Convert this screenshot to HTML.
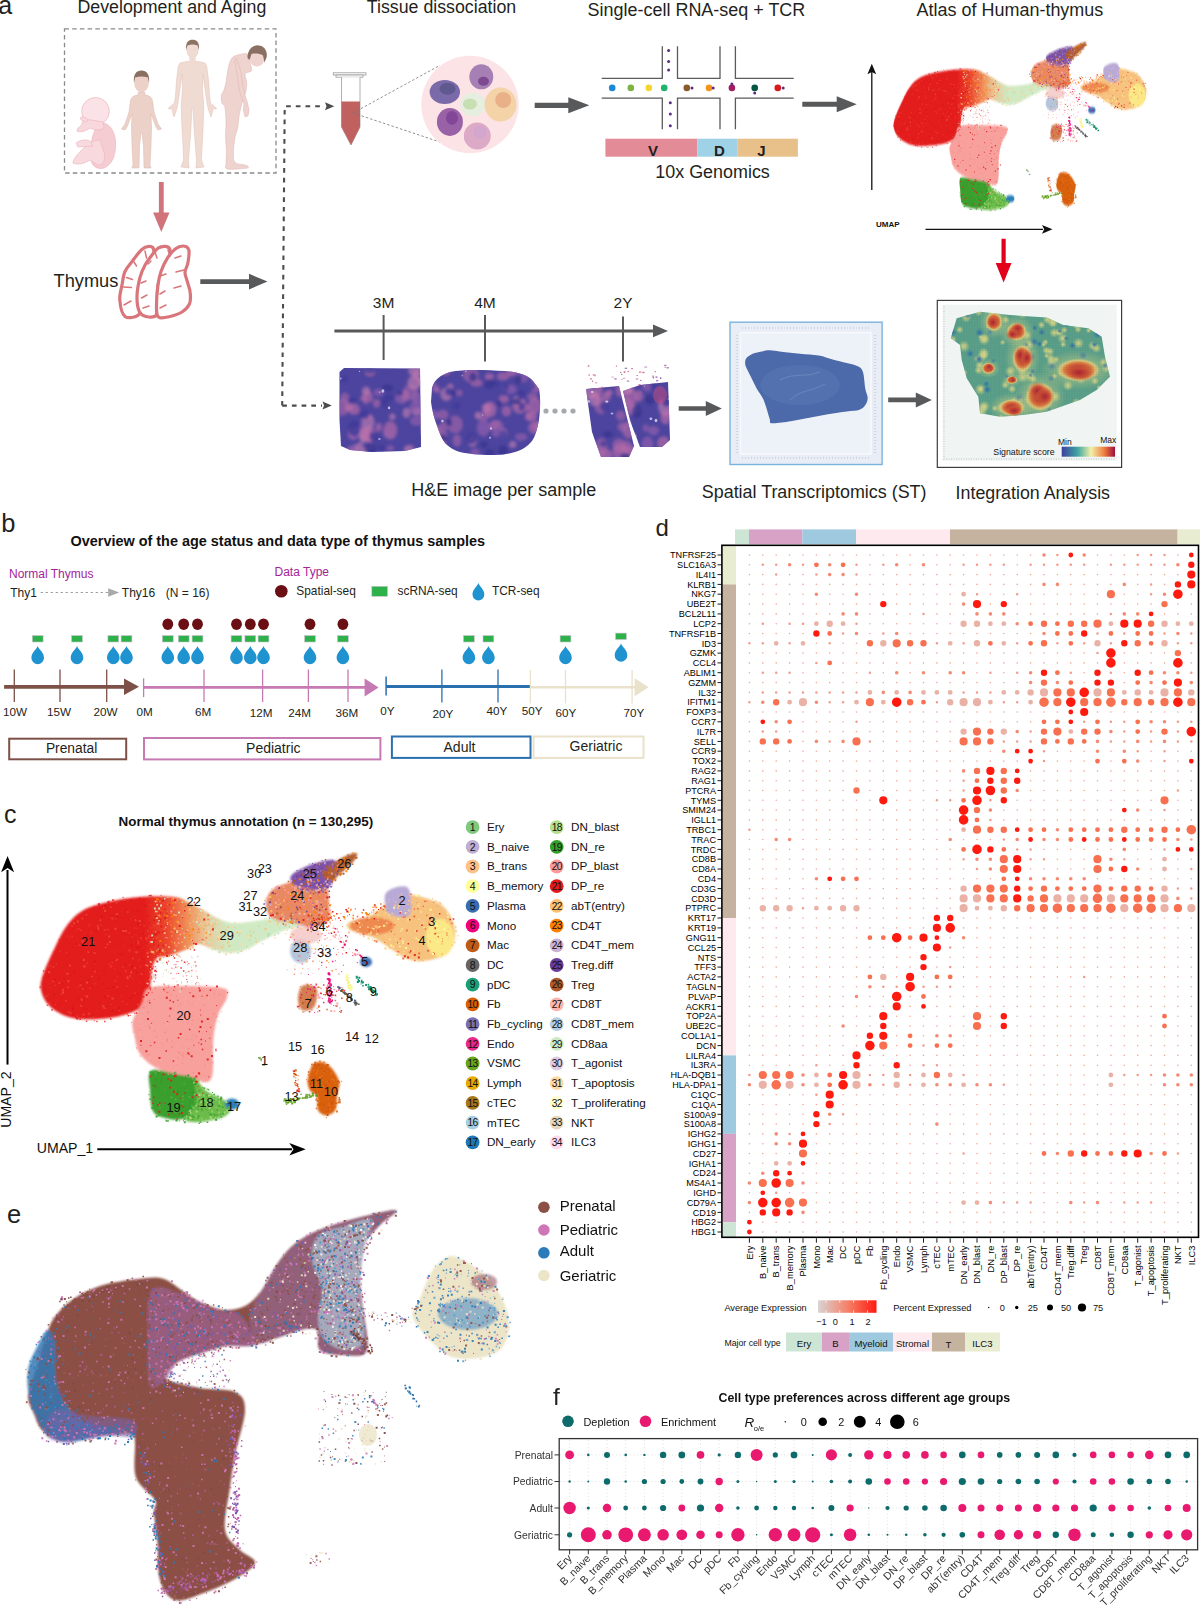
<!DOCTYPE html><html><head><meta charset="utf-8"><title>Thymus figure</title><style>html,body{margin:0;padding:0;background:#fff;overflow:hidden;}svg{display:block;font-family:"Liberation Sans", sans-serif;}</style></head><body>
<svg width="1200" height="1623" viewBox="0 0 1200 1623">
<rect width="1200" height="1623" fill="#fff"/>
<text x="-1.8" y="13.8" font-size="25" text-anchor="start" fill="#231f20" >a</text>
<text x="77.5" y="13.0" font-size="17.5" fill="#231f20" textLength="188.8" lengthAdjust="spacingAndGlyphs" >Development and Aging</text>
<text x="366.8" y="12.8" font-size="17.5" fill="#231f20" textLength="149.4" lengthAdjust="spacingAndGlyphs" >Tissue dissociation</text>
<text x="587.6" y="16.0" font-size="17.5" fill="#231f20" textLength="217.7" lengthAdjust="spacingAndGlyphs" >Single-cell RNA-seq + TCR</text>
<text x="916.6" y="16.3" font-size="17.5" fill="#231f20" textLength="186.7" lengthAdjust="spacingAndGlyphs" >Atlas of Human-thymus</text>
<rect x="64.5" y="28.8" width="211.5" height="144.2" fill="none" stroke="#8a8a8a" stroke-width="1.3" stroke-dasharray="4.5,3.2"/>
<g stroke="#ecb7bf" stroke-width="0.7">
<path d="M99,123 C108,121 115,130 115.5,142 C116,154 113,164 104,168 C97,170 92,166 91,160 C89,150 92,132 99,123 Z" fill="#f5ccd2"/>
<path d="M100,140 C92,140 85,146 80,152 C76,156 73,160 73,163 C77,165 84,164 90,160 L98,165 C103,166 106,160 104,152 Z" fill="#f8dade"/>
<path d="M76,143 C80,140 86,139 90,141 L93,146 C88,146 83,147 78,147 Z" fill="#f8dade"/>
<circle cx="95.5" cy="111.3" r="13.8" fill="#fae2e6"/>
<path d="M84,119 C82,123 81,127 78,128 L77,131 C80,133 86,131 90,128 C94,130 100,131 104,128 L103,122 Z" fill="#f8d8dd"/>
<path d="M80,118 C82,116 86,117 88,120 L86,122 C84,121 81,121 80,118 Z" fill="#f8dade"/>
</g>
<path d="M138.5,92 L144.5,92 L145,95 C149,95.5 152,97 152.5,101 L154,112 L158,124 L161.5,129 L158,130 L156,127 L151,114 L151.5,128 L151,146 L150,165 L151,168 L144,168 L143.5,146 L142,133 L141,133 L139.5,146 L139,168 L132,168 L133,165 L132,146 L131.5,128 L132,114 L127,127 L125,130 L121.5,129 L125,124 L129,112 L130.5,101 C131,97 134,95.5 138,95 Z" fill="#ecd1c9" stroke="#dbb6ab" stroke-width="0.5"/>
<ellipse cx="141.5" cy="83" rx="7.3" ry="9.2" fill="#ecd1c9"/>
<path d="M134,83 C133,74 136.5,70.5 141.5,70.5 C146.5,70.5 150,74 149,83 L147.8,77.5 C144,76 139,76 135.2,77.5 Z" fill="#8a6e60"/>
<path d="M186.5,61.5 L180,63 L178.3,66 L176.5,80 L175.5,95 L174.5,103 L171,106 L168.2,108.5 L170,109 L172,108.5 L172.5,112 L174,117 L175.5,113 L177,108 L178.5,100 L180.5,85 L182,74 L182.5,90 L181.5,101 L181.3,108 L181.8,125 L183,145 L183.6,160 L181,167 L189,168 L188.5,160 L190.5,135 L192,108 L193,108 L194.5,135 L196.5,160 L196,168 L204,167 L201.4,160 L202.2,145 L203.2,125 L203.7,108 L203.5,101 L202.5,90 L203,74 L204.5,85 L206.5,100 L208,108 L209.5,113 L211,117 L212.5,112 L213,108.5 L215,109 L216.7,108.5 L214,106 L210.5,103 L209.5,95 L208.5,80 L206.7,66 L205,63 L198.5,61.5 Z" fill="#f0dbd2" stroke="#e0bfb4" stroke-width="0.5" stroke-linejoin="round"/>
<rect x="189.3" y="56" width="6.4" height="7" fill="#f0dbd2"/>
<ellipse cx="192.5" cy="49.5" rx="6.2" ry="9" fill="#f0dbd2"/>
<path d="M186.2,50 C185.3,42 188.5,39.7 192.5,39.7 C196.8,39.7 199.8,42 198.8,50 L197.6,45.5 C194,44.2 191,44.2 187.4,45.5 Z" fill="#8d7262"/>
<path d="M247.0,53.8 C245.7,53.2 242.8,53.8 240.5,54.3 C238.2,54.8 234.9,55.5 233.0,57.0 C231.1,58.5 230.2,61.1 229.3,63.6 C228.4,66.1 228.1,68.9 227.5,72.0 C226.9,75.1 226.6,79.2 226.0,82.3 C225.4,85.4 224.5,88.5 223.7,90.7 C222.9,92.9 221.7,93.3 221.4,95.3 C221.1,97.3 221.4,100.9 221.9,102.8 C222.4,104.7 224.1,104.6 224.7,106.5 C225.3,108.4 225.4,111.2 225.6,114.0 C225.8,116.8 226.0,119.4 226.0,123.3 C226.0,127.2 225.5,132.6 225.6,137.3 C225.7,142.0 226.4,146.9 226.5,151.3 C226.6,155.7 225.8,160.6 226.0,163.5 C226.2,166.4 224.0,168.2 227.5,169.0 C231.0,169.8 243.9,168.7 247.0,168.1 C250.1,167.5 248.0,166.2 246.0,165.3 C244.0,164.4 237.1,164.8 235.0,162.5 C232.9,160.2 233.5,155.5 233.5,151.3 C233.5,147.1 234.3,141.2 235.0,137.3 C235.7,133.4 237.1,131.1 237.7,128.0 C238.3,124.9 238.1,122.6 238.7,118.7 C239.3,114.8 240.3,109.4 241.5,104.7 C242.7,100.0 245.2,94.4 246.0,90.7 C246.8,87.0 246.7,85.1 246.6,82.3 C246.5,79.5 244.4,75.8 245.2,73.9 C246.0,72.0 250.4,72.4 251.3,71.0 C252.2,69.6 251.3,67.7 250.8,65.5 C250.3,63.3 249.1,60.0 248.5,58.0 C247.9,56.0 248.3,54.4 247.0,53.8 Z" fill="#eed3cf" stroke="#dcb5ae" stroke-width="0.5"/>
<path d="M234.5,60 C237,72 238,82 239.5,90 C241,97 243,101 244,104 L243.3,110 L245,116.8 L248,116 L249,110 L247.5,103 C245,96 243,88 242,80 C241,72 239,64 236,58 Z" fill="#eed3cf" stroke="#dcb5ae" stroke-width="0.5"/>
<ellipse cx="257" cy="58" rx="7.8" ry="8.4" fill="#eed3cf"/>
<path d="M247.5,58 C247.5,49 253,45 258.5,45.4 C264,45.8 267.5,50 266.7,57 L264.5,62.5 L263,55.5 C260,53.5 255,53 251.5,54 L249.5,60 Z" fill="#8a6f62"/>
<path d="M158.9,182 L158.9,212.5 L153.10000000000002,212.5 L161.3,232 L169.5,212.5 L163.70000000000002,212.5 L163.70000000000002,182 Z" fill="#d0737a"/>
<g fill="#fff" stroke="#d9767b" stroke-width="3.2" stroke-linejoin="round">
<path d="M125.0,316.5 C121.9,314.0 120.2,305.2 119.8,300.0 C119.2,294.8 121.1,289.8 122.0,285.0 C122.9,280.2 123.2,275.5 125.0,271.5 C126.8,267.5 129.8,264.6 132.5,261.0 C135.2,257.4 138.8,252.2 141.5,249.8 C144.2,247.3 147.0,246.5 149.0,246.4 C151.0,246.3 152.9,246.9 153.5,249.0 C154.1,251.1 154.1,255.6 152.8,258.8 C151.4,261.9 147.1,264.9 145.2,267.8 C143.4,270.6 142.4,272.5 141.5,276.0 C140.6,279.5 140.4,284.1 140.0,288.8 C139.6,293.4 139.5,299.4 139.2,303.8 C139.0,308.1 140.9,312.9 138.5,315.0 C136.1,317.1 128.1,319.0 125.0,316.5 Z"/>
<path d="M165.5,246.4 C167.5,246.7 169.5,247.1 170.0,249.8 C170.5,252.4 169.8,258.9 168.5,262.5 C167.2,266.1 164.2,267.8 162.5,271.5 C160.8,275.2 158.9,280.2 158.0,285.0 C157.1,289.8 157.5,295.0 157.2,300.0 C157.0,305.0 158.4,312.2 156.5,315.0 C154.6,317.8 148.9,317.1 146.0,316.5 C143.1,315.9 140.8,314.6 139.2,311.2 C137.8,307.9 136.9,301.9 137.0,296.2 C137.1,290.6 138.6,282.8 140.0,277.5 C141.4,272.2 143.2,268.5 145.2,264.8 C147.2,261.0 149.9,257.8 152.0,255.0 C154.1,252.2 155.8,249.7 158.0,248.2 C160.2,246.8 163.5,246.2 165.5,246.4 Z"/>
<path d="M183.5,246.0 C185.8,246.1 188.0,247.0 188.8,249.8 C189.5,252.5 188.6,258.8 188.0,262.5 C187.4,266.2 185.1,269.1 185.0,272.2 C184.9,275.4 186.4,277.9 187.2,281.2 C188.1,284.6 189.9,288.8 190.2,292.5 C190.6,296.2 190.9,300.5 189.5,303.8 C188.1,307.0 185.2,309.9 182.0,312.0 C178.8,314.1 173.9,315.6 170.0,316.5 C166.1,317.4 161.0,318.8 158.8,317.2 C156.5,315.8 156.6,312.9 156.5,307.5 C156.4,302.1 157.2,291.0 158.0,285.0 C158.8,279.0 159.5,275.9 161.0,271.5 C162.5,267.1 164.6,262.5 167.0,258.8 C169.4,255.0 172.5,251.1 175.2,249.0 C178.0,246.9 181.2,245.9 183.5,246.0 Z"/>
</g>
<path d="M126.5,277.5L132.5,279.5M123.5,287L131.5,287.5M124,305L131,301M134,262L136.5,266M145,251L146.5,258M141,283L146,281M141.5,298L147,295M143,308L149,306M148,264L151,261M155,252L157,258M160,276L166,274M160,294L165,291M160,308L166,305M168,250L170,256M175,258L181,256M176,272L184,270M174,288L181,286" stroke="#d9767b" stroke-width="1.5" stroke-linecap="round" fill="none"/>
<text x="53.5" y="287.3" font-size="17.5" fill="#231f20" textLength="64.8" lengthAdjust="spacingAndGlyphs" >Thymus</text>
<path d="M200.3,279.3 L249.0,279.3 L249.0,273.8 L267.5,281.6 L249.0,289.40000000000003 L249.0,283.90000000000003 L200.3,283.90000000000003 Z" fill="#58595b"/>
<path d="M282.2,405.6 L284.7,106.3 L324,106.3" fill="none" stroke="#4d4d4f" stroke-width="2.1" stroke-dasharray="4.7,5"/>
<path d="M282.2,405.6 L322,405.6" fill="none" stroke="#4d4d4f" stroke-width="2.1" stroke-dasharray="4.7,5"/>
<path d="M325,102.3 L334.3,106.3 L325,110.3 L326.5,106.3 Z" fill="#4d4d4f"/>
<path d="M322.5,401.6 L331.8,405.6 L322.5,409.6 L324,405.6 Z" fill="#4d4d4f"/>
<rect x="333.3" y="72.8" width="32.7" height="2.2" fill="#fff" stroke="#9a9a9a" stroke-width="0.8"/>
<rect x="336" y="75" width="27" height="2.2" fill="#fff" stroke="#9a9a9a" stroke-width="0.8"/>
<path d="M341.5,77.2 L341.5,127 L351,145 L360,127 L360,77.2" fill="#fff" stroke="#a8a8a8" stroke-width="0.9"/>
<path d="M341.5,101.5 L360,101.5 L360,127 L351,145 L341.5,127 Z" fill="#c0605f"/>
<path d="M353,113 L440,65.3 M353,113 L449,145" stroke="#777" stroke-width="0.8" stroke-dasharray="2.5,2"/>
<circle cx="470" cy="104.5" r="48.7" fill="#fce4e6"/>
<ellipse cx="444.8" cy="92" rx="15.2" ry="12" fill="#7b6aa9"/>
<ellipse cx="447.5" cy="88.8" rx="8" ry="6" fill="#5e5a8f"/>
<ellipse cx="481.3" cy="76.8" rx="12" ry="12.5" fill="#a680b5"/>
<ellipse cx="483.5" cy="81.3" rx="5.5" ry="4.5" fill="#7d4a92"/>
<ellipse cx="472.8" cy="104.5" rx="12.5" ry="12" fill="#e6efdf"/>
<ellipse cx="469.9" cy="104" rx="7" ry="5.5" fill="#c8deb3"/>
<ellipse cx="500.5" cy="104.5" rx="16" ry="17" fill="#f3d3a7"/>
<ellipse cx="503.2" cy="100" rx="8" ry="8" fill="#eab087"/>
<ellipse cx="449.9" cy="121.9" rx="13" ry="14" fill="#9a62a6"/>
<ellipse cx="452" cy="117.9" rx="6" ry="7" fill="#83479a"/>
<ellipse cx="477.3" cy="136" rx="13.5" ry="13.5" fill="#dcaac6"/>
<ellipse cx="480" cy="132" rx="6.5" ry="6.5" fill="#d3a6cf"/>
<path d="M534.7,102.7 L568.3,102.7 L568.3,97.3 L589.3,105.3 L568.3,113.3 L568.3,107.89999999999999 L534.7,107.89999999999999 Z" fill="#58595b"/>
<g fill="none" stroke="#5b5b5d" stroke-width="1.3">
<path d="M601.7,78.3 L662.3,78.3 L662.3,46.3"/>
<path d="M677.5,46.3 L677.5,78.3 L720,78.3 L720,46.3"/>
<path d="M735.4,46.3 L735.4,78.3 L793.7,78.3"/>
<path d="M601.7,98.1 L662.3,98.1 L662.3,129.2"/>
<path d="M677.5,129.2 L677.5,98.1 L720,98.1 L720,129.2"/>
<path d="M735.4,129.2 L735.4,98.1 L793.7,98.1"/>
</g>
<circle cx="612.2" cy="87.9" r="3.3" fill="#1a8ad4"/>
<circle cx="630.8" cy="87.9" r="3.3" fill="#7cb342"/>
<circle cx="648.8" cy="87.9" r="3.3" fill="#f7d531"/>
<circle cx="664.2" cy="87.9" r="3.3" fill="#1db36b"/>
<circle cx="686.8" cy="87.9" r="3.3" fill="#8b5a2b"/>
<circle cx="709" cy="87.9" r="3.3" fill="#f7941d"/>
<circle cx="731.9" cy="87.9" r="3.3" fill="#9e1f63"/>
<circle cx="754.7" cy="87.9" r="3.3" fill="#00563f"/>
<circle cx="777.8" cy="87.9" r="3.3" fill="#d7191c"/>
<circle cx="692" cy="87.9" r="1.5" fill="#5b2c83"/>
<circle cx="713.2" cy="87.9" r="1.5" fill="#5b2c83"/>
<circle cx="731.9" cy="84.1" r="1.5" fill="#5b2c83"/>
<circle cx="754.7" cy="93" r="1.5" fill="#5b2c83"/>
<circle cx="783.2" cy="87.9" r="1.5" fill="#5b2c83"/>
<circle cx="668.6" cy="50.5" r="1.5" fill="#5b2c83"/>
<circle cx="668.6" cy="61.5" r="1.5" fill="#5b2c83"/>
<circle cx="668.6" cy="70.1" r="1.5" fill="#5b2c83"/>
<circle cx="670.3" cy="102.8" r="1.5" fill="#5b2c83"/>
<circle cx="670.3" cy="114" r="1.5" fill="#5b2c83"/>
<circle cx="670.3" cy="125.7" r="1.5" fill="#5b2c83"/>
<rect x="605.4" y="138.7" width="91.9" height="18" fill="#e38b96"/>
<rect x="697.3" y="138.7" width="40.4" height="18" fill="#9fd2e6"/>
<rect x="737.7" y="138.7" width="60.2" height="18" fill="#e8c08a"/>
<text x="653.0" y="155.5" font-size="15" text-anchor="middle" font-weight="bold" fill="#231f20" >V</text>
<text x="719.5" y="155.5" font-size="15" text-anchor="middle" font-weight="bold" fill="#231f20" >D</text>
<text x="761.5" y="155.5" font-size="15" text-anchor="middle" font-weight="bold" fill="#231f20" >J</text>
<text x="655.3" y="177.5" font-size="17.5" fill="#231f20" textLength="114.5" lengthAdjust="spacingAndGlyphs" >10x Genomics</text>
<path d="M802.3,101.7 L836.7,101.7 L836.7,96.2 L856.7,104.2 L836.7,112.2 L836.7,106.7 L802.3,106.7 Z" fill="#58595b"/>
<path d="M871.8,190 L871.8,72" stroke="#111" stroke-width="1.3"/>
<path d="M867.4,74.3 L871.8,63.8 L876.2,74.3 L871.8,72 Z" fill="#111"/>
<path d="M925.5,229.3 L1043,229.3" stroke="#111" stroke-width="1.3"/>
<path d="M1042,224.9 L1052.5,229.3 L1042,233.7 L1044.2,229.3 Z" fill="#111"/>
<text x="876.0" y="227.0" font-size="8" text-anchor="start" font-weight="bold" fill="#111" >UMAP</text>
<path d="M1001.5,238.75 L1001.5,262.9 L995.7,262.9 L1003.6,282.5 L1011.5,262.9 L1005.7,262.9 L1005.7,238.75 Z" fill="#e2001a"/>
<path d="M334.4,329.4 L653,329.4 L653,324.59999999999997 L668,330.9 L653,337.2 L653,332.4 L334.4,332.4 Z" fill="#58595b"/>
<path d="M383.6,315 L383.6,360" stroke="#58595b" stroke-width="2"/>
<text x="383.6" y="307.5" font-size="15.5" text-anchor="middle" fill="#231f20" >3M</text>
<path d="M485,315 L485,361.5" stroke="#58595b" stroke-width="2"/>
<text x="485.0" y="307.5" font-size="15.5" text-anchor="middle" fill="#231f20" >4M</text>
<path d="M623,316.5 L623,361.5" stroke="#58595b" stroke-width="2"/>
<text x="623.0" y="307.5" font-size="15.5" text-anchor="middle" fill="#231f20" >2Y</text>
<defs>
<clipPath id="che1"><path d="M339.5,372 L344,368 L420,368.5 L421,447 L405,451 L372,452 L350,450 L341,446 L339.5,420 Z"/></clipPath>
<clipPath id="che2"><path d="M432,388 C434,380 440,375 450,372 C465,369 485,370 505,371 C518,372 528,375 533,381 L539,389 C541,400 540,410 539,420 C537,430 535,437 532,441 C527,447 522,450 515,452 C505,455 497,455 490,455 C480,455 468,454 460,452 C453,450 449,447 445,443 C441,437 439,432 437,426 C434,418 432,410 431,402 Z"/></clipPath>
<clipPath id="che3a"><path d="M586,389 L619,386 L634,446 L629,457 L601,457 L592,432 Z"/></clipPath>
<clipPath id="che3b"><path d="M623,391 L640,385 L668,382 L670,440 L662,447 L640,447 L630,420 Z"/></clipPath>
<filter id="blr1"><feGaussianBlur stdDeviation="1.6"/></filter>
</defs>
<path d="M339.5,372 L344,368 L420,368.5 L421,447 L405,451 L372,452 L350,450 L341,446 L339.5,420 Z" fill="#4c449e"/>
<g clip-path="url(#che1)"><g filter="url(#blr1)">
<ellipse cx="390.3" cy="430.3" rx="7.0" ry="9.4" fill="#c070a8" opacity="0.62"/><ellipse cx="341.9" cy="407.1" rx="7.7" ry="8.6" fill="#a865a8" opacity="0.62"/><ellipse cx="348.7" cy="407.4" rx="4.2" ry="4.4" fill="#c070a8" opacity="0.62"/><ellipse cx="359.8" cy="429.4" rx="5.0" ry="3.8" fill="#9a62ae" opacity="0.62"/><ellipse cx="352.5" cy="435.0" rx="3.7" ry="4.0" fill="#a865a8" opacity="0.62"/><ellipse cx="350.3" cy="449.7" rx="3.0" ry="3.7" fill="#a865a8" opacity="0.62"/><ellipse cx="410.6" cy="392.3" rx="7.8" ry="8.1" fill="#a865a8" opacity="0.62"/><ellipse cx="354.3" cy="449.4" rx="4.0" ry="5.5" fill="#9a62ae" opacity="0.62"/><ellipse cx="363.9" cy="398.3" rx="3.8" ry="2.7" fill="#b86aa8" opacity="0.62"/><ellipse cx="366.5" cy="436.7" rx="5.9" ry="6.4" fill="#c77fb2" opacity="0.62"/><ellipse cx="344.9" cy="397.8" rx="4.5" ry="5.2" fill="#a865a8" opacity="0.62"/><ellipse cx="378.7" cy="427.2" rx="3.3" ry="4.5" fill="#b86aa8" opacity="0.62"/><ellipse cx="416.9" cy="398.0" rx="5.0" ry="5.2" fill="#9a62ae" opacity="0.62"/><ellipse cx="369.3" cy="416.6" rx="3.0" ry="1.9" fill="#a865a8" opacity="0.62"/><ellipse cx="390.3" cy="448.2" rx="3.6" ry="2.9" fill="#9a62ae" opacity="0.62"/><ellipse cx="367.6" cy="397.8" rx="5.6" ry="6.9" fill="#b86aa8" opacity="0.62"/><ellipse cx="387.6" cy="433.6" rx="4.8" ry="4.0" fill="#9a62ae" opacity="0.62"/><ellipse cx="416.6" cy="375.7" rx="4.7" ry="5.1" fill="#a865a8" opacity="0.62"/><ellipse cx="367.2" cy="445.6" rx="5.7" ry="4.9" fill="#c77fb2" opacity="0.62"/><ellipse cx="364.5" cy="435.1" rx="6.1" ry="7.2" fill="#c77fb2" opacity="0.62"/><ellipse cx="420.7" cy="381.6" rx="3.2" ry="4.5" fill="#c070a8" opacity="0.62"/><ellipse cx="414.8" cy="370.7" rx="6.7" ry="5.9" fill="#c77fb2" opacity="0.62"/><ellipse cx="376.6" cy="403.4" rx="3.3" ry="4.4" fill="#b86aa8" opacity="0.62"/><ellipse cx="404.8" cy="396.1" rx="4.0" ry="5.6" fill="#c070a8" opacity="0.62"/><ellipse cx="416.9" cy="421.0" rx="6.9" ry="4.8" fill="#9a62ae" opacity="0.62"/><ellipse cx="369.9" cy="372.9" rx="5.1" ry="3.6" fill="#c070a8" opacity="0.62"/><ellipse cx="409.0" cy="450.0" rx="5.3" ry="5.2" fill="#c77fb2" opacity="0.62"/><ellipse cx="378.5" cy="392.4" rx="5.0" ry="3.6" fill="#9a62ae" opacity="0.62"/><ellipse cx="406.5" cy="412.7" rx="3.9" ry="5.3" fill="#c77fb2" opacity="0.62"/><ellipse cx="354.2" cy="409.3" rx="5.6" ry="5.8" fill="#c070a8" opacity="0.62"/><ellipse cx="368.9" cy="434.0" rx="6.9" ry="7.9" fill="#b86aa8" opacity="0.62"/><ellipse cx="401.4" cy="398.5" rx="6.5" ry="5.4" fill="#9a62ae" opacity="0.62"/><ellipse cx="361.1" cy="450.4" rx="6.6" ry="9.0" fill="#c77fb2" opacity="0.62"/><ellipse cx="392.4" cy="416.8" rx="3.1" ry="3.2" fill="#c77fb2" opacity="0.62"/><ellipse cx="366.1" cy="391.0" rx="4.4" ry="4.4" fill="#c77fb2" opacity="0.62"/><ellipse cx="367.9" cy="422.1" rx="6.7" ry="8.4" fill="#c77fb2" opacity="0.62"/><ellipse cx="414.7" cy="382.5" rx="7.3" ry="7.0" fill="#c77fb2" opacity="0.62"/><ellipse cx="417.5" cy="411.5" rx="5.6" ry="4.1" fill="#c77fb2" opacity="0.62"/><ellipse cx="415.9" cy="408.1" rx="6.5" ry="7.6" fill="#9a62ae" opacity="0.62"/><ellipse cx="353.5" cy="433.6" rx="5.9" ry="6.7" fill="#9a62ae" opacity="0.62"/>
<ellipse cx="364.2" cy="414.5" rx="5.5" ry="4.5" fill="#3e3a98" opacity="0.8"/><ellipse cx="355.4" cy="417.3" rx="4.7" ry="3.5" fill="#4a44a0" opacity="0.8"/><ellipse cx="354.2" cy="428.4" rx="6.0" ry="8.2" fill="#3e3a98" opacity="0.8"/><ellipse cx="343.9" cy="379.2" rx="3.6" ry="2.7" fill="#3e3a98" opacity="0.8"/><ellipse cx="384.2" cy="402.9" rx="3.7" ry="4.2" fill="#3e3a98" opacity="0.8"/><ellipse cx="387.6" cy="388.0" rx="5.7" ry="3.4" fill="#37348f" opacity="0.8"/><ellipse cx="417.1" cy="439.9" rx="5.5" ry="6.4" fill="#4a44a0" opacity="0.8"/><ellipse cx="370.0" cy="371.0" rx="4.6" ry="3.1" fill="#4a44a0" opacity="0.8"/><ellipse cx="381.3" cy="447.9" rx="3.5" ry="3.1" fill="#3e3a98" opacity="0.8"/><ellipse cx="373.7" cy="436.3" rx="4.7" ry="4.3" fill="#3e3a98" opacity="0.8"/><ellipse cx="352.3" cy="400.2" rx="4.2" ry="3.2" fill="#3e3a98" opacity="0.8"/><ellipse cx="389.1" cy="397.5" rx="5.6" ry="3.4" fill="#3e3a98" opacity="0.8"/><ellipse cx="366.1" cy="445.0" rx="4.4" ry="3.8" fill="#4a44a0" opacity="0.8"/><ellipse cx="370.1" cy="404.3" rx="3.3" ry="2.7" fill="#4a44a0" opacity="0.8"/><ellipse cx="370.5" cy="448.7" rx="5.7" ry="6.1" fill="#37348f" opacity="0.8"/><ellipse cx="399.9" cy="393.3" rx="3.4" ry="2.1" fill="#37348f" opacity="0.8"/>
</g>
<ellipse cx="379.6" cy="392.1" rx="1.0" ry="0.7" fill="#c9c4ea" opacity="0.8"/><ellipse cx="359.5" cy="371.4" rx="0.7" ry="0.7" fill="#c9c4ea" opacity="0.8"/><ellipse cx="382.9" cy="391.0" rx="1.4" ry="1.8" fill="#dfe0f5" opacity="0.8"/><ellipse cx="379.4" cy="438.9" rx="1.2" ry="1.0" fill="#c9c4ea" opacity="0.8"/><ellipse cx="389.1" cy="407.9" rx="1.2" ry="1.3" fill="#dfe0f5" opacity="0.8"/><ellipse cx="340.8" cy="378.6" rx="0.9" ry="1.0" fill="#c9c4ea" opacity="0.8"/>
</g>
<path d="M432,388 C434,380 440,375 450,372 C465,369 485,370 505,371 C518,372 528,375 533,381 L539,389 C541,400 540,410 539,420 C537,430 535,437 532,441 C527,447 522,450 515,452 C505,455 497,455 490,455 C480,455 468,454 460,452 C453,450 449,447 445,443 C441,437 439,432 437,426 C434,418 432,410 431,402 Z" fill="#4c449e"/>
<g clip-path="url(#che2)"><g filter="url(#blr1)">
<ellipse cx="511.4" cy="371.3" rx="4.7" ry="5.4" fill="#c070a8" opacity="0.62"/><ellipse cx="445.6" cy="369.2" rx="5.8" ry="6.6" fill="#b86aa8" opacity="0.62"/><ellipse cx="528.7" cy="415.9" rx="3.1" ry="3.8" fill="#9a62ae" opacity="0.62"/><ellipse cx="496.4" cy="428.3" rx="7.8" ry="8.7" fill="#9a62ae" opacity="0.62"/><ellipse cx="483.3" cy="427.7" rx="6.6" ry="8.7" fill="#9a62ae" opacity="0.62"/><ellipse cx="522.3" cy="374.7" rx="7.2" ry="8.3" fill="#9a62ae" opacity="0.62"/><ellipse cx="495.0" cy="424.8" rx="5.4" ry="4.6" fill="#a865a8" opacity="0.62"/><ellipse cx="483.6" cy="416.2" rx="5.5" ry="4.7" fill="#a865a8" opacity="0.62"/><ellipse cx="477.8" cy="415.6" rx="3.2" ry="3.8" fill="#c77fb2" opacity="0.62"/><ellipse cx="521.2" cy="437.1" rx="6.3" ry="3.9" fill="#9a62ae" opacity="0.62"/><ellipse cx="538.7" cy="454.9" rx="6.5" ry="4.2" fill="#b86aa8" opacity="0.62"/><ellipse cx="455.1" cy="424.5" rx="7.8" ry="9.1" fill="#a865a8" opacity="0.62"/><ellipse cx="540.3" cy="429.7" rx="5.2" ry="3.9" fill="#a865a8" opacity="0.62"/><ellipse cx="476.5" cy="382.9" rx="6.1" ry="3.9" fill="#b86aa8" opacity="0.62"/><ellipse cx="503.6" cy="433.1" rx="4.4" ry="4.6" fill="#b86aa8" opacity="0.62"/><ellipse cx="512.7" cy="444.5" rx="3.7" ry="3.5" fill="#c77fb2" opacity="0.62"/><ellipse cx="506.4" cy="411.1" rx="4.8" ry="5.4" fill="#b86aa8" opacity="0.62"/><ellipse cx="446.2" cy="394.3" rx="5.8" ry="6.7" fill="#c77fb2" opacity="0.62"/><ellipse cx="531.1" cy="416.7" rx="6.1" ry="4.9" fill="#c070a8" opacity="0.62"/><ellipse cx="456.9" cy="440.6" rx="4.4" ry="6.1" fill="#a865a8" opacity="0.62"/><ellipse cx="526.0" cy="408.0" rx="4.9" ry="3.5" fill="#b86aa8" opacity="0.62"/><ellipse cx="503.1" cy="376.3" rx="6.3" ry="4.3" fill="#b86aa8" opacity="0.62"/><ellipse cx="486.7" cy="408.0" rx="4.9" ry="4.8" fill="#c77fb2" opacity="0.62"/><ellipse cx="442.8" cy="414.6" rx="5.7" ry="5.2" fill="#a865a8" opacity="0.62"/><ellipse cx="534.9" cy="405.9" rx="7.0" ry="8.4" fill="#b86aa8" opacity="0.62"/><ellipse cx="538.0" cy="426.2" rx="7.1" ry="5.1" fill="#c070a8" opacity="0.62"/><ellipse cx="472.3" cy="440.9" rx="4.4" ry="6.0" fill="#c77fb2" opacity="0.62"/><ellipse cx="518.6" cy="401.5" rx="6.6" ry="5.9" fill="#c77fb2" opacity="0.62"/><ellipse cx="519.5" cy="406.3" rx="7.3" ry="7.4" fill="#c070a8" opacity="0.62"/><ellipse cx="540.2" cy="387.5" rx="3.9" ry="2.5" fill="#b86aa8" opacity="0.62"/><ellipse cx="434.6" cy="386.4" rx="3.2" ry="4.2" fill="#9a62ae" opacity="0.62"/><ellipse cx="503.7" cy="399.0" rx="5.1" ry="4.3" fill="#c070a8" opacity="0.62"/><ellipse cx="532.4" cy="396.8" rx="5.3" ry="4.0" fill="#a865a8" opacity="0.62"/><ellipse cx="438.8" cy="443.7" rx="7.3" ry="7.2" fill="#c070a8" opacity="0.62"/><ellipse cx="458.9" cy="392.9" rx="3.8" ry="3.2" fill="#a865a8" opacity="0.62"/><ellipse cx="434.6" cy="446.1" rx="4.7" ry="5.7" fill="#c77fb2" opacity="0.62"/><ellipse cx="534.2" cy="428.1" rx="6.4" ry="6.2" fill="#a865a8" opacity="0.62"/><ellipse cx="444.0" cy="426.5" rx="4.5" ry="5.1" fill="#a865a8" opacity="0.62"/><ellipse cx="434.7" cy="430.5" rx="5.9" ry="6.6" fill="#c070a8" opacity="0.62"/><ellipse cx="475.1" cy="452.7" rx="4.8" ry="4.1" fill="#9a62ae" opacity="0.62"/><ellipse cx="470.8" cy="374.8" rx="8.0" ry="7.8" fill="#a865a8" opacity="0.62"/><ellipse cx="450.3" cy="387.0" rx="3.2" ry="3.5" fill="#c77fb2" opacity="0.62"/><ellipse cx="431.7" cy="374.2" rx="6.9" ry="6.4" fill="#b86aa8" opacity="0.62"/><ellipse cx="434.7" cy="440.9" rx="7.2" ry="7.6" fill="#b86aa8" opacity="0.62"/><ellipse cx="509.8" cy="389.4" rx="7.0" ry="4.7" fill="#9a62ae" opacity="0.62"/><ellipse cx="436.9" cy="389.9" rx="3.3" ry="3.0" fill="#b86aa8" opacity="0.62"/><ellipse cx="436.3" cy="440.7" rx="5.2" ry="5.8" fill="#b86aa8" opacity="0.62"/><ellipse cx="535.5" cy="385.7" rx="6.5" ry="7.2" fill="#a865a8" opacity="0.62"/><ellipse cx="489.4" cy="376.3" rx="4.6" ry="3.1" fill="#c070a8" opacity="0.62"/><ellipse cx="539.4" cy="382.9" rx="3.4" ry="4.0" fill="#c070a8" opacity="0.62"/><ellipse cx="432.9" cy="415.4" rx="5.4" ry="5.7" fill="#9a62ae" opacity="0.62"/><ellipse cx="488.5" cy="380.4" rx="3.1" ry="3.7" fill="#9a62ae" opacity="0.62"/><ellipse cx="529.1" cy="455.0" rx="5.8" ry="4.1" fill="#9a62ae" opacity="0.62"/><ellipse cx="440.6" cy="435.4" rx="7.1" ry="6.0" fill="#a865a8" opacity="0.62"/><ellipse cx="490.0" cy="409.6" rx="6.5" ry="8.0" fill="#c070a8" opacity="0.62"/>
<ellipse cx="504.3" cy="392.7" rx="4.2" ry="3.4" fill="#4a44a0" opacity="0.8"/><ellipse cx="453.0" cy="393.6" rx="3.8" ry="2.6" fill="#37348f" opacity="0.8"/><ellipse cx="515.6" cy="401.7" rx="5.2" ry="3.1" fill="#37348f" opacity="0.8"/><ellipse cx="503.0" cy="434.3" rx="4.5" ry="4.3" fill="#4a44a0" opacity="0.8"/><ellipse cx="503.1" cy="451.1" rx="5.0" ry="5.9" fill="#37348f" opacity="0.8"/><ellipse cx="442.7" cy="438.3" rx="4.5" ry="3.8" fill="#37348f" opacity="0.8"/><ellipse cx="449.6" cy="391.6" rx="4.9" ry="4.0" fill="#3e3a98" opacity="0.8"/><ellipse cx="490.7" cy="432.6" rx="2.6" ry="1.8" fill="#3e3a98" opacity="0.8"/><ellipse cx="521.9" cy="406.5" rx="3.4" ry="4.6" fill="#3e3a98" opacity="0.8"/><ellipse cx="456.4" cy="405.9" rx="3.8" ry="3.3" fill="#3e3a98" opacity="0.8"/><ellipse cx="449.0" cy="422.3" rx="3.1" ry="4.3" fill="#37348f" opacity="0.8"/><ellipse cx="489.3" cy="383.7" rx="5.0" ry="4.8" fill="#37348f" opacity="0.8"/><ellipse cx="518.4" cy="379.2" rx="3.6" ry="4.8" fill="#37348f" opacity="0.8"/><ellipse cx="496.6" cy="383.8" rx="2.7" ry="3.0" fill="#3e3a98" opacity="0.8"/><ellipse cx="489.6" cy="452.4" rx="4.6" ry="3.1" fill="#37348f" opacity="0.8"/><ellipse cx="506.4" cy="386.8" rx="2.5" ry="3.3" fill="#3e3a98" opacity="0.8"/><ellipse cx="484.0" cy="444.8" rx="3.9" ry="3.0" fill="#37348f" opacity="0.8"/><ellipse cx="521.4" cy="395.1" rx="4.3" ry="5.2" fill="#3e3a98" opacity="0.8"/><ellipse cx="471.3" cy="438.6" rx="5.3" ry="6.0" fill="#3e3a98" opacity="0.8"/><ellipse cx="499.0" cy="403.5" rx="3.0" ry="3.8" fill="#37348f" opacity="0.8"/><ellipse cx="473.0" cy="377.1" rx="3.9" ry="4.7" fill="#37348f" opacity="0.8"/><ellipse cx="530.0" cy="386.1" rx="5.3" ry="4.5" fill="#4a44a0" opacity="0.8"/>
</g>
<ellipse cx="482.7" cy="414.9" rx="0.7" ry="0.5" fill="#dfe0f5" opacity="0.8"/><ellipse cx="442.4" cy="421.1" rx="1.2" ry="1.4" fill="#dfe0f5" opacity="0.8"/><ellipse cx="465.9" cy="371.3" rx="0.9" ry="0.8" fill="#c9c4ea" opacity="0.8"/><ellipse cx="491.0" cy="428.4" rx="1.0" ry="1.2" fill="#dfe0f5" opacity="0.8"/><ellipse cx="490.0" cy="437.7" rx="0.9" ry="1.0" fill="#dfe0f5" opacity="0.8"/><ellipse cx="462.3" cy="375.7" rx="0.7" ry="0.6" fill="#c9c4ea" opacity="0.8"/>
</g>
<path d="M586,389 L619,386 L634,446 L629,457 L601,457 L592,432 Z" fill="#4c449e"/>
<g clip-path="url(#che3a)"><g filter="url(#blr1)">
<ellipse cx="600.7" cy="452.0" rx="4.4" ry="5.1" fill="#b86aa8" opacity="0.62"/><ellipse cx="587.8" cy="392.3" rx="7.8" ry="6.6" fill="#c77fb2" opacity="0.62"/><ellipse cx="619.0" cy="445.5" rx="6.7" ry="7.3" fill="#a865a8" opacity="0.62"/><ellipse cx="609.2" cy="392.5" rx="3.6" ry="3.1" fill="#c070a8" opacity="0.62"/><ellipse cx="606.3" cy="454.8" rx="6.4" ry="5.7" fill="#c070a8" opacity="0.62"/><ellipse cx="629.2" cy="450.6" rx="6.1" ry="5.5" fill="#b86aa8" opacity="0.62"/><ellipse cx="626.5" cy="449.1" rx="6.4" ry="8.9" fill="#a865a8" opacity="0.62"/><ellipse cx="628.6" cy="401.1" rx="4.5" ry="3.7" fill="#c070a8" opacity="0.62"/><ellipse cx="589.7" cy="453.5" rx="3.4" ry="3.1" fill="#a865a8" opacity="0.62"/><ellipse cx="596.8" cy="390.5" rx="5.8" ry="7.4" fill="#c070a8" opacity="0.62"/><ellipse cx="620.9" cy="415.6" rx="5.1" ry="5.2" fill="#a865a8" opacity="0.62"/><ellipse cx="600.5" cy="405.9" rx="6.0" ry="8.3" fill="#a865a8" opacity="0.62"/><ellipse cx="606.2" cy="396.6" rx="4.5" ry="4.7" fill="#c070a8" opacity="0.62"/><ellipse cx="594.8" cy="399.5" rx="6.0" ry="6.7" fill="#c77fb2" opacity="0.62"/><ellipse cx="621.0" cy="390.4" rx="5.4" ry="6.9" fill="#b86aa8" opacity="0.62"/><ellipse cx="601.3" cy="446.4" rx="6.2" ry="8.4" fill="#a865a8" opacity="0.62"/><ellipse cx="628.9" cy="429.7" rx="7.0" ry="8.9" fill="#b86aa8" opacity="0.62"/><ellipse cx="595.3" cy="397.1" rx="3.5" ry="2.5" fill="#c070a8" opacity="0.62"/><ellipse cx="622.5" cy="426.8" rx="5.2" ry="4.5" fill="#a865a8" opacity="0.62"/><ellipse cx="620.2" cy="451.6" rx="7.8" ry="8.6" fill="#b86aa8" opacity="0.62"/>
<ellipse cx="603.5" cy="443.8" rx="3.2" ry="2.7" fill="#3e3a98" opacity="0.8"/><ellipse cx="608.0" cy="434.3" rx="5.1" ry="3.4" fill="#37348f" opacity="0.8"/><ellipse cx="631.2" cy="419.1" rx="2.5" ry="3.5" fill="#37348f" opacity="0.8"/><ellipse cx="592.4" cy="386.2" rx="3.8" ry="3.4" fill="#4a44a0" opacity="0.8"/><ellipse cx="589.5" cy="439.9" rx="5.0" ry="4.2" fill="#3e3a98" opacity="0.8"/><ellipse cx="624.9" cy="456.9" rx="5.1" ry="3.9" fill="#37348f" opacity="0.8"/><ellipse cx="604.3" cy="406.6" rx="4.2" ry="4.9" fill="#3e3a98" opacity="0.8"/><ellipse cx="613.6" cy="407.0" rx="3.7" ry="4.7" fill="#4a44a0" opacity="0.8"/>
</g>
<ellipse cx="606.8" cy="401.6" rx="1.5" ry="1.2" fill="#dfe0f5" opacity="0.8"/><ellipse cx="593.0" cy="454.7" rx="1.1" ry="1.0" fill="#dfe0f5" opacity="0.8"/><ellipse cx="612.0" cy="413.4" rx="1.4" ry="1.0" fill="#c9c4ea" opacity="0.8"/><ellipse cx="592.2" cy="391.9" rx="1.3" ry="1.0" fill="#dfe0f5" opacity="0.8"/><ellipse cx="587.0" cy="425.9" rx="1.5" ry="1.9" fill="#dfe0f5" opacity="0.8"/><ellipse cx="588.6" cy="401.5" rx="1.5" ry="1.4" fill="#c9c4ea" opacity="0.8"/>
</g>
<path d="M623,391 L640,385 L668,382 L670,440 L662,447 L640,447 L630,420 Z" fill="#4c449e"/>
<g clip-path="url(#che3b)"><g filter="url(#blr1)">
<ellipse cx="647.4" cy="444.1" rx="6.0" ry="7.6" fill="#9a62ae" opacity="0.62"/><ellipse cx="646.9" cy="385.4" rx="5.0" ry="6.1" fill="#9a62ae" opacity="0.62"/><ellipse cx="663.4" cy="443.1" rx="6.3" ry="6.9" fill="#c070a8" opacity="0.62"/><ellipse cx="624.7" cy="383.5" rx="6.8" ry="6.4" fill="#9a62ae" opacity="0.62"/><ellipse cx="666.0" cy="406.6" rx="8.0" ry="9.6" fill="#c77fb2" opacity="0.62"/><ellipse cx="630.0" cy="432.8" rx="5.1" ry="7.0" fill="#c77fb2" opacity="0.62"/><ellipse cx="633.2" cy="409.4" rx="4.4" ry="4.2" fill="#c77fb2" opacity="0.62"/><ellipse cx="623.1" cy="423.2" rx="6.8" ry="8.3" fill="#b86aa8" opacity="0.62"/><ellipse cx="626.5" cy="406.8" rx="7.5" ry="9.8" fill="#a865a8" opacity="0.62"/><ellipse cx="653.5" cy="430.6" rx="5.5" ry="4.7" fill="#9a62ae" opacity="0.62"/><ellipse cx="629.4" cy="397.4" rx="7.6" ry="10.3" fill="#b86aa8" opacity="0.62"/><ellipse cx="623.7" cy="434.8" rx="3.4" ry="2.4" fill="#c77fb2" opacity="0.62"/><ellipse cx="638.7" cy="395.9" rx="4.5" ry="5.9" fill="#c070a8" opacity="0.62"/><ellipse cx="627.2" cy="389.2" rx="6.2" ry="5.6" fill="#c77fb2" opacity="0.62"/><ellipse cx="665.6" cy="417.6" rx="5.2" ry="6.8" fill="#c070a8" opacity="0.62"/><ellipse cx="629.6" cy="383.1" rx="3.1" ry="2.8" fill="#a865a8" opacity="0.62"/><ellipse cx="645.6" cy="427.9" rx="3.0" ry="3.7" fill="#9a62ae" opacity="0.62"/>
<ellipse cx="633.9" cy="428.6" rx="3.3" ry="2.8" fill="#4a44a0" opacity="0.8"/><ellipse cx="634.2" cy="427.0" rx="5.6" ry="6.8" fill="#4a44a0" opacity="0.8"/><ellipse cx="637.0" cy="411.3" rx="4.8" ry="6.4" fill="#37348f" opacity="0.8"/><ellipse cx="649.7" cy="399.9" rx="4.5" ry="4.9" fill="#37348f" opacity="0.8"/><ellipse cx="669.4" cy="401.6" rx="3.1" ry="4.1" fill="#3e3a98" opacity="0.8"/><ellipse cx="653.3" cy="385.6" rx="3.2" ry="3.6" fill="#3e3a98" opacity="0.8"/><ellipse cx="666.5" cy="401.4" rx="4.4" ry="5.6" fill="#3e3a98" opacity="0.8"/>
</g>
<ellipse cx="644.4" cy="386.1" rx="0.6" ry="0.6" fill="#c9c4ea" opacity="0.8"/><ellipse cx="625.0" cy="430.2" rx="0.7" ry="0.9" fill="#c9c4ea" opacity="0.8"/><ellipse cx="668.5" cy="399.1" rx="0.8" ry="1.0" fill="#dfe0f5" opacity="0.8"/><ellipse cx="635.3" cy="435.9" rx="1.2" ry="1.1" fill="#dfe0f5" opacity="0.8"/><ellipse cx="656.0" cy="420.5" rx="1.4" ry="1.8" fill="#dfe0f5" opacity="0.8"/><ellipse cx="650.9" cy="418.8" rx="1.4" ry="1.2" fill="#dfe0f5" opacity="0.8"/>
</g>
<rect x="587.8" y="365.0" width="1.6" height="1.8" fill="#d0608a" opacity="0.7"/>
<rect x="590.2" y="378.1" width="1.5" height="1.4" fill="#b0306a" opacity="0.7"/>
<rect x="622.9" y="377.8" width="2.4" height="0.9" fill="#d0608a" opacity="0.7"/>
<rect x="592.2" y="380.4" width="0.9" height="1.7" fill="#b0306a" opacity="0.7"/>
<rect x="611.6" y="376.6" width="2.0" height="0.9" fill="#d0608a" opacity="0.7"/>
<rect x="639.1" y="384.2" width="1.5" height="1.2" fill="#b0306a" opacity="0.7"/>
<rect x="623.7" y="371.2" width="1.7" height="1.9" fill="#c04a7a" opacity="0.7"/>
<rect x="624.7" y="367.7" width="2.4" height="1.2" fill="#6a3c9a" opacity="0.7"/>
<rect x="636.5" y="375.0" width="1.4" height="0.9" fill="#6a3c9a" opacity="0.7"/>
<rect x="621.4" y="378.9" width="1.1" height="1.0" fill="#8a4aa0" opacity="0.7"/>
<rect x="626.8" y="380.5" width="2.4" height="1.2" fill="#8a4aa0" opacity="0.7"/>
<rect x="588.4" y="374.4" width="1.6" height="1.4" fill="#d0608a" opacity="0.7"/>
<rect x="659.9" y="377.3" width="1.5" height="1.7" fill="#6a3c9a" opacity="0.7"/>
<rect x="654.7" y="371.0" width="1.1" height="1.3" fill="#b0306a" opacity="0.7"/>
<rect x="655.5" y="376.4" width="1.9" height="1.6" fill="#8a4aa0" opacity="0.7"/>
<rect x="664.5" y="366.8" width="1.4" height="0.9" fill="#b0306a" opacity="0.7"/>
<rect x="638.2" y="384.3" width="1.1" height="1.7" fill="#d0608a" opacity="0.7"/>
<rect x="631.0" y="368.1" width="2.0" height="1.1" fill="#c04a7a" opacity="0.7"/>
<rect x="620.1" y="371.9" width="1.3" height="1.2" fill="#b0306a" opacity="0.7"/>
<rect x="614.3" y="388.0" width="0.9" height="1.2" fill="#8a4aa0" opacity="0.7"/>
<rect x="601.6" y="386.6" width="1.5" height="1.4" fill="#d0608a" opacity="0.7"/>
<rect x="592.8" y="374.1" width="1.7" height="1.6" fill="#d0608a" opacity="0.7"/>
<rect x="642.2" y="371.8" width="2.4" height="1.4" fill="#c04a7a" opacity="0.7"/>
<rect x="595.3" y="382.4" width="1.8" height="0.9" fill="#b0306a" opacity="0.7"/>
<rect x="640.0" y="379.9" width="1.5" height="1.1" fill="#8a4aa0" opacity="0.7"/>
<rect x="631.6" y="387.4" width="0.9" height="1.9" fill="#8a4aa0" opacity="0.7"/>
<rect x="666.5" y="367.2" width="2.4" height="1.2" fill="#6a3c9a" opacity="0.7"/>
<rect x="652.7" y="376.7" width="1.3" height="1.8" fill="#6a3c9a" opacity="0.7"/>
<rect x="638.9" y="371.4" width="2.4" height="1.5" fill="#d0608a" opacity="0.7"/>
<rect x="627.5" y="370.8" width="1.6" height="1.3" fill="#c04a7a" opacity="0.7"/>
<rect x="644.5" y="366.4" width="1.1" height="1.6" fill="#d0608a" opacity="0.7"/>
<rect x="646.1" y="366.5" width="1.0" height="1.0" fill="#6a3c9a" opacity="0.7"/>
<rect x="594.3" y="374.7" width="1.6" height="1.6" fill="#d0608a" opacity="0.7"/>
<rect x="652.0" y="375.6" width="1.8" height="1.1" fill="#c04a7a" opacity="0.7"/>
<rect x="615.9" y="365.3" width="1.0" height="1.7" fill="#d0608a" opacity="0.7"/>
<rect x="614.3" y="378.2" width="2.3" height="1.4" fill="#8a4aa0" opacity="0.7"/>
<rect x="635.9" y="378.5" width="2.3" height="1.0" fill="#b0306a" opacity="0.7"/>
<rect x="621.0" y="374.0" width="1.3" height="1.0" fill="#6a3c9a" opacity="0.7"/>
<rect x="664.1" y="364.8" width="2.4" height="1.2" fill="#8a4aa0" opacity="0.7"/>
<rect x="656.1" y="379.9" width="2.2" height="1.5" fill="#8a4aa0" opacity="0.7"/>
<ellipse cx="660" cy="395" rx="7" ry="9" fill="#c04a80" opacity="0.55"/>
<circle cx="546" cy="411" r="2.6" fill="#a7a9ac"/>
<circle cx="555" cy="411" r="2.6" fill="#a7a9ac"/>
<circle cx="564" cy="411" r="2.6" fill="#a7a9ac"/>
<circle cx="573" cy="411" r="2.6" fill="#a7a9ac"/>
<path d="M678.7,406.2 L705.8,406.2 L705.8,401.0 L721.8,408.5 L705.8,416.0 L705.8,410.8 L678.7,410.8 Z" fill="#58595b"/>
<rect x="730" y="322.2" width="152.1" height="142.3" fill="#e9eef6" stroke="#7ab2de" stroke-width="1.4"/>
<rect x="740.5" y="332.7" width="130.5" height="121.3" fill="#edf1f8" stroke="#f8f9fc" stroke-width="1.5"/>
<path d="M737,335 L737,454 M875,335 L875,454 M742,458 L871,458 M742,328 L871,328" stroke="#cfd6e3" stroke-width="2.2" stroke-dasharray="1,2"/>
<path d="M746.3,358.3 C747.5,356.6 749.9,355.2 752.2,354.1 C754.5,353.0 757.4,352.5 760.3,351.8 C763.2,351.1 766.2,350.2 769.7,350.2 C773.2,350.2 776.2,351.2 781.3,351.8 C786.3,352.4 793.8,353.1 800.0,353.7 C806.2,354.3 813.2,354.5 818.7,355.5 C824.2,356.5 828.0,358.2 832.7,359.5 C837.4,360.8 842.4,361.8 846.7,363.0 C851.0,364.2 855.6,364.9 858.3,366.5 C861.0,368.1 861.8,368.6 863.0,372.3 C864.2,376.0 864.5,384.4 865.3,388.7 C866.1,393.0 867.7,395.3 867.7,398.0 C867.7,400.7 866.7,403.1 865.3,405.0 C863.9,406.9 862.6,408.6 859.5,409.7 C856.4,410.8 852.0,410.7 846.7,411.5 C841.5,412.3 834.2,413.2 828.0,414.3 C821.8,415.4 815.5,416.6 809.3,417.8 C803.1,419.0 796.9,420.4 790.7,421.3 C784.5,422.2 775.5,423.6 772.0,423.2 C768.5,422.8 770.7,421.6 769.7,419.0 C768.7,416.4 767.4,410.8 766.2,407.3 C765.0,403.8 764.3,401.1 762.7,398.0 C761.1,394.9 758.4,391.4 756.8,388.7 C755.2,386.0 754.5,384.0 753.3,381.7 C752.1,379.4 750.8,376.6 749.8,374.7 C748.8,372.8 748.3,371.8 747.5,370.0 C746.7,368.2 745.4,366.1 745.2,364.2 C745.0,362.2 745.1,360.0 746.3,358.3 Z" fill="#4c6aa9"/>
<ellipse cx="800" cy="385" rx="40" ry="20" fill="#5a78b4" opacity="0.5"/>
<path d="M780,380 C795,372 805,378 820,372 M790,400 C800,390 810,392 825,384" stroke="#6f8cc0" stroke-width="0.8" fill="none"/>
<path d="M888.2,397.59999999999997 L915.8,397.59999999999997 L915.8,392.4 L931.8,399.9 L915.8,407.4 L915.8,402.2 L888.2,402.2 Z" fill="#58595b"/>
<rect x="937.3" y="300.4" width="184.3" height="167" fill="#fff" stroke="#3d3d3d" stroke-width="1.2"/>
<rect x="942.5" y="304.7" width="174.2" height="156.1" fill="#f0f5f4"/>
<path d="M944,306 L944,459 L1115,459" stroke="#d5dcdc" stroke-width="2" stroke-dasharray="1,1.5" fill="none"/>
<defs><clipPath id="cint"><path d="M951.7,335 L956.7,318.3 L980,311.7 L1010,315 L1046.7,317.5 L1063.3,325 L1088.3,328.3 L1101.7,336.7 L1105,356.7 L1110,376.7 L1096.7,390 L1080,400 L1046.7,411.7 L1023.3,415 L1000,416.7 L980,413.3 L978.3,396.7 L966.7,378.3 L961.7,360 L960,345 L950.8,338.3 Z"/></clipPath>
<radialGradient id="hot"><stop offset="0" stop-color="#b81e32"/><stop offset="0.35" stop-color="#d8442e"/><stop offset="0.62" stop-color="#ec7a3c"/><stop offset="0.82" stop-color="#efd27c"/><stop offset="1" stop-color="#e8e28a" stop-opacity="0"/></radialGradient>
<radialGradient id="hot2"><stop offset="0" stop-color="#b81e32"/><stop offset="0.5" stop-color="#d8442e" stop-opacity="0.8"/><stop offset="1" stop-color="#ec7a3c" stop-opacity="0"/></radialGradient>
<pattern id="hexdots" width="2.7" height="2.4" patternUnits="userSpaceOnUse"><circle cx="1.35" cy="1.2" r="1.05" fill="none" stroke="#2a4a4a" stroke-width="0.35" stroke-opacity="0.45"/></pattern>
<radialGradient id="cold"><stop offset="0" stop-color="#2f6fae"/><stop offset="1" stop-color="#3f86b0" stop-opacity="0"/></radialGradient>
<radialGradient id="yel"><stop offset="0" stop-color="#e8e48a"/><stop offset="1" stop-color="#e8e48a" stop-opacity="0"/></radialGradient>
<linearGradient id="sig" x1="0" x2="1"><stop offset="0" stop-color="#3b3f9e"/><stop offset="0.3" stop-color="#3fa6a2"/><stop offset="0.55" stop-color="#f2f0a8"/><stop offset="0.8" stop-color="#ee7d3e"/><stop offset="1" stop-color="#9b0f3c"/></linearGradient>
</defs>
<path d="M951.7,335 L956.7,318.3 L980,311.7 L1010,315 L1046.7,317.5 L1063.3,325 L1088.3,328.3 L1101.7,336.7 L1105,356.7 L1110,376.7 L1096.7,390 L1080,400 L1046.7,411.7 L1023.3,415 L1000,416.7 L980,413.3 L978.3,396.7 L966.7,378.3 L961.7,360 L960,345 L950.8,338.3 Z" fill="#5ea990"/>
<g clip-path="url(#cint)">
<circle cx="1022.4" cy="370.3" r="5.7" fill="url(#yel)"/>
<circle cx="1024.5" cy="364.8" r="4.6" fill="url(#yel)"/>
<circle cx="979.5" cy="365.3" r="4.7" fill="url(#yel)"/>
<circle cx="1076.9" cy="321.0" r="3.6" fill="url(#yel)"/>
<circle cx="964.5" cy="396.8" r="4.9" fill="url(#yel)"/>
<circle cx="956.7" cy="415.1" r="5.9" fill="url(#yel)"/>
<circle cx="1054.6" cy="376.2" r="3.1" fill="url(#yel)"/>
<circle cx="952.4" cy="367.0" r="2.7" fill="url(#yel)"/>
<circle cx="980.4" cy="336.6" r="2.6" fill="url(#yel)"/>
<circle cx="1024.2" cy="357.7" r="5.4" fill="url(#yel)"/>
<circle cx="1033.1" cy="378.9" r="4.2" fill="url(#yel)"/>
<circle cx="1056.0" cy="359.5" r="3.5" fill="url(#yel)"/>
<circle cx="1109.6" cy="416.5" r="5.4" fill="url(#yel)"/>
<circle cx="1063.2" cy="344.4" r="3.3" fill="url(#yel)"/>
<circle cx="996.2" cy="318.4" r="5.2" fill="url(#yel)"/>
<circle cx="1014.1" cy="400.7" r="3.9" fill="url(#yel)"/>
<circle cx="1103.3" cy="400.8" r="2.5" fill="url(#yel)"/>
<circle cx="983.6" cy="407.5" r="4.1" fill="url(#yel)"/>
<circle cx="1106.9" cy="353.1" r="2.8" fill="url(#yel)"/>
<circle cx="1050.7" cy="393.5" r="3.4" fill="url(#yel)"/>
<circle cx="963.9" cy="346.3" r="5.9" fill="url(#yel)"/>
<circle cx="1071.3" cy="323.5" r="3.4" fill="url(#yel)"/>
<circle cx="966.2" cy="317.3" r="5.3" fill="url(#yel)"/>
<circle cx="978.4" cy="370.3" r="4.1" fill="url(#yel)"/>
<circle cx="980.5" cy="388.6" r="3.0" fill="url(#yel)"/>
<circle cx="1053.0" cy="323.3" r="4.0" fill="url(#yel)"/>
<circle cx="984.1" cy="339.6" r="5.9" fill="url(#yel)"/>
<circle cx="1078.5" cy="343.2" r="5.6" fill="url(#yel)"/>
<circle cx="983.7" cy="352.8" r="5.5" fill="url(#yel)"/>
<circle cx="1052.7" cy="321.6" r="6.0" fill="url(#yel)"/>
<circle cx="984.1" cy="338.4" r="5.2" fill="url(#yel)"/>
<circle cx="1002.6" cy="342.4" r="2.8" fill="url(#yel)"/>
<circle cx="964.4" cy="372.8" r="3.4" fill="url(#yel)"/>
<circle cx="1046.2" cy="350.4" r="4.1" fill="url(#yel)"/>
<circle cx="1103.5" cy="362.3" r="4.5" fill="url(#yel)"/>
<circle cx="1088.6" cy="330.4" r="3.0" fill="url(#yel)"/>
<circle cx="1095.3" cy="397.7" r="3.4" fill="url(#yel)"/>
<circle cx="980.4" cy="389.4" r="5.8" fill="url(#yel)"/>
<circle cx="981.5" cy="411.7" r="5.6" fill="url(#yel)"/>
<circle cx="1046.6" cy="355.7" r="2.9" fill="url(#yel)"/>
<circle cx="956.2" cy="413.0" r="3.3" fill="url(#yel)"/>
<circle cx="1062.7" cy="338.2" r="5.4" fill="url(#yel)"/>
<circle cx="1045.4" cy="342.1" r="3.1" fill="url(#yel)"/>
<circle cx="1065.3" cy="318.3" r="3.3" fill="url(#yel)"/>
<circle cx="1039.5" cy="401.4" r="4.7" fill="url(#yel)"/>
<circle cx="994.8" cy="408.2" r="3.2" fill="url(#yel)"/>
<circle cx="952.7" cy="339.5" r="4.1" fill="url(#yel)"/>
<circle cx="959.7" cy="329.7" r="3.8" fill="url(#yel)"/>
<circle cx="1041.5" cy="324.9" r="3.8" fill="url(#yel)"/>
<circle cx="1092.6" cy="414.9" r="4.8" fill="url(#yel)"/>
<circle cx="1060.6" cy="373.0" r="3.0" fill="url(#yel)"/>
<circle cx="955.6" cy="312.9" r="5.7" fill="url(#yel)"/>
<circle cx="1062.2" cy="413.1" r="2.6" fill="url(#yel)"/>
<circle cx="1051.8" cy="362.1" r="5.1" fill="url(#yel)"/>
<circle cx="1001.0" cy="416.9" r="2.8" fill="url(#yel)"/>
<circle cx="1037.4" cy="389.1" r="5.7" fill="url(#yel)"/>
<circle cx="1067.9" cy="385.6" r="5.3" fill="url(#yel)"/>
<circle cx="1096.4" cy="348.3" r="4.9" fill="url(#yel)"/>
<circle cx="1094.1" cy="403.3" r="4.0" fill="url(#yel)"/>
<circle cx="1076.5" cy="402.5" r="4.5" fill="url(#yel)"/>
<circle cx="1050.0" cy="351.5" r="4.5" fill="url(#yel)"/>
<circle cx="1047.4" cy="319.5" r="4.7" fill="url(#yel)"/>
<circle cx="1108.9" cy="404.3" r="5.0" fill="url(#yel)"/>
<circle cx="1012.1" cy="388.9" r="4.5" fill="url(#yel)"/>
<circle cx="1020.5" cy="399.9" r="2.8" fill="url(#yel)"/>
<circle cx="1070.0" cy="314.2" r="4.6" fill="url(#yel)"/>
<circle cx="1027.0" cy="335.4" r="4.9" fill="url(#yel)"/>
<circle cx="1029.6" cy="376.1" r="5.7" fill="url(#yel)"/>
<circle cx="990.9" cy="312.2" r="3.6" fill="url(#yel)"/>
<circle cx="1058.5" cy="332.5" r="3.1" fill="url(#yel)"/>
<circle cx="1094.9" cy="381.0" r="4.0" fill="url(#yel)"/>
<circle cx="1092.7" cy="345.7" r="4.8" fill="url(#yel)"/>
<circle cx="981.8" cy="356.7" r="5.3" fill="url(#yel)"/>
<circle cx="1096.3" cy="404.3" r="3.8" fill="url(#yel)"/>
<circle cx="1043.3" cy="344.5" r="3.0" fill="url(#yel)"/>
<circle cx="1029.4" cy="399.7" r="5.5" fill="url(#yel)"/>
<circle cx="1063.8" cy="411.7" r="3.5" fill="url(#yel)"/>
<circle cx="977.1" cy="358.8" r="3.5" fill="url(#yel)"/>
<circle cx="984.3" cy="354.9" r="4.7" fill="url(#yel)"/>
<circle cx="1029.0" cy="344.4" r="5.4" fill="url(#yel)"/>
<circle cx="1107.1" cy="359.0" r="2.8" fill="url(#yel)"/>
<circle cx="955.0" cy="403.5" r="2.6" fill="url(#yel)"/>
<circle cx="1063.4" cy="371.5" r="3.6" fill="url(#yel)"/>
<circle cx="1076.6" cy="313.0" r="3.0" fill="url(#yel)"/>
<circle cx="1022.8" cy="313.6" r="5.4" fill="url(#yel)"/>
<circle cx="988.0" cy="325.9" r="2.7" fill="url(#yel)"/>
<circle cx="1050.7" cy="358.3" r="4.7" fill="url(#yel)"/>
<circle cx="1054.8" cy="396.6" r="5.9" fill="url(#yel)"/>
<circle cx="1059.5" cy="332.1" r="4.2" fill="url(#yel)"/>
<circle cx="978.6" cy="312.1" r="4.2" fill="url(#yel)"/>
<circle cx="1064.3" cy="330.0" r="3.5" fill="url(#yel)"/>
<circle cx="1005.3" cy="384.9" r="4.3" fill="url(#yel)"/>
<circle cx="1048.3" cy="391.2" r="3.9" fill="url(#yel)"/>
<circle cx="1076.7" cy="407.1" r="2.8" fill="url(#yel)"/>
<circle cx="1099.2" cy="387.6" r="3.0" fill="url(#yel)"/>
<circle cx="1022.6" cy="377.3" r="5.7" fill="url(#yel)"/>
<circle cx="1010.3" cy="371.3" r="5.6" fill="url(#yel)"/>
<circle cx="1077.5" cy="411.1" r="4.1" fill="url(#yel)"/>
<circle cx="1054.2" cy="332.7" r="5.0" fill="url(#yel)"/>
<circle cx="1080.9" cy="379.0" r="5.0" fill="url(#yel)"/>
<circle cx="984.1" cy="406.4" r="5.9" fill="url(#yel)"/>
<circle cx="1106.4" cy="367.9" r="5.3" fill="url(#yel)"/>
<circle cx="1001.3" cy="407.5" r="5.5" fill="url(#yel)"/>
<circle cx="1005.8" cy="319.8" r="4.0" fill="url(#yel)"/>
<circle cx="1038.0" cy="392.4" r="4.2" fill="url(#yel)"/>
<circle cx="954.5" cy="396.8" r="2.7" fill="url(#yel)"/>
<circle cx="1078.0" cy="329.3" r="3.7" fill="url(#yel)"/>
<circle cx="1076.1" cy="325.9" r="3.0" fill="url(#yel)"/>
<circle cx="1032.6" cy="387.7" r="5.4" fill="url(#yel)"/>
<circle cx="1060.3" cy="411.2" r="4.2" fill="url(#yel)"/>
<circle cx="1101.9" cy="320.1" r="3.1" fill="url(#cold)"/>
<circle cx="1034.3" cy="341.8" r="4.3" fill="url(#cold)"/>
<circle cx="1052.2" cy="366.4" r="4.6" fill="url(#cold)"/>
<circle cx="1039.6" cy="344.0" r="3.5" fill="url(#cold)"/>
<circle cx="1085.2" cy="406.5" r="3.0" fill="url(#cold)"/>
<circle cx="1086.1" cy="413.7" r="3.8" fill="url(#cold)"/>
<circle cx="1041.7" cy="332.3" r="3.8" fill="url(#cold)"/>
<circle cx="1030.5" cy="375.2" r="2.6" fill="url(#cold)"/>
<circle cx="1105.1" cy="365.7" r="3.5" fill="url(#cold)"/>
<circle cx="1078.2" cy="370.7" r="3.7" fill="url(#cold)"/>
<circle cx="1060.6" cy="318.0" r="3.8" fill="url(#cold)"/>
<circle cx="1016.2" cy="412.4" r="4.8" fill="url(#cold)"/>
<circle cx="993.1" cy="361.2" r="2.8" fill="url(#cold)"/>
<circle cx="1019.4" cy="397.5" r="4.8" fill="url(#cold)"/>
<circle cx="1026.2" cy="344.6" r="3.0" fill="url(#cold)"/>
<circle cx="1048.9" cy="409.1" r="2.8" fill="url(#cold)"/>
<circle cx="1074.7" cy="313.4" r="3.0" fill="url(#cold)"/>
<circle cx="986.4" cy="383.8" r="3.3" fill="url(#cold)"/>
<circle cx="1006.9" cy="376.7" r="2.8" fill="url(#cold)"/>
<circle cx="1066.9" cy="324.0" r="3.8" fill="url(#cold)"/>
<circle cx="990.1" cy="332.0" r="3.8" fill="url(#cold)"/>
<circle cx="1019.9" cy="350.8" r="3.5" fill="url(#cold)"/>
<circle cx="1034.7" cy="327.9" r="3.0" fill="url(#cold)"/>
<circle cx="1051.0" cy="378.7" r="3.8" fill="url(#cold)"/>
<circle cx="1086.2" cy="375.8" r="4.6" fill="url(#cold)"/>
<circle cx="987.2" cy="389.5" r="4.5" fill="url(#cold)"/>
<circle cx="1094.4" cy="344.5" r="3.3" fill="url(#cold)"/>
<circle cx="1097.6" cy="334.1" r="5.0" fill="url(#cold)"/>
<circle cx="1092.0" cy="325.2" r="3.1" fill="url(#cold)"/>
<circle cx="1066.3" cy="338.5" r="2.7" fill="url(#cold)"/>
<circle cx="1083.1" cy="355.7" r="4.5" fill="url(#cold)"/>
<circle cx="970.2" cy="353.7" r="4.2" fill="url(#cold)"/>
<circle cx="952.8" cy="332.3" r="4.2" fill="url(#cold)"/>
<circle cx="1095.8" cy="413.6" r="2.8" fill="url(#cold)"/>
<circle cx="1030.9" cy="391.4" r="3.8" fill="url(#cold)"/>
<circle cx="1059.7" cy="331.0" r="2.7" fill="url(#cold)"/>
<circle cx="967.0" cy="315.0" r="3.9" fill="url(#cold)"/>
<circle cx="1032.4" cy="371.3" r="2.9" fill="url(#cold)"/>
<circle cx="979.5" cy="332.6" r="4.6" fill="url(#cold)"/>
<circle cx="1108.4" cy="409.3" r="2.7" fill="url(#cold)"/>
<circle cx="959.9" cy="411.9" r="3.7" fill="url(#cold)"/>
<circle cx="1072.4" cy="345.6" r="3.7" fill="url(#cold)"/>
<circle cx="1032.4" cy="356.6" r="4.0" fill="url(#cold)"/>
<circle cx="952.1" cy="385.3" r="4.6" fill="url(#cold)"/>
<circle cx="979.0" cy="359.1" r="4.3" fill="url(#cold)"/>
<ellipse cx="994" cy="321.7" rx="15.0" ry="17.0" fill="url(#yel)" opacity="0.8"/>
<ellipse cx="1016.7" cy="331.7" rx="18.0" ry="16.0" fill="url(#yel)" opacity="0.8"/>
<ellipse cx="1022.5" cy="358.3" rx="18.0" ry="24.0" fill="url(#yel)" opacity="0.8"/>
<ellipse cx="988.3" cy="368.3" rx="12.0" ry="10.0" fill="url(#yel)" opacity="0.8"/>
<ellipse cx="1078.3" cy="370" rx="38.0" ry="20.0" fill="url(#yel)" opacity="0.8"/>
<ellipse cx="1011.7" cy="380" rx="10.0" ry="7.0" fill="url(#yel)" opacity="0.8"/>
<ellipse cx="1040" cy="396.7" rx="26.0" ry="25.0" fill="url(#yel)" opacity="0.8"/>
<ellipse cx="1011.7" cy="407.5" rx="23.0" ry="15.0" fill="url(#yel)" opacity="0.8"/>
<ellipse cx="994" cy="321.7" rx="8.6" ry="9.8" fill="url(#hot)"/>
<ellipse cx="992.0" cy="322.1" rx="5.6" ry="6.4" fill="url(#hot2)"/>
<ellipse cx="993.0" cy="322.6" rx="5.6" ry="6.4" fill="url(#hot2)"/>
<ellipse cx="1016.7" cy="331.7" rx="10.3" ry="9.2" fill="url(#hot)"/>
<ellipse cx="1017.8" cy="328.2" rx="6.8" ry="6.0" fill="url(#hot2)"/>
<ellipse cx="1012.3" cy="334.4" rx="6.8" ry="6.0" fill="url(#hot2)"/>
<ellipse cx="1022.5" cy="358.3" rx="10.3" ry="13.8" fill="url(#hot)"/>
<ellipse cx="1020.3" cy="355.1" rx="6.8" ry="9.0" fill="url(#hot2)"/>
<ellipse cx="1027.0" cy="357.9" rx="6.8" ry="9.0" fill="url(#hot2)"/>
<ellipse cx="988.3" cy="368.3" rx="6.9" ry="5.8" fill="url(#hot)"/>
<ellipse cx="990.3" cy="368.2" rx="4.5" ry="3.8" fill="url(#hot2)"/>
<ellipse cx="989.1" cy="366.6" rx="4.5" ry="3.8" fill="url(#hot2)"/>
<ellipse cx="1078.3" cy="370" rx="21.8" ry="11.5" fill="url(#hot)"/>
<ellipse cx="1080.9" cy="373.7" rx="14.2" ry="7.5" fill="url(#hot2)"/>
<ellipse cx="1078.7" cy="372.4" rx="14.2" ry="7.5" fill="url(#hot2)"/>
<ellipse cx="1011.7" cy="380" rx="5.8" ry="4.0" fill="url(#hot)"/>
<ellipse cx="1012.6" cy="378.5" rx="3.8" ry="2.6" fill="url(#hot2)"/>
<ellipse cx="1013.0" cy="380.3" rx="3.8" ry="2.6" fill="url(#hot2)"/>
<ellipse cx="1040" cy="396.7" rx="14.9" ry="14.4" fill="url(#hot)"/>
<ellipse cx="1037.4" cy="390.8" rx="9.8" ry="9.4" fill="url(#hot2)"/>
<ellipse cx="1044.8" cy="396.4" rx="9.8" ry="9.4" fill="url(#hot2)"/>
<ellipse cx="1011.7" cy="407.5" rx="13.2" ry="8.6" fill="url(#hot)"/>
<ellipse cx="1014.2" cy="410.3" rx="8.6" ry="5.6" fill="url(#hot2)"/>
<ellipse cx="1014.2" cy="410.7" rx="8.6" ry="5.6" fill="url(#hot2)"/>
<path d="M951.7,335 L956.7,318.3 L980,311.7 L1010,315 L1046.7,317.5 L1063.3,325 L1088.3,328.3 L1101.7,336.7 L1105,356.7 L1110,376.7 L1096.7,390 L1080,400 L1046.7,411.7 L1023.3,415 L1000,416.7 L980,413.3 L978.3,396.7 L966.7,378.3 L961.7,360 L960,345 L950.8,338.3 Z" fill="url(#hexdots)"/>
</g>
<rect x="1061.7" y="446.7" width="53.3" height="10" fill="url(#sig)"/>
<text x="1064.8" y="445.0" font-size="8.5" text-anchor="middle" fill="#111" >Min</text>
<text x="1108.3" y="443.3" font-size="8.5" text-anchor="middle" fill="#111" >Max</text>
<text x="993.3" y="455.0" font-size="8.75" text-anchor="start" fill="#111" >Signature score</text>
<text x="411.3" y="496.0" font-size="17.5" fill="#231f20" textLength="184.9" lengthAdjust="spacingAndGlyphs" >H&amp;E image per sample</text>
<text x="701.8" y="498.0" font-size="17.5" fill="#231f20" textLength="224.7" lengthAdjust="spacingAndGlyphs" >Spatial Transcriptomics (ST)</text>
<text x="955.6" y="498.5" font-size="17.5" fill="#231f20" textLength="154.4" lengthAdjust="spacingAndGlyphs" >Integration Analysis</text>
<text x="1.2" y="532.0" font-size="25.5" text-anchor="start" fill="#231f20" >b</text>
<text x="70.5" y="545.8" font-size="14.35" font-weight="bold" fill="#111" textLength="414.5" lengthAdjust="spacingAndGlyphs" >Overview of the age status and data type of thymus samples</text>
<text x="9.0" y="578.0" font-size="12" text-anchor="start" fill="#a3239b" >Normal Thymus</text>
<text x="10.2" y="596.6" font-size="12" text-anchor="start" fill="#231f20" >Thy1</text>
<path d="M40.7,592.5 L108,592.5" stroke="#9a9a9a" stroke-width="1" stroke-dasharray="2.2,2.8"/>
<path d="M108.2,588.3 L119.2,592.5 L108.2,596.7 Z" fill="#a7a9ac"/>
<text x="121.8" y="596.6" font-size="12" text-anchor="start" fill="#231f20" >Thy16</text>
<text x="165.8" y="596.6" font-size="12" text-anchor="start" fill="#231f20" >(N = 16)</text>
<text x="274.5" y="576.3" font-size="12" text-anchor="start" fill="#a3239b" >Data Type</text>
<circle cx="281.3" cy="591.3" r="6.3" fill="#6a0f14"/>
<text x="296.3" y="595.0" font-size="11.9" text-anchor="start" fill="#231f20" >Spatial-seq</text>
<rect x="371.8" y="586.3" width="15.7" height="10" fill="#2db24a" stroke="#c9c0cf" stroke-width="0.6"/>
<text x="397.5" y="595.0" font-size="11.9" text-anchor="start" fill="#231f20" >scRNA-seq</text>
<path d="M478.4,583 C479.9,587 484.29999999999995,589.2900000000001 484.29999999999995,594.6 A5.9,5.9 0 0 1 472.5,594.6 C472.5,589.2900000000001 476.9,587 478.4,583 Z" fill="#1f93d0"/>
<text x="492.0" y="595.0" font-size="11.9" text-anchor="start" fill="#231f20" >TCR-seq</text>
<rect x="32.300000000000004" y="635.6" width="10.8" height="6.4" fill="#2db24a" stroke="#cbbfd3" stroke-width="0.6"/>
<path d="M37.7,646 C39.2,650 44.0,652.2300000000001 44.0,657.9000000000001 A6.3,6.3 0 0 1 31.400000000000002,657.9000000000001 C31.400000000000002,652.2300000000001 36.2,650 37.7,646 Z" fill="#1f93d0"/>
<rect x="71.6" y="635.6" width="10.8" height="6.4" fill="#2db24a" stroke="#cbbfd3" stroke-width="0.6"/>
<path d="M77,646 C78.5,650 83.3,652.2300000000001 83.3,657.9000000000001 A6.3,6.3 0 0 1 70.7,657.9000000000001 C70.7,652.2300000000001 75.5,650 77,646 Z" fill="#1f93d0"/>
<rect x="107.89999999999999" y="635.6" width="10.8" height="6.4" fill="#2db24a" stroke="#cbbfd3" stroke-width="0.6"/>
<path d="M113.3,646 C114.8,650 119.6,652.2300000000001 119.6,657.9000000000001 A6.3,6.3 0 0 1 107.0,657.9000000000001 C107.0,652.2300000000001 111.8,650 113.3,646 Z" fill="#1f93d0"/>
<rect x="121.1" y="635.6" width="10.8" height="6.4" fill="#2db24a" stroke="#cbbfd3" stroke-width="0.6"/>
<path d="M126.5,646 C128.0,650 132.8,652.2300000000001 132.8,657.9000000000001 A6.3,6.3 0 0 1 120.2,657.9000000000001 C120.2,652.2300000000001 125.0,650 126.5,646 Z" fill="#1f93d0"/>
<ellipse cx="167.8" cy="624.2" rx="5.4" ry="5.8" fill="#6a0f14"/>
<rect x="162.4" y="635.6" width="10.8" height="6.4" fill="#2db24a" stroke="#cbbfd3" stroke-width="0.6"/>
<path d="M167.8,646 C169.3,650 174.10000000000002,652.2300000000001 174.10000000000002,657.9000000000001 A6.3,6.3 0 0 1 161.5,657.9000000000001 C161.5,652.2300000000001 166.3,650 167.8,646 Z" fill="#1f93d0"/>
<ellipse cx="183.7" cy="624.2" rx="5.4" ry="5.8" fill="#6a0f14"/>
<rect x="178.29999999999998" y="635.6" width="10.8" height="6.4" fill="#2db24a" stroke="#cbbfd3" stroke-width="0.6"/>
<path d="M183.7,646 C185.2,650 190.0,652.2300000000001 190.0,657.9000000000001 A6.3,6.3 0 0 1 177.39999999999998,657.9000000000001 C177.39999999999998,652.2300000000001 182.2,650 183.7,646 Z" fill="#1f93d0"/>
<ellipse cx="197.5" cy="624.2" rx="5.4" ry="5.8" fill="#6a0f14"/>
<rect x="192.1" y="635.6" width="10.8" height="6.4" fill="#2db24a" stroke="#cbbfd3" stroke-width="0.6"/>
<path d="M197.5,646 C199.0,650 203.8,652.2300000000001 203.8,657.9000000000001 A6.3,6.3 0 0 1 191.2,657.9000000000001 C191.2,652.2300000000001 196.0,650 197.5,646 Z" fill="#1f93d0"/>
<ellipse cx="236.5" cy="624.2" rx="5.4" ry="5.8" fill="#6a0f14"/>
<rect x="231.1" y="635.6" width="10.8" height="6.4" fill="#2db24a" stroke="#cbbfd3" stroke-width="0.6"/>
<path d="M236.5,646 C238.0,650 242.8,652.2300000000001 242.8,657.9000000000001 A6.3,6.3 0 0 1 230.2,657.9000000000001 C230.2,652.2300000000001 235.0,650 236.5,646 Z" fill="#1f93d0"/>
<ellipse cx="250.3" cy="624.2" rx="5.4" ry="5.8" fill="#6a0f14"/>
<rect x="244.9" y="635.6" width="10.8" height="6.4" fill="#2db24a" stroke="#cbbfd3" stroke-width="0.6"/>
<path d="M250.3,646 C251.8,650 256.6,652.2300000000001 256.6,657.9000000000001 A6.3,6.3 0 0 1 244.0,657.9000000000001 C244.0,652.2300000000001 248.8,650 250.3,646 Z" fill="#1f93d0"/>
<ellipse cx="263.5" cy="624.2" rx="5.4" ry="5.8" fill="#6a0f14"/>
<rect x="258.1" y="635.6" width="10.8" height="6.4" fill="#2db24a" stroke="#cbbfd3" stroke-width="0.6"/>
<path d="M263.5,646 C265.0,650 269.8,652.2300000000001 269.8,657.9000000000001 A6.3,6.3 0 0 1 257.2,657.9000000000001 C257.2,652.2300000000001 262.0,650 263.5,646 Z" fill="#1f93d0"/>
<ellipse cx="310" cy="624.2" rx="5.4" ry="5.8" fill="#6a0f14"/>
<rect x="304.6" y="635.6" width="10.8" height="6.4" fill="#2db24a" stroke="#cbbfd3" stroke-width="0.6"/>
<path d="M310,646 C311.5,650 316.3,652.2300000000001 316.3,657.9000000000001 A6.3,6.3 0 0 1 303.7,657.9000000000001 C303.7,652.2300000000001 308.5,650 310,646 Z" fill="#1f93d0"/>
<ellipse cx="342.9" cy="624.2" rx="5.4" ry="5.8" fill="#6a0f14"/>
<rect x="337.5" y="635.6" width="10.8" height="6.4" fill="#2db24a" stroke="#cbbfd3" stroke-width="0.6"/>
<path d="M342.9,646 C344.4,650 349.2,652.2300000000001 349.2,657.9000000000001 A6.3,6.3 0 0 1 336.59999999999997,657.9000000000001 C336.59999999999997,652.2300000000001 341.4,650 342.9,646 Z" fill="#1f93d0"/>
<rect x="463.5" y="635.6" width="10.8" height="6.4" fill="#2db24a" stroke="#cbbfd3" stroke-width="0.6"/>
<path d="M468.9,646 C470.4,650 475.2,652.2300000000001 475.2,657.9000000000001 A6.3,6.3 0 0 1 462.59999999999997,657.9000000000001 C462.59999999999997,652.2300000000001 467.4,650 468.9,646 Z" fill="#1f93d0"/>
<rect x="483.0" y="635.6" width="10.8" height="6.4" fill="#2db24a" stroke="#cbbfd3" stroke-width="0.6"/>
<path d="M488.4,646 C489.9,650 494.7,652.2300000000001 494.7,657.9000000000001 A6.3,6.3 0 0 1 482.09999999999997,657.9000000000001 C482.09999999999997,652.2300000000001 486.9,650 488.4,646 Z" fill="#1f93d0"/>
<rect x="560.1" y="635.6" width="10.8" height="6.4" fill="#2db24a" stroke="#cbbfd3" stroke-width="0.6"/>
<path d="M565.5,646 C567.0,650 571.8,652.2300000000001 571.8,657.9000000000001 A6.3,6.3 0 0 1 559.2,657.9000000000001 C559.2,652.2300000000001 564.0,650 565.5,646 Z" fill="#1f93d0"/>
<rect x="615.6" y="633.1" width="10.8" height="6.4" fill="#2db24a" stroke="#cbbfd3" stroke-width="0.6"/>
<path d="M621,643.5 C622.5,647.5 627.3,649.7300000000001 627.3,655.4000000000001 A6.3,6.3 0 0 1 614.7,655.4000000000001 C614.7,649.7300000000001 619.5,647.5 621,643.5 Z" fill="#1f93d0"/>
<path d="M4.1,684.9 L124,684.9 L124,678.5 L139,686.8 L124,695.0999999999999 L124,688.6999999999999 L4.1,688.6999999999999 Z" fill="#7d5148"/>
<path d="M14.3,669.5 L14.3,702" stroke="#7d5148" stroke-width="1.3"/>
<path d="M60,669.5 L60,702" stroke="#7d5148" stroke-width="1.3"/>
<path d="M106.7,669.5 L106.7,702" stroke="#7d5148" stroke-width="1.3"/>
<path d="M143.6,686.1 L364.6,686.1 L364.6,678.4 L378.6,687.4 L364.6,696.4 L364.6,688.6999999999999 L143.6,688.6999999999999 Z" fill="#c67ab3"/>
<path d="M143.6,678.3 L143.6,697" stroke="#c67ab3" stroke-width="1.3"/>
<path d="M204,669.5 L204,702" stroke="#c67ab3" stroke-width="1.3"/>
<path d="M262.6,669.5 L262.6,702" stroke="#c67ab3" stroke-width="1.3"/>
<path d="M308.4,669.5 L308.4,702" stroke="#c67ab3" stroke-width="1.3"/>
<path d="M348,669.5 L348,702" stroke="#c67ab3" stroke-width="1.3"/>
<path d="M386.1,686.6 L530,686.6" stroke="#2a6fae" stroke-width="3"/>
<path d="M386.1,676.4 L386.1,695.6" stroke="#2a6fae" stroke-width="1.5"/>
<path d="M441.9,669.5 L441.9,702.5" stroke="#2a6fae" stroke-width="1.3"/>
<path d="M498,669.5 L498,702.5" stroke="#2a6fae" stroke-width="1.3"/>
<path d="M530,685.9000000000001 L634.6,685.9000000000001 L634.6,678.2 L648.6,687.2 L634.6,696.2 L634.6,688.5 L530,688.5 Z" fill="#e9e1c9"/>
<path d="M530.4,670 L530.4,703.5" stroke="#e9e1c9" stroke-width="1.3"/>
<path d="M565.5,670 L565.5,703.5" stroke="#e9e1c9" stroke-width="1.3"/>
<path d="M632.1,670 L632.1,703.5" stroke="#e9e1c9" stroke-width="1.3"/>
<text x="15.1" y="716.3" font-size="11.7" text-anchor="middle" fill="#231f20" >10W</text>
<text x="59.0" y="716.3" font-size="11.7" text-anchor="middle" fill="#231f20" >15W</text>
<text x="105.6" y="716.3" font-size="11.7" text-anchor="middle" fill="#231f20" >20W</text>
<text x="144.6" y="716.3" font-size="11.7" text-anchor="middle" fill="#231f20" >0M</text>
<text x="203.0" y="716.3" font-size="11.7" text-anchor="middle" fill="#231f20" >6M</text>
<text x="261.0" y="716.6" font-size="11.7" text-anchor="middle" fill="#231f20" >12M</text>
<text x="299.5" y="717.0" font-size="11.7" text-anchor="middle" fill="#231f20" >24M</text>
<text x="346.8" y="716.6" font-size="11.7" text-anchor="middle" fill="#231f20" >36M</text>
<text x="387.5" y="715.4" font-size="11.7" text-anchor="middle" fill="#231f20" >0Y</text>
<text x="443.0" y="717.5" font-size="11.7" text-anchor="middle" fill="#231f20" >20Y</text>
<text x="497.0" y="715.4" font-size="11.7" text-anchor="middle" fill="#231f20" >40Y</text>
<text x="532.2" y="715.4" font-size="11.7" text-anchor="middle" fill="#231f20" >50Y</text>
<text x="565.8" y="716.6" font-size="11.7" text-anchor="middle" fill="#231f20" >60Y</text>
<text x="633.9" y="716.6" font-size="11.7" text-anchor="middle" fill="#231f20" >70Y</text>
<rect x="9.2" y="738.7" width="117" height="20.6" fill="none" stroke="#7d5148" stroke-width="2"/>
<text x="71.6" y="752.6" font-size="13.8" text-anchor="middle" fill="#231f20" >Prenatal</text>
<rect x="144" y="738" width="236.4" height="21.4" fill="none" stroke="#c67ab3" stroke-width="2"/>
<text x="273.3" y="752.6" font-size="14" text-anchor="middle" fill="#231f20" >Pediatric</text>
<rect x="391.9" y="736.5" width="138.6" height="21.4" fill="none" stroke="#2a6fae" stroke-width="2"/>
<text x="459.5" y="752.0" font-size="14" text-anchor="middle" fill="#231f20" >Adult</text>
<rect x="533.5" y="736.5" width="110" height="21.4" fill="none" stroke="#e9e1c9" stroke-width="2"/>
<text x="596.0" y="751.1" font-size="14" text-anchor="middle" fill="#231f20" >Geriatric</text>
<defs><filter id="ublur" x="-10%" y="-10%" width="120%" height="120%"><feGaussianBlur stdDeviation="1.3"/></filter>
<linearGradient id="g2129" gradientUnits="userSpaceOnUse" x1="41" y1="0" x2="300" y2="0"><stop offset="0" stop-color="#e31a1c"/><stop offset="0.39" stop-color="#e31a1c"/><stop offset="0.49" stop-color="#ea4a30"/><stop offset="0.57" stop-color="#f0945c"/><stop offset="0.64" stop-color="#e9c99a"/><stop offset="0.72" stop-color="#cfe9c3"/><stop offset="1" stop-color="#d3ebc8"/></linearGradient></defs>
<text x="4.1" y="822.5" font-size="25" text-anchor="start" fill="#231f20" >c</text>
<text x="118.6" y="826.3" font-size="13.6" font-weight="bold" fill="#111" textLength="254.6" lengthAdjust="spacingAndGlyphs" >Normal thymus annotation (n = 130,295)</text>
<g id="umapc">
<g>
<g filter="url(#ublur)">
<path d="M147.3,896.5 C137.5,897.0 126.6,898.1 116.2,900.2 C105.8,902.3 93.2,905.0 85.0,909.3 C76.8,913.6 71.9,919.1 66.7,925.8 C61.5,932.5 57.8,941.5 53.8,949.7 C49.8,958.0 44.9,968.6 42.8,975.3 C40.7,982.0 40.1,985.1 41.0,990.0 C41.9,994.9 44.3,1000.4 48.3,1004.7 C52.3,1009.0 58.7,1013.3 64.8,1015.7 C70.9,1018.1 77.0,1019.0 85.0,1019.3 C93.0,1019.6 104.5,1018.7 112.5,1017.5 C120.5,1016.3 127.5,1014.1 132.7,1012.0 C137.9,1009.9 140.8,1008.7 143.7,1004.7 C146.6,1000.7 148.6,993.8 150.0,988.0 C151.4,982.2 150.8,975.0 152.0,970.0 C153.2,965.0 154.3,960.3 157.0,958.0 C159.7,955.7 163.3,957.3 168.0,956.0 C172.7,954.7 180.0,952.0 185.0,950.0 C190.0,948.0 193.8,944.3 198.0,944.0 C202.2,943.7 205.0,946.5 210.0,948.0 C215.0,949.5 222.2,952.7 228.0,953.0 C233.8,953.3 239.3,952.0 245.0,950.0 C250.7,948.0 255.8,944.2 262.0,941.0 C268.2,937.8 275.7,933.5 282.0,931.0 C288.3,928.5 297.7,928.0 300.0,926.0 C302.3,924.0 299.0,920.5 296.0,919.0 C293.0,917.5 288.8,916.4 282.0,916.7 C275.2,917.0 263.3,920.0 255.0,921.0 C246.7,922.0 238.7,923.7 232.0,923.0 C225.3,922.3 219.5,919.0 215.0,917.0 C210.5,915.0 209.2,913.3 205.0,911.0 C200.8,908.7 195.0,905.3 190.0,903.0 C185.0,900.7 182.1,898.1 175.0,897.0 C167.9,895.9 157.1,896.0 147.3,896.5 Z" fill="url(#g2129)"/>
<path d="M149.0,988.0 C155.3,985.2 167.8,986.0 180.0,986.0 C192.2,986.0 214.7,986.1 222.5,988.0 C230.3,989.9 227.8,992.8 227.0,997.3 C226.2,1001.8 220.3,1008.0 218.0,1015.0 C215.7,1022.0 214.4,1029.0 213.3,1039.5 C212.2,1050.0 214.6,1071.2 211.5,1078.0 C208.4,1084.8 203.9,1081.5 195.0,1080.0 C186.1,1078.5 167.5,1073.1 158.3,1068.8 C149.1,1064.5 144.0,1059.5 140.0,1054.0 C136.0,1048.5 135.7,1041.3 134.5,1035.8 C133.3,1030.3 131.4,1026.5 132.7,1021.0 C133.9,1015.5 139.3,1008.5 142.0,1003.0 C144.7,997.5 142.7,990.8 149.0,988.0 Z" fill="#f8a09c"/>
<path d="M151.0,1070.7 C155.2,1068.0 167.7,1072.6 175.0,1074.0 C182.3,1075.4 190.7,1076.0 195.0,1079.0 C199.3,1082.0 200.8,1086.8 201.0,1092.0 C201.2,1097.2 199.2,1105.5 196.0,1110.0 C192.8,1114.5 187.2,1117.7 182.0,1119.0 C176.8,1120.3 169.9,1119.3 165.0,1118.0 C160.1,1116.7 155.3,1115.7 152.8,1111.0 C150.3,1106.3 150.3,1096.7 150.0,1090.0 C149.7,1083.3 146.8,1073.4 151.0,1070.7 Z" fill="#3a9f2e"/>
<path d="M195.0,1079.0 C196.7,1076.8 201.5,1087.5 206.0,1090.8 C210.5,1094.1 217.7,1096.5 222.0,1099.0 C226.3,1101.5 231.3,1102.6 231.7,1105.5 C232.1,1108.4 229.8,1113.8 224.3,1116.5 C218.8,1119.2 205.2,1121.6 198.7,1122.0 C192.1,1122.4 185.4,1122.0 185.0,1119.0 C184.6,1116.0 194.3,1110.7 196.0,1104.0 C197.7,1097.3 193.3,1081.2 195.0,1079.0 Z" fill="#6dbb4a"/>
<path d="M272.0,890.0 C276.2,886.3 285.0,883.8 291.3,882.0 C297.6,880.2 304.2,878.3 310.0,879.0 C315.8,879.7 322.8,881.7 326.0,886.0 C329.2,890.3 328.7,899.2 329.0,905.0 C329.3,910.8 330.8,917.3 328.0,921.0 C325.2,924.7 317.8,926.7 312.0,927.0 C306.2,927.3 298.6,924.0 293.3,923.0 C288.0,922.0 283.8,922.0 280.0,921.0 C276.2,920.0 272.6,919.5 270.3,916.7 C268.0,913.9 265.7,908.5 266.0,904.0 C266.3,899.5 267.8,893.7 272.0,890.0 Z" fill="#e98963"/>
<path d="M291.3,875.5 C293.3,872.7 300.2,869.2 305.0,867.0 C309.8,864.8 315.2,863.2 320.0,862.0 C324.8,860.8 330.8,859.0 333.5,860.0 C336.2,861.0 336.6,863.7 336.0,868.0 C335.4,872.3 333.0,882.3 330.0,886.0 C327.0,889.7 322.2,889.7 318.0,890.0 C313.8,890.3 309.2,889.0 305.0,888.0 C300.8,887.0 295.3,886.1 293.0,884.0 C290.7,881.9 289.3,878.3 291.3,875.5 Z" fill="#7d52a8"/>
<path d="M322.0,873.0 C322.7,869.8 330.8,864.9 335.0,862.0 C339.2,859.1 343.3,856.9 347.0,855.5 C350.7,854.1 356.0,852.3 357.0,853.4 C358.0,854.5 355.7,858.7 353.0,862.0 C350.3,865.3 344.7,869.8 341.0,873.0 C337.3,876.2 334.2,881.0 331.0,881.0 C327.8,881.0 321.3,876.2 322.0,873.0 Z" fill="#b25f35"/>
<path d="M383.3,906.0 C388.0,902.7 391.5,898.9 396.0,897.0 C400.5,895.1 403.4,893.7 410.2,894.6 C417.0,895.5 430.3,898.8 437.0,902.3 C443.7,905.8 447.4,910.3 450.4,915.7 C453.4,921.1 455.5,928.8 455.2,934.8 C454.9,940.8 452.5,947.8 448.5,952.0 C444.5,956.2 437.7,958.5 431.3,959.8 C424.9,961.1 416.6,961.4 410.2,959.8 C403.8,958.2 398.8,953.7 393.0,950.2 C387.2,946.7 381.2,941.6 375.7,938.7 C370.2,935.8 364.4,934.6 360.0,933.0 C355.6,931.4 350.8,930.8 349.0,929.0 C347.2,927.2 345.8,924.4 349.0,922.4 C352.2,920.4 362.3,919.7 368.0,917.0 C373.7,914.3 378.6,909.3 383.3,906.0 Z" fill="#f6c27e"/>
<path d="M386.0,893.0 C388.0,890.3 393.3,887.8 397.0,887.0 C400.7,886.2 405.7,885.8 408.0,888.0 C410.3,890.2 410.7,895.7 411.0,900.0 C411.3,904.3 411.8,911.2 410.0,914.0 C408.2,916.8 403.7,917.2 400.0,917.0 C396.3,916.8 390.5,915.3 388.0,913.0 C385.5,910.7 385.3,906.3 385.0,903.0 C384.7,899.7 384.0,895.7 386.0,893.0 Z" fill="#b9a9d6"/>
<path d="M310.5,1069.0 C311.6,1065.9 312.1,1064.7 314.0,1063.5 C315.9,1062.3 319.1,1061.2 322.0,1062.0 C324.9,1062.8 328.6,1064.7 331.5,1068.0 C334.4,1071.3 338.3,1077.7 339.3,1082.0 C340.3,1086.3 338.0,1089.3 337.3,1094.0 C336.6,1098.7 337.3,1106.5 335.4,1110.0 C333.5,1113.5 328.9,1115.3 326.0,1115.3 C323.1,1115.3 319.5,1113.2 318.0,1110.0 C316.5,1106.8 318.2,1099.2 317.0,1096.0 C315.8,1092.8 312.1,1093.3 310.5,1091.0 C308.9,1088.7 307.6,1085.7 307.6,1082.0 C307.6,1078.3 309.4,1072.1 310.5,1069.0 Z" fill="#d9600b"/>
<ellipse cx="300.6" cy="951" rx="10.5" ry="12" fill="#b4c6dc"/>
<path d="M301.0,987.0 C303.0,984.5 307.3,984.5 310.0,985.0 C312.7,985.5 316.0,987.2 317.0,990.0 C318.0,992.8 316.8,998.8 316.0,1002.0 C315.2,1005.2 314.3,1007.7 312.0,1009.0 C309.7,1010.3 304.3,1011.5 302.0,1010.0 C299.7,1008.5 298.2,1003.8 298.0,1000.0 C297.8,996.2 299.0,989.5 301.0,987.0 Z" fill="#c8602a" opacity="0.82"/>
<ellipse cx="366" cy="962" rx="6" ry="5" fill="#3e6db3"/>
<ellipse cx="232" cy="1104" rx="7" ry="5.5" fill="#2a7fb8"/>
<ellipse cx="440" cy="938" rx="14" ry="19" fill="#fbe985"/>
<ellipse cx="372" cy="926" rx="22" ry="9" fill="#ec7a45" opacity="0.8"/>
<ellipse cx="306" cy="935" rx="16" ry="9" fill="#f2c4c2" opacity="0.8"/>
</g>
<g opacity="0.9"><path stroke="#ef4a3a" stroke-width="2" fill="none" d="M73.2 923.2h2M97.2 929.3h2M39.5 987.3h2M115.9 914.2h2M92.1 1017.8h2M83.3 966.6h2M82.9 960.1h2M76.9 921.6h2M122.3 931.1h2M146.6 953.3h2M106.4 929.8h2M126.0 1013.5h2M67.3 981.3h2M126.7 978.2h2M148.1 987.8h2M146.5 953.1h2M138.7 920.9h2M66.4 973.7h2M108.2 936.4h2M149.1 987.4h2M111.5 998.5h2M81.6 942.2h2M135.3 952.3h2M124.8 931.1h2M86.2 996.5h2M144.9 965.2h2M111.0 918.6h2M48.1 972.1h2M108.9 942.0h2M104.2 911.0h2M102.4 1006.3h2M130.2 972.4h2M114.4 928.7h2M140.7 1000.8h2M86.1 982.4h2M62.1 992.6h2M155.7 924.1h2M145.4 938.4h2M80.8 999.5h2"/><path stroke="#d9161a" stroke-width="1.5" fill="none" d="M63.5 978.0h1.5M118.5 1008.3h1.5M92.8 969.4h1.5M71.9 1006.6h1.5M146.6 915.7h1.5M79.8 984.1h1.5M121.8 954.1h1.5M81.0 981.7h1.5M111.7 1011.2h1.5M95.7 970.7h1.5M138.9 898.5h1.5M162.3 900.8h1.5M135.6 1012.9h1.5M149.3 967.2h1.5M133.6 916.9h1.5M47.8 975.8h1.5M149.8 937.2h1.5M136.1 911.1h1.5M61.1 983.5h1.5M130.3 899.9h1.5M77.6 998.4h1.5M47.6 976.4h1.5M70.1 976.0h1.5M75.1 943.7h1.5M129.3 997.8h1.5M111.9 987.2h1.5M132.3 996.1h1.5M153.6 920.3h1.5M98.6 1003.6h1.5M110.0 1018.9h1.5M99.3 925.5h1.5M112.8 987.0h1.5M102.3 984.1h1.5M124.7 963.9h1.5M111.2 916.1h1.5"/><path stroke="#d9161a" stroke-width="2" fill="none" d="M95.5 930.3h2M116.0 916.5h2M54.1 979.5h2M71.9 1014.7h2M142.6 933.1h2M71.9 1009.1h2M72.9 972.4h2M138.1 947.5h2M82.8 1000.2h2M93.8 961.5h2M91.8 1015.6h2M103.4 996.7h2M106.9 989.1h2M144.3 905.7h2M135.8 972.6h2M98.2 978.4h2M87.4 980.0h2M137.3 924.1h2M119.5 974.5h2M97.9 904.2h2M147.2 978.3h2M75.1 946.7h2M154.0 939.5h2M53.1 994.3h2M147.0 986.2h2M159.0 959.6h2M154.9 917.0h2M104.0 905.7h2M130.6 945.5h2M154.1 933.6h2M100.8 916.2h2M135.8 947.6h2M130.8 966.6h2"/><path stroke="#f03a30" stroke-width="1" fill="none" d="M127.4 937.8h1M128.2 899.9h1M161.5 907.9h1M149.7 898.6h1M153.4 977.1h1M82.8 965.6h1M116.5 976.8h1M121.2 995.9h1M148.8 936.8h1M87.1 951.5h1M76.6 987.1h1M126.7 902.0h1M49.8 987.3h1M135.5 935.2h1M153.1 966.6h1M139.2 982.8h1M88.8 993.6h1M114.0 919.2h1"/><path stroke="#e8231f" stroke-width="1" fill="none" d="M83.9 938.3h1M103.2 905.7h1M108.9 969.8h1M108.6 949.1h1M153.1 921.1h1M72.2 995.4h1M70.3 1005.0h1M159.3 920.8h1M110.4 996.1h1M109.9 1011.9h1M46.6 1001.1h1M133.3 942.0h1M92.2 994.0h1M155.3 957.3h1M53.7 951.9h1M84.8 945.9h1M56.9 981.7h1M153.9 923.1h1M136.4 978.0h1M86.3 971.9h1M105.1 1002.1h1"/><path stroke="#e31a1c" stroke-width="2" fill="none" d="M131.4 963.6h2M150.2 935.0h2M111.1 955.4h2M147.9 923.1h2M151.4 968.6h2M66.0 998.1h2M95.1 915.0h2M135.4 943.3h2M116.8 1012.9h2M130.2 957.4h2M97.1 909.6h2M157.4 932.1h2M68.6 943.8h2M43.6 990.4h2M102.3 970.5h2M86.6 935.3h2M116.0 943.8h2M96.8 980.4h2M76.3 1018.4h2M144.3 927.6h2M119.3 954.3h2M90.6 1007.0h2M111.7 968.4h2M116.1 941.4h2M155.3 934.5h2M85.1 1016.5h2M155.4 955.4h2M81.3 977.3h2M156.3 961.4h2M119.9 917.9h2M125.1 909.8h2M105.1 987.4h2M126.4 947.4h2M104.4 966.7h2M156.9 946.9h2M157.5 899.2h2M60.5 1004.8h2M129.8 957.5h2M107.3 902.3h2M136.4 993.1h2M80.2 943.4h2M158.5 950.1h2M84.2 1016.1h2M145.7 943.4h2M162.0 932.0h2"/><path stroke="#f03a30" stroke-width="1.5" fill="none" d="M148.9 943.2h1.5M134.1 993.2h1.5M126.3 986.1h1.5M122.1 967.1h1.5M126.0 1004.1h1.5M150.3 927.9h1.5M42.9 971.1h1.5M100.0 925.1h1.5M71.3 936.4h1.5M92.8 942.0h1.5M80.3 984.8h1.5M155.9 950.8h1.5M135.3 920.5h1.5M148.8 951.8h1.5M108.6 964.2h1.5M154.8 912.7h1.5M118.4 1010.6h1.5M150.2 941.4h1.5M133.9 928.0h1.5M121.8 1001.6h1.5M89.0 988.2h1.5M90.3 937.8h1.5M159.1 922.8h1.5M157.1 947.7h1.5M104.0 1021.6h1.5M59.3 951.4h1.5M111.5 962.4h1.5M128.8 965.1h1.5M139.4 924.7h1.5M100.0 920.5h1.5M85.8 1021.3h1.5M78.8 944.9h1.5M149.8 904.8h1.5M143.4 926.1h1.5M114.5 980.9h1.5M88.8 925.1h1.5M86.7 963.0h1.5M48.6 1003.1h1.5M49.5 965.6h1.5"/><path stroke="#e8231f" stroke-width="2" fill="none" d="M58.8 940.3h2M66.1 936.3h2M67.3 1011.1h2M77.5 1010.3h2M101.3 925.9h2M68.0 937.8h2M87.9 993.6h2M154.1 970.7h2M127.2 933.3h2M120.7 957.7h2M74.9 930.9h2M122.8 946.1h2M108.7 906.5h2M94.8 983.9h2M83.9 932.6h2M73.1 967.4h2M161.8 932.5h2M94.8 1016.9h2M102.0 1001.8h2M63.3 972.1h2M74.7 977.5h2M95.5 960.6h2M105.3 993.6h2M91.3 934.1h2M131.6 978.0h2M88.3 910.9h2M62.1 1007.2h2M141.6 948.5h2M114.0 952.0h2M94.2 964.0h2M105.8 929.9h2M56.5 1000.2h2M49.0 974.2h2M158.7 951.8h2M158.7 921.5h2"/><path stroke="#ef4a3a" stroke-width="1" fill="none" d="M78.4 928.5h1M69.6 966.3h1M144.5 933.6h1M107.4 990.3h1M161.0 904.3h1M93.9 1020.8h1M139.9 966.9h1M75.7 946.1h1M118.6 900.9h1M159.5 905.0h1M148.7 1000.3h1M94.1 983.9h1M47.6 994.7h1M133.7 916.6h1M84.8 995.8h1M149.3 936.3h1M137.6 960.1h1M114.3 1007.8h1M49.3 1002.8h1M76.8 929.4h1M54.5 985.3h1M149.9 965.4h1M132.1 936.8h1M113.8 968.8h1M136.7 928.1h1M130.3 918.5h1M105.3 934.4h1M116.1 918.8h1M105.1 1008.5h1M48.0 966.7h1M55.0 1004.8h1M90.3 932.6h1M55.9 964.4h1M66.0 952.7h1M154.8 978.9h1M110.4 1004.5h1M138.3 952.0h1"/><path stroke="#d9161a" stroke-width="1" fill="none" d="M151.2 976.8h1M94.1 960.7h1M81.4 1005.0h1M122.7 956.7h1M133.9 1013.2h1M159.6 919.7h1M68.5 955.0h1M115.7 990.3h1M93.8 988.2h1M109.1 960.5h1M124.1 928.7h1M122.6 897.3h1M149.4 990.1h1M134.3 995.0h1M129.7 1015.5h1M139.6 959.5h1M118.0 973.1h1M149.7 988.8h1M90.9 986.4h1M97.9 918.8h1M116.7 922.2h1M80.0 961.0h1M91.0 966.5h1M108.7 901.2h1M72.4 928.6h1"/><path stroke="#ef4a3a" stroke-width="1.5" fill="none" d="M125.1 971.1h1.5M103.0 908.0h1.5M103.8 930.1h1.5M70.0 1013.2h1.5M46.7 1005.3h1.5M110.1 907.1h1.5M116.4 986.9h1.5M71.2 926.1h1.5M97.5 927.3h1.5M85.2 965.5h1.5M67.5 987.2h1.5M62.5 989.4h1.5M122.6 1014.5h1.5M45.6 996.3h1.5M69.2 965.3h1.5M136.9 1004.3h1.5M106.8 944.3h1.5M115.9 902.7h1.5M52.2 981.6h1.5M123.4 900.1h1.5M60.7 993.8h1.5M116.7 959.6h1.5M111.2 918.5h1.5M138.9 959.6h1.5M162.8 903.0h1.5M82.1 988.7h1.5M137.6 941.4h1.5M132.2 958.5h1.5M79.3 985.6h1.5M91.3 976.6h1.5M162.8 911.1h1.5M112.7 900.5h1.5M150.9 978.5h1.5M87.5 952.3h1.5M134.6 919.9h1.5M115.6 960.6h1.5M65.4 1000.9h1.5M127.1 911.9h1.5M156.8 937.4h1.5M96.2 1021.6h1.5M68.0 1012.3h1.5M104.7 947.5h1.5M52.6 966.9h1.5M92.2 942.8h1.5M107.6 996.1h1.5"/><path stroke="#f03a30" stroke-width="2" fill="none" d="M93.6 952.9h2M88.0 1013.8h2M85.3 914.8h2M150.8 897.7h2M80.0 1005.8h2M80.9 999.9h2M128.5 950.6h2M134.1 967.9h2M140.1 938.3h2M137.3 943.5h2M94.0 971.5h2M147.8 937.0h2M103.1 1007.8h2M140.6 974.1h2M146.9 931.2h2M81.4 918.6h2M148.3 935.6h2M128.7 933.1h2M81.8 940.1h2M76.2 1015.8h2M82.6 1014.8h2M99.1 920.2h2M61.8 991.0h2M58.4 982.9h2M126.4 976.8h2M110.2 966.5h2M96.8 925.8h2M129.1 976.1h2M79.7 930.6h2"/><path stroke="#e8231f" stroke-width="1.5" fill="none" d="M155.6 971.4h1.5M159.2 905.3h1.5M93.2 948.8h1.5M50.5 978.2h1.5M99.0 1012.7h1.5M54.8 977.4h1.5M85.3 965.4h1.5M123.0 936.8h1.5M116.8 933.0h1.5M147.7 992.9h1.5M120.3 911.7h1.5M121.2 994.9h1.5M47.7 983.2h1.5M74.4 955.9h1.5M77.1 974.2h1.5M98.2 946.8h1.5M140.3 985.7h1.5M93.5 906.9h1.5M75.7 959.4h1.5M113.1 966.6h1.5M102.9 914.2h1.5M51.2 1010.1h1.5M50.0 980.6h1.5M85.8 990.5h1.5M42.7 977.6h1.5M116.7 950.3h1.5M95.6 942.0h1.5M95.9 1010.0h1.5M97.8 1007.5h1.5M111.0 919.3h1.5M141.0 931.7h1.5M150.2 895.4h1.5M112.0 900.1h1.5M87.7 927.1h1.5M125.6 1003.5h1.5M95.5 965.7h1.5M148.6 895.8h1.5M93.6 948.5h1.5"/><path stroke="#e31a1c" stroke-width="1" fill="none" d="M106.6 912.1h1M64.1 986.2h1M136.7 976.1h1M98.8 1003.4h1M126.8 985.0h1M80.4 954.0h1M83.9 949.5h1M153.4 981.3h1M91.6 989.6h1M91.9 908.6h1M76.6 976.9h1M146.5 948.9h1M123.1 942.2h1M73.0 991.2h1M135.8 931.3h1M102.6 916.2h1M84.4 917.2h1M140.6 911.8h1M139.6 952.9h1M104.0 925.2h1M138.7 959.4h1M54.6 1007.9h1M82.3 951.0h1M105.4 999.0h1M61.0 992.9h1"/><path stroke="#e31a1c" stroke-width="1.5" fill="none" d="M69.5 970.8h1.5M130.1 932.9h1.5M158.7 932.7h1.5M100.5 929.4h1.5M100.7 950.1h1.5M75.4 1015.8h1.5M127.6 1015.7h1.5M96.2 934.8h1.5M104.4 974.4h1.5M130.9 1002.1h1.5M146.2 919.9h1.5M93.0 1008.6h1.5M49.7 962.6h1.5M94.7 948.9h1.5M88.8 989.8h1.5M79.4 1019.3h1.5M136.5 994.5h1.5M93.9 945.8h1.5M80.0 932.3h1.5M160.0 912.6h1.5M75.1 1017.5h1.5M114.0 959.6h1.5M62.4 951.1h1.5M128.2 983.2h1.5M74.8 968.1h1.5M141.5 952.7h1.5M85.9 1009.1h1.5M97.3 986.9h1.5M154.7 974.9h1.5M120.3 943.3h1.5M84.0 1008.0h1.5M108.5 1015.8h1.5M76.3 966.9h1.5M159.3 920.1h1.5M142.8 996.7h1.5M99.3 945.9h1.5"/></g>
<g opacity="0.9"><path stroke="#fdbf6f" stroke-width="1.5" fill="none" d="M156.2 911.4h1.5M158.4 915.6h1.5M192.4 921.3h1.5M181.5 942.3h1.5M189.3 923.4h1.5M186.6 930.4h1.5M172.6 899.0h1.5M175.2 915.2h1.5M173.3 914.8h1.5M178.0 943.2h1.5M209.7 936.0h1.5M197.2 918.3h1.5M168.2 947.3h1.5M179.6 934.4h1.5M203.9 916.6h1.5M200.9 909.7h1.5M166.8 922.7h1.5M151.3 942.2h1.5"/><path stroke="#fb9a99" stroke-width="2" fill="none" d="M175.4 945.4h2M170.3 911.6h2M158.4 958.5h2M176.6 930.9h2M157.3 923.4h2"/><path stroke="#ff7f00" stroke-width="1" fill="none" d="M156.0 901.1h1M168.5 956.2h1M183.4 917.8h1M195.0 915.9h1M164.3 921.6h1M156.8 915.0h1M157.4 952.5h1M155.2 918.6h1M180.5 903.4h1M155.6 938.5h1M160.5 910.3h1M160.1 953.8h1M172.8 923.1h1M186.1 934.3h1"/><path stroke="#fb9a99" stroke-width="1.5" fill="none" d="M183.2 933.6h1.5M174.9 902.4h1.5M168.1 947.1h1.5M182.4 936.9h1.5M197.9 922.8h1.5M177.6 943.3h1.5M174.2 942.5h1.5M177.5 938.5h1.5M149.8 941.7h1.5M178.2 955.9h1.5M172.8 908.1h1.5M165.0 927.5h1.5"/><path stroke="#ff7f00" stroke-width="1.5" fill="none" d="M173.7 925.8h1.5M156.6 951.6h1.5M174.3 907.2h1.5M212.6 928.6h1.5M179.0 927.4h1.5M155.1 959.9h1.5M157.7 899.5h1.5M205.8 932.8h1.5M159.3 916.6h1.5M189.2 915.5h1.5M159.8 958.6h1.5M176.3 954.8h1.5M203.4 919.7h1.5M169.4 921.4h1.5M167.2 904.4h1.5M170.5 913.3h1.5M188.6 939.0h1.5M168.5 955.5h1.5M171.6 942.5h1.5"/><path stroke="#e31a1c" stroke-width="1" fill="none" d="M182.0 917.6h1M166.3 952.3h1M160.6 895.3h1M173.0 956.2h1M185.7 931.4h1M184.8 906.3h1M192.0 940.5h1M166.5 913.4h1M160.3 914.1h1M182.3 937.1h1"/><path stroke="#f07a43" stroke-width="1.5" fill="none" d="M197.9 929.3h1.5M187.1 948.3h1.5M189.7 949.3h1.5M209.6 934.3h1.5M155.8 950.4h1.5M175.6 945.0h1.5M187.1 932.7h1.5M183.2 928.9h1.5M166.1 919.7h1.5M156.2 901.8h1.5M171.7 932.6h1.5M170.9 900.0h1.5M166.5 937.8h1.5M207.4 919.5h1.5M154.7 932.0h1.5M164.0 914.9h1.5M205.6 938.1h1.5"/><path stroke="#fdbf6f" stroke-width="1" fill="none" d="M178.7 923.3h1M160.4 905.7h1M177.3 900.6h1M170.6 931.6h1M194.1 906.1h1M174.0 943.7h1M159.4 901.3h1M190.3 926.7h1"/><path stroke="#e31a1c" stroke-width="2" fill="none" d="M162.6 945.4h2M203.3 919.6h2M211.9 929.5h2M173.8 900.1h2M152.0 937.0h2M160.4 926.6h2M195.1 943.9h2M164.4 918.2h2M178.8 926.0h2M154.5 934.3h2M197.3 931.7h2M166.0 956.0h2"/><path stroke="#fb9a99" stroke-width="1" fill="none" d="M170.5 925.2h1M211.8 927.0h1M199.2 924.1h1M181.3 933.2h1M166.3 897.2h1M151.9 952.3h1M163.7 929.1h1M189.9 911.0h1M207.3 926.6h1M200.9 942.8h1M186.8 910.3h1M198.4 940.7h1M196.0 942.0h1"/><path stroke="#ccebc5" stroke-width="1.5" fill="none" d="M183.8 937.6h1.5M158.3 920.8h1.5M154.7 901.5h1.5M181.7 902.3h1.5M177.0 921.7h1.5M208.4 917.2h1.5M155.0 911.4h1.5M160.5 959.7h1.5M207.4 927.8h1.5M193.1 948.9h1.5M164.0 898.8h1.5M156.4 904.8h1.5M206.9 912.4h1.5"/><path stroke="#f07a43" stroke-width="1" fill="none" d="M169.8 924.7h1M170.4 941.7h1M153.7 954.0h1M153.5 925.7h1M153.1 938.9h1M208.6 924.2h1M160.9 915.9h1M166.5 911.2h1M210.0 932.2h1M150.3 949.3h1M203.2 929.0h1M187.7 917.9h1M191.7 934.8h1M205.2 925.3h1"/><path stroke="#ccebc5" stroke-width="1" fill="none" d="M199.2 914.1h1M185.3 902.1h1M181.7 916.1h1M191.3 939.9h1M165.4 937.7h1M189.7 913.1h1M165.1 956.5h1M181.7 928.7h1M167.5 897.4h1M157.8 949.4h1M157.1 957.6h1M167.1 924.4h1M204.7 916.2h1M195.5 904.0h1M162.3 949.6h1"/><path stroke="#ccebc5" stroke-width="2" fill="none" d="M200.2 910.9h2M160.0 905.5h2M209.4 916.4h2M153.9 908.6h2M158.1 908.4h2M150.9 941.9h2M211.6 921.2h2M151.1 935.4h2M173.8 950.5h2M176.0 932.1h2M178.0 912.6h2M195.8 922.0h2"/><path stroke="#e31a1c" stroke-width="1.5" fill="none" d="M157.9 945.0h1.5M157.2 952.2h1.5M153.2 942.5h1.5M193.5 902.5h1.5M184.0 910.7h1.5M164.4 909.4h1.5M173.7 957.9h1.5M193.2 943.6h1.5M174.9 931.6h1.5M153.1 945.1h1.5M201.8 940.1h1.5M193.7 950.0h1.5M168.7 904.8h1.5"/><path stroke="#fdbf6f" stroke-width="2" fill="none" d="M214.5 923.7h2M150.8 951.8h2M191.6 947.5h2M173.6 928.6h2M197.3 931.6h2M175.8 930.9h2M188.8 909.4h2M183.9 946.4h2M163.6 932.9h2M155.9 917.9h2M211.7 925.1h2M161.7 950.8h2M152.3 952.2h2"/><path stroke="#f07a43" stroke-width="2" fill="none" d="M207.2 915.2h2M163.5 951.7h2M170.9 936.1h2M164.7 945.0h2"/><path stroke="#ff7f00" stroke-width="2" fill="none" d="M171.7 903.1h2M188.6 935.7h2M166.2 916.1h2M159.4 941.0h2M171.2 916.6h2M175.5 921.5h2M192.0 929.4h2M156.1 899.3h2"/></g>
<g opacity="0.9"><path stroke="#b7e0ad" stroke-width="2" fill="none" d="M267.2 936.1h2M252.2 932.3h2M198.0 924.7h2M248.8 940.2h2M289.1 919.4h2M249.4 931.2h2M266.9 933.7h2M218.4 952.2h2M213.1 924.6h2"/><path stroke="#b7e0ad" stroke-width="1.5" fill="none" d="M227.1 934.4h1.5M269.1 934.7h1.5M249.6 934.4h1.5M277.8 933.6h1.5M229.3 945.1h1.5M293.6 920.8h1.5M257.9 925.7h1.5M234.0 927.8h1.5M246.0 946.7h1.5M238.1 935.7h1.5M274.0 934.9h1.5M284.5 926.1h1.5M214.1 948.9h1.5"/><path stroke="#fdbf6f" stroke-width="1" fill="none" d="M265.4 924.2h1M203.9 935.0h1M218.9 948.4h1M214.4 948.1h1M217.3 940.4h1M268.4 921.1h1M205.7 924.1h1M223.2 944.4h1M200.0 918.2h1M255.2 938.4h1M227.3 940.8h1M277.5 923.8h1"/><path stroke="#fdbf6f" stroke-width="1.5" fill="none" d="M240.6 951.2h1.5M227.6 927.2h1.5M227.9 942.1h1.5M255.6 941.8h1.5M276.5 924.4h1.5M281.3 921.0h1.5M250.5 936.0h1.5M275.2 921.6h1.5M239.2 933.6h1.5M226.7 943.1h1.5M291.4 928.3h1.5M269.5 921.6h1.5M225.3 929.9h1.5M299.9 928.5h1.5"/><path stroke="#ccebc5" stroke-width="1.5" fill="none" d="M201.7 941.0h1.5M200.0 923.5h1.5M213.9 930.2h1.5M235.8 941.3h1.5M270.4 923.7h1.5M262.0 943.7h1.5M274.3 919.3h1.5M231.9 936.5h1.5M272.0 930.1h1.5M249.4 943.4h1.5M227.9 947.3h1.5M291.2 923.2h1.5M252.7 941.3h1.5M277.1 933.1h1.5M208.1 942.5h1.5M290.5 923.4h1.5M286.9 920.8h1.5M235.9 930.7h1.5M215.8 930.0h1.5M266.1 932.2h1.5M256.8 921.9h1.5"/><path stroke="#fed9a6" stroke-width="1" fill="none" d="M246.1 923.0h1M242.0 942.9h1M233.9 931.7h1M205.3 935.3h1M207.3 939.8h1M251.2 946.9h1M246.2 936.7h1M288.7 920.9h1"/><path stroke="#fed9a6" stroke-width="1.5" fill="none" d="M210.6 923.5h1.5M276.7 922.2h1.5M209.7 932.9h1.5M240.2 930.8h1.5M286.3 930.0h1.5M208.1 931.6h1.5M247.2 938.4h1.5M241.9 944.7h1.5M201.3 924.4h1.5M282.6 918.6h1.5M219.6 933.8h1.5M248.2 948.6h1.5M274.0 937.7h1.5M217.6 937.3h1.5M215.8 922.5h1.5M233.4 950.4h1.5M219.0 939.9h1.5"/><path stroke="#ccebc5" stroke-width="1" fill="none" d="M211.2 950.0h1M247.7 940.6h1M220.0 950.5h1M236.7 938.9h1M207.5 948.9h1M250.2 940.1h1M247.0 924.7h1M266.9 921.2h1M298.2 927.1h1M254.3 926.9h1M209.6 941.6h1"/><path stroke="#fed9a6" stroke-width="2" fill="none" d="M234.1 923.3h2M247.2 935.4h2M225.0 954.5h2M274.8 923.9h2M231.1 927.5h2M230.0 952.6h2M202.9 942.7h2M284.6 924.0h2M250.8 930.9h2"/><path stroke="#b7e0ad" stroke-width="1" fill="none" d="M272.7 919.3h1M208.0 943.3h1M200.9 925.7h1M254.1 930.3h1M200.3 926.4h1M279.1 928.0h1M297.6 922.0h1M264.4 918.5h1M276.3 920.9h1M276.7 924.5h1M220.4 935.9h1M247.0 934.5h1M264.6 931.8h1M290.4 921.1h1"/><path stroke="#fdbf6f" stroke-width="2" fill="none" d="M264.6 928.9h2M202.0 926.5h2M221.2 947.3h2M236.4 932.5h2M228.3 945.9h2M216.9 939.1h2M200.5 924.0h2"/><path stroke="#ccebc5" stroke-width="2" fill="none" d="M211.8 949.0h2M207.4 932.4h2M270.3 918.6h2M237.1 952.7h2M250.8 932.0h2"/></g>
<g opacity="0.9"><path stroke="#f48d8a" stroke-width="1" fill="none" d="M192.1 1034.6h1M181.8 1021.1h1M167.0 1038.9h1M193.8 1027.5h1M203.4 990.8h1M180.2 1017.7h1M150.7 1004.1h1M214.4 1020.7h1M162.5 1044.7h1M146.3 1006.6h1M182.2 1047.3h1M178.0 1006.5h1M182.2 1059.1h1M137.3 1030.5h1M177.2 1051.5h1M182.4 1053.4h1M211.8 1062.6h1M190.6 1039.8h1M139.6 1029.6h1M166.7 1041.6h1M162.0 1042.8h1M131.0 1022.5h1M185.9 1054.5h1M163.3 1022.9h1M198.2 1019.2h1M174.1 1043.5h1M172.6 1067.9h1M158.2 1062.2h1M167.1 1066.1h1M193.6 1004.8h1M187.2 1001.0h1"/><path stroke="#fb9a99" stroke-width="1" fill="none" d="M137.0 1021.4h1M180.3 1025.6h1M173.4 990.3h1M156.1 1024.3h1M198.6 985.2h1M155.1 1069.0h1M166.5 1009.7h1M148.9 990.8h1M135.1 1037.0h1M155.4 1047.2h1M162.4 1000.6h1M202.1 1062.5h1M193.1 1046.6h1M159.0 1023.0h1M145.3 1002.6h1M189.4 1006.9h1M199.3 1044.6h1M157.3 999.6h1M183.9 989.0h1"/><path stroke="#fb9a99" stroke-width="1.5" fill="none" d="M189.8 1071.1h1.5M194.7 1035.9h1.5M208.6 1022.0h1.5M172.5 1009.4h1.5M208.3 1063.5h1.5M191.2 1035.8h1.5M191.3 1051.0h1.5M165.3 1023.4h1.5M209.7 1025.1h1.5M191.2 1059.9h1.5M195.9 1077.4h1.5M184.7 986.9h1.5M158.2 996.6h1.5M146.0 1056.3h1.5M145.9 993.3h1.5M136.1 1048.1h1.5M159.6 1010.3h1.5M207.2 1034.3h1.5M191.1 1016.2h1.5M197.2 1053.8h1.5M222.6 996.2h1.5M154.3 1010.6h1.5M150.0 1021.3h1.5M217.4 1008.6h1.5M185.6 1035.3h1.5M176.0 1026.1h1.5M213.9 990.7h1.5M150.6 987.9h1.5M157.7 1015.8h1.5"/><path stroke="#fb9a99" stroke-width="2" fill="none" d="M139.5 1049.8h2M190.4 1003.8h2M191.0 1024.6h2M182.7 1057.2h2M165.9 1029.3h2M160.0 1006.5h2M139.3 1024.1h2M184.7 1046.2h2M153.2 1022.2h2M210.8 1046.5h2M161.7 1039.7h2M201.7 1023.5h2M181.9 1029.2h2M191.7 1039.7h2M176.1 1065.1h2M191.4 1015.4h2"/><path stroke="#e31a1c" stroke-width="2" fill="none" d="M199.5 1027.0h2M190.7 1056.2h2M187.3 1053.2h2M206.7 1059.5h2M197.9 1073.3h2M145.7 995.1h2M211.0 1055.9h2M198.8 990.4h2M176.8 985.3h2M158.5 1058.0h2M169.5 1008.6h2M165.8 997.8h2M140.0 1041.0h2M195.3 1076.4h2M206.8 1018.9h2M145.4 1051.2h2M147.0 1019.1h2M216.0 986.4h2M200.9 1021.5h2M179.6 1033.9h2M192.3 996.2h2"/><path stroke="#f8a9a6" stroke-width="1.5" fill="none" d="M158.3 1071.0h1.5M150.4 1038.9h1.5M187.6 1060.9h1.5M149.5 1061.9h1.5M193.1 1082.7h1.5M166.5 1023.9h1.5M177.2 985.2h1.5M164.4 1025.0h1.5M176.2 1062.6h1.5M198.6 999.6h1.5M149.1 1051.9h1.5M139.8 1056.0h1.5M149.4 1049.3h1.5M202.3 1081.6h1.5M161.9 1040.2h1.5M195.0 1003.7h1.5M141.4 1025.2h1.5M152.6 1018.1h1.5M215.9 1014.8h1.5M172.9 1074.2h1.5M178.9 1016.4h1.5M139.2 1016.3h1.5M193.2 992.7h1.5M148.6 989.7h1.5M146.2 1012.4h1.5M199.2 1011.4h1.5M179.5 1056.4h1.5M171.3 1017.3h1.5M209.6 1072.2h1.5M132.7 1032.0h1.5M150.7 1018.9h1.5"/><path stroke="#f48d8a" stroke-width="1.5" fill="none" d="M170.8 994.8h1.5M156.1 1037.3h1.5M202.3 1039.6h1.5M179.8 1004.0h1.5M175.6 996.2h1.5M153.7 1030.9h1.5M148.5 1026.2h1.5M213.5 993.8h1.5M187.5 1048.6h1.5M215.6 1016.4h1.5M181.5 1063.4h1.5M153.3 999.2h1.5M171.9 1062.0h1.5M191.7 1020.3h1.5M185.7 1039.5h1.5M146.8 1002.1h1.5M195.5 1037.1h1.5M177.5 1058.0h1.5M203.7 1005.2h1.5M167.6 1073.9h1.5M171.6 1041.0h1.5M204.2 1065.6h1.5M167.8 1021.9h1.5M148.0 1054.7h1.5M166.0 987.8h1.5M192.5 1072.6h1.5M213.1 1013.9h1.5M185.3 986.1h1.5M186.9 1022.8h1.5M218.5 994.5h1.5"/><path stroke="#e31a1c" stroke-width="1.5" fill="none" d="M215.1 1049.5h1.5M177.7 1037.8h1.5M165.5 1050.9h1.5M200.7 1044.2h1.5M207.8 1077.2h1.5M188.9 1029.4h1.5M169.4 1000.4h1.5M200.4 1039.6h1.5M149.0 1002.7h1.5M201.8 1049.4h1.5M209.7 990.3h1.5M189.3 1014.0h1.5M198.5 1031.4h1.5M172.7 1061.1h1.5M198.7 1073.7h1.5M153.8 1042.5h1.5M206.4 995.5h1.5M172.5 1002.0h1.5"/><path stroke="#e31a1c" stroke-width="1" fill="none" d="M208.0 1078.0h1M227.1 992.6h1M199.8 1010.1h1M151.1 1023.3h1M140.5 1045.2h1M209.3 1038.3h1M193.4 1045.2h1M216.0 1005.6h1M210.2 1027.4h1M205.0 1041.0h1M205.9 1031.6h1M189.5 992.7h1M177.3 1000.2h1M206.1 985.5h1M169.2 1016.0h1M188.8 1054.6h1M201.5 996.2h1M150.3 1045.6h1M166.8 1021.5h1M200.2 1015.1h1M198.4 1042.8h1"/><path stroke="#f8a9a6" stroke-width="1" fill="none" d="M197.1 1065.3h1M221.2 1011.7h1M218.5 1021.7h1M171.3 1002.2h1M160.9 1008.5h1M212.5 1005.8h1M211.4 1066.0h1M150.0 1056.8h1M139.8 1049.2h1M147.9 987.1h1M152.1 1055.1h1M141.2 1028.6h1M184.0 1004.5h1M205.9 1044.6h1M152.3 1050.5h1M139.2 1033.6h1M186.4 1049.3h1M202.7 1079.1h1M163.1 992.7h1M217.9 1007.0h1M202.1 1045.0h1M177.3 987.5h1M147.6 1021.0h1"/><path stroke="#f48d8a" stroke-width="2" fill="none" d="M177.5 1019.5h2M181.5 1055.8h2M166.0 1040.0h2M142.7 1007.5h2M171.1 1047.2h2M147.1 1012.6h2M149.1 1028.0h2M215.0 1050.5h2M178.2 1052.7h2M164.0 1032.4h2"/><path stroke="#f8a9a6" stroke-width="2" fill="none" d="M148.4 1058.4h2M215.2 1003.9h2M184.7 997.9h2M160.0 1060.3h2M157.5 1066.8h2M206.8 1077.9h2M138.6 1034.2h2M192.1 1028.1h2M138.9 1022.3h2M158.0 987.6h2M207.2 998.7h2"/></g>
<g opacity="0.9"><path stroke="#e31a1c" stroke-width="2" fill="none" d="M173.6 1076.2h2M169.0 1087.4h2M157.2 1104.9h2M196.0 1081.7h2M172.9 1091.8h2M176.2 1094.2h2M180.9 1113.0h2M162.5 1074.4h2M170.2 1080.5h2M171.4 1112.5h2M158.3 1111.7h2M174.7 1075.4h2M195.5 1095.3h2"/><path stroke="#e31a1c" stroke-width="1.5" fill="none" d="M152.9 1085.5h1.5M191.9 1097.3h1.5M181.0 1105.5h1.5M184.5 1093.1h1.5M182.5 1106.9h1.5M178.6 1113.9h1.5M152.2 1103.2h1.5M167.4 1078.9h1.5M194.9 1081.6h1.5M177.2 1092.1h1.5M153.0 1097.3h1.5M176.4 1119.0h1.5M168.0 1114.4h1.5M149.6 1076.5h1.5M159.0 1103.1h1.5M155.3 1086.8h1.5"/><path stroke="#55b040" stroke-width="1" fill="none" d="M173.9 1119.2h1M178.9 1120.9h1M168.9 1086.4h1M164.2 1089.5h1M187.7 1101.3h1M180.7 1086.1h1M195.2 1093.1h1M186.3 1090.4h1M196.8 1107.9h1M175.7 1091.2h1"/><path stroke="#55b040" stroke-width="2" fill="none" d="M198.6 1090.1h2M181.7 1096.4h2M188.4 1097.3h2M154.6 1073.3h2M174.7 1111.8h2M176.6 1105.3h2M170.5 1097.2h2M190.6 1106.1h2M183.4 1118.9h2M174.5 1099.4h2"/><path stroke="#33a02c" stroke-width="1.5" fill="none" d="M191.7 1116.0h1.5M163.3 1087.5h1.5M153.9 1100.7h1.5M185.8 1097.7h1.5M189.5 1107.7h1.5M192.8 1102.2h1.5M168.9 1085.8h1.5M161.9 1110.6h1.5M177.8 1091.9h1.5M156.0 1086.5h1.5M160.7 1075.2h1.5M182.0 1116.4h1.5M149.3 1099.3h1.5M175.7 1091.6h1.5M172.8 1081.8h1.5M185.0 1077.6h1.5M157.9 1115.4h1.5M166.8 1094.9h1.5"/><path stroke="#2c9a2a" stroke-width="1.5" fill="none" d="M151.2 1075.0h1.5M178.0 1104.3h1.5M167.3 1121.1h1.5M190.6 1081.6h1.5M156.9 1090.2h1.5M168.8 1106.6h1.5M168.6 1109.7h1.5M181.7 1078.5h1.5M174.7 1116.1h1.5M165.7 1121.0h1.5M189.9 1077.9h1.5M191.8 1102.6h1.5M188.8 1115.3h1.5M189.7 1106.2h1.5M168.0 1101.9h1.5M183.8 1106.5h1.5"/><path stroke="#33a02c" stroke-width="1" fill="none" d="M170.2 1106.8h1M185.0 1075.9h1M199.4 1099.4h1M159.8 1083.8h1M180.8 1116.3h1M198.6 1106.8h1M166.2 1084.8h1M190.1 1084.2h1M177.5 1108.2h1M165.5 1120.1h1M172.1 1118.0h1M173.5 1102.1h1M189.0 1118.0h1"/><path stroke="#e31a1c" stroke-width="1" fill="none" d="M160.9 1081.7h1M179.3 1106.3h1M198.1 1097.2h1M197.7 1105.8h1M151.6 1099.9h1M179.9 1098.2h1M164.1 1103.2h1M202.2 1093.4h1M197.5 1086.4h1"/><path stroke="#2c9a2a" stroke-width="2" fill="none" d="M191.4 1092.4h2M155.6 1116.4h2M197.5 1106.3h2M189.0 1101.4h2M187.2 1075.6h2M157.5 1072.9h2M155.3 1079.5h2M170.8 1112.2h2M160.9 1078.5h2M182.2 1115.2h2M194.4 1084.1h2M188.8 1109.3h2"/><path stroke="#33a02c" stroke-width="2" fill="none" d="M193.5 1078.6h2M187.7 1118.0h2M173.5 1073.4h2M161.2 1102.8h2M154.9 1084.2h2M178.2 1105.1h2M151.4 1108.0h2M170.1 1108.0h2M175.5 1120.6h2M149.6 1072.2h2M152.9 1101.8h2M175.4 1077.7h2"/><path stroke="#2c9a2a" stroke-width="1" fill="none" d="M165.8 1103.1h1M198.1 1102.6h1M184.4 1088.4h1M173.3 1104.7h1M198.3 1101.7h1M175.3 1111.3h1M180.7 1086.6h1M148.4 1094.7h1M160.4 1074.6h1M173.0 1089.3h1M182.9 1120.7h1M159.8 1084.4h1M161.4 1091.8h1"/><path stroke="#55b040" stroke-width="1.5" fill="none" d="M158.5 1105.3h1.5M182.7 1099.8h1.5M159.3 1108.1h1.5M181.7 1103.7h1.5M174.9 1072.3h1.5M199.4 1106.6h1.5M183.6 1084.1h1.5M189.7 1109.5h1.5"/></g>
<g opacity="0.9"><path stroke="#b2df8a" stroke-width="2" fill="none" d="M206.8 1103.0h2M206.2 1104.7h2M223.8 1112.5h2M184.7 1117.2h2M210.6 1119.4h2M198.6 1094.9h2M189.2 1110.8h2M188.8 1117.7h2M213.1 1095.6h2M199.9 1101.6h2M206.4 1089.0h2M209.5 1117.3h2M226.3 1110.4h2"/><path stroke="#4fae3c" stroke-width="2" fill="none" d="M205.9 1095.2h2M207.0 1097.7h2M220.2 1097.4h2M193.8 1101.7h2M213.2 1100.0h2M203.3 1088.3h2M201.3 1111.9h2"/><path stroke="#33a02c" stroke-width="1" fill="none" d="M192.2 1119.4h1M205.5 1109.2h1M218.0 1117.4h1M222.2 1115.1h1M219.5 1100.4h1M212.0 1092.5h1M198.7 1091.3h1M218.2 1114.9h1M197.9 1118.3h1M215.1 1115.0h1"/><path stroke="#8fd070" stroke-width="1.5" fill="none" d="M196.8 1110.7h1.5M209.4 1107.4h1.5M212.2 1098.4h1.5M198.9 1093.8h1.5M193.9 1094.4h1.5M198.4 1098.6h1.5M224.9 1113.9h1.5M200.3 1094.4h1.5M186.0 1115.7h1.5M228.0 1107.4h1.5"/><path stroke="#8fd070" stroke-width="2" fill="none" d="M197.6 1080.5h2M218.1 1112.6h2M211.2 1111.6h2M204.1 1101.1h2M192.5 1107.6h2M221.5 1115.1h2M200.7 1118.5h2M216.6 1114.9h2M214.8 1099.3h2M195.9 1116.1h2M224.2 1113.2h2M195.4 1111.8h2M218.0 1117.2h2M202.8 1095.6h2"/><path stroke="#b2df8a" stroke-width="1.5" fill="none" d="M225.7 1102.2h1.5M208.7 1108.3h1.5M190.1 1118.2h1.5M196.5 1110.8h1.5M209.3 1095.2h1.5M190.0 1113.1h1.5M206.6 1102.2h1.5M208.0 1095.7h1.5M204.8 1121.2h1.5M219.6 1105.0h1.5M225.1 1101.5h1.5M195.6 1105.5h1.5M218.6 1101.6h1.5"/><path stroke="#33a02c" stroke-width="1.5" fill="none" d="M216.4 1115.0h1.5M199.8 1122.0h1.5M192.8 1117.2h1.5M213.5 1094.6h1.5M222.0 1114.0h1.5M216.6 1110.1h1.5M222.1 1107.3h1.5M206.7 1122.2h1.5M213.5 1114.4h1.5M186.6 1114.7h1.5M197.1 1109.8h1.5"/><path stroke="#8fd070" stroke-width="1" fill="none" d="M200.8 1098.9h1M218.3 1109.0h1M199.0 1119.2h1M204.1 1121.0h1M213.6 1096.5h1M204.3 1121.1h1M205.8 1118.9h1M197.4 1100.7h1"/><path stroke="#33a02c" stroke-width="2" fill="none" d="M183.8 1122.2h2M220.1 1098.8h2M197.4 1116.2h2M200.9 1109.5h2M218.5 1105.7h2M198.6 1100.8h2M228.9 1109.7h2M215.1 1119.7h2M209.7 1114.6h2"/><path stroke="#4fae3c" stroke-width="1" fill="none" d="M208.0 1112.5h1M222.6 1113.4h1M207.0 1110.5h1M202.1 1087.3h1M197.5 1118.1h1M219.9 1114.5h1M215.9 1120.5h1M211.4 1106.4h1M203.2 1097.6h1"/><path stroke="#b2df8a" stroke-width="1" fill="none" d="M215.6 1107.6h1M201.8 1112.2h1M218.9 1103.7h1M220.8 1119.8h1M186.4 1117.8h1M215.3 1117.6h1M210.7 1099.8h1M188.6 1111.3h1"/><path stroke="#4fae3c" stroke-width="1.5" fill="none" d="M227.4 1107.4h1.5M217.2 1096.3h1.5M220.6 1117.1h1.5M207.8 1089.8h1.5M184.8 1117.4h1.5M195.3 1108.4h1.5M204.3 1102.0h1.5M198.5 1123.3h1.5"/></g>
<g opacity="0.9"><path stroke="#fbb4ae" stroke-width="1.5" fill="none" d="M294.1 890.2h1.5M281.0 914.9h1.5M291.7 914.8h1.5M265.6 898.3h1.5M324.6 899.3h1.5M311.7 926.8h1.5M273.8 892.5h1.5M293.8 887.8h1.5M323.2 908.3h1.5M315.6 904.0h1.5M317.0 905.8h1.5M307.1 882.7h1.5M307.0 890.6h1.5M314.8 911.6h1.5M294.1 900.1h1.5"/><path stroke="#6a3d9a" stroke-width="2" fill="none" d="M268.9 902.3h2M323.1 922.1h2M272.0 892.8h2M306.4 890.3h2M318.1 924.3h2M311.1 924.9h2M310.5 928.2h2M328.1 896.9h2M296.3 909.3h2M298.0 922.1h2M278.1 888.0h2"/><path stroke="#b15928" stroke-width="2" fill="none" d="M310.4 915.5h2M321.8 885.8h2M296.9 900.3h2M317.2 918.5h2M289.9 915.8h2M280.0 907.0h2M311.2 921.8h2M306.8 929.9h2M276.2 913.6h2M315.7 908.7h2"/><path stroke="#cab2d6" stroke-width="1" fill="none" d="M268.0 906.6h1M318.5 881.2h1M276.3 895.1h1M318.7 894.7h1M269.4 899.4h1M298.7 912.0h1M307.2 887.4h1M289.1 919.0h1M284.9 897.1h1"/><path stroke="#ff7f00" stroke-width="1.5" fill="none" d="M295.5 895.9h1.5M280.9 913.1h1.5M315.4 912.4h1.5M268.8 905.6h1.5M286.6 901.6h1.5M282.2 899.4h1.5M295.4 909.3h1.5M291.9 885.5h1.5M318.7 897.0h1.5M284.9 899.9h1.5"/><path stroke="#6a3d9a" stroke-width="1.5" fill="none" d="M263.4 904.0h1.5M323.6 883.9h1.5M320.4 904.4h1.5M295.9 907.2h1.5M319.0 909.9h1.5M283.9 920.7h1.5M306.0 911.6h1.5M317.3 884.2h1.5M290.7 918.5h1.5M293.8 896.7h1.5M328.5 891.3h1.5M314.0 907.2h1.5M303.3 901.9h1.5"/><path stroke="#ff7f00" stroke-width="2" fill="none" d="M309.3 884.1h2M287.5 908.6h2M313.8 911.9h2M307.4 881.6h2M329.1 905.2h2M289.7 922.3h2M298.7 879.3h2M290.0 895.1h2M317.0 880.3h2M305.6 899.2h2"/><path stroke="#fdbf6f" stroke-width="1.5" fill="none" d="M303.1 890.8h1.5M313.5 882.1h1.5M277.7 904.4h1.5M296.2 893.5h1.5M289.9 894.0h1.5M323.6 888.1h1.5M281.9 913.5h1.5M321.0 890.1h1.5M303.3 904.5h1.5M295.2 888.3h1.5M283.0 887.2h1.5M317.8 887.1h1.5"/><path stroke="#b15928" stroke-width="1.5" fill="none" d="M282.5 924.1h1.5M292.8 899.2h1.5M264.3 907.9h1.5M318.2 922.4h1.5M290.7 913.5h1.5M312.8 893.7h1.5M271.1 893.2h1.5M291.6 923.2h1.5M287.7 881.6h1.5M302.3 889.1h1.5M321.8 907.3h1.5"/><path stroke="#fbb4ae" stroke-width="1" fill="none" d="M298.7 900.0h1M320.8 884.8h1M319.8 884.3h1M325.1 894.8h1"/><path stroke="#fbb4ae" stroke-width="2" fill="none" d="M315.7 885.2h2M283.1 900.6h2M274.8 902.8h2M273.5 914.9h2M303.5 914.0h2M320.5 913.3h2M298.6 913.8h2M271.5 917.9h2M298.6 887.4h2M324.3 888.6h2M317.3 890.2h2M326.1 884.2h2M275.0 907.0h2M300.2 925.2h2M323.2 923.0h2M298.8 886.7h2"/><path stroke="#fb9a99" stroke-width="1.5" fill="none" d="M311.9 903.0h1.5M310.7 881.4h1.5M320.6 902.3h1.5M270.6 896.7h1.5M296.9 927.2h1.5M317.0 884.4h1.5M329.3 910.3h1.5M277.7 922.1h1.5M278.1 899.7h1.5M327.5 897.0h1.5"/><path stroke="#b15928" stroke-width="1" fill="none" d="M322.9 886.3h1M300.8 909.0h1M307.7 928.0h1M270.4 899.4h1M264.4 900.8h1M315.2 885.1h1M317.5 894.2h1"/><path stroke="#ff7f00" stroke-width="1" fill="none" d="M301.9 912.3h1M325.6 919.5h1M302.3 921.5h1M328.1 903.2h1M281.0 913.1h1M271.6 896.5h1M306.1 907.8h1M283.8 910.3h1M286.4 906.4h1"/><path stroke="#e31a1c" stroke-width="1.5" fill="none" d="M299.3 907.6h1.5M310.0 898.0h1.5M325.4 909.3h1.5M274.3 893.5h1.5M328.1 918.6h1.5M301.6 892.7h1.5M294.3 901.8h1.5M325.2 892.7h1.5"/><path stroke="#fdbf6f" stroke-width="1" fill="none" d="M280.0 903.4h1M271.3 888.6h1M318.6 927.5h1M316.5 924.1h1M313.5 921.9h1M312.3 904.6h1M307.2 927.4h1M264.9 899.8h1"/><path stroke="#fdbf6f" stroke-width="2" fill="none" d="M329.9 912.4h2M315.3 901.3h2M270.3 911.0h2M268.9 897.1h2M309.4 896.1h2M318.8 888.9h2M309.1 914.5h2"/><path stroke="#e31a1c" stroke-width="2" fill="none" d="M318.3 892.3h2M307.7 915.5h2M324.8 923.1h2M329.4 917.8h2M279.7 918.8h2M269.8 915.4h2M271.9 915.0h2M309.0 885.0h2M302.5 920.0h2M315.6 906.1h2M326.3 897.4h2"/><path stroke="#cab2d6" stroke-width="2" fill="none" d="M269.4 904.7h2M302.2 901.1h2M265.5 903.6h2M310.6 928.7h2"/><path stroke="#6a3d9a" stroke-width="1" fill="none" d="M310.2 892.7h1M268.9 918.1h1M276.8 909.2h1M319.5 883.1h1M325.1 909.5h1M296.5 919.2h1M279.5 908.7h1M310.0 924.2h1M295.5 912.3h1M312.4 903.2h1"/><path stroke="#fb9a99" stroke-width="1" fill="none" d="M270.9 912.2h1M329.7 923.6h1M330.0 922.9h1M310.9 901.1h1M275.1 890.6h1"/><path stroke="#cab2d6" stroke-width="1.5" fill="none" d="M307.8 900.3h1.5M283.6 916.5h1.5M302.0 925.0h1.5M318.2 912.6h1.5M320.4 921.1h1.5M317.0 901.3h1.5M297.2 926.4h1.5M307.0 919.4h1.5M314.9 892.7h1.5"/><path stroke="#fb9a99" stroke-width="2" fill="none" d="M287.2 892.4h2M316.9 902.7h2M309.8 880.2h2M274.8 887.5h2M312.2 909.0h2M284.5 924.8h2M276.6 886.4h2M284.0 890.0h2"/><path stroke="#e31a1c" stroke-width="1" fill="none" d="M300.4 891.9h1M306.7 925.8h1M317.2 926.5h1"/></g>
<g opacity="0.9"><path stroke="#b15928" stroke-width="1.5" fill="none" d="M306.7 877.4h1.5M299.2 874.0h1.5M304.0 884.1h1.5M310.3 883.1h1.5M326.9 869.7h1.5M324.8 859.8h1.5M314.7 892.5h1.5M292.3 882.6h1.5M305.5 882.1h1.5M305.0 871.7h1.5M334.7 880.4h1.5"/><path stroke="#b15928" stroke-width="2" fill="none" d="M301.2 884.6h2M324.7 874.6h2M312.4 870.0h2M318.0 876.1h2M293.3 881.1h2M305.3 880.7h2M326.1 866.5h2M318.4 863.8h2M301.8 874.4h2M307.5 876.7h2"/><path stroke="#b15928" stroke-width="1" fill="none" d="M298.3 879.1h1M334.1 871.5h1M309.2 884.7h1M297.2 881.5h1M335.5 862.2h1M326.4 879.7h1M326.7 873.0h1M312.9 884.6h1M321.9 871.2h1M314.4 881.1h1"/><path stroke="#cab2d6" stroke-width="1.5" fill="none" d="M329.7 885.7h1.5M317.3 871.9h1.5M309.4 864.5h1.5M304.8 880.2h1.5M319.4 889.6h1.5M309.9 879.5h1.5M308.6 864.1h1.5M307.7 869.0h1.5M331.6 883.8h1.5M327.1 884.6h1.5M314.6 864.9h1.5M332.0 864.1h1.5M335.1 874.8h1.5M291.1 886.5h1.5M295.2 886.1h1.5M326.9 879.3h1.5"/><path stroke="#8a63b8" stroke-width="1" fill="none" d="M329.6 884.5h1M308.4 891.1h1M332.0 860.4h1M335.4 862.4h1M326.0 882.5h1M297.2 873.6h1"/><path stroke="#8a63b8" stroke-width="2" fill="none" d="M331.8 866.5h2M316.1 867.0h2M299.8 889.4h2M324.2 886.2h2M300.8 877.4h2M324.8 869.4h2M329.2 880.6h2M301.1 878.7h2M294.2 878.5h2M335.9 874.3h2M298.8 884.7h2M332.0 868.3h2M321.9 891.8h2"/><path stroke="#cab2d6" stroke-width="2" fill="none" d="M312.4 876.6h2M330.8 873.5h2M305.7 873.2h2M314.9 890.4h2M290.1 880.9h2M307.7 884.6h2M324.0 863.3h2M300.6 883.9h2M336.9 865.5h2M301.4 869.1h2M307.1 880.1h2M306.1 891.4h2M324.8 881.4h2"/><path stroke="#6a3d9a" stroke-width="1.5" fill="none" d="M326.7 882.4h1.5M302.4 880.2h1.5M333.2 876.9h1.5M330.4 886.7h1.5M321.5 868.0h1.5M313.6 865.3h1.5M325.5 869.8h1.5M314.7 864.7h1.5M337.0 871.3h1.5M320.8 890.3h1.5M301.7 889.8h1.5M295.9 876.5h1.5"/><path stroke="#6a3d9a" stroke-width="1" fill="none" d="M323.0 875.1h1M321.6 860.4h1M311.6 889.9h1M312.2 867.8h1M296.4 870.5h1M308.2 868.8h1M334.0 865.0h1M338.0 869.8h1M313.8 882.7h1M312.1 863.4h1M317.7 892.6h1M324.8 889.1h1"/><path stroke="#8a63b8" stroke-width="1.5" fill="none" d="M297.3 888.3h1.5M309.6 884.3h1.5M311.0 887.1h1.5M323.6 883.2h1.5M304.9 880.3h1.5M334.1 874.0h1.5M334.6 871.7h1.5M325.2 864.2h1.5"/><path stroke="#cab2d6" stroke-width="1" fill="none" d="M323.5 883.3h1M319.0 864.2h1M328.6 882.4h1M320.4 870.9h1M332.2 886.2h1"/><path stroke="#6a3d9a" stroke-width="2" fill="none" d="M303.8 879.5h2M326.6 887.2h2M317.9 884.2h2M300.4 875.5h2"/></g>
<g opacity="0.9"><path stroke="#b15928" stroke-width="1" fill="none" d="M351.5 859.0h1M332.3 877.7h1M325.4 873.9h1M325.7 877.1h1M342.3 860.8h1"/><path stroke="#ff7f00" stroke-width="2" fill="none" d="M343.1 858.3h2M334.3 879.4h2M345.4 871.2h2M339.1 874.1h2"/><path stroke="#b15928" stroke-width="1.5" fill="none" d="M348.7 862.0h1.5M332.5 863.7h1.5M339.5 866.6h1.5M336.6 874.1h1.5M355.2 857.7h1.5M336.5 864.1h1.5"/><path stroke="#c06a30" stroke-width="1" fill="none" d="M340.3 870.9h1M346.5 857.2h1M348.2 859.6h1M331.4 868.8h1M352.0 859.4h1M325.0 871.6h1M330.2 872.4h1M343.6 865.2h1"/><path stroke="#ff7f00" stroke-width="1.5" fill="none" d="M352.3 853.2h1.5M338.9 872.5h1.5M343.6 868.3h1.5M344.6 860.7h1.5M327.0 877.6h1.5M347.6 860.0h1.5M339.6 860.9h1.5M339.8 875.2h1.5M336.6 869.0h1.5"/><path stroke="#c06a30" stroke-width="1.5" fill="none" d="M339.3 874.4h1.5M353.8 857.8h1.5M351.9 864.2h1.5M347.1 855.1h1.5M341.0 865.0h1.5M339.7 863.6h1.5M340.7 873.8h1.5M345.0 863.6h1.5M356.1 857.7h1.5M337.9 866.0h1.5"/><path stroke="#b15928" stroke-width="2" fill="none" d="M326.0 875.0h2M331.7 878.2h2M332.6 877.4h2M342.5 873.8h2M331.1 881.8h2M333.2 873.9h2"/><path stroke="#c06a30" stroke-width="2" fill="none" d="M333.2 873.8h2M341.7 869.4h2M347.1 868.9h2M355.0 857.8h2M331.9 879.5h2"/><path stroke="#ff7f00" stroke-width="1" fill="none" d="M335.3 868.6h1M328.2 877.3h1M346.1 868.0h1M328.1 872.7h1M337.4 861.8h1M353.4 858.7h1M335.7 870.6h1"/></g>
<g opacity="0.9"><path stroke="#fdc086" stroke-width="1" fill="none" d="M378.5 926.5h1M346.7 924.9h1M352.9 922.5h1M386.8 913.8h1M390.2 935.4h1M418.3 895.2h1M376.0 930.8h1M423.1 936.6h1M437.0 942.7h1M424.1 922.3h1M418.6 906.0h1M424.5 932.0h1M440.8 957.1h1M387.7 902.4h1M412.3 908.9h1M414.2 929.0h1M418.5 960.4h1M424.1 922.8h1M400.4 941.1h1M404.3 909.7h1M439.4 923.7h1"/><path stroke="#fdbf6f" stroke-width="1" fill="none" d="M428.8 932.6h1M415.3 944.0h1M420.1 915.0h1M422.6 947.0h1M385.9 944.1h1M400.3 895.5h1M393.3 900.9h1M392.6 913.5h1M399.3 915.9h1M394.3 939.1h1M432.0 898.4h1"/><path stroke="#e31a1c" stroke-width="2" fill="none" d="M403.8 956.2h2M429.2 918.3h2M413.8 955.1h2M417.9 957.4h2M427.2 950.4h2M432.9 953.6h2M407.1 957.6h2M434.1 928.3h2"/><path stroke="#ef6a3a" stroke-width="1" fill="none" d="M366.9 917.3h1M394.2 934.6h1M416.6 902.7h1M384.0 942.5h1M433.3 902.5h1M429.9 941.8h1M429.4 920.6h1M389.6 925.0h1M396.6 951.4h1M411.2 894.4h1M435.2 921.6h1M437.3 906.2h1M442.0 941.6h1M428.1 922.2h1M442.1 939.0h1"/><path stroke="#ef6a3a" stroke-width="2" fill="none" d="M368.2 930.3h2M402.3 958.4h2M405.9 930.5h2M408.8 952.5h2M413.3 916.5h2M450.6 923.2h2M418.2 953.6h2M375.6 941.6h2M362.6 934.2h2"/><path stroke="#fed9a6" stroke-width="1" fill="none" d="M359.9 926.8h1M383.2 903.1h1M348.7 922.5h1M413.5 937.4h1M389.8 917.4h1M416.0 959.0h1M384.4 935.1h1M417.7 933.3h1M433.8 928.2h1M417.2 947.5h1M401.1 893.7h1M414.9 931.0h1M368.4 913.8h1M403.6 904.5h1M402.9 939.0h1"/><path stroke="#fdbf6f" stroke-width="1.5" fill="none" d="M374.1 925.9h1.5M432.1 909.2h1.5M440.9 932.2h1.5M389.1 947.8h1.5M403.5 928.2h1.5M405.9 913.1h1.5M413.8 907.0h1.5M376.4 927.9h1.5M384.3 948.3h1.5M455.0 927.1h1.5M432.2 906.6h1.5M451.4 945.2h1.5M407.3 904.2h1.5M422.3 960.4h1.5M418.4 948.2h1.5M434.0 952.4h1.5M427.5 949.8h1.5M394.6 924.1h1.5M349.8 928.8h1.5M446.2 922.4h1.5M375.9 926.3h1.5M394.3 916.1h1.5M385.1 915.9h1.5M395.0 902.2h1.5M402.5 941.1h1.5"/><path stroke="#fdc086" stroke-width="2" fill="none" d="M394.1 905.6h2M396.3 943.7h2M383.4 918.3h2M347.9 932.4h2M431.6 924.1h2M396.5 955.1h2M398.6 930.7h2M407.9 900.8h2M440.9 943.7h2M443.4 911.1h2M425.5 939.3h2M380.1 913.1h2M396.9 908.1h2"/><path stroke="#ffff99" stroke-width="1.5" fill="none" d="M457.0 939.1h1.5M378.5 926.9h1.5M436.9 942.3h1.5M399.2 946.5h1.5M358.7 922.8h1.5M392.7 946.8h1.5M402.3 942.9h1.5M386.7 947.8h1.5M415.6 938.2h1.5M447.2 916.7h1.5M397.5 918.9h1.5M446.7 913.5h1.5M382.7 908.0h1.5M401.6 928.9h1.5M417.5 939.9h1.5M402.0 941.2h1.5M404.7 913.0h1.5M373.0 928.8h1.5"/><path stroke="#f7d58a" stroke-width="1.5" fill="none" d="M385.7 923.2h1.5M420.8 922.9h1.5M357.2 929.9h1.5M457.3 935.7h1.5M391.4 913.6h1.5M410.9 902.6h1.5M422.3 937.5h1.5M385.3 948.9h1.5M447.4 939.3h1.5M414.0 930.5h1.5M425.4 938.8h1.5M370.4 932.3h1.5M369.4 934.4h1.5M353.7 922.5h1.5M447.9 936.6h1.5M371.6 928.2h1.5M426.7 916.5h1.5"/><path stroke="#ffff99" stroke-width="1" fill="none" d="M425.6 900.0h1M403.4 951.7h1M377.4 918.0h1M399.4 911.9h1M431.1 922.2h1M423.1 923.1h1M423.6 927.4h1M368.1 933.8h1M379.7 926.5h1M395.3 939.0h1M398.5 943.6h1"/><path stroke="#ffff99" stroke-width="2" fill="none" d="M390.3 945.6h2M432.0 954.1h2M405.1 947.9h2M393.1 907.8h2M382.9 925.7h2M443.4 929.2h2M429.6 909.7h2M394.9 955.0h2M435.7 925.6h2M415.6 895.6h2"/><path stroke="#fdbf6f" stroke-width="2" fill="none" d="M420.7 960.1h2M418.8 937.6h2M431.2 956.1h2M441.2 954.3h2M388.9 934.3h2M425.7 925.4h2M376.0 926.9h2M366.2 915.6h2M410.8 939.7h2M435.2 932.9h2"/><path stroke="#fed9a6" stroke-width="1.5" fill="none" d="M359.3 927.2h1.5M443.0 919.4h1.5M354.4 931.3h1.5M451.4 933.9h1.5M367.2 927.3h1.5M383.6 905.3h1.5M402.3 954.1h1.5M434.7 952.2h1.5M408.7 954.5h1.5M385.0 912.9h1.5M400.3 911.6h1.5M412.7 950.9h1.5M417.8 903.4h1.5M401.3 939.9h1.5M411.1 894.8h1.5M418.4 919.2h1.5M372.0 939.7h1.5"/><path stroke="#ef6a3a" stroke-width="1.5" fill="none" d="M426.1 915.5h1.5M417.1 908.8h1.5M376.2 912.3h1.5M390.4 924.1h1.5M393.8 924.7h1.5M366.4 919.8h1.5M397.7 951.8h1.5M399.6 938.8h1.5M414.1 960.6h1.5M410.2 894.2h1.5M437.5 936.7h1.5M404.4 916.8h1.5M373.9 940.7h1.5M424.7 929.1h1.5M402.5 917.2h1.5"/><path stroke="#fdc086" stroke-width="1.5" fill="none" d="M434.9 901.3h1.5M450.2 922.7h1.5M437.7 906.1h1.5M401.5 930.3h1.5M422.8 941.2h1.5M426.9 948.3h1.5M453.9 942.5h1.5M427.1 924.0h1.5M356.9 921.3h1.5M386.6 923.0h1.5M447.4 929.2h1.5M439.9 903.7h1.5M363.2 936.4h1.5M410.8 899.6h1.5M415.6 943.3h1.5M374.9 927.0h1.5M394.0 922.3h1.5M429.1 940.4h1.5M349.1 924.9h1.5M385.1 936.3h1.5"/><path stroke="#e31a1c" stroke-width="1" fill="none" d="M413.8 909.1h1M424.2 901.3h1M446.5 935.1h1M397.0 942.8h1M377.7 930.7h1M432.9 919.7h1M425.7 901.1h1M390.9 931.7h1M355.4 922.8h1M446.4 933.1h1M375.3 913.6h1M422.7 906.3h1"/><path stroke="#fed9a6" stroke-width="2" fill="none" d="M359.5 934.4h2M388.9 939.2h2M400.0 930.7h2M406.9 919.8h2M420.0 912.2h2M417.7 961.3h2M440.4 931.5h2M417.4 905.8h2"/><path stroke="#f7d58a" stroke-width="2" fill="none" d="M407.8 910.6h2M400.2 929.9h2M455.0 930.9h2M376.2 934.0h2M377.6 914.7h2M420.4 897.9h2M432.0 914.6h2M370.0 933.1h2M367.6 938.5h2M388.1 914.9h2M368.4 917.7h2M438.6 902.5h2M437.9 933.0h2M397.7 905.7h2"/><path stroke="#f7d58a" stroke-width="1" fill="none" d="M410.2 934.3h1M434.7 937.8h1M389.1 899.9h1M413.3 948.5h1M424.9 908.8h1M430.3 927.9h1M355.5 932.7h1M377.7 920.4h1M402.3 947.3h1M450.8 927.7h1M411.5 946.7h1M418.3 897.0h1M361.5 924.9h1M432.7 926.5h1M385.5 925.8h1M407.0 932.4h1M397.6 896.0h1M419.9 957.9h1"/><path stroke="#e31a1c" stroke-width="1.5" fill="none" d="M380.0 908.0h1.5M407.6 943.8h1.5M449.4 919.6h1.5M452.8 919.0h1.5M410.0 950.9h1.5M416.0 931.1h1.5M356.5 923.5h1.5M409.0 919.8h1.5M428.6 924.6h1.5M438.9 913.8h1.5M434.3 933.7h1.5M421.2 925.3h1.5M399.4 913.0h1.5"/></g>
<g opacity="0.9"><path stroke="#c65010" stroke-width="2" fill="none" d="M322.6 1104.8h2M326.2 1110.2h2M326.5 1115.1h2M313.7 1064.8h2M320.3 1104.4h2M309.9 1083.7h2M331.7 1096.7h2M334.7 1092.8h2M324.7 1085.2h2M327.7 1081.6h2M326.4 1065.1h2M313.6 1078.9h2M338.5 1099.8h2M314.8 1092.8h2M330.8 1103.3h2"/><path stroke="#e5701a" stroke-width="1.5" fill="none" d="M337.4 1102.7h1.5M309.4 1073.7h1.5M315.7 1108.5h1.5M333.5 1107.6h1.5M307.9 1074.8h1.5M315.8 1098.4h1.5M338.1 1101.4h1.5M323.4 1062.2h1.5M319.2 1061.3h1.5M322.1 1085.9h1.5M323.6 1093.7h1.5M327.4 1098.7h1.5M328.3 1103.4h1.5M326.9 1081.8h1.5M326.4 1109.5h1.5M331.8 1079.3h1.5M312.8 1070.6h1.5M334.3 1083.1h1.5"/><path stroke="#e5701a" stroke-width="2" fill="none" d="M314.3 1062.7h2M330.0 1073.6h2M333.5 1093.6h2M332.8 1080.1h2M334.8 1095.0h2M329.4 1109.2h2M338.0 1082.3h2M328.3 1105.5h2M315.9 1080.1h2M316.9 1070.8h2M320.9 1076.7h2M318.7 1076.9h2M332.0 1090.9h2M331.0 1078.9h2M336.0 1111.5h2M315.9 1073.3h2"/><path stroke="#d95f02" stroke-width="2" fill="none" d="M333.1 1095.9h2M317.2 1104.7h2M331.0 1107.9h2M312.8 1082.2h2M321.3 1105.1h2M320.4 1097.9h2M319.0 1094.5h2M324.9 1067.6h2M326.8 1096.4h2M319.2 1104.7h2M335.0 1103.3h2M338.8 1102.3h2M321.7 1103.4h2"/><path stroke="#c65010" stroke-width="1.5" fill="none" d="M316.9 1101.0h1.5M326.0 1087.9h1.5M320.8 1068.3h1.5M321.4 1077.9h1.5M336.0 1090.6h1.5M317.9 1064.8h1.5M307.9 1072.1h1.5M327.5 1107.4h1.5M337.4 1081.3h1.5M311.2 1064.5h1.5M318.1 1083.7h1.5M316.0 1080.1h1.5M324.2 1071.4h1.5"/><path stroke="#e5701a" stroke-width="1" fill="none" d="M326.2 1071.6h1M306.2 1079.7h1M341.2 1081.4h1M314.3 1063.3h1M317.9 1098.2h1M316.8 1091.6h1M311.9 1085.1h1M316.6 1063.7h1M315.9 1074.2h1M320.1 1089.4h1M308.8 1076.6h1M323.0 1073.0h1M327.6 1096.8h1M322.9 1098.3h1"/><path stroke="#c65010" stroke-width="1" fill="none" d="M335.0 1107.1h1M315.0 1062.4h1M319.3 1082.0h1M325.9 1117.8h1M334.8 1095.4h1M336.7 1093.8h1M325.4 1089.7h1"/><path stroke="#d95f02" stroke-width="1.5" fill="none" d="M338.5 1097.7h1.5M334.5 1085.8h1.5M326.0 1067.7h1.5M316.6 1096.3h1.5M327.6 1064.9h1.5M313.4 1080.7h1.5M330.1 1103.3h1.5M315.4 1100.0h1.5M333.4 1077.5h1.5M323.8 1094.2h1.5M307.9 1081.4h1.5M321.6 1084.7h1.5M314.7 1077.0h1.5"/><path stroke="#d95f02" stroke-width="1" fill="none" d="M330.9 1104.6h1M322.7 1109.2h1M314.6 1088.9h1M336.3 1091.5h1M327.9 1069.3h1M339.0 1098.9h1M324.9 1106.6h1M321.4 1085.2h1M309.4 1080.6h1M329.8 1075.5h1M332.0 1076.5h1"/></g>
<g opacity="0.85"><path stroke="#ccebc5" stroke-width="1" fill="none" d="M168.1 972.0h1M164.1 970.2h1M146.6 965.4h1M186.5 975.0h1M192.4 958.3h1M160.1 963.0h1M165.7 971.4h1M177.6 958.6h1M192.9 965.4h1M155.9 987.7h1M179.6 989.8h1M154.8 976.4h1M152.5 985.4h1M163.0 974.0h1M178.4 956.7h1M199.8 978.9h1M162.1 976.2h1M186.1 982.8h1M150.1 968.6h1M190.6 980.9h1M150.0 984.1h1M171.1 972.8h1M179.6 987.7h1"/><path stroke="#e31a1c" stroke-width="1" fill="none" d="M151.4 972.7h1M176.5 961.7h1M197.1 978.2h1M195.2 983.9h1M175.4 964.7h1M186.9 981.9h1M166.9 964.1h1M170.4 973.4h1M167.9 961.1h1M171.2 955.5h1M186.2 979.5h1M168.1 986.8h1M173.4 990.3h1M149.8 989.5h1M188.4 963.5h1M181.2 988.8h1M178.1 973.4h1"/><path stroke="#fb9a99" stroke-width="1.5" fill="none" d="M191.2 987.7h1.5M175.9 973.6h1.5M186.6 961.7h1.5M196.0 982.4h1.5M196.4 976.5h1.5M197.5 990.7h1.5M147.1 956.8h1.5M155.2 977.6h1.5M164.1 985.8h1.5M171.2 968.2h1.5"/><path stroke="#f27070" stroke-width="1" fill="none" d="M148.3 984.1h1M167.6 985.4h1M197.3 956.3h1M150.3 977.3h1M187.2 964.8h1M186.2 975.7h1M152.8 974.9h1M173.6 964.8h1M154.0 982.0h1M165.8 969.8h1M191.2 976.2h1M182.7 976.1h1M155.8 968.9h1M181.0 982.8h1M148.6 986.0h1M183.8 962.1h1M163.8 991.3h1M185.2 973.0h1M177.6 961.6h1"/><path stroke="#f27070" stroke-width="1.5" fill="none" d="M195.2 965.7h1.5M191.1 970.4h1.5M181.0 960.6h1.5M188.2 971.5h1.5M166.0 992.5h1.5M175.0 967.3h1.5M151.5 992.6h1.5M148.7 979.3h1.5M149.3 961.4h1.5M163.2 984.3h1.5M154.8 987.8h1.5M166.9 992.6h1.5M194.4 962.0h1.5M154.7 966.7h1.5"/><path stroke="#fb9a99" stroke-width="1" fill="none" d="M180.0 957.2h1M173.5 968.9h1M189.1 989.2h1M147.3 966.0h1M146.1 983.0h1M195.7 971.3h1M172.2 978.7h1M173.7 978.3h1M163.2 957.8h1M156.5 955.6h1M150.0 985.2h1M191.1 967.2h1M185.1 963.4h1M162.3 987.2h1M149.6 971.9h1M193.2 990.4h1M167.8 986.4h1M159.3 989.6h1M195.2 966.8h1"/><path stroke="#ccebc5" stroke-width="1.5" fill="none" d="M146.9 983.5h1.5M150.2 962.0h1.5M190.9 957.1h1.5M162.2 962.7h1.5M177.1 967.1h1.5M198.2 983.0h1.5M179.4 991.7h1.5M176.2 981.5h1.5M153.6 976.8h1.5M186.4 972.0h1.5M168.2 984.4h1.5"/><path stroke="#e31a1c" stroke-width="1.5" fill="none" d="M180.4 968.1h1.5M173.8 986.8h1.5M166.0 962.4h1.5M163.1 989.5h1.5M183.8 962.3h1.5M182.9 970.9h1.5M198.4 988.2h1.5"/></g>
<g opacity="0.85"><path stroke="#fb9a99" stroke-width="1.5" fill="none" d="M338.2 974.0h1.5M318.1 968.9h1.5M299.7 955.9h1.5M335.3 969.4h1.5M330.5 954.7h1.5"/><path stroke="#f0027f" stroke-width="1" fill="none" d="M342.1 953.9h1M324.5 935.5h1M328.4 933.2h1M321.2 965.6h1M312.6 928.0h1M307.9 974.5h1M342.9 965.2h1M324.4 939.2h1M313.5 953.4h1M297.6 960.4h1M329.9 952.0h1M301.7 964.0h1M341.2 971.6h1M336.7 929.0h1M310.7 931.7h1M312.5 961.0h1M293.9 939.9h1M319.1 940.7h1M309.4 956.4h1"/><path stroke="#fb9a99" stroke-width="1" fill="none" d="M332.3 928.2h1M286.6 969.8h1M321.0 945.4h1M290.6 944.7h1M306.4 927.3h1M295.5 952.2h1M290.8 936.7h1M322.9 953.6h1M330.1 939.7h1M317.0 942.2h1M307.0 958.3h1M327.0 953.9h1M318.8 961.2h1M307.5 968.8h1"/><path stroke="#e31a1c" stroke-width="1" fill="none" d="M333.1 948.4h1M289.8 937.3h1M334.9 960.8h1M325.9 967.2h1M310.3 928.2h1M300.1 942.4h1M317.6 934.4h1M319.1 927.5h1M293.8 974.3h1M309.2 958.5h1M295.0 943.1h1M307.5 952.4h1M294.4 969.2h1M298.5 956.0h1M321.6 933.8h1M332.7 936.0h1M302.5 944.7h1M336.1 954.7h1"/><path stroke="#fdbf6f" stroke-width="1" fill="none" d="M285.3 933.5h1M320.8 952.2h1M333.2 926.1h1M301.5 959.9h1M312.1 948.9h1M318.0 943.1h1M343.5 946.0h1M343.4 950.5h1M338.0 952.4h1M294.3 965.8h1M300.6 961.6h1M323.6 954.9h1"/><path stroke="#ff7f00" stroke-width="1.5" fill="none" d="M326.2 960.7h1.5M308.3 941.7h1.5M331.4 970.7h1.5M314.7 948.9h1.5"/><path stroke="#fdbf6f" stroke-width="1.5" fill="none" d="M307.1 942.7h1.5M326.3 938.0h1.5M290.8 936.7h1.5"/><path stroke="#ff7f00" stroke-width="1" fill="none" d="M293.3 934.9h1M300.7 973.3h1M305.8 962.1h1M291.7 934.4h1M300.5 951.2h1M323.0 947.1h1M328.3 962.6h1M307.5 949.1h1M288.8 939.9h1M320.3 957.2h1M305.8 947.7h1M302.4 968.7h1M315.1 952.1h1M326.0 930.4h1M342.1 926.6h1M312.5 961.7h1M288.9 927.0h1M325.9 945.8h1M306.8 961.3h1M305.5 960.0h1M337.2 949.6h1"/><path stroke="#e31a1c" stroke-width="1.5" fill="none" d="M302.1 945.1h1.5M321.9 952.7h1.5M334.7 928.7h1.5"/><path stroke="#ff7f00" stroke-width="0.5" fill="none" d="M315.4 959.6h0.5M311.1 948.5h0.5M301.4 945.6h0.5M323.8 952.0h0.5"/><path stroke="#f0027f" stroke-width="1.5" fill="none" d="M331.9 961.4h1.5M310.4 926.9h1.5M325.3 956.0h1.5M321.0 962.4h1.5"/><path stroke="#fdbf6f" stroke-width="0.5" fill="none" d="M337.2 929.3h0.5"/><path stroke="#e31a1c" stroke-width="0.5" fill="none" d="M311.8 940.1h0.5M312.7 973.4h0.5"/></g>
<path stroke="#e31a1c" stroke-width="1" fill="none" d="M316.1 919.3h1M318.6 915.1h1M374.6 906.2h1M354.8 908.9h1M378.0 909.5h1M348.9 914.6h1M348.2 908.1h1M340.0 920.4h1M382.7 909.6h1M318.5 915.1h1M342.7 916.5h1M322.3 923.3h1M373.5 907.2h1M365.5 913.2h1M323.8 918.1h1"/><path stroke="#ff7f00" stroke-width="1.5" fill="none" d="M330.5 918.4h1.5M361.4 912.7h1.5M352.5 915.4h1.5M352.5 918.2h1.5M375.5 907.5h1.5M350.2 909.6h1.5M365.4 912.7h1.5M324.1 920.2h1.5M367.9 914.8h1.5M372.7 910.0h1.5"/><path stroke="#ff7f00" stroke-width="2" fill="none" d="M343.3 917.6h2M365.8 914.1h2"/><path stroke="#e31a1c" stroke-width="1.5" fill="none" d="M312.8 918.5h1.5M373.6 918.7h1.5M332.0 911.7h1.5M313.6 920.4h1.5M327.9 913.9h1.5M321.0 917.2h1.5M362.2 917.0h1.5M345.4 909.7h1.5M362.8 910.1h1.5M383.9 906.2h1.5M322.3 926.5h1.5M338.2 918.1h1.5M318.7 919.3h1.5M321.3 919.3h1.5M336.1 913.8h1.5"/><path stroke="#ef6a3a" stroke-width="1" fill="none" d="M387.1 910.4h1M329.5 921.9h1M347.0 916.0h1M328.1 919.8h1M325.9 915.2h1M329.0 914.5h1M311.8 922.6h1M331.1 916.8h1M333.4 915.5h1M371.2 912.1h1M330.6 916.7h1M334.9 918.9h1M320.0 914.3h1M331.9 920.2h1M326.5 917.2h1M304.6 921.6h1"/><path stroke="#ff7f00" stroke-width="1" fill="none" d="M352.7 919.0h1M348.0 912.2h1M340.5 913.6h1M320.2 916.9h1M333.8 916.4h1M372.2 907.2h1M373.4 912.0h1M333.6 915.7h1M343.9 916.6h1M329.8 915.0h1M326.0 919.0h1M363.1 910.3h1M369.0 913.4h1M344.5 919.2h1M350.2 910.6h1"/><path stroke="#ef6a3a" stroke-width="1.5" fill="none" d="M328.1 919.3h1.5M380.1 903.9h1.5M328.0 926.1h1.5M320.9 921.8h1.5M321.8 916.0h1.5M318.6 924.3h1.5M384.2 907.0h1.5M322.0 920.9h1.5M326.5 918.6h1.5M326.0 926.8h1.5M383.0 906.2h1.5M327.2 913.2h1.5M320.4 919.5h1.5M356.7 916.5h1.5"/><path stroke="#e31a1c" stroke-width="2" fill="none" d="M346.3 911.4h2"/><path stroke="#ef6a3a" stroke-width="2" fill="none" d="M373.8 905.1h2M327.1 920.0h2"/>
<path stroke="#f0027f" stroke-width="1" fill="none" d="M352.3 955.4h1M327.3 927.4h1M356.8 962.7h1M362.5 958.3h1M333.6 928.2h1M337.7 931.9h1"/><path stroke="#fb9a99" stroke-width="2" fill="none" d="M334.7 934.7h2M354.5 954.9h2"/><path stroke="#e31a1c" stroke-width="1" fill="none" d="M341.5 947.4h1M347.1 937.0h1"/><path stroke="#e31a1c" stroke-width="1.5" fill="none" d="M339.5 941.6h1.5M355.0 949.8h1.5M333.6 932.3h1.5M345.6 952.7h1.5M330.7 933.3h1.5M343.9 944.7h1.5M345.4 941.1h1.5"/><path stroke="#fb9a99" stroke-width="1" fill="none" d="M337.7 938.9h1M348.7 948.8h1M338.9 935.8h1M334.4 937.0h1M358.5 953.1h1M341.1 937.6h1M352.1 952.7h1M339.9 938.1h1M365.0 960.2h1"/><path stroke="#f0027f" stroke-width="2" fill="none" d="M360.3 956.6h2M343.8 944.5h2"/><path stroke="#fb9a99" stroke-width="1.5" fill="none" d="M353.6 954.2h1.5M354.4 953.8h1.5M357.0 954.6h1.5M334.2 937.2h1.5M342.8 942.2h1.5"/><path stroke="#f0027f" stroke-width="1.5" fill="none" d="M365.9 962.8h1.5M342.3 947.6h1.5M344.9 935.7h1.5M340.5 942.1h1.5M361.9 958.1h1.5M359.3 955.3h1.5M356.4 950.6h1.5"/>
<path stroke="#179070" stroke-width="1.5" fill="none" d="M368.3 989.0h1.5M360.6 982.1h1.5M371.8 991.4h1.5M371.2 991.6h1.5M357.5 979.8h1.5M362.2 985.8h1.5M367.4 987.0h1.5M360.9 980.4h1.5"/><path stroke="#179070" stroke-width="2" fill="none" d="M370.0 989.4h2M375.1 994.7h2M371.7 990.6h2M371.5 990.9h2M358.3 977.8h2M361.8 982.2h2M365.1 984.9h2M371.5 991.1h2M376.0 994.2h2M356.9 981.9h2M369.6 987.0h2M371.0 990.3h2M369.0 988.2h2M368.1 989.2h2M358.0 981.0h2"/><path stroke="#1b9e77" stroke-width="1" fill="none" d="M368.4 985.7h1M361.6 983.3h1"/><path stroke="#1b9e77" stroke-width="1.5" fill="none" d="M367.7 984.4h1.5M373.1 992.0h1.5M368.4 987.0h1.5M372.9 990.8h1.5M356.2 977.8h1.5"/><path stroke="#179070" stroke-width="1" fill="none" d="M370.0 988.1h1M370.3 987.3h1M360.5 984.0h1M371.4 989.1h1M362.8 982.6h1M372.0 992.0h1"/><path stroke="#1b9e77" stroke-width="2" fill="none" d="M372.0 992.8h2M373.4 991.2h2M355.9 977.5h2M355.7 976.8h2"/>
<path stroke="#7570b3" stroke-width="1.5" fill="none" d="M342.1 989.6h1.5M351.1 1000.2h1.5M347.5 994.7h1.5M343.8 992.9h1.5M341.4 990.9h1.5M350.9 999.9h1.5"/><path stroke="#666666" stroke-width="2" fill="none" d="M354.4 1003.6h2M354.7 1004.7h2M348.7 996.5h2M350.5 999.2h2M341.0 990.9h2M346.9 996.7h2M354.2 1000.7h2M350.0 998.2h2"/><path stroke="#7570b3" stroke-width="2" fill="none" d="M350.7 1000.1h2M337.2 986.9h2M354.8 1003.0h2"/><path stroke="#7570b3" stroke-width="1" fill="none" d="M338.0 987.7h1M351.6 999.5h1"/><path stroke="#555" stroke-width="1" fill="none" d="M354.1 1000.2h1M353.9 1002.5h1M350.8 998.7h1"/><path stroke="#666666" stroke-width="1.5" fill="none" d="M353.5 1002.5h1.5M343.8 992.5h1.5M354.2 1003.1h1.5M347.4 996.8h1.5"/><path stroke="#555" stroke-width="2" fill="none" d="M345.1 993.8h2M354.5 1002.5h2M344.1 993.7h2M340.1 990.7h2M343.5 992.5h2M341.2 990.1h2M355.8 1003.6h2M338.6 988.1h2"/><path stroke="#666666" stroke-width="1" fill="none" d="M338.8 987.0h1M345.1 994.2h1M351.7 999.1h1M338.4 988.1h1"/><path stroke="#555" stroke-width="1.5" fill="none" d="M342.5 992.4h1.5M358.1 1004.3h1.5"/>
<path stroke="#e7298a" stroke-width="1.5" fill="none" d="M328.6 991.8h1.5M328.8 992.0h1.5M327.4 995.4h1.5M327.2 986.6h1.5M327.9 1000.2h1.5M327.7 979.3h1.5M329.5 1002.8h1.5"/><path stroke="#f0027f" stroke-width="1.5" fill="none" d="M330.4 985.6h1.5M330.6 993.9h1.5M327.9 983.5h1.5M327.9 978.9h1.5M329.6 984.1h1.5M328.4 982.9h1.5M327.5 973.6h1.5M328.2 972.9h1.5M329.4 999.1h1.5M327.3 994.2h1.5M329.2 986.3h1.5M328.5 986.4h1.5M331.5 1000.2h1.5M326.7 978.9h1.5M329.1 990.0h1.5M331.0 1001.4h1.5M330.4 984.3h1.5M328.8 996.3h1.5"/><path stroke="#e7298a" stroke-width="2" fill="none" d="M328.0 998.4h2M329.6 991.1h2M326.4 993.5h2M328.5 974.4h2M329.2 1002.1h2M331.0 991.9h2M328.0 979.4h2M328.5 980.0h2M329.4 990.1h2M328.4 1000.5h2M329.0 1001.5h2M327.7 1001.5h2"/><path stroke="#f0027f" stroke-width="2" fill="none" d="M327.9 973.8h2M328.6 979.5h2M329.1 995.7h2M328.6 981.8h2M329.7 994.4h2"/><path stroke="#e7298a" stroke-width="1" fill="none" d="M329.1 984.3h1M330.7 1004.1h1M328.3 979.7h1M327.2 985.1h1"/><path stroke="#f0027f" stroke-width="1" fill="none" d="M327.5 979.3h1M329.0 1002.9h1M327.9 988.1h1M329.2 993.0h1"/>
<path stroke="#ffff99" stroke-width="1.5" fill="none" d="M346.1 976.7h1.5M346.6 979.4h1.5M347.8 987.3h1.5M350.8 985.1h1.5M346.9 980.0h1.5"/><path stroke="#f5f07a" stroke-width="1" fill="none" d="M348.4 975.2h1M346.1 974.0h1M345.2 977.6h1M348.8 977.7h1M349.6 987.9h1M348.9 986.2h1"/><path stroke="#f5f07a" stroke-width="1.5" fill="none" d="M347.3 977.8h1.5M346.9 980.6h1.5M350.9 987.1h1.5M346.2 976.1h1.5M347.5 985.2h1.5"/><path stroke="#f5f07a" stroke-width="2" fill="none" d="M345.8 979.8h2M347.7 982.0h2M347.3 983.0h2M350.4 987.9h2M349.5 989.7h2M349.4 987.9h2M349.6 989.3h2M347.5 987.5h2M348.8 985.3h2"/><path stroke="#ffff99" stroke-width="2" fill="none" d="M348.7 986.7h2M350.2 988.2h2"/><path stroke="#ffff99" stroke-width="1" fill="none" d="M350.2 989.3h1M349.7 988.6h1M345.6 977.4h1"/>
<g opacity="0.85"><path stroke="#fb9a99" stroke-width="1" fill="none" d="M296.6 1005.8h1M326.9 993.7h1M308.1 1002.5h1M305.7 1001.7h1M311.9 1006.2h1M315.5 988.1h1"/><path stroke="#fb9a99" stroke-width="1.5" fill="none" d="M333.8 1011.2h1.5M320.4 988.5h1.5M326.6 986.2h1.5M300.2 990.8h1.5"/><path stroke="#d95f02" stroke-width="1" fill="none" d="M329.2 985.5h1M335.4 996.0h1M317.0 987.2h1M319.6 987.9h1M316.7 1008.1h1M333.2 986.7h1M302.3 1012.2h1M312.0 991.3h1"/><path stroke="#f0027f" stroke-width="1.5" fill="none" d="M318.1 1006.0h1.5M307.2 988.9h1.5M318.8 997.6h1.5M309.6 989.4h1.5M325.8 988.0h1.5M340.6 1010.8h1.5M330.9 994.7h1.5M323.0 1002.6h1.5M312.6 996.1h1.5M320.5 993.4h1.5M296.9 1006.7h1.5M338.2 989.9h1.5M300.8 994.8h1.5"/><path stroke="#e31a1c" stroke-width="1.5" fill="none" d="M310.7 998.4h1.5M318.7 1010.7h1.5M332.2 995.3h1.5M334.6 995.2h1.5M315.6 984.2h1.5M312.7 995.0h1.5M314.1 991.1h1.5M343.6 990.6h1.5M319.8 993.2h1.5M299.9 997.7h1.5M298.1 1006.5h1.5M323.0 985.0h1.5M324.5 994.8h1.5M309.8 1000.4h1.5M335.4 1006.0h1.5M341.1 998.2h1.5M310.9 995.2h1.5M308.9 1011.7h1.5"/><path stroke="#bf5b17" stroke-width="1" fill="none" d="M303.4 1011.9h1M315.2 988.0h1M317.2 1011.9h1M298.7 1005.0h1M298.6 1008.8h1M307.2 998.2h1M339.4 1008.0h1M299.8 986.7h1M332.4 994.7h1M339.1 1011.5h1"/><path stroke="#f0027f" stroke-width="2" fill="none" d="M313.3 987.2h2"/><path stroke="#f0027f" stroke-width="1" fill="none" d="M314.1 1012.6h1M321.7 998.6h1M306.0 992.4h1M317.9 995.0h1M323.1 994.6h1M315.6 985.4h1M333.7 989.6h1"/><path stroke="#d95f02" stroke-width="1.5" fill="none" d="M334.6 1000.4h1.5M318.0 1007.1h1.5M304.7 1002.1h1.5M342.1 990.8h1.5M318.0 987.2h1.5M327.7 990.6h1.5"/><path stroke="#fb9a99" stroke-width="2" fill="none" d="M330.2 1011.1h2M336.4 1003.4h2M318.1 997.4h2"/><path stroke="#bf5b17" stroke-width="1.5" fill="none" d="M335.9 991.2h1.5M340.1 1012.2h1.5M307.1 985.4h1.5M326.3 1009.5h1.5"/><path stroke="#e31a1c" stroke-width="1" fill="none" d="M311.4 1009.9h1M325.6 992.4h1M341.4 987.7h1M330.0 999.9h1M336.9 1006.1h1M333.2 1005.6h1M306.6 984.2h1M331.3 997.2h1M310.6 984.5h1"/><path stroke="#bf5b17" stroke-width="2" fill="none" d="M301.9 1003.1h2"/></g>
<path stroke="#66a61e" stroke-width="2" fill="none" d="M304.9 1097.4h2M306.4 1097.2h2M311.9 1095.4h2M288.0 1099.7h2M288.3 1100.1h2M289.9 1101.3h2M290.1 1099.7h2M291.2 1103.4h2"/><path stroke="#66a61e" stroke-width="1" fill="none" d="M283.5 1101.7h1"/><path stroke="#7cb342" stroke-width="2" fill="none" d="M301.8 1098.0h2M292.7 1098.7h2M297.4 1099.6h2M308.3 1094.8h2M314.9 1095.4h2M285.5 1102.7h2"/><path stroke="#5a9a18" stroke-width="1.5" fill="none" d="M305.3 1095.9h1.5M310.2 1096.6h1.5M310.3 1096.0h1.5M306.6 1095.0h1.5M285.1 1101.6h1.5M288.5 1101.0h1.5M283.9 1099.0h1.5M304.1 1098.0h1.5M290.0 1098.8h1.5"/><path stroke="#66a61e" stroke-width="1.5" fill="none" d="M292.7 1099.1h1.5M309.0 1097.2h1.5M299.1 1098.3h1.5M293.2 1100.5h1.5M305.2 1096.8h1.5M310.1 1096.7h1.5"/><path stroke="#5a9a18" stroke-width="2" fill="none" d="M315.8 1095.5h2M293.5 1100.6h2M287.1 1102.4h2M311.8 1093.5h2M305.7 1097.4h2M297.7 1098.5h2"/><path stroke="#7cb342" stroke-width="1" fill="none" d="M301.6 1098.6h1M291.0 1099.0h1"/><path stroke="#7cb342" stroke-width="1.5" fill="none" d="M305.4 1094.5h1.5M291.0 1102.0h1.5M285.8 1104.3h1.5M305.7 1097.2h1.5M300.3 1094.3h1.5M308.9 1095.7h1.5M283.5 1100.3h1.5"/><path stroke="#66a61e" stroke-width="2.5" fill="none" d="M293.4 1101.9h2.5M288.8 1101.3h2.5"/><path stroke="#5a9a18" stroke-width="1" fill="none" d="M290.2 1100.0h1M295.8 1099.9h1"/><path stroke="#7cb342" stroke-width="2.5" fill="none" d="M284.3 1099.8h2.5"/>
<path stroke="#e5701a" stroke-width="1.5" fill="none" d="M296.6 1090.0h1.5M297.3 1086.7h1.5M298.5 1091.7h1.5M293.2 1076.4h1.5M294.7 1084.9h1.5"/><path stroke="#d95f02" stroke-width="1" fill="none" d="M298.2 1091.4h1M295.4 1070.9h1M295.3 1077.8h1M295.2 1080.4h1M297.6 1079.9h1M298.3 1088.7h1M295.1 1082.1h1M293.0 1073.4h1"/><path stroke="#d95f02" stroke-width="1.5" fill="none" d="M295.5 1074.9h1.5M296.9 1084.2h1.5M298.7 1091.2h1.5M294.2 1082.8h1.5M292.8 1071.1h1.5"/><path stroke="#e31a1c" stroke-width="1" fill="none" d="M297.5 1075.7h1M295.3 1080.6h1M296.4 1091.4h1"/><path stroke="#e5701a" stroke-width="1" fill="none" d="M295.9 1083.5h1"/><path stroke="#e5701a" stroke-width="2" fill="none" d="M294.7 1070.2h2"/><path stroke="#e31a1c" stroke-width="1.5" fill="none" d="M296.3 1085.5h1.5M297.6 1090.9h1.5M293.6 1071.3h1.5M298.3 1088.9h1.5M296.6 1090.8h1.5M294.6 1074.4h1.5"/><path stroke="#d95f02" stroke-width="2" fill="none" d="M293.4 1073.7h2"/>
<path stroke="#999" stroke-width="1.5" fill="none" d="M263.8 1065.1h1.5M262.2 1064.9h1.5M258.7 1058.5h1.5M260.6 1060.1h1.5"/><path stroke="#999" stroke-width="1" fill="none" d="M258.7 1057.6h1M263.8 1063.3h1M263.1 1065.4h1"/><path stroke="#66a61e" stroke-width="1.5" fill="none" d="M260.2 1059.0h1.5"/><path stroke="#7fc97f" stroke-width="1" fill="none" d="M258.1 1057.8h1M260.0 1057.4h1"/><path stroke="#66a61e" stroke-width="1" fill="none" d="M258.3 1057.5h1M258.8 1058.1h1"/><path stroke="#7fc97f" stroke-width="1.5" fill="none" d="M263.3 1065.2h1.5M260.5 1060.5h1.5"/>
</g>
</g>
<use href="#umapc" transform="translate(868.76,-489.68) scale(0.6096,0.6236)"/>
<text x="88.2" y="946.3" font-size="12.8" text-anchor="middle" fill="#111" >21</text>
<text x="193.7" y="905.7" font-size="12.8" text-anchor="middle" fill="#111" >22</text>
<text x="226.7" y="939.6" font-size="12.8" text-anchor="middle" fill="#111" >29</text>
<text x="183.6" y="1020.2" font-size="12.8" text-anchor="middle" fill="#111" >20</text>
<text x="173.5" y="1112.0" font-size="12.8" text-anchor="middle" fill="#111" >19</text>
<text x="206.5" y="1107.3" font-size="12.8" text-anchor="middle" fill="#111" >18</text>
<text x="234.0" y="1111.4" font-size="12.8" text-anchor="middle" fill="#111" >17</text>
<text x="254.2" y="878.3" font-size="12.8" text-anchor="middle" fill="#111" >30</text>
<text x="264.8" y="872.6" font-size="12.8" text-anchor="middle" fill="#111" >23</text>
<text x="250.4" y="900.4" font-size="12.8" text-anchor="middle" fill="#111" >27</text>
<text x="245.6" y="911.0" font-size="12.8" text-anchor="middle" fill="#111" >31</text>
<text x="260.0" y="915.7" font-size="12.8" text-anchor="middle" fill="#111" >32</text>
<text x="309.8" y="878.3" font-size="12.8" text-anchor="middle" fill="#111" >25</text>
<text x="344.3" y="868.4" font-size="12.8" text-anchor="middle" fill="#111" >26</text>
<text x="297.3" y="900.0" font-size="12.8" text-anchor="middle" fill="#111" >24</text>
<text x="318.4" y="931.4" font-size="12.8" text-anchor="middle" fill="#111" >34</text>
<text x="300.2" y="951.6" font-size="12.8" text-anchor="middle" fill="#111" >28</text>
<text x="324.2" y="957.3" font-size="12.8" text-anchor="middle" fill="#111" >33</text>
<text x="402.0" y="905.2" font-size="12.8" text-anchor="middle" fill="#111" >2</text>
<text x="431.7" y="926.3" font-size="12.8" text-anchor="middle" fill="#111" >3</text>
<text x="422.1" y="944.5" font-size="12.8" text-anchor="middle" fill="#111" >4</text>
<text x="364.6" y="966.1" font-size="12.8" text-anchor="middle" fill="#111" >5</text>
<text x="373.3" y="995.6" font-size="12.8" text-anchor="middle" fill="#111" >9</text>
<text x="329.1" y="996.2" font-size="12.8" text-anchor="middle" fill="#111" >6</text>
<text x="349.3" y="1002.0" font-size="12.8" text-anchor="middle" fill="#111" >8</text>
<text x="308.1" y="1007.7" font-size="12.8" text-anchor="middle" fill="#111" >7</text>
<text x="352.0" y="1040.5" font-size="12.8" text-anchor="middle" fill="#111" >14</text>
<text x="371.7" y="1043.4" font-size="12.8" text-anchor="middle" fill="#111" >12</text>
<text x="295.0" y="1050.5" font-size="12.8" text-anchor="middle" fill="#111" >15</text>
<text x="317.5" y="1054.3" font-size="12.8" text-anchor="middle" fill="#111" >16</text>
<text x="264.5" y="1065.4" font-size="12.8" text-anchor="middle" fill="#111" >1</text>
<text x="316.5" y="1088.4" font-size="12.8" text-anchor="middle" fill="#111" >11</text>
<text x="330.9" y="1096.0" font-size="12.8" text-anchor="middle" fill="#111" >10</text>
<text x="291.6" y="1101.3" font-size="12.8" text-anchor="middle" fill="#111" >13</text>
<path d="M7.5,1064.6 L7.5,870" stroke="#000" stroke-width="2"/>
<path d="M1.1,872.3 L7.6,856 L14.1,872.3 L7.6,868 Z" fill="#000"/>
<text x="0.0" y="0.0" font-size="14.1" text-anchor="start" fill="#111" transform="translate(11.2,1127.8) rotate(-90)">UMAP_2</text>
<text x="36.8" y="1153.3" font-size="14.1" text-anchor="start" fill="#111" >UMAP_1</text>
<path d="M97.3,1149.3 L292,1149.3" stroke="#000" stroke-width="2"/>
<path d="M289.3,1143 L305.7,1149.3 L289.3,1155.6 L293.5,1149.3 Z" fill="#000"/>
<circle cx="472.6" cy="827.1" r="6.9" fill="#7FC97F"/>
<text x="472.6" y="830.8" font-size="10.5" text-anchor="middle" fill="#111" >1</text>
<text x="486.9" y="831.0" font-size="11.7" text-anchor="start" fill="#111" >Ery</text>
<circle cx="472.6" cy="846.8" r="6.9" fill="#BEAED4"/>
<text x="472.6" y="850.5" font-size="10.5" text-anchor="middle" fill="#111" >2</text>
<text x="486.9" y="850.7" font-size="11.7" text-anchor="start" fill="#111" >B_naive</text>
<circle cx="472.6" cy="866.5" r="6.9" fill="#FDC086"/>
<text x="472.6" y="870.2" font-size="10.5" text-anchor="middle" fill="#111" >3</text>
<text x="486.9" y="870.4" font-size="11.7" text-anchor="start" fill="#111" >B_trans</text>
<circle cx="472.6" cy="886.2" r="6.9" fill="#FFFF99"/>
<text x="472.6" y="889.9" font-size="10.5" text-anchor="middle" fill="#111" >4</text>
<text x="486.9" y="890.1" font-size="11.7" text-anchor="start" fill="#111" >B_memory</text>
<circle cx="472.6" cy="905.9" r="6.9" fill="#386CB0"/>
<text x="472.6" y="909.6" font-size="10.5" text-anchor="middle" fill="#111" >5</text>
<text x="486.9" y="909.8" font-size="11.7" text-anchor="start" fill="#111" >Plasma</text>
<circle cx="472.6" cy="925.6" r="6.9" fill="#F0027F"/>
<text x="472.6" y="929.3" font-size="10.5" text-anchor="middle" fill="#111" >6</text>
<text x="486.9" y="929.5" font-size="11.7" text-anchor="start" fill="#111" >Mono</text>
<circle cx="472.6" cy="945.3" r="6.9" fill="#BF5B17"/>
<text x="472.6" y="949.0" font-size="10.5" text-anchor="middle" fill="#111" >7</text>
<text x="486.9" y="949.2" font-size="11.7" text-anchor="start" fill="#111" >Mac</text>
<circle cx="472.6" cy="965.0" r="6.9" fill="#666666"/>
<text x="472.6" y="968.7" font-size="10.5" text-anchor="middle" fill="#111" >8</text>
<text x="486.9" y="968.9" font-size="11.7" text-anchor="start" fill="#111" >DC</text>
<circle cx="472.6" cy="984.7" r="6.9" fill="#1B9E77"/>
<text x="472.6" y="988.4" font-size="10.5" text-anchor="middle" fill="#111" >9</text>
<text x="486.9" y="988.6" font-size="11.7" text-anchor="start" fill="#111" >pDC</text>
<circle cx="472.6" cy="1004.4" r="6.9" fill="#D95F02"/>
<text x="472.6" y="1008.1" font-size="10.2" text-anchor="middle" fill="#111" letter-spacing="-0.6">10</text>
<text x="486.9" y="1008.3" font-size="11.7" text-anchor="start" fill="#111" >Fb</text>
<circle cx="472.6" cy="1024.1" r="6.9" fill="#7570B3"/>
<text x="472.6" y="1027.8" font-size="10.2" text-anchor="middle" fill="#111" letter-spacing="-0.6">11</text>
<text x="486.9" y="1028.0" font-size="11.7" text-anchor="start" fill="#111" >Fb_cycling</text>
<circle cx="472.6" cy="1043.8" r="6.9" fill="#E7298A"/>
<text x="472.6" y="1047.5" font-size="10.2" text-anchor="middle" fill="#111" letter-spacing="-0.6">12</text>
<text x="486.9" y="1047.7" font-size="11.7" text-anchor="start" fill="#111" >Endo</text>
<circle cx="472.6" cy="1063.5" r="6.9" fill="#66A61E"/>
<text x="472.6" y="1067.2" font-size="10.2" text-anchor="middle" fill="#111" letter-spacing="-0.6">13</text>
<text x="486.9" y="1067.4" font-size="11.7" text-anchor="start" fill="#111" >VSMC</text>
<circle cx="472.6" cy="1083.2" r="6.9" fill="#E6AB02"/>
<text x="472.6" y="1086.9" font-size="10.2" text-anchor="middle" fill="#111" letter-spacing="-0.6">14</text>
<text x="486.9" y="1087.1" font-size="11.7" text-anchor="start" fill="#111" >Lymph</text>
<circle cx="472.6" cy="1102.9" r="6.9" fill="#A6761D"/>
<text x="472.6" y="1106.6" font-size="10.2" text-anchor="middle" fill="#111" letter-spacing="-0.6">15</text>
<text x="486.9" y="1106.8" font-size="11.7" text-anchor="start" fill="#111" >cTEC</text>
<circle cx="472.6" cy="1122.6" r="6.9" fill="#A6CEE3"/>
<text x="472.6" y="1126.3" font-size="10.2" text-anchor="middle" fill="#111" letter-spacing="-0.6">16</text>
<text x="486.9" y="1126.5" font-size="11.7" text-anchor="start" fill="#111" >mTEC</text>
<circle cx="472.6" cy="1142.3" r="6.9" fill="#1F78B4"/>
<text x="472.6" y="1146.0" font-size="10.2" text-anchor="middle" fill="#111" letter-spacing="-0.6">17</text>
<text x="486.9" y="1146.2" font-size="11.7" text-anchor="start" fill="#111" >DN_early</text>
<circle cx="556.7" cy="827.1" r="6.9" fill="#B2DF8A"/>
<text x="556.7" y="830.8" font-size="10.2" text-anchor="middle" fill="#111" letter-spacing="-0.6">18</text>
<text x="571.0" y="831.0" font-size="11.7" text-anchor="start" fill="#111" >DN_blast</text>
<circle cx="556.7" cy="846.8" r="6.9" fill="#33A02C"/>
<text x="556.7" y="850.5" font-size="10.2" text-anchor="middle" fill="#111" letter-spacing="-0.6">19</text>
<text x="571.0" y="850.7" font-size="11.7" text-anchor="start" fill="#111" >DN_re</text>
<circle cx="556.7" cy="866.5" r="6.9" fill="#FB9A99"/>
<text x="556.7" y="870.2" font-size="10.2" text-anchor="middle" fill="#111" letter-spacing="-0.6">20</text>
<text x="571.0" y="870.4" font-size="11.7" text-anchor="start" fill="#111" >DP_blast</text>
<circle cx="556.7" cy="886.2" r="6.9" fill="#E31A1C"/>
<text x="556.7" y="889.9" font-size="10.2" text-anchor="middle" fill="#111" letter-spacing="-0.6">21</text>
<text x="571.0" y="890.1" font-size="11.7" text-anchor="start" fill="#111" >DP_re</text>
<circle cx="556.7" cy="905.9" r="6.9" fill="#FDBF6F"/>
<text x="556.7" y="909.6" font-size="10.2" text-anchor="middle" fill="#111" letter-spacing="-0.6">22</text>
<text x="571.0" y="909.8" font-size="11.7" text-anchor="start" fill="#111" >abT(entry)</text>
<circle cx="556.7" cy="925.6" r="6.9" fill="#FF7F00"/>
<text x="556.7" y="929.3" font-size="10.2" text-anchor="middle" fill="#111" letter-spacing="-0.6">23</text>
<text x="571.0" y="929.5" font-size="11.7" text-anchor="start" fill="#111" >CD4T</text>
<circle cx="556.7" cy="945.3" r="6.9" fill="#CAB2D6"/>
<text x="556.7" y="949.0" font-size="10.2" text-anchor="middle" fill="#111" letter-spacing="-0.6">24</text>
<text x="571.0" y="949.2" font-size="11.7" text-anchor="start" fill="#111" >CD4T_mem</text>
<circle cx="556.7" cy="965.0" r="6.9" fill="#6A3D9A"/>
<text x="556.7" y="968.7" font-size="10.2" text-anchor="middle" fill="#111" letter-spacing="-0.6">25</text>
<text x="571.0" y="968.9" font-size="11.7" text-anchor="start" fill="#111" >Treg.diff</text>
<circle cx="556.7" cy="984.7" r="6.9" fill="#B15928"/>
<text x="556.7" y="988.4" font-size="10.2" text-anchor="middle" fill="#111" letter-spacing="-0.6">26</text>
<text x="571.0" y="988.6" font-size="11.7" text-anchor="start" fill="#111" >Treg</text>
<circle cx="556.7" cy="1004.4" r="6.9" fill="#FBB4AE"/>
<text x="556.7" y="1008.1" font-size="10.2" text-anchor="middle" fill="#111" letter-spacing="-0.6">27</text>
<text x="571.0" y="1008.3" font-size="11.7" text-anchor="start" fill="#111" >CD8T</text>
<circle cx="556.7" cy="1024.1" r="6.9" fill="#B3CDE3"/>
<text x="556.7" y="1027.8" font-size="10.2" text-anchor="middle" fill="#111" letter-spacing="-0.6">28</text>
<text x="571.0" y="1028.0" font-size="11.7" text-anchor="start" fill="#111" >CD8T_mem</text>
<circle cx="556.7" cy="1043.8" r="6.9" fill="#CCEBC5"/>
<text x="556.7" y="1047.5" font-size="10.2" text-anchor="middle" fill="#111" letter-spacing="-0.6">29</text>
<text x="571.0" y="1047.7" font-size="11.7" text-anchor="start" fill="#111" >CD8aa</text>
<circle cx="556.7" cy="1063.5" r="6.9" fill="#DECBE4"/>
<text x="556.7" y="1067.2" font-size="10.2" text-anchor="middle" fill="#111" letter-spacing="-0.6">30</text>
<text x="571.0" y="1067.4" font-size="11.7" text-anchor="start" fill="#111" >T_agonist</text>
<circle cx="556.7" cy="1083.2" r="6.9" fill="#FED9A6"/>
<text x="556.7" y="1086.9" font-size="10.2" text-anchor="middle" fill="#111" letter-spacing="-0.6">31</text>
<text x="571.0" y="1087.1" font-size="11.7" text-anchor="start" fill="#111" >T_apoptosis</text>
<circle cx="556.7" cy="1102.9" r="6.9" fill="#FFFFCC"/>
<text x="556.7" y="1106.6" font-size="10.2" text-anchor="middle" fill="#111" letter-spacing="-0.6">32</text>
<text x="571.0" y="1106.8" font-size="11.7" text-anchor="start" fill="#111" >T_proliferating</text>
<circle cx="556.7" cy="1122.6" r="6.9" fill="#E5D8BD"/>
<text x="556.7" y="1126.3" font-size="10.2" text-anchor="middle" fill="#111" letter-spacing="-0.6">33</text>
<text x="571.0" y="1126.5" font-size="11.7" text-anchor="start" fill="#111" >NKT</text>
<circle cx="556.7" cy="1142.3" r="6.9" fill="#FDDAEC"/>
<text x="556.7" y="1146.0" font-size="10.2" text-anchor="middle" fill="#111" letter-spacing="-0.6">34</text>
<text x="571.0" y="1146.2" font-size="11.7" text-anchor="start" fill="#111" >ILC3</text>
<text x="655.5" y="535.7" font-size="24" text-anchor="start" fill="#231f20" >d</text>
<rect x="735" y="529.4" width="14.0" height="14.6" fill="#cde5d5"/>
<rect x="749" y="529.4" width="53.4" height="14.6" fill="#d7a2c5"/>
<rect x="802.4" y="529.4" width="53.6" height="14.6" fill="#9ec9de"/>
<rect x="856" y="529.4" width="94.0" height="14.6" fill="#fde9ee"/>
<rect x="950" y="529.4" width="227.6" height="14.6" fill="#c6b39f"/>
<rect x="1177.6" y="529.4" width="22.4" height="14.6" fill="#e8ecd0"/>
<rect x="722.4" y="546.0" width="13.6" height="38.4" fill="#e8ecd0"/>
<rect x="722.4" y="584.4" width="13.6" height="333.6" fill="#c6b39f"/>
<rect x="722.4" y="918.0" width="13.6" height="137.4" fill="#fde9ee"/>
<rect x="722.4" y="1055.4" width="13.6" height="78.5" fill="#9ec9de"/>
<rect x="722.4" y="1133.9" width="13.6" height="88.3" fill="#d7a2c5"/>
<rect x="722.4" y="1222.2" width="13.6" height="14.8" fill="#cde5d5"/>
<path stroke="#f4a999" stroke-width="1.60" stroke-linecap="round" fill="none" d="M749.4 555.0h0M762.8 555.0h0M776.2 555.0h0M789.6 555.0h0M803.0 555.0h0M816.4 555.0h0M829.7 555.0h0M843.1 555.0h0M856.5 555.0h0M869.9 555.0h0M883.3 555.0h0M896.7 555.0h0M910.1 555.0h0M923.5 555.0h0M936.9 555.0h0M950.2 555.0h0M963.6 555.0h0M977.0 555.0h0M990.4 555.0h0M1003.8 555.0h0M1017.2 555.0h0M1030.6 555.0h0M1097.5 555.0h0M1110.9 555.0h0M1124.3 555.0h0M1177.9 555.0h0M749.4 564.8h0M869.9 564.8h0M910.1 564.8h0M936.9 564.8h0M950.2 564.8h0M1017.2 564.8h0M1097.5 564.8h0M749.4 574.6h0M762.8 574.6h0M789.6 574.6h0M803.0 574.6h0M869.9 574.6h0M883.3 574.6h0M896.7 574.6h0M910.1 574.6h0M923.5 574.6h0M936.9 574.6h0M950.2 574.6h0M963.6 574.6h0M977.0 574.6h0M990.4 574.6h0M1003.8 574.6h0M1017.2 574.6h0M1030.6 574.6h0M1044.0 574.6h0M1057.4 574.6h0M1070.8 574.6h0M1084.2 574.6h0M1097.5 574.6h0M1110.9 574.6h0M1124.3 574.6h0M1137.7 574.6h0M1151.1 574.6h0M1164.5 574.6h0M1177.9 574.6h0M749.4 584.4h0M762.8 584.4h0M776.2 584.4h0M789.6 584.4h0M803.0 584.4h0M816.4 584.4h0M829.7 584.4h0M843.1 584.4h0M856.5 584.4h0M869.9 584.4h0M883.3 584.4h0M896.7 584.4h0M910.1 584.4h0M923.5 584.4h0M936.9 584.4h0M950.2 584.4h0M963.6 584.4h0M977.0 584.4h0M990.4 584.4h0M1003.8 584.4h0M1017.2 584.4h0M1030.6 584.4h0M1070.8 584.4h0M1084.2 584.4h0M1097.5 584.4h0M1110.9 584.4h0M1137.7 584.4h0M1164.5 584.4h0M749.4 594.2h0M762.8 594.2h0M776.2 594.2h0M789.6 594.2h0M803.0 594.2h0M829.7 594.2h0M843.1 594.2h0M869.9 594.2h0M883.3 594.2h0M896.7 594.2h0M910.1 594.2h0M923.5 594.2h0M936.9 594.2h0M950.2 594.2h0M990.4 594.2h0M1003.8 594.2h0M1030.6 594.2h0M1044.0 594.2h0M1057.4 594.2h0M1070.8 594.2h0M1084.2 594.2h0M1097.5 594.2h0M1124.3 594.2h0M1137.7 594.2h0M1191.3 594.2h0M749.4 604.1h0M762.8 604.1h0M776.2 604.1h0M789.6 604.1h0M803.0 604.1h0M816.4 604.1h0M829.7 604.1h0M843.1 604.1h0M856.5 604.1h0M869.9 604.1h0M896.7 604.1h0M910.1 604.1h0M923.5 604.1h0M936.9 604.1h0M950.2 604.1h0M990.4 604.1h0M1017.2 604.1h0M1030.6 604.1h0M1044.0 604.1h0M1057.4 604.1h0M1070.8 604.1h0M1084.2 604.1h0M1097.5 604.1h0M1110.9 604.1h0M1124.3 604.1h0M1137.7 604.1h0M1151.1 604.1h0M1177.9 604.1h0M1191.3 604.1h0M749.4 613.9h0M762.8 613.9h0M776.2 613.9h0M789.6 613.9h0M803.0 613.9h0M816.4 613.9h0M829.7 613.9h0M869.9 613.9h0M883.3 613.9h0M896.7 613.9h0M910.1 613.9h0M936.9 613.9h0M950.2 613.9h0M963.6 613.9h0M1017.2 613.9h0M1030.6 613.9h0M1044.0 613.9h0M1057.4 613.9h0M1070.8 613.9h0M1084.2 613.9h0M1097.5 613.9h0M1164.5 613.9h0M1177.9 613.9h0M1191.3 613.9h0M749.4 623.7h0M776.2 623.7h0M869.9 623.7h0M883.3 623.7h0M896.7 623.7h0M910.1 623.7h0M923.5 623.7h0M936.9 623.7h0M950.2 623.7h0M749.4 633.5h0M762.8 633.5h0M776.2 633.5h0M789.6 633.5h0M803.0 633.5h0M869.9 633.5h0M910.1 633.5h0M923.5 633.5h0M936.9 633.5h0M950.2 633.5h0M963.6 633.5h0M977.0 633.5h0M990.4 633.5h0M1003.8 633.5h0M1017.2 633.5h0M1030.6 633.5h0M816.4 643.3h0M843.1 643.3h0M856.5 643.3h0M749.4 653.1h0M762.8 653.1h0M776.2 653.1h0M789.6 653.1h0M803.0 653.1h0M816.4 653.1h0M829.7 653.1h0M843.1 653.1h0M856.5 653.1h0M869.9 653.1h0M883.3 653.1h0M896.7 653.1h0M910.1 653.1h0M923.5 653.1h0M936.9 653.1h0M950.2 653.1h0M963.6 653.1h0M977.0 653.1h0M990.4 653.1h0M1003.8 653.1h0M1017.2 653.1h0M1030.6 653.1h0M1044.0 653.1h0M1057.4 653.1h0M1070.8 653.1h0M1084.2 653.1h0M1124.3 653.1h0M1137.7 653.1h0M1151.1 653.1h0M1164.5 653.1h0M1191.3 653.1h0M749.4 662.9h0M762.8 662.9h0M776.2 662.9h0M789.6 662.9h0M803.0 662.9h0M843.1 662.9h0M856.5 662.9h0M869.9 662.9h0M883.3 662.9h0M896.7 662.9h0M910.1 662.9h0M923.5 662.9h0M936.9 662.9h0M950.2 662.9h0M963.6 662.9h0M977.0 662.9h0M990.4 662.9h0M1003.8 662.9h0M1017.2 662.9h0M1030.6 662.9h0M1044.0 662.9h0M1057.4 662.9h0M1070.8 662.9h0M1084.2 662.9h0M1097.5 662.9h0M1124.3 662.9h0M1137.7 662.9h0M1151.1 662.9h0M1164.5 662.9h0M1191.3 662.9h0M749.4 672.7h0M803.0 672.7h0M816.4 672.7h0M829.7 672.7h0M843.1 672.7h0M856.5 672.7h0M883.3 672.7h0M910.1 672.7h0M936.9 672.7h0M977.0 672.7h0M1003.8 672.7h0M1084.2 672.7h0M1124.3 672.7h0M749.4 682.6h0M762.8 682.6h0M776.2 682.6h0M789.6 682.6h0M803.0 682.6h0M816.4 682.6h0M829.7 682.6h0M843.1 682.6h0M856.5 682.6h0M869.9 682.6h0M883.3 682.6h0M896.7 682.6h0M910.1 682.6h0M923.5 682.6h0M936.9 682.6h0M950.2 682.6h0M963.6 682.6h0M977.0 682.6h0M990.4 682.6h0M1003.8 682.6h0M1017.2 682.6h0M1084.2 682.6h0M1124.3 682.6h0M749.4 692.4h0M749.4 712.0h0M762.8 712.0h0M776.2 712.0h0M789.6 712.0h0M803.0 712.0h0M816.4 712.0h0M829.7 712.0h0M843.1 712.0h0M856.5 712.0h0M869.9 712.0h0M883.3 712.0h0M896.7 712.0h0M910.1 712.0h0M923.5 712.0h0M936.9 712.0h0M950.2 712.0h0M963.6 712.0h0M977.0 712.0h0M990.4 712.0h0M1003.8 712.0h0M1017.2 712.0h0M1030.6 712.0h0M1044.0 712.0h0M1057.4 712.0h0M1097.5 712.0h0M1110.9 712.0h0M1124.3 712.0h0M1137.7 712.0h0M1151.1 712.0h0M1164.5 712.0h0M1177.9 712.0h0M1191.3 712.0h0M749.4 721.8h0M803.0 721.8h0M816.4 721.8h0M829.7 721.8h0M843.1 721.8h0M869.9 721.8h0M883.3 721.8h0M896.7 721.8h0M910.1 721.8h0M923.5 721.8h0M936.9 721.8h0M950.2 721.8h0M963.6 721.8h0M977.0 721.8h0M990.4 721.8h0M1003.8 721.8h0M1017.2 721.8h0M1030.6 721.8h0M749.4 731.6h0M789.6 731.6h0M803.0 731.6h0M816.4 731.6h0M829.7 731.6h0M843.1 731.6h0M856.5 731.6h0M869.9 731.6h0M883.3 731.6h0M896.7 731.6h0M910.1 731.6h0M923.5 731.6h0M936.9 731.6h0M950.2 731.6h0M749.4 741.4h0M803.0 741.4h0M883.3 741.4h0M896.7 741.4h0M910.1 741.4h0M923.5 741.4h0M936.9 741.4h0M950.2 741.4h0M749.4 751.2h0M762.8 751.2h0M776.2 751.2h0M789.6 751.2h0M803.0 751.2h0M816.4 751.2h0M829.7 751.2h0M843.1 751.2h0M856.5 751.2h0M869.9 751.2h0M883.3 751.2h0M896.7 751.2h0M910.1 751.2h0M923.5 751.2h0M936.9 751.2h0M950.2 751.2h0M963.6 751.2h0M977.0 751.2h0M990.4 751.2h0M1057.4 751.2h0M1070.8 751.2h0M1084.2 751.2h0M1110.9 751.2h0M1151.1 751.2h0M1177.9 751.2h0M1191.3 751.2h0M749.4 761.1h0M762.8 761.1h0M776.2 761.1h0M789.6 761.1h0M803.0 761.1h0M816.4 761.1h0M829.7 761.1h0M843.1 761.1h0M856.5 761.1h0M869.9 761.1h0M883.3 761.1h0M896.7 761.1h0M910.1 761.1h0M923.5 761.1h0M936.9 761.1h0M950.2 761.1h0M963.6 761.1h0M977.0 761.1h0M990.4 761.1h0M1003.8 761.1h0M1017.2 761.1h0M1057.4 761.1h0M1070.8 761.1h0M1084.2 761.1h0M1110.9 761.1h0M1151.1 761.1h0M1177.9 761.1h0M749.4 770.9h0M762.8 770.9h0M776.2 770.9h0M789.6 770.9h0M803.0 770.9h0M816.4 770.9h0M829.7 770.9h0M843.1 770.9h0M856.5 770.9h0M869.9 770.9h0M883.3 770.9h0M896.7 770.9h0M910.1 770.9h0M923.5 770.9h0M936.9 770.9h0M950.2 770.9h0M1030.6 770.9h0M1044.0 770.9h0M1057.4 770.9h0M1070.8 770.9h0M1084.2 770.9h0M1097.5 770.9h0M1110.9 770.9h0M1124.3 770.9h0M1137.7 770.9h0M1151.1 770.9h0M1164.5 770.9h0M1177.9 770.9h0M1191.3 770.9h0M749.4 780.7h0M762.8 780.7h0M776.2 780.7h0M789.6 780.7h0M803.0 780.7h0M816.4 780.7h0M829.7 780.7h0M843.1 780.7h0M856.5 780.7h0M869.9 780.7h0M883.3 780.7h0M896.7 780.7h0M910.1 780.7h0M923.5 780.7h0M936.9 780.7h0M950.2 780.7h0M1030.6 780.7h0M1044.0 780.7h0M1057.4 780.7h0M1070.8 780.7h0M1084.2 780.7h0M1097.5 780.7h0M1110.9 780.7h0M1124.3 780.7h0M1137.7 780.7h0M1151.1 780.7h0M1164.5 780.7h0M1177.9 780.7h0M1191.3 780.7h0M749.4 790.5h0M762.8 790.5h0M776.2 790.5h0M789.6 790.5h0M803.0 790.5h0M816.4 790.5h0M829.7 790.5h0M843.1 790.5h0M869.9 790.5h0M883.3 790.5h0M896.7 790.5h0M910.1 790.5h0M923.5 790.5h0M936.9 790.5h0M950.2 790.5h0M1030.6 790.5h0M1044.0 790.5h0M1057.4 790.5h0M1070.8 790.5h0M1084.2 790.5h0M1097.5 790.5h0M1110.9 790.5h0M1124.3 790.5h0M1137.7 790.5h0M1151.1 790.5h0M1164.5 790.5h0M1191.3 790.5h0M749.4 800.3h0M762.8 800.3h0M776.2 800.3h0M789.6 800.3h0M803.0 800.3h0M816.4 800.3h0M829.7 800.3h0M843.1 800.3h0M856.5 800.3h0M869.9 800.3h0M896.7 800.3h0M910.1 800.3h0M923.5 800.3h0M1017.2 800.3h0M1030.6 800.3h0M1044.0 800.3h0M1057.4 800.3h0M1070.8 800.3h0M1084.2 800.3h0M1097.5 800.3h0M1110.9 800.3h0M1124.3 800.3h0M1137.7 800.3h0M1151.1 800.3h0M1177.9 800.3h0M1191.3 800.3h0M749.4 810.1h0M762.8 810.1h0M776.2 810.1h0M789.6 810.1h0M803.0 810.1h0M816.4 810.1h0M829.7 810.1h0M843.1 810.1h0M856.5 810.1h0M869.9 810.1h0M883.3 810.1h0M896.7 810.1h0M910.1 810.1h0M923.5 810.1h0M936.9 810.1h0M950.2 810.1h0M1003.8 810.1h0M1017.2 810.1h0M1030.6 810.1h0M1044.0 810.1h0M1057.4 810.1h0M1070.8 810.1h0M1084.2 810.1h0M1097.5 810.1h0M1110.9 810.1h0M1151.1 810.1h0M1177.9 810.1h0M1191.3 810.1h0M749.4 819.9h0M762.8 819.9h0M776.2 819.9h0M789.6 819.9h0M803.0 819.9h0M816.4 819.9h0M829.7 819.9h0M843.1 819.9h0M856.5 819.9h0M869.9 819.9h0M883.3 819.9h0M896.7 819.9h0M910.1 819.9h0M923.5 819.9h0M936.9 819.9h0M950.2 819.9h0M1003.8 819.9h0M1017.2 819.9h0M1030.6 819.9h0M1044.0 819.9h0M1057.4 819.9h0M1070.8 819.9h0M1084.2 819.9h0M1097.5 819.9h0M1110.9 819.9h0M1124.3 819.9h0M1137.7 819.9h0M1151.1 819.9h0M1164.5 819.9h0M1177.9 819.9h0M1191.3 819.9h0M762.8 829.7h0M776.2 829.7h0M789.6 829.7h0M803.0 829.7h0M816.4 829.7h0M829.7 829.7h0M843.1 829.7h0M856.5 829.7h0M869.9 829.7h0M883.3 829.7h0M896.7 829.7h0M910.1 829.7h0M923.5 829.7h0M936.9 829.7h0M950.2 829.7h0M749.4 839.5h0M762.8 839.5h0M803.0 839.5h0M816.4 839.5h0M829.7 839.5h0M843.1 839.5h0M856.5 839.5h0M869.9 839.5h0M883.3 839.5h0M896.7 839.5h0M910.1 839.5h0M923.5 839.5h0M936.9 839.5h0M963.6 839.5h0M977.0 839.5h0M990.4 839.5h0M749.4 849.4h0M762.8 849.4h0M776.2 849.4h0M789.6 849.4h0M803.0 849.4h0M816.4 849.4h0M829.7 849.4h0M843.1 849.4h0M856.5 849.4h0M869.9 849.4h0M883.3 849.4h0M896.7 849.4h0M910.1 849.4h0M923.5 849.4h0M936.9 849.4h0M950.2 849.4h0M1044.0 849.4h0M1057.4 849.4h0M1070.8 849.4h0M1084.2 849.4h0M1097.5 849.4h0M1110.9 849.4h0M1137.7 849.4h0M1151.1 849.4h0M749.4 859.2h0M762.8 859.2h0M776.2 859.2h0M789.6 859.2h0M803.0 859.2h0M816.4 859.2h0M829.7 859.2h0M843.1 859.2h0M856.5 859.2h0M869.9 859.2h0M883.3 859.2h0M896.7 859.2h0M910.1 859.2h0M923.5 859.2h0M936.9 859.2h0M950.2 859.2h0M1057.4 859.2h0M1070.8 859.2h0M1084.2 859.2h0M1137.7 859.2h0M1151.1 859.2h0M1177.9 859.2h0M1191.3 859.2h0M749.4 869.0h0M762.8 869.0h0M776.2 869.0h0M789.6 869.0h0M803.0 869.0h0M816.4 869.0h0M829.7 869.0h0M843.1 869.0h0M856.5 869.0h0M869.9 869.0h0M883.3 869.0h0M896.7 869.0h0M910.1 869.0h0M923.5 869.0h0M936.9 869.0h0M950.2 869.0h0M963.6 869.0h0M1030.6 869.0h0M1044.0 869.0h0M1057.4 869.0h0M1070.8 869.0h0M1084.2 869.0h0M1151.1 869.0h0M1177.9 869.0h0M749.4 878.8h0M762.8 878.8h0M776.2 878.8h0M789.6 878.8h0M803.0 878.8h0M869.9 878.8h0M883.3 878.8h0M896.7 878.8h0M910.1 878.8h0M923.5 878.8h0M936.9 878.8h0M950.2 878.8h0M963.6 878.8h0M977.0 878.8h0M990.4 878.8h0M1097.5 878.8h0M1110.9 878.8h0M1124.3 878.8h0M1137.7 878.8h0M1151.1 878.8h0M1164.5 878.8h0M1177.9 878.8h0M1191.3 878.8h0M749.4 888.6h0M762.8 888.6h0M776.2 888.6h0M789.6 888.6h0M803.0 888.6h0M816.4 888.6h0M829.7 888.6h0M843.1 888.6h0M856.5 888.6h0M869.9 888.6h0M883.3 888.6h0M896.7 888.6h0M910.1 888.6h0M923.5 888.6h0M936.9 888.6h0M950.2 888.6h0M749.4 898.4h0M762.8 898.4h0M776.2 898.4h0M789.6 898.4h0M803.0 898.4h0M816.4 898.4h0M829.7 898.4h0M843.1 898.4h0M856.5 898.4h0M869.9 898.4h0M883.3 898.4h0M896.7 898.4h0M910.1 898.4h0M923.5 898.4h0M936.9 898.4h0M950.2 898.4h0M749.4 908.2h0M869.9 908.2h0M883.3 908.2h0M896.7 908.2h0M910.1 908.2h0M923.5 908.2h0M936.9 908.2h0M950.2 908.2h0M749.4 918.0h0M762.8 918.0h0M776.2 918.0h0M789.6 918.0h0M803.0 918.0h0M816.4 918.0h0M829.7 918.0h0M843.1 918.0h0M856.5 918.0h0M869.9 918.0h0M883.3 918.0h0M896.7 918.0h0M910.1 918.0h0M923.5 918.0h0M963.6 918.0h0M977.0 918.0h0M990.4 918.0h0M1003.8 918.0h0M1017.2 918.0h0M1030.6 918.0h0M1044.0 918.0h0M1057.4 918.0h0M1070.8 918.0h0M1084.2 918.0h0M1097.5 918.0h0M1110.9 918.0h0M1124.3 918.0h0M1137.7 918.0h0M1151.1 918.0h0M1164.5 918.0h0M1177.9 918.0h0M1191.3 918.0h0M749.4 927.9h0M762.8 927.9h0M776.2 927.9h0M789.6 927.9h0M803.0 927.9h0M816.4 927.9h0M829.7 927.9h0M843.1 927.9h0M856.5 927.9h0M869.9 927.9h0M883.3 927.9h0M896.7 927.9h0M910.1 927.9h0M923.5 927.9h0M963.6 927.9h0M977.0 927.9h0M990.4 927.9h0M1003.8 927.9h0M1017.2 927.9h0M1030.6 927.9h0M1044.0 927.9h0M1057.4 927.9h0M1070.8 927.9h0M1084.2 927.9h0M1097.5 927.9h0M1110.9 927.9h0M1124.3 927.9h0M1137.7 927.9h0M1151.1 927.9h0M1164.5 927.9h0M1177.9 927.9h0M1191.3 927.9h0M749.4 937.7h0M762.8 937.7h0M776.2 937.7h0M789.6 937.7h0M803.0 937.7h0M816.4 937.7h0M829.7 937.7h0M843.1 937.7h0M856.5 937.7h0M950.2 937.7h0M977.0 937.7h0M990.4 937.7h0M1003.8 937.7h0M1017.2 937.7h0M1030.6 937.7h0M1044.0 937.7h0M1057.4 937.7h0M1070.8 937.7h0M1084.2 937.7h0M1097.5 937.7h0M1110.9 937.7h0M1124.3 937.7h0M1137.7 937.7h0M1151.1 937.7h0M1164.5 937.7h0M1177.9 937.7h0M1191.3 937.7h0M749.4 947.5h0M762.8 947.5h0M776.2 947.5h0M789.6 947.5h0M803.0 947.5h0M816.4 947.5h0M829.7 947.5h0M843.1 947.5h0M856.5 947.5h0M869.9 947.5h0M883.3 947.5h0M896.7 947.5h0M910.1 947.5h0M923.5 947.5h0M963.6 947.5h0M977.0 947.5h0M990.4 947.5h0M1003.8 947.5h0M1017.2 947.5h0M1030.6 947.5h0M1044.0 947.5h0M1057.4 947.5h0M1070.8 947.5h0M1084.2 947.5h0M1097.5 947.5h0M1110.9 947.5h0M1124.3 947.5h0M1137.7 947.5h0M1151.1 947.5h0M1164.5 947.5h0M1177.9 947.5h0M1191.3 947.5h0M749.4 957.3h0M762.8 957.3h0M776.2 957.3h0M789.6 957.3h0M803.0 957.3h0M816.4 957.3h0M829.7 957.3h0M843.1 957.3h0M856.5 957.3h0M869.9 957.3h0M883.3 957.3h0M896.7 957.3h0M910.1 957.3h0M936.9 957.3h0M950.2 957.3h0M963.6 957.3h0M977.0 957.3h0M990.4 957.3h0M1003.8 957.3h0M1017.2 957.3h0M1030.6 957.3h0M1044.0 957.3h0M1057.4 957.3h0M1070.8 957.3h0M1084.2 957.3h0M1097.5 957.3h0M1110.9 957.3h0M1124.3 957.3h0M1137.7 957.3h0M1151.1 957.3h0M1164.5 957.3h0M1177.9 957.3h0M1191.3 957.3h0M749.4 967.1h0M762.8 967.1h0M776.2 967.1h0M789.6 967.1h0M803.0 967.1h0M816.4 967.1h0M829.7 967.1h0M843.1 967.1h0M856.5 967.1h0M869.9 967.1h0M883.3 967.1h0M896.7 967.1h0M910.1 967.1h0M936.9 967.1h0M963.6 967.1h0M977.0 967.1h0M990.4 967.1h0M1003.8 967.1h0M1017.2 967.1h0M1030.6 967.1h0M1044.0 967.1h0M1057.4 967.1h0M1070.8 967.1h0M1084.2 967.1h0M1097.5 967.1h0M1110.9 967.1h0M1124.3 967.1h0M1137.7 967.1h0M1151.1 967.1h0M1164.5 967.1h0M1177.9 967.1h0M1191.3 967.1h0M749.4 976.9h0M762.8 976.9h0M776.2 976.9h0M789.6 976.9h0M803.0 976.9h0M816.4 976.9h0M829.7 976.9h0M843.1 976.9h0M856.5 976.9h0M896.7 976.9h0M923.5 976.9h0M963.6 976.9h0M977.0 976.9h0M990.4 976.9h0M1003.8 976.9h0M1017.2 976.9h0M1030.6 976.9h0M1044.0 976.9h0M1057.4 976.9h0M1070.8 976.9h0M1097.5 976.9h0M1110.9 976.9h0M1124.3 976.9h0M1137.7 976.9h0M1151.1 976.9h0M1164.5 976.9h0M1177.9 976.9h0M1191.3 976.9h0M749.4 986.7h0M762.8 986.7h0M776.2 986.7h0M789.6 986.7h0M803.0 986.7h0M816.4 986.7h0M829.7 986.7h0M843.1 986.7h0M856.5 986.7h0M963.6 986.7h0M977.0 986.7h0M990.4 986.7h0M1003.8 986.7h0M1017.2 986.7h0M1030.6 986.7h0M1044.0 986.7h0M1057.4 986.7h0M1070.8 986.7h0M1084.2 986.7h0M1097.5 986.7h0M1110.9 986.7h0M1124.3 986.7h0M1137.7 986.7h0M1151.1 986.7h0M1164.5 986.7h0M1177.9 986.7h0M1191.3 986.7h0M749.4 996.5h0M762.8 996.5h0M776.2 996.5h0M789.6 996.5h0M803.0 996.5h0M816.4 996.5h0M829.7 996.5h0M843.1 996.5h0M869.9 996.5h0M883.3 996.5h0M910.1 996.5h0M936.9 996.5h0M950.2 996.5h0M963.6 996.5h0M977.0 996.5h0M990.4 996.5h0M1003.8 996.5h0M1017.2 996.5h0M1030.6 996.5h0M1044.0 996.5h0M1057.4 996.5h0M1070.8 996.5h0M1084.2 996.5h0M1097.5 996.5h0M1110.9 996.5h0M1124.3 996.5h0M1137.7 996.5h0M1151.1 996.5h0M1164.5 996.5h0M1177.9 996.5h0M1191.3 996.5h0M749.4 1006.4h0M762.8 1006.4h0M776.2 1006.4h0M789.6 1006.4h0M803.0 1006.4h0M816.4 1006.4h0M829.7 1006.4h0M843.1 1006.4h0M856.5 1006.4h0M869.9 1006.4h0M883.3 1006.4h0M910.1 1006.4h0M936.9 1006.4h0M950.2 1006.4h0M963.6 1006.4h0M977.0 1006.4h0M990.4 1006.4h0M1003.8 1006.4h0M1017.2 1006.4h0M1030.6 1006.4h0M1044.0 1006.4h0M1057.4 1006.4h0M1070.8 1006.4h0M1084.2 1006.4h0M1097.5 1006.4h0M1110.9 1006.4h0M1124.3 1006.4h0M1137.7 1006.4h0M1151.1 1006.4h0M1164.5 1006.4h0M1177.9 1006.4h0M1191.3 1006.4h0M749.4 1016.2h0M762.8 1016.2h0M776.2 1016.2h0M789.6 1016.2h0M803.0 1016.2h0M816.4 1016.2h0M829.7 1016.2h0M843.1 1016.2h0M856.5 1016.2h0M869.9 1016.2h0M896.7 1016.2h0M910.1 1016.2h0M923.5 1016.2h0M936.9 1016.2h0M950.2 1016.2h0M963.6 1016.2h0M990.4 1016.2h0M1017.2 1016.2h0M1030.6 1016.2h0M1044.0 1016.2h0M1057.4 1016.2h0M1070.8 1016.2h0M1084.2 1016.2h0M1097.5 1016.2h0M1110.9 1016.2h0M1124.3 1016.2h0M1137.7 1016.2h0M1151.1 1016.2h0M1177.9 1016.2h0M1191.3 1016.2h0M749.4 1026.0h0M762.8 1026.0h0M776.2 1026.0h0M789.6 1026.0h0M803.0 1026.0h0M816.4 1026.0h0M829.7 1026.0h0M856.5 1026.0h0M869.9 1026.0h0M896.7 1026.0h0M910.1 1026.0h0M923.5 1026.0h0M936.9 1026.0h0M950.2 1026.0h0M963.6 1026.0h0M990.4 1026.0h0M1017.2 1026.0h0M1030.6 1026.0h0M1044.0 1026.0h0M1057.4 1026.0h0M1070.8 1026.0h0M1084.2 1026.0h0M1097.5 1026.0h0M1110.9 1026.0h0M1124.3 1026.0h0M1137.7 1026.0h0M1151.1 1026.0h0M1177.9 1026.0h0M1191.3 1026.0h0M749.4 1035.8h0M762.8 1035.8h0M776.2 1035.8h0M789.6 1035.8h0M803.0 1035.8h0M816.4 1035.8h0M829.7 1035.8h0M843.1 1035.8h0M856.5 1035.8h0M896.7 1035.8h0M923.5 1035.8h0M963.6 1035.8h0M977.0 1035.8h0M990.4 1035.8h0M1003.8 1035.8h0M1017.2 1035.8h0M1030.6 1035.8h0M1044.0 1035.8h0M1057.4 1035.8h0M1070.8 1035.8h0M1084.2 1035.8h0M1097.5 1035.8h0M1110.9 1035.8h0M1124.3 1035.8h0M1137.7 1035.8h0M1151.1 1035.8h0M1164.5 1035.8h0M1177.9 1035.8h0M1191.3 1035.8h0M749.4 1045.6h0M762.8 1045.6h0M776.2 1045.6h0M789.6 1045.6h0M803.0 1045.6h0M816.4 1045.6h0M829.7 1045.6h0M843.1 1045.6h0M856.5 1045.6h0M896.7 1045.6h0M963.6 1045.6h0M977.0 1045.6h0M990.4 1045.6h0M1003.8 1045.6h0M1017.2 1045.6h0M1030.6 1045.6h0M1044.0 1045.6h0M1057.4 1045.6h0M1070.8 1045.6h0M1084.2 1045.6h0M1097.5 1045.6h0M1110.9 1045.6h0M1124.3 1045.6h0M1137.7 1045.6h0M1151.1 1045.6h0M1164.5 1045.6h0M1177.9 1045.6h0M1191.3 1045.6h0M749.4 1055.4h0M762.8 1055.4h0M776.2 1055.4h0M789.6 1055.4h0M803.0 1055.4h0M816.4 1055.4h0M829.7 1055.4h0M843.1 1055.4h0M869.9 1055.4h0M883.3 1055.4h0M896.7 1055.4h0M910.1 1055.4h0M923.5 1055.4h0M936.9 1055.4h0M950.2 1055.4h0M963.6 1055.4h0M977.0 1055.4h0M990.4 1055.4h0M1003.8 1055.4h0M1017.2 1055.4h0M1030.6 1055.4h0M1044.0 1055.4h0M1057.4 1055.4h0M1070.8 1055.4h0M1084.2 1055.4h0M1097.5 1055.4h0M1110.9 1055.4h0M1124.3 1055.4h0M1137.7 1055.4h0M1151.1 1055.4h0M1164.5 1055.4h0M1177.9 1055.4h0M1191.3 1055.4h0M749.4 1065.2h0M762.8 1065.2h0M776.2 1065.2h0M789.6 1065.2h0M803.0 1065.2h0M829.7 1065.2h0M843.1 1065.2h0M869.9 1065.2h0M883.3 1065.2h0M910.1 1065.2h0M950.2 1065.2h0M963.6 1065.2h0M977.0 1065.2h0M990.4 1065.2h0M1003.8 1065.2h0M1017.2 1065.2h0M1030.6 1065.2h0M1044.0 1065.2h0M1057.4 1065.2h0M1070.8 1065.2h0M1084.2 1065.2h0M1097.5 1065.2h0M1110.9 1065.2h0M1124.3 1065.2h0M1137.7 1065.2h0M1151.1 1065.2h0M1164.5 1065.2h0M1177.9 1065.2h0M1191.3 1065.2h0M977.0 1075.0h0M990.4 1075.0h0M1003.8 1075.0h0M1017.2 1075.0h0M1030.6 1075.0h0M1044.0 1075.0h0M1057.4 1075.0h0M1070.8 1075.0h0M1084.2 1075.0h0M1097.5 1075.0h0M1017.2 1084.8h0M1030.6 1084.8h0M1044.0 1084.8h0M1057.4 1084.8h0M1070.8 1084.8h0M1084.2 1084.8h0M1097.5 1084.8h0M1124.3 1084.8h0M1137.7 1084.8h0M1151.1 1084.8h0M749.4 1094.7h0M762.8 1094.7h0M776.2 1094.7h0M789.6 1094.7h0M803.0 1094.7h0M843.1 1094.7h0M856.5 1094.7h0M869.9 1094.7h0M883.3 1094.7h0M896.7 1094.7h0M910.1 1094.7h0M923.5 1094.7h0M936.9 1094.7h0M950.2 1094.7h0M963.6 1094.7h0M977.0 1094.7h0M990.4 1094.7h0M1003.8 1094.7h0M1017.2 1094.7h0M1030.6 1094.7h0M1044.0 1094.7h0M1057.4 1094.7h0M1070.8 1094.7h0M1084.2 1094.7h0M1097.5 1094.7h0M1110.9 1094.7h0M1124.3 1094.7h0M1137.7 1094.7h0M1151.1 1094.7h0M1164.5 1094.7h0M1177.9 1094.7h0M1191.3 1094.7h0M749.4 1104.5h0M762.8 1104.5h0M776.2 1104.5h0M789.6 1104.5h0M803.0 1104.5h0M816.4 1104.5h0M843.1 1104.5h0M856.5 1104.5h0M869.9 1104.5h0M883.3 1104.5h0M896.7 1104.5h0M910.1 1104.5h0M923.5 1104.5h0M936.9 1104.5h0M950.2 1104.5h0M963.6 1104.5h0M977.0 1104.5h0M990.4 1104.5h0M1003.8 1104.5h0M1017.2 1104.5h0M1030.6 1104.5h0M1044.0 1104.5h0M1057.4 1104.5h0M1070.8 1104.5h0M1084.2 1104.5h0M1097.5 1104.5h0M1110.9 1104.5h0M1124.3 1104.5h0M1137.7 1104.5h0M1151.1 1104.5h0M1164.5 1104.5h0M1177.9 1104.5h0M1191.3 1104.5h0M749.4 1114.3h0M762.8 1114.3h0M776.2 1114.3h0M789.6 1114.3h0M803.0 1114.3h0M856.5 1114.3h0M869.9 1114.3h0M883.3 1114.3h0M896.7 1114.3h0M910.1 1114.3h0M923.5 1114.3h0M936.9 1114.3h0M950.2 1114.3h0M963.6 1114.3h0M977.0 1114.3h0M990.4 1114.3h0M1003.8 1114.3h0M1017.2 1114.3h0M1030.6 1114.3h0M1044.0 1114.3h0M1057.4 1114.3h0M1070.8 1114.3h0M1084.2 1114.3h0M1097.5 1114.3h0M1110.9 1114.3h0M1124.3 1114.3h0M1137.7 1114.3h0M1151.1 1114.3h0M1164.5 1114.3h0M1177.9 1114.3h0M1191.3 1114.3h0M749.4 1124.1h0M762.8 1124.1h0M776.2 1124.1h0M789.6 1124.1h0M803.0 1124.1h0M843.1 1124.1h0M856.5 1124.1h0M869.9 1124.1h0M883.3 1124.1h0M896.7 1124.1h0M910.1 1124.1h0M923.5 1124.1h0M950.2 1124.1h0M963.6 1124.1h0M977.0 1124.1h0M990.4 1124.1h0M1003.8 1124.1h0M1017.2 1124.1h0M1030.6 1124.1h0M1044.0 1124.1h0M1057.4 1124.1h0M1070.8 1124.1h0M1084.2 1124.1h0M1097.5 1124.1h0M1110.9 1124.1h0M1124.3 1124.1h0M1137.7 1124.1h0M1151.1 1124.1h0M1164.5 1124.1h0M1177.9 1124.1h0M1191.3 1124.1h0M749.4 1133.9h0M762.8 1133.9h0M816.4 1133.9h0M829.7 1133.9h0M843.1 1133.9h0M856.5 1133.9h0M869.9 1133.9h0M883.3 1133.9h0M896.7 1133.9h0M910.1 1133.9h0M923.5 1133.9h0M936.9 1133.9h0M950.2 1133.9h0M963.6 1133.9h0M977.0 1133.9h0M990.4 1133.9h0M1003.8 1133.9h0M1017.2 1133.9h0M1030.6 1133.9h0M1044.0 1133.9h0M1057.4 1133.9h0M1070.8 1133.9h0M1084.2 1133.9h0M1097.5 1133.9h0M1110.9 1133.9h0M1124.3 1133.9h0M1137.7 1133.9h0M1151.1 1133.9h0M1164.5 1133.9h0M1177.9 1133.9h0M1191.3 1133.9h0M749.4 1143.7h0M762.8 1143.7h0M816.4 1143.7h0M829.7 1143.7h0M843.1 1143.7h0M856.5 1143.7h0M869.9 1143.7h0M883.3 1143.7h0M896.7 1143.7h0M910.1 1143.7h0M923.5 1143.7h0M936.9 1143.7h0M950.2 1143.7h0M963.6 1143.7h0M977.0 1143.7h0M990.4 1143.7h0M1003.8 1143.7h0M1017.2 1143.7h0M1030.6 1143.7h0M1044.0 1143.7h0M1057.4 1143.7h0M1070.8 1143.7h0M1084.2 1143.7h0M1097.5 1143.7h0M1110.9 1143.7h0M1124.3 1143.7h0M1137.7 1143.7h0M1151.1 1143.7h0M1164.5 1143.7h0M1177.9 1143.7h0M1191.3 1143.7h0M749.4 1153.5h0M762.8 1153.5h0M776.2 1153.5h0M789.6 1153.5h0M816.4 1153.5h0M829.7 1153.5h0M843.1 1153.5h0M856.5 1153.5h0M869.9 1153.5h0M883.3 1153.5h0M896.7 1153.5h0M910.1 1153.5h0M923.5 1153.5h0M936.9 1153.5h0M950.2 1153.5h0M977.0 1153.5h0M990.4 1153.5h0M1003.8 1153.5h0M1017.2 1153.5h0M1030.6 1153.5h0M1191.3 1153.5h0M749.4 1163.3h0M762.8 1163.3h0M816.4 1163.3h0M829.7 1163.3h0M843.1 1163.3h0M856.5 1163.3h0M869.9 1163.3h0M883.3 1163.3h0M896.7 1163.3h0M910.1 1163.3h0M923.5 1163.3h0M936.9 1163.3h0M950.2 1163.3h0M963.6 1163.3h0M977.0 1163.3h0M990.4 1163.3h0M1003.8 1163.3h0M1017.2 1163.3h0M1030.6 1163.3h0M1044.0 1163.3h0M1057.4 1163.3h0M1070.8 1163.3h0M1084.2 1163.3h0M1097.5 1163.3h0M1110.9 1163.3h0M1124.3 1163.3h0M1137.7 1163.3h0M1151.1 1163.3h0M1164.5 1163.3h0M1177.9 1163.3h0M1191.3 1163.3h0M749.4 1173.2h0M803.0 1173.2h0M816.4 1173.2h0M829.7 1173.2h0M843.1 1173.2h0M856.5 1173.2h0M869.9 1173.2h0M883.3 1173.2h0M896.7 1173.2h0M910.1 1173.2h0M923.5 1173.2h0M936.9 1173.2h0M950.2 1173.2h0M963.6 1173.2h0M977.0 1173.2h0M990.4 1173.2h0M1003.8 1173.2h0M1017.2 1173.2h0M1030.6 1173.2h0M1044.0 1173.2h0M1057.4 1173.2h0M1070.8 1173.2h0M1084.2 1173.2h0M1097.5 1173.2h0M1110.9 1173.2h0M1124.3 1173.2h0M1137.7 1173.2h0M1151.1 1173.2h0M1164.5 1173.2h0M1177.9 1173.2h0M1191.3 1173.2h0M816.4 1183.0h0M829.7 1183.0h0M843.1 1183.0h0M856.5 1183.0h0M869.9 1183.0h0M883.3 1183.0h0M896.7 1183.0h0M910.1 1183.0h0M923.5 1183.0h0M936.9 1183.0h0M950.2 1183.0h0M963.6 1183.0h0M977.0 1183.0h0M990.4 1183.0h0M1003.8 1183.0h0M1017.2 1183.0h0M1030.6 1183.0h0M1044.0 1183.0h0M1057.4 1183.0h0M1070.8 1183.0h0M1084.2 1183.0h0M1097.5 1183.0h0M1110.9 1183.0h0M1124.3 1183.0h0M1137.7 1183.0h0M1151.1 1183.0h0M1164.5 1183.0h0M1177.9 1183.0h0M1191.3 1183.0h0M749.4 1192.8h0M789.6 1192.8h0M803.0 1192.8h0M816.4 1192.8h0M829.7 1192.8h0M843.1 1192.8h0M856.5 1192.8h0M869.9 1192.8h0M883.3 1192.8h0M896.7 1192.8h0M910.1 1192.8h0M923.5 1192.8h0M936.9 1192.8h0M950.2 1192.8h0M963.6 1192.8h0M977.0 1192.8h0M990.4 1192.8h0M1003.8 1192.8h0M1017.2 1192.8h0M1030.6 1192.8h0M1044.0 1192.8h0M1057.4 1192.8h0M1070.8 1192.8h0M1084.2 1192.8h0M1097.5 1192.8h0M1110.9 1192.8h0M1124.3 1192.8h0M1137.7 1192.8h0M1151.1 1192.8h0M1164.5 1192.8h0M1177.9 1192.8h0M1191.3 1192.8h0M816.4 1202.6h0M829.7 1202.6h0M843.1 1202.6h0M856.5 1202.6h0M869.9 1202.6h0M883.3 1202.6h0M896.7 1202.6h0M910.1 1202.6h0M923.5 1202.6h0M936.9 1202.6h0M950.2 1202.6h0M1044.0 1202.6h0M1057.4 1202.6h0M1110.9 1202.6h0M1164.5 1202.6h0M1177.9 1202.6h0M1191.3 1202.6h0M749.4 1212.4h0M816.4 1212.4h0M829.7 1212.4h0M843.1 1212.4h0M856.5 1212.4h0M869.9 1212.4h0M883.3 1212.4h0M896.7 1212.4h0M910.1 1212.4h0M923.5 1212.4h0M936.9 1212.4h0M950.2 1212.4h0M963.6 1212.4h0M977.0 1212.4h0M990.4 1212.4h0M1003.8 1212.4h0M1017.2 1212.4h0M1030.6 1212.4h0M1044.0 1212.4h0M1057.4 1212.4h0M1070.8 1212.4h0M1084.2 1212.4h0M1097.5 1212.4h0M1110.9 1212.4h0M1124.3 1212.4h0M1137.7 1212.4h0M1151.1 1212.4h0M1164.5 1212.4h0M1177.9 1212.4h0M1191.3 1212.4h0M762.8 1222.2h0M776.2 1222.2h0M789.6 1222.2h0M803.0 1222.2h0M816.4 1222.2h0M829.7 1222.2h0M843.1 1222.2h0M856.5 1222.2h0M869.9 1222.2h0M883.3 1222.2h0M896.7 1222.2h0M910.1 1222.2h0M923.5 1222.2h0M936.9 1222.2h0M950.2 1222.2h0M963.6 1222.2h0M977.0 1222.2h0M990.4 1222.2h0M1003.8 1222.2h0M1017.2 1222.2h0M1030.6 1222.2h0M1044.0 1222.2h0M1057.4 1222.2h0M1070.8 1222.2h0M1084.2 1222.2h0M1097.5 1222.2h0M1110.9 1222.2h0M1124.3 1222.2h0M1137.7 1222.2h0M1151.1 1222.2h0M1164.5 1222.2h0M1177.9 1222.2h0M1191.3 1222.2h0M762.8 1232.0h0M776.2 1232.0h0M789.6 1232.0h0M803.0 1232.0h0M816.4 1232.0h0M829.7 1232.0h0M843.1 1232.0h0M856.5 1232.0h0M869.9 1232.0h0M883.3 1232.0h0M896.7 1232.0h0M910.1 1232.0h0M923.5 1232.0h0M936.9 1232.0h0M950.2 1232.0h0M963.6 1232.0h0M977.0 1232.0h0M990.4 1232.0h0M1003.8 1232.0h0M1017.2 1232.0h0M1030.6 1232.0h0M1044.0 1232.0h0M1057.4 1232.0h0M1070.8 1232.0h0M1084.2 1232.0h0M1097.5 1232.0h0M1110.9 1232.0h0M1124.3 1232.0h0M1137.7 1232.0h0M1151.1 1232.0h0M1164.5 1232.0h0M1177.9 1232.0h0M1191.3 1232.0h0"/>
<path stroke="#f58a74" stroke-width="3.60" stroke-linecap="round" fill="none" d="M1044.0 555.0h0M1084.2 555.0h0M789.6 564.8h0M829.7 564.8h0M896.7 564.8h0M923.5 564.8h0M1177.9 564.8h0M829.7 574.6h0M843.1 574.6h0M1044.0 584.4h0M1057.4 584.4h0M1124.3 584.4h0M816.4 594.2h0M856.5 594.2h0M1164.5 594.2h0M963.6 604.1h0M843.1 613.9h0M856.5 613.9h0M977.0 613.9h0M990.4 613.9h0M1003.8 613.9h0M1124.3 613.9h0M1137.7 613.9h0M1017.2 623.7h0M856.5 633.5h0M896.7 633.5h0M1044.0 633.5h0M1177.9 633.5h0M896.7 672.7h0M923.5 672.7h0M950.2 672.7h0M963.6 672.7h0M1030.6 672.7h0M1164.5 672.7h0M1177.9 672.7h0M1030.6 682.6h0M1057.4 682.6h0M1151.1 682.6h0M1191.3 682.6h0M883.3 692.4h0M910.1 692.4h0M762.8 702.2h0M816.4 702.2h0M776.2 721.8h0M1151.1 721.8h0M1164.5 721.8h0M1017.2 731.6h0M1110.9 731.6h0M816.4 741.4h0M843.1 741.4h0M1097.5 741.4h0M1137.7 741.4h0M1164.5 741.4h0M1003.8 751.2h0M1097.5 751.2h0M1124.3 751.2h0M1137.7 761.1h0M963.6 770.9h0M1017.2 790.5h0M990.4 810.1h0M1137.7 810.1h0M1057.4 829.7h0M776.2 839.5h0M789.6 839.5h0M950.2 839.5h0M1017.2 839.5h0M1044.0 839.5h0M1057.4 839.5h0M1177.9 839.5h0M1124.3 849.4h0M977.0 859.2h0M990.4 859.2h0M1110.9 859.2h0M990.4 869.0h0M1137.7 869.0h0M816.4 878.8h0M1030.6 878.8h0M1044.0 878.8h0M1057.4 878.8h0M1070.8 878.8h0M1084.2 878.8h0M1177.9 898.4h0M963.6 937.7h0M869.9 986.7h0M856.5 996.5h0M843.1 1026.0h0M936.9 1035.8h0M950.2 1035.8h0M803.0 1075.0h0M1164.5 1075.0h0M1177.9 1075.0h0M1191.3 1075.0h0M749.4 1084.8h0M803.0 1084.8h0M869.9 1084.8h0M936.9 1084.8h0M950.2 1084.8h0M977.0 1084.8h0M990.4 1084.8h0M1164.5 1084.8h0M1177.9 1084.8h0M1191.3 1084.8h0M829.7 1114.3h0M936.9 1124.1h0M776.2 1133.9h0M776.2 1143.7h0M789.6 1143.7h0M1057.4 1153.5h0M1151.1 1153.5h0M762.8 1173.2h0M749.4 1183.0h0M803.0 1183.0h0M749.4 1202.6h0M990.4 1202.6h0M1070.8 1202.6h0M1097.5 1202.6h0M803.0 1212.4h0"/>
<path stroke="#f39a88" stroke-width="2.50" stroke-linecap="round" fill="none" d="M1057.4 555.0h0M1137.7 555.0h0M1151.1 555.0h0M1164.5 555.0h0M762.8 564.8h0M776.2 564.8h0M803.0 564.8h0M856.5 564.8h0M883.3 564.8h0M963.6 564.8h0M977.0 564.8h0M990.4 564.8h0M1003.8 564.8h0M1030.6 564.8h0M1044.0 564.8h0M1057.4 564.8h0M1070.8 564.8h0M1084.2 564.8h0M1110.9 564.8h0M1124.3 564.8h0M1137.7 564.8h0M1151.1 564.8h0M1164.5 564.8h0M776.2 574.6h0M816.4 574.6h0M856.5 574.6h0M1151.1 584.4h0M977.0 594.2h0M1017.2 594.2h0M1151.1 594.2h0M923.5 613.9h0M1110.9 613.9h0M762.8 623.7h0M789.6 623.7h0M803.0 623.7h0M856.5 623.7h0M843.1 633.5h0M883.3 633.5h0M1097.5 633.5h0M1124.3 633.5h0M1164.5 633.5h0M1191.3 633.5h0M749.4 643.3h0M762.8 643.3h0M789.6 643.3h0M829.7 643.3h0M936.9 643.3h0M963.6 643.3h0M1017.2 643.3h0M1057.4 643.3h0M1084.2 643.3h0M1110.9 643.3h0M1177.9 643.3h0M1191.3 643.3h0M1097.5 653.1h0M816.4 662.9h0M762.8 672.7h0M776.2 672.7h0M789.6 672.7h0M869.9 672.7h0M990.4 672.7h0M1017.2 672.7h0M1070.8 672.7h0M1110.9 672.7h0M1191.3 672.7h0M762.8 692.4h0M776.2 692.4h0M789.6 692.4h0M803.0 692.4h0M816.4 692.4h0M829.7 692.4h0M843.1 692.4h0M856.5 692.4h0M963.6 692.4h0M977.0 692.4h0M990.4 692.4h0M749.4 702.2h0M829.7 702.2h0M843.1 702.2h0M936.9 702.2h0M1003.8 702.2h0M1017.2 702.2h0M856.5 721.8h0M1084.2 721.8h0M1110.9 721.8h0M1124.3 721.8h0M1177.9 721.8h0M1191.3 721.8h0M762.8 731.6h0M776.2 731.6h0M1030.6 731.6h0M1124.3 731.6h0M1151.1 731.6h0M1177.9 731.6h0M829.7 741.4h0M869.9 741.4h0M1003.8 741.4h0M1017.2 741.4h0M1030.6 741.4h0M1110.9 741.4h0M1124.3 741.4h0M1151.1 741.4h0M1177.9 741.4h0M1191.3 741.4h0M1044.0 751.2h0M1137.7 751.2h0M1164.5 751.2h0M1044.0 761.1h0M1164.5 761.1h0M963.6 780.7h0M963.6 790.5h0M1177.9 790.5h0M936.9 800.3h0M950.2 800.3h0M990.4 800.3h0M1164.5 810.1h0M990.4 819.9h0M749.4 829.7h0M1003.8 839.5h0M1191.3 839.5h0M1017.2 849.4h0M1030.6 849.4h0M1164.5 849.4h0M963.6 859.2h0M1030.6 859.2h0M1044.0 859.2h0M1124.3 859.2h0M977.0 869.0h0M1191.3 869.0h0M1177.9 888.6h0M1191.3 888.6h0M1191.3 898.4h0M803.0 908.2h0M950.2 947.5h0M950.2 967.1h0M1084.2 976.9h0M883.3 986.7h0M896.7 986.7h0M923.5 986.7h0M936.9 986.7h0M950.2 986.7h0M923.5 1045.6h0M816.4 1065.2h0M923.5 1065.2h0M936.9 1065.2h0M749.4 1075.0h0M869.9 1075.0h0M883.3 1075.0h0M910.1 1075.0h0M963.6 1075.0h0M1124.3 1075.0h0M1137.7 1075.0h0M1151.1 1075.0h0M883.3 1084.8h0M910.1 1084.8h0M1003.8 1084.8h0M816.4 1094.7h0M843.1 1114.3h0M829.7 1124.1h0M789.6 1133.9h0M963.6 1153.5h0M1177.9 1153.5h0M776.2 1192.8h0M1003.8 1202.6h0M1017.2 1202.6h0M1030.6 1202.6h0M1084.2 1202.6h0M1124.3 1202.6h0M1137.7 1202.6h0M1151.1 1202.6h0"/>
<path stroke="#ff1a10" stroke-width="4.80" stroke-linecap="round" fill="none" d="M1070.8 555.0h0M1191.3 555.0h0M1151.1 613.9h0M1070.8 712.0h0M762.8 721.8h0M1070.8 721.8h0M1017.2 751.2h0M1030.6 751.2h0M1030.6 761.1h0M1191.3 761.1h0M1017.2 770.9h0M1124.3 810.1h0M1017.2 829.7h0M1030.6 839.5h0M1084.2 839.5h0M1124.3 839.5h0M1177.9 849.4h0M1191.3 849.4h0M829.7 878.8h0M1017.2 878.8h0M936.9 937.7h0M923.5 1006.4h0M803.0 1133.9h0M803.0 1163.3h0M789.6 1173.2h0M762.8 1192.8h0M749.4 1222.2h0M749.4 1232.0h0"/>
<path stroke="#f8704f" stroke-width="4.80" stroke-linecap="round" fill="none" d="M816.4 564.8h0M843.1 564.8h0M1030.6 623.7h0M1057.4 623.7h0M829.7 633.5h0M1057.4 633.5h0M1070.8 633.5h0M1110.9 633.5h0M1137.7 633.5h0M1151.1 633.5h0M990.4 643.3h0M1030.6 643.3h0M1070.8 643.3h0M1151.1 643.3h0M829.7 662.9h0M1057.4 672.7h0M1151.1 672.7h0M1070.8 682.6h0M1137.7 682.6h0M1164.5 682.6h0M923.5 702.2h0M789.6 721.8h0M1044.0 721.8h0M1057.4 721.8h0M1097.5 721.8h0M1137.7 721.8h0M1137.7 731.6h0M789.6 741.4h0M1057.4 741.4h0M1084.2 741.4h0M1097.5 761.1h0M1124.3 761.1h0M977.0 780.7h0M963.6 800.3h0M977.0 819.9h0M1030.6 829.7h0M1044.0 829.7h0M1070.8 829.7h0M1084.2 829.7h0M1097.5 829.7h0M1110.9 829.7h0M1137.7 829.7h0M1151.1 829.7h0M1177.9 829.7h0M1070.8 839.5h0M1097.5 839.5h0M1110.9 839.5h0M1137.7 839.5h0M1151.1 839.5h0M1164.5 839.5h0M963.6 849.4h0M1003.8 849.4h0M1110.9 869.0h0M843.1 878.8h0M856.5 878.8h0M1003.8 878.8h0M1030.6 888.6h0M1057.4 888.6h0M1070.8 888.6h0M1084.2 888.6h0M1110.9 888.6h0M1151.1 888.6h0M869.9 937.7h0M883.3 937.7h0M910.1 937.7h0M869.9 976.9h0M936.9 976.9h0M950.2 976.9h0M923.5 996.5h0M1164.5 1016.2h0M1164.5 1026.0h0M910.1 1035.8h0M910.1 1045.6h0M936.9 1045.6h0M950.2 1045.6h0M829.7 1075.0h0M829.7 1084.8h0M1044.0 1153.5h0M1097.5 1153.5h0M1110.9 1153.5h0M1164.5 1153.5h0"/>
<path stroke="#ff1a10" stroke-width="6.40" stroke-linecap="round" fill="none" d="M1191.3 564.8h0M1177.9 584.4h0M883.3 604.1h0M1003.8 604.1h0M816.4 633.5h0M1084.2 633.5h0M1124.3 643.3h0M1044.0 672.7h0M1097.5 672.7h0M1137.7 672.7h0M1097.5 682.6h0M1110.9 682.6h0M990.4 780.7h0M1017.2 780.7h0M1003.8 800.3h0M990.4 849.4h0M1124.3 869.0h0M1017.2 888.6h0M936.9 918.0h0M950.2 918.0h0M923.5 957.3h0M923.5 967.1h0M1003.8 1016.2h0M883.3 1026.0h0M1003.8 1026.0h0M869.9 1035.8h0M856.5 1065.2h0M896.7 1065.2h0M816.4 1114.3h0M816.4 1124.1h0M1084.2 1153.5h0M1124.3 1153.5h0M776.2 1173.2h0M762.8 1212.4h0M789.6 1212.4h0"/>
<path stroke="#ff1a10" stroke-width="8.20" stroke-linecap="round" fill="none" d="M1191.3 574.6h0M1191.3 584.4h0M977.0 604.1h0M1124.3 623.7h0M1137.7 623.7h0M1177.9 682.6h0M1084.2 712.0h0M990.4 770.9h0M977.0 790.5h0M883.3 800.3h0M1017.2 859.2h0M1017.2 869.0h0M1017.2 898.4h0M936.9 927.9h0M923.5 937.7h0M936.9 947.5h0M910.1 976.9h0M896.7 1006.4h0M883.3 1016.2h0M883.3 1035.8h0M856.5 1055.4h0M843.1 1075.0h0M829.7 1094.7h0M829.7 1104.5h0M803.0 1143.7h0M1137.7 1153.5h0M776.2 1212.4h0"/>
<path stroke="#eab2a6" stroke-width="4.80" stroke-linecap="round" fill="none" d="M963.6 594.2h0M816.4 623.7h0M843.1 623.7h0M990.4 623.7h0M1003.8 623.7h0M1110.9 623.7h0M1177.9 623.7h0M1191.3 623.7h0M776.2 643.3h0M803.0 643.3h0M950.2 643.3h0M1003.8 643.3h0M869.9 692.4h0M896.7 692.4h0M923.5 692.4h0M936.9 692.4h0M950.2 692.4h0M1003.8 692.4h0M1017.2 692.4h0M1124.3 692.4h0M1151.1 692.4h0M789.6 702.2h0M856.5 702.2h0M883.3 702.2h0M990.4 702.2h0M1030.6 702.2h0M1070.8 731.6h0M963.6 829.7h0M1164.5 859.2h0M1164.5 869.0h0M816.4 908.2h0M829.7 908.2h0M977.0 908.2h0M990.4 908.2h0M816.4 1075.0h0M923.5 1075.0h0M950.2 1075.0h0M1110.9 1075.0h0M816.4 1084.8h0M923.5 1084.8h0M963.6 1084.8h0M1110.9 1084.8h0M776.2 1163.3h0M789.6 1163.3h0M963.6 1202.6h0M977.0 1202.6h0"/>
<path stroke="#f8704f" stroke-width="8.20" stroke-linecap="round" fill="none" d="M1110.9 594.2h0M1097.5 623.7h0M896.7 643.3h0M1057.4 692.4h0M1070.8 692.4h0M1110.9 692.4h0M1177.9 692.4h0M869.9 702.2h0M1057.4 702.2h0M1084.2 702.2h0M1097.5 702.2h0M1137.7 702.2h0M1164.5 702.2h0M1191.3 702.2h0M977.0 731.6h0M1057.4 731.6h0M856.5 741.4h0M963.6 741.4h0M977.0 741.4h0M1164.5 800.3h0M977.0 829.7h0M1003.8 859.2h0M1097.5 859.2h0M1003.8 869.0h0M1097.5 869.0h0M977.0 888.6h0M990.4 888.6h0M1003.8 888.6h0M1097.5 888.6h0M990.4 898.4h0M1003.8 898.4h0M1044.0 898.4h0M1124.3 898.4h0M1137.7 898.4h0M1151.1 898.4h0M1030.6 908.2h0M1044.0 908.2h0M1070.8 908.2h0M1084.2 908.2h0M1097.5 908.2h0M1177.9 908.2h0M977.0 1016.2h0M977.0 1026.0h0M883.3 1045.6h0M762.8 1075.0h0M776.2 1075.0h0M789.6 1075.0h0M803.0 1153.5h0M762.8 1183.0h0M789.6 1183.0h0M803.0 1202.6h0"/>
<path stroke="#ff1a10" stroke-width="9.60" stroke-linecap="round" fill="none" d="M1177.9 594.2h0M1110.9 653.1h0M1110.9 662.9h0M1177.9 662.9h0M1084.2 692.4h0M896.7 702.2h0M1070.8 702.2h0M1177.9 702.2h0M1191.3 731.6h0M990.4 790.5h0M977.0 800.3h0M963.6 810.1h0M963.6 819.9h0M977.0 849.4h0M950.2 927.9h0M896.7 937.7h0M910.1 986.7h0M896.7 996.5h0M869.9 1045.6h0M843.1 1084.8h0M776.2 1183.0h0M762.8 1202.6h0M776.2 1202.6h0"/>
<path stroke="#f8704f" stroke-width="6.40" stroke-linecap="round" fill="none" d="M1164.5 604.1h0M1044.0 623.7h0M1070.8 623.7h0M1084.2 623.7h0M1151.1 623.7h0M869.9 643.3h0M910.1 643.3h0M923.5 643.3h0M1044.0 643.3h0M1137.7 643.3h0M1177.9 653.1h0M1044.0 682.6h0M776.2 702.2h0M910.1 702.2h0M1124.3 702.2h0M1151.1 702.2h0M990.4 731.6h0M1044.0 731.6h0M1084.2 731.6h0M1097.5 731.6h0M1164.5 731.6h0M762.8 741.4h0M776.2 741.4h0M990.4 741.4h0M1044.0 741.4h0M1070.8 741.4h0M977.0 770.9h0M1003.8 770.9h0M1003.8 780.7h0M856.5 790.5h0M1003.8 790.5h0M977.0 810.1h0M990.4 829.7h0M1003.8 829.7h0M1124.3 829.7h0M1164.5 829.7h0M1044.0 888.6h0M1124.3 888.6h0M1137.7 888.6h0M1030.6 898.4h0M1017.2 908.2h0M936.9 1075.0h0M1070.8 1153.5h0"/>
<path stroke="#eab2a6" stroke-width="6.40" stroke-linecap="round" fill="none" d="M829.7 623.7h0M963.6 623.7h0M977.0 623.7h0M1164.5 623.7h0M883.3 643.3h0M977.0 643.3h0M1097.5 643.3h0M1164.5 643.3h0M1030.6 692.4h0M1137.7 692.4h0M1191.3 692.4h0M950.2 702.2h0M963.6 731.6h0M1003.8 731.6h0M963.6 888.6h0M1164.5 888.6h0M762.8 908.2h0M776.2 908.2h0M789.6 908.2h0M843.1 908.2h0M856.5 908.2h0M1003.8 908.2h0M883.3 976.9h0M896.7 1075.0h0M896.7 1084.8h0"/>
<path stroke="#eab2a6" stroke-width="8.20" stroke-linecap="round" fill="none" d="M1044.0 692.4h0M1097.5 692.4h0M1164.5 692.4h0M803.0 702.2h0M963.6 702.2h0M977.0 702.2h0M963.6 898.4h0M977.0 898.4h0M1057.4 898.4h0M1070.8 898.4h0M1084.2 898.4h0M1110.9 898.4h0M1164.5 898.4h0M963.6 908.2h0M1124.3 908.2h0M1164.5 908.2h0M1191.3 908.2h0M856.5 1075.0h0M762.8 1084.8h0M789.6 1084.8h0M856.5 1084.8h0"/>
<path stroke="#f8704f" stroke-width="9.60" stroke-linecap="round" fill="none" d="M1044.0 702.2h0M1110.9 702.2h0M1191.3 829.7h0M1097.5 898.4h0M1057.4 908.2h0M1110.9 908.2h0M1137.7 908.2h0M1151.1 908.2h0M776.2 1084.8h0M789.6 1202.6h0"/>
<rect x="721.9" y="545.3" width="476.6" height="692" fill="none" stroke="#000" stroke-width="1.6"/>
<text x="716.0" y="558.2" font-size="9.1" text-anchor="end" fill="#000" >TNFRSF25</text>
<text x="716.0" y="568.0" font-size="9.1" text-anchor="end" fill="#000" >SLC16A3</text>
<text x="716.0" y="577.8" font-size="9.1" text-anchor="end" fill="#000" >IL4I1</text>
<text x="716.0" y="587.6" font-size="9.1" text-anchor="end" fill="#000" >KLRB1</text>
<text x="716.0" y="597.4" font-size="9.1" text-anchor="end" fill="#000" >NKG7</text>
<text x="716.0" y="607.3" font-size="9.1" text-anchor="end" fill="#000" >UBE2T</text>
<text x="716.0" y="617.1" font-size="9.1" text-anchor="end" fill="#000" >BCL2L11</text>
<text x="716.0" y="626.9" font-size="9.1" text-anchor="end" fill="#000" >LCP2</text>
<text x="716.0" y="636.7" font-size="9.1" text-anchor="end" fill="#000" >TNFRSF1B</text>
<text x="716.0" y="646.5" font-size="9.1" text-anchor="end" fill="#000" >ID3</text>
<text x="716.0" y="656.3" font-size="9.1" text-anchor="end" fill="#000" >GZMK</text>
<text x="716.0" y="666.1" font-size="9.1" text-anchor="end" fill="#000" >CCL4</text>
<text x="716.0" y="675.9" font-size="9.1" text-anchor="end" fill="#000" >ABLIM1</text>
<text x="716.0" y="685.8" font-size="9.1" text-anchor="end" fill="#000" >GZMM</text>
<text x="716.0" y="695.6" font-size="9.1" text-anchor="end" fill="#000" >IL32</text>
<text x="716.0" y="705.4" font-size="9.1" text-anchor="end" fill="#000" >IFITM1</text>
<text x="716.0" y="715.2" font-size="9.1" text-anchor="end" fill="#000" >FOXP3</text>
<text x="716.0" y="725.0" font-size="9.1" text-anchor="end" fill="#000" >CCR7</text>
<text x="716.0" y="734.8" font-size="9.1" text-anchor="end" fill="#000" >IL7R</text>
<text x="716.0" y="744.6" font-size="9.1" text-anchor="end" fill="#000" >SELL</text>
<text x="716.0" y="754.4" font-size="9.1" text-anchor="end" fill="#000" >CCR9</text>
<text x="716.0" y="764.3" font-size="9.1" text-anchor="end" fill="#000" >TOX2</text>
<text x="716.0" y="774.1" font-size="9.1" text-anchor="end" fill="#000" >RAG2</text>
<text x="716.0" y="783.9" font-size="9.1" text-anchor="end" fill="#000" >RAG1</text>
<text x="716.0" y="793.7" font-size="9.1" text-anchor="end" fill="#000" >PTCRA</text>
<text x="716.0" y="803.5" font-size="9.1" text-anchor="end" fill="#000" >TYMS</text>
<text x="716.0" y="813.3" font-size="9.1" text-anchor="end" fill="#000" >SMIM24</text>
<text x="716.0" y="823.1" font-size="9.1" text-anchor="end" fill="#000" >IGLL1</text>
<text x="716.0" y="832.9" font-size="9.1" text-anchor="end" fill="#000" >TRBC1</text>
<text x="716.0" y="842.7" font-size="9.1" text-anchor="end" fill="#000" >TRAC</text>
<text x="716.0" y="852.6" font-size="9.1" text-anchor="end" fill="#000" >TRDC</text>
<text x="716.0" y="862.4" font-size="9.1" text-anchor="end" fill="#000" >CD8B</text>
<text x="716.0" y="872.2" font-size="9.1" text-anchor="end" fill="#000" >CD8A</text>
<text x="716.0" y="882.0" font-size="9.1" text-anchor="end" fill="#000" >CD4</text>
<text x="716.0" y="891.8" font-size="9.1" text-anchor="end" fill="#000" >CD3G</text>
<text x="716.0" y="901.6" font-size="9.1" text-anchor="end" fill="#000" >CD3D</text>
<text x="716.0" y="911.4" font-size="9.1" text-anchor="end" fill="#000" >PTPRC</text>
<text x="716.0" y="921.2" font-size="9.1" text-anchor="end" fill="#000" >KRT17</text>
<text x="716.0" y="931.1" font-size="9.1" text-anchor="end" fill="#000" >KRT19</text>
<text x="716.0" y="940.9" font-size="9.1" text-anchor="end" fill="#000" >GNG11</text>
<text x="716.0" y="950.7" font-size="9.1" text-anchor="end" fill="#000" >CCL25</text>
<text x="716.0" y="960.5" font-size="9.1" text-anchor="end" fill="#000" >NTS</text>
<text x="716.0" y="970.3" font-size="9.1" text-anchor="end" fill="#000" >TFF3</text>
<text x="716.0" y="980.1" font-size="9.1" text-anchor="end" fill="#000" >ACTA2</text>
<text x="716.0" y="989.9" font-size="9.1" text-anchor="end" fill="#000" >TAGLN</text>
<text x="716.0" y="999.7" font-size="9.1" text-anchor="end" fill="#000" >PLVAP</text>
<text x="716.0" y="1009.6" font-size="9.1" text-anchor="end" fill="#000" >ACKR1</text>
<text x="716.0" y="1019.4" font-size="9.1" text-anchor="end" fill="#000" >TOP2A</text>
<text x="716.0" y="1029.2" font-size="9.1" text-anchor="end" fill="#000" >UBE2C</text>
<text x="716.0" y="1039.0" font-size="9.1" text-anchor="end" fill="#000" >COL1A1</text>
<text x="716.0" y="1048.8" font-size="9.1" text-anchor="end" fill="#000" >DCN</text>
<text x="716.0" y="1058.6" font-size="9.1" text-anchor="end" fill="#000" >LILRA4</text>
<text x="716.0" y="1068.4" font-size="9.1" text-anchor="end" fill="#000" >IL3RA</text>
<text x="716.0" y="1078.2" font-size="9.1" text-anchor="end" fill="#000" >HLA-DQB1</text>
<text x="716.0" y="1088.0" font-size="9.1" text-anchor="end" fill="#000" >HLA-DPA1</text>
<text x="716.0" y="1097.9" font-size="9.1" text-anchor="end" fill="#000" >C1QC</text>
<text x="716.0" y="1107.7" font-size="9.1" text-anchor="end" fill="#000" >C1QA</text>
<text x="716.0" y="1117.5" font-size="9.1" text-anchor="end" fill="#000" >S100A9</text>
<text x="716.0" y="1127.3" font-size="9.1" text-anchor="end" fill="#000" >S100A8</text>
<text x="716.0" y="1137.1" font-size="9.1" text-anchor="end" fill="#000" >IGHG2</text>
<text x="716.0" y="1146.9" font-size="9.1" text-anchor="end" fill="#000" >IGHG1</text>
<text x="716.0" y="1156.7" font-size="9.1" text-anchor="end" fill="#000" >CD27</text>
<text x="716.0" y="1166.5" font-size="9.1" text-anchor="end" fill="#000" >IGHA1</text>
<text x="716.0" y="1176.4" font-size="9.1" text-anchor="end" fill="#000" >CD24</text>
<text x="716.0" y="1186.2" font-size="9.1" text-anchor="end" fill="#000" >MS4A1</text>
<text x="716.0" y="1196.0" font-size="9.1" text-anchor="end" fill="#000" >IGHD</text>
<text x="716.0" y="1205.8" font-size="9.1" text-anchor="end" fill="#000" >CD79A</text>
<text x="716.0" y="1215.6" font-size="9.1" text-anchor="end" fill="#000" >CD19</text>
<text x="716.0" y="1225.4" font-size="9.1" text-anchor="end" fill="#000" >HBG2</text>
<text x="716.0" y="1235.2" font-size="9.1" text-anchor="end" fill="#000" >HBG1</text>
<path d="M717.5 555.0h4M717.5 564.8h4M717.5 574.6h4M717.5 584.4h4M717.5 594.2h4M717.5 604.1h4M717.5 613.9h4M717.5 623.7h4M717.5 633.5h4M717.5 643.3h4M717.5 653.1h4M717.5 662.9h4M717.5 672.7h4M717.5 682.6h4M717.5 692.4h4M717.5 702.2h4M717.5 712.0h4M717.5 721.8h4M717.5 731.6h4M717.5 741.4h4M717.5 751.2h4M717.5 761.1h4M717.5 770.9h4M717.5 780.7h4M717.5 790.5h4M717.5 800.3h4M717.5 810.1h4M717.5 819.9h4M717.5 829.7h4M717.5 839.5h4M717.5 849.4h4M717.5 859.2h4M717.5 869.0h4M717.5 878.8h4M717.5 888.6h4M717.5 898.4h4M717.5 908.2h4M717.5 918.0h4M717.5 927.9h4M717.5 937.7h4M717.5 947.5h4M717.5 957.3h4M717.5 967.1h4M717.5 976.9h4M717.5 986.7h4M717.5 996.5h4M717.5 1006.4h4M717.5 1016.2h4M717.5 1026.0h4M717.5 1035.8h4M717.5 1045.6h4M717.5 1055.4h4M717.5 1065.2h4M717.5 1075.0h4M717.5 1084.8h4M717.5 1094.7h4M717.5 1104.5h4M717.5 1114.3h4M717.5 1124.1h4M717.5 1133.9h4M717.5 1143.7h4M717.5 1153.5h4M717.5 1163.3h4M717.5 1173.2h4M717.5 1183.0h4M717.5 1192.8h4M717.5 1202.6h4M717.5 1212.4h4M717.5 1222.2h4M717.5 1232.0h4M749.4 1238.2v4.5M762.8 1238.2v4.5M776.2 1238.2v4.5M789.6 1238.2v4.5M803.0 1238.2v4.5M816.4 1238.2v4.5M829.7 1238.2v4.5M843.1 1238.2v4.5M856.5 1238.2v4.5M869.9 1238.2v4.5M883.3 1238.2v4.5M896.7 1238.2v4.5M910.1 1238.2v4.5M923.5 1238.2v4.5M936.9 1238.2v4.5M950.2 1238.2v4.5M963.6 1238.2v4.5M977.0 1238.2v4.5M990.4 1238.2v4.5M1003.8 1238.2v4.5M1017.2 1238.2v4.5M1030.6 1238.2v4.5M1044.0 1238.2v4.5M1057.4 1238.2v4.5M1070.8 1238.2v4.5M1084.2 1238.2v4.5M1097.5 1238.2v4.5M1110.9 1238.2v4.5M1124.3 1238.2v4.5M1137.7 1238.2v4.5M1151.1 1238.2v4.5M1164.5 1238.2v4.5M1177.9 1238.2v4.5M1191.3 1238.2v4.5" stroke="#000" stroke-width="0.9"/>
<text x="0.0" y="0.0" font-size="9.3" text-anchor="end" fill="#000" transform="translate(752.6,1245.5) rotate(-90)">Ery</text>
<text x="0.0" y="0.0" font-size="9.3" text-anchor="end" fill="#000" transform="translate(766.0,1245.5) rotate(-90)">B_naive</text>
<text x="0.0" y="0.0" font-size="9.3" text-anchor="end" fill="#000" transform="translate(779.4,1245.5) rotate(-90)">B_trans</text>
<text x="0.0" y="0.0" font-size="9.3" text-anchor="end" fill="#000" transform="translate(792.8,1245.5) rotate(-90)">B_memory</text>
<text x="0.0" y="0.0" font-size="9.3" text-anchor="end" fill="#000" transform="translate(806.2,1245.5) rotate(-90)">Plasma</text>
<text x="0.0" y="0.0" font-size="9.3" text-anchor="end" fill="#000" transform="translate(819.6,1245.5) rotate(-90)">Mono</text>
<text x="0.0" y="0.0" font-size="9.3" text-anchor="end" fill="#000" transform="translate(832.9,1245.5) rotate(-90)">Mac</text>
<text x="0.0" y="0.0" font-size="9.3" text-anchor="end" fill="#000" transform="translate(846.3,1245.5) rotate(-90)">DC</text>
<text x="0.0" y="0.0" font-size="9.3" text-anchor="end" fill="#000" transform="translate(859.7,1245.5) rotate(-90)">pDC</text>
<text x="0.0" y="0.0" font-size="9.3" text-anchor="end" fill="#000" transform="translate(873.1,1245.5) rotate(-90)">Fb</text>
<text x="0.0" y="0.0" font-size="9.3" text-anchor="end" fill="#000" transform="translate(886.5,1245.5) rotate(-90)">Fb_cycling</text>
<text x="0.0" y="0.0" font-size="9.3" text-anchor="end" fill="#000" transform="translate(899.9,1245.5) rotate(-90)">Endo</text>
<text x="0.0" y="0.0" font-size="9.3" text-anchor="end" fill="#000" transform="translate(913.3,1245.5) rotate(-90)">VSMC</text>
<text x="0.0" y="0.0" font-size="9.3" text-anchor="end" fill="#000" transform="translate(926.7,1245.5) rotate(-90)">Lymph</text>
<text x="0.0" y="0.0" font-size="9.3" text-anchor="end" fill="#000" transform="translate(940.1,1245.5) rotate(-90)">cTEC</text>
<text x="0.0" y="0.0" font-size="9.3" text-anchor="end" fill="#000" transform="translate(953.5,1245.5) rotate(-90)">mTEC</text>
<text x="0.0" y="0.0" font-size="9.3" text-anchor="end" fill="#000" transform="translate(966.8,1245.5) rotate(-90)">DN_early</text>
<text x="0.0" y="0.0" font-size="9.3" text-anchor="end" fill="#000" transform="translate(980.2,1245.5) rotate(-90)">DN_blast</text>
<text x="0.0" y="0.0" font-size="9.3" text-anchor="end" fill="#000" transform="translate(993.6,1245.5) rotate(-90)">DN_re</text>
<text x="0.0" y="0.0" font-size="9.3" text-anchor="end" fill="#000" transform="translate(1007.0,1245.5) rotate(-90)">DP_blast</text>
<text x="0.0" y="0.0" font-size="9.3" text-anchor="end" fill="#000" transform="translate(1020.4,1245.5) rotate(-90)">DP_re</text>
<text x="0.0" y="0.0" font-size="9.3" text-anchor="end" fill="#000" transform="translate(1033.8,1245.5) rotate(-90)">abT(entry)</text>
<text x="0.0" y="0.0" font-size="9.3" text-anchor="end" fill="#000" transform="translate(1047.2,1245.5) rotate(-90)">CD4T</text>
<text x="0.0" y="0.0" font-size="9.3" text-anchor="end" fill="#000" transform="translate(1060.6,1245.5) rotate(-90)">CD4T_mem</text>
<text x="0.0" y="0.0" font-size="9.3" text-anchor="end" fill="#000" transform="translate(1074.0,1245.5) rotate(-90)">Treg.diff</text>
<text x="0.0" y="0.0" font-size="9.3" text-anchor="end" fill="#000" transform="translate(1087.4,1245.5) rotate(-90)">Treg</text>
<text x="0.0" y="0.0" font-size="9.3" text-anchor="end" fill="#000" transform="translate(1100.7,1245.5) rotate(-90)">CD8T</text>
<text x="0.0" y="0.0" font-size="9.3" text-anchor="end" fill="#000" transform="translate(1114.1,1245.5) rotate(-90)">CD8T_mem</text>
<text x="0.0" y="0.0" font-size="9.3" text-anchor="end" fill="#000" transform="translate(1127.5,1245.5) rotate(-90)">CD8aa</text>
<text x="0.0" y="0.0" font-size="9.3" text-anchor="end" fill="#000" transform="translate(1140.9,1245.5) rotate(-90)">T_agonist</text>
<text x="0.0" y="0.0" font-size="9.3" text-anchor="end" fill="#000" transform="translate(1154.3,1245.5) rotate(-90)">T_apoptosis</text>
<text x="0.0" y="0.0" font-size="9.3" text-anchor="end" fill="#000" transform="translate(1167.7,1245.5) rotate(-90)">T_proliferating</text>
<text x="0.0" y="0.0" font-size="9.3" text-anchor="end" fill="#000" transform="translate(1181.1,1245.5) rotate(-90)">NKT</text>
<text x="0.0" y="0.0" font-size="9.3" text-anchor="end" fill="#000" transform="translate(1194.5,1245.5) rotate(-90)">ILC3</text>
<defs><linearGradient id="avgexp" x1="0" x2="1"><stop offset="0" stop-color="#d9d4d4"/><stop offset="0.5" stop-color="#f5826a"/><stop offset="1" stop-color="#ff1a10"/></linearGradient></defs>
<text x="724.4" y="1310.5" font-size="9" fill="#111" textLength="82.3" lengthAdjust="spacingAndGlyphs" >Average Expression</text>
<rect x="818" y="1300.3" width="58.5" height="12.5" fill="url(#avgexp)"/>
<path d="M826 1300.3v2.5M826 1312.8v-2.5M839.8 1300.3v2.5M839.8 1312.8v-2.5M853.5 1300.3v2.5M853.5 1312.8v-2.5M867.5 1300.3v2.5M867.5 1312.8v-2.5" stroke="#fff" stroke-width="0.7"/>
<text x="821.5" y="1324.5" font-size="9.2" text-anchor="middle" fill="#111" >−1</text>
<text x="835.4" y="1324.5" font-size="9.2" text-anchor="middle" fill="#111" >0</text>
<text x="852.0" y="1324.5" font-size="9.2" text-anchor="middle" fill="#111" >1</text>
<text x="868.0" y="1324.5" font-size="9.2" text-anchor="middle" fill="#111" >2</text>
<text x="893.2" y="1311.0" font-size="9" fill="#111" textLength="78.3" lengthAdjust="spacingAndGlyphs" >Percent Expressed</text>
<circle cx="988.75" cy="1307.5" r="0.7" fill="#000"/>
<text x="999.8" y="1311.2" font-size="9.2" text-anchor="start" fill="#111" >0</text>
<circle cx="1016.7" cy="1307.5" r="1.7" fill="#000"/>
<text x="1027.7" y="1311.2" font-size="9.2" text-anchor="start" fill="#111" >25</text>
<circle cx="1050" cy="1307.5" r="3.0" fill="#000"/>
<text x="1061.0" y="1311.2" font-size="9.2" text-anchor="start" fill="#111" >50</text>
<circle cx="1082" cy="1307.5" r="4.1" fill="#000"/>
<text x="1093.0" y="1311.2" font-size="9.2" text-anchor="start" fill="#111" >75</text>
<text x="724.4" y="1345.5" font-size="9" fill="#111" textLength="56.3" lengthAdjust="spacingAndGlyphs" >Major cell type</text>
<rect x="786" y="1332.5" width="36" height="19" fill="#cde5d5"/>
<text x="804.0" y="1346.7" font-size="9.6" text-anchor="middle" fill="#111" >Ery</text>
<rect x="822" y="1332.5" width="27" height="19" fill="#d7a2c5"/>
<text x="835.5" y="1346.7" font-size="9.6" text-anchor="middle" fill="#111" >B</text>
<rect x="849" y="1332.5" width="44" height="19" fill="#9ec9de"/>
<text x="871.0" y="1346.7" font-size="9.6" text-anchor="middle" fill="#111" >Myeloid</text>
<rect x="893" y="1332.5" width="39" height="19" fill="#fde9ee"/>
<text x="912.5" y="1346.7" font-size="9.6" text-anchor="middle" fill="#111" >Stromal</text>
<rect x="932" y="1332.5" width="33" height="19" fill="#c6b39f"/>
<text x="948.5" y="1347.7" font-size="9.6" text-anchor="middle" fill="#111" >T</text>
<rect x="965" y="1332.5" width="35" height="19" fill="#e8ecd0"/>
<text x="982.5" y="1346.7" font-size="9.6" text-anchor="middle" fill="#111" >ILC3</text>
<text x="7.0" y="1222.5" font-size="25.5" text-anchor="start" fill="#231f20" >e</text>
<g filter="url(#ublur)">
<path d="M138.0,1279.0 C148.7,1277.8 155.7,1276.3 164.0,1279.0 C172.3,1281.7 181.2,1290.8 188.0,1295.0 C194.8,1299.2 198.8,1301.5 205.0,1304.0 C211.2,1306.5 218.3,1309.7 225.0,1310.0 C231.7,1310.3 238.8,1309.3 245.0,1306.0 C251.2,1302.7 256.2,1297.7 262.0,1290.0 C267.8,1282.3 273.7,1268.3 280.0,1260.0 C286.3,1251.7 291.2,1245.8 300.0,1240.0 C308.8,1234.2 317.2,1230.0 333.0,1225.0 C348.8,1220.0 386.9,1210.0 394.7,1210.0 C402.5,1210.0 384.9,1219.5 380.0,1225.0 C375.1,1230.5 368.3,1235.5 365.0,1243.0 C361.7,1250.5 360.5,1260.2 360.0,1270.0 C359.5,1279.8 360.8,1288.7 362.0,1302.0 C363.2,1315.3 370.0,1341.2 367.0,1350.0 C364.0,1358.8 351.8,1355.0 344.0,1355.0 C336.2,1355.0 324.5,1354.2 320.0,1350.0 C315.5,1345.8 320.3,1333.3 317.0,1330.0 C313.7,1326.7 306.2,1328.8 300.0,1330.0 C293.8,1331.2 287.8,1334.5 280.0,1337.0 C272.2,1339.5 261.9,1343.5 253.0,1345.0 C244.1,1346.5 234.7,1344.8 226.7,1346.0 C218.7,1347.2 213.1,1349.3 205.0,1352.0 C196.9,1354.7 184.7,1357.7 178.0,1362.0 C171.3,1366.3 161.3,1373.7 165.0,1378.0 C168.7,1382.3 188.3,1385.7 200.0,1388.0 C211.7,1390.3 227.5,1388.3 235.0,1392.0 C242.5,1395.7 245.0,1399.5 245.0,1410.0 C245.0,1420.5 237.5,1442.1 235.0,1455.0 C232.5,1467.9 231.7,1475.0 230.0,1487.5 C228.3,1500.0 223.3,1519.6 225.0,1530.0 C226.7,1540.4 235.0,1544.6 240.0,1550.0 C245.0,1555.4 255.4,1557.9 255.0,1562.5 C254.6,1567.1 245.8,1572.5 237.5,1577.5 C229.2,1582.5 215.4,1588.8 205.0,1592.5 C194.6,1596.2 182.5,1602.1 175.0,1600.0 C167.5,1597.9 162.9,1589.6 160.0,1580.0 C157.1,1570.4 158.5,1553.8 157.5,1542.5 C156.5,1531.2 154.4,1519.6 154.0,1512.5 C153.6,1505.4 158.0,1505.8 155.0,1500.0 C152.0,1494.2 139.3,1487.1 136.0,1477.5 C132.7,1467.9 135.7,1449.8 135.0,1442.5 C134.3,1435.2 136.2,1435.2 132.0,1434.0 C127.8,1432.8 118.7,1434.2 110.0,1435.0 C101.3,1435.8 88.3,1438.0 80.0,1439.0 C71.7,1440.0 66.3,1442.5 60.0,1441.0 C53.7,1439.5 46.3,1434.5 42.0,1430.0 C37.7,1425.5 36.3,1419.3 34.0,1414.0 C31.7,1408.7 28.3,1403.3 28.0,1398.0 C27.7,1392.7 30.0,1389.0 32.0,1382.0 C34.0,1375.0 37.7,1363.7 40.0,1356.0 C42.3,1348.3 43.7,1342.3 46.0,1336.0 C48.3,1329.7 49.7,1324.0 54.0,1318.0 C58.3,1312.0 64.3,1305.3 72.0,1300.0 C79.7,1294.7 89.0,1289.5 100.0,1286.0 C111.0,1282.5 127.3,1280.2 138.0,1279.0 Z" fill="#8c5045"/>
<path d="M28.0,1370.0 C29.3,1360.8 34.7,1351.7 38.0,1345.0 C41.3,1338.3 45.2,1330.0 48.0,1330.0 C50.8,1330.0 53.7,1336.7 55.0,1345.0 C56.3,1353.3 53.8,1369.5 56.0,1380.0 C58.2,1390.5 62.0,1400.7 68.0,1408.0 C74.0,1415.3 83.3,1420.3 92.0,1424.0 C100.7,1427.7 118.7,1428.0 120.0,1430.0 C121.3,1432.0 109.2,1434.0 100.0,1436.0 C90.8,1438.0 74.2,1443.0 65.0,1442.0 C55.8,1441.0 50.8,1437.0 45.0,1430.0 C39.2,1423.0 32.8,1410.0 30.0,1400.0 C27.2,1390.0 26.7,1379.2 28.0,1370.0 Z" fill="#3478b5" opacity="0.85"/>
<path d="M152.0,1290.0 C158.7,1282.8 177.5,1293.7 188.0,1297.0 C198.5,1300.3 206.3,1307.0 215.0,1310.0 C223.7,1313.0 233.3,1309.3 240.0,1315.0 C246.7,1320.7 257.3,1338.8 255.0,1344.0 C252.7,1349.2 234.3,1344.7 226.0,1346.0 C217.7,1347.3 213.0,1349.3 205.0,1352.0 C197.0,1354.7 184.7,1357.3 178.0,1362.0 C171.3,1366.7 169.7,1376.0 165.0,1380.0 C160.3,1384.0 152.8,1392.7 150.0,1386.0 C147.2,1379.3 147.7,1356.0 148.0,1340.0 C148.3,1324.0 145.3,1297.2 152.0,1290.0 Z" fill="#9c6190" opacity="0.75"/>
<path d="M56.0,1410.0 C63.5,1407.2 77.3,1414.3 90.0,1416.0 C102.7,1417.7 124.7,1416.7 132.0,1420.0 C139.3,1423.3 137.7,1433.3 134.0,1436.0 C130.3,1438.7 119.0,1435.3 110.0,1436.0 C101.0,1436.7 88.3,1439.0 80.0,1440.0 C71.7,1441.0 65.8,1443.2 60.0,1442.0 C54.2,1440.8 45.7,1438.3 45.0,1433.0 C44.3,1427.7 48.5,1412.8 56.0,1410.0 Z" fill="#7a62a8" opacity="0.6"/>
<path d="M262.0,1290.0 C267.0,1280.8 273.7,1268.3 280.0,1260.0 C286.3,1251.7 291.2,1245.8 300.0,1240.0 C308.8,1234.2 317.2,1230.0 333.0,1225.0 C348.8,1220.0 386.9,1210.0 394.7,1210.0 C402.5,1210.0 384.9,1219.5 380.0,1225.0 C375.1,1230.5 368.3,1235.5 365.0,1243.0 C361.7,1250.5 360.5,1260.2 360.0,1270.0 C359.5,1279.8 360.8,1288.7 362.0,1302.0 C363.2,1315.3 370.0,1341.2 367.0,1350.0 C364.0,1358.8 351.8,1355.0 344.0,1355.0 C336.2,1355.0 324.5,1354.2 320.0,1350.0 C315.5,1345.8 320.3,1333.3 317.0,1330.0 C313.7,1326.7 306.2,1328.8 300.0,1330.0 C293.8,1331.2 287.0,1335.0 280.0,1337.0 C273.0,1339.0 263.0,1345.7 258.0,1342.0 C253.0,1338.3 249.3,1323.7 250.0,1315.0 C250.7,1306.3 257.0,1299.2 262.0,1290.0 Z" fill="#94678f" opacity="0.7"/>
<path d="M318.0,1236.0 C323.5,1230.3 336.0,1228.7 345.0,1226.0 C354.0,1223.3 368.8,1216.0 372.0,1220.0 C375.2,1224.0 366.0,1238.3 364.0,1250.0 C362.0,1261.7 360.0,1275.0 360.0,1290.0 C360.0,1305.0 366.5,1330.0 364.0,1340.0 C361.5,1350.0 351.5,1350.0 345.0,1350.0 C338.5,1350.0 329.5,1345.0 325.0,1340.0 C320.5,1335.0 318.5,1328.3 318.0,1320.0 C317.5,1311.7 323.0,1300.0 322.0,1290.0 C321.0,1280.0 312.7,1269.0 312.0,1260.0 C311.3,1251.0 312.5,1241.7 318.0,1236.0 Z" fill="#a9b6c8" opacity="0.85"/>
<path d="M418.7,1302.0 C421.5,1294.8 426.4,1281.7 430.0,1275.0 C433.6,1268.3 435.7,1265.0 440.0,1262.0 C444.3,1259.0 448.0,1254.0 456.0,1256.7 C464.0,1259.4 479.6,1269.1 488.0,1278.0 C496.4,1286.9 503.6,1299.8 506.7,1310.0 C509.8,1320.2 509.4,1331.5 506.7,1339.0 C504.0,1346.5 499.1,1351.8 490.7,1355.0 C482.2,1358.2 465.3,1359.7 456.0,1358.0 C446.7,1356.3 441.9,1351.4 434.7,1344.7 C427.5,1338.0 415.7,1325.1 413.0,1318.0 C410.3,1310.9 415.9,1309.2 418.7,1302.0 Z" fill="#ece5c8"/>
<ellipse cx="468" cy="1314" rx="30" ry="16" fill="#6a9cc6" opacity="0.7"/>
<ellipse cx="484" cy="1282" rx="13" ry="8" fill="#9a5a6a" opacity="0.6"/>
</g>
<g opacity="0.9"><path stroke="#cd77b6" stroke-width="1" fill="none" d="M46.2 1408.5h1M201.9 1578.1h1M140.2 1348.6h1M201.4 1440.1h1M160.6 1563.1h1M113.2 1354.8h1M339.1 1287.5h1M127.0 1365.7h1M205.6 1563.3h1M177.0 1493.5h1M77.5 1297.3h1M361.8 1244.8h1M69.5 1400.5h1M160.6 1288.3h1M225.9 1413.4h1M213.9 1352.7h1M171.7 1392.0h1M74.4 1341.5h1M158.9 1484.7h1M85.3 1410.3h1M98.6 1393.5h1M335.8 1274.1h1M208.4 1536.0h1M63.0 1316.8h1M226.7 1500.9h1M219.2 1504.0h1M239.2 1334.8h1M302.2 1333.9h1M215.0 1406.0h1M97.2 1412.5h1M128.3 1404.3h1M99.9 1328.6h1M180.9 1322.9h1M183.4 1597.1h1M177.9 1505.0h1M179.0 1582.8h1M147.3 1331.3h1M146.9 1447.6h1M216.1 1444.1h1M161.9 1411.1h1M86.1 1366.8h1M68.4 1308.4h1M333.2 1236.9h1M155.0 1444.3h1M88.7 1344.5h1M236.0 1445.7h1M199.9 1499.1h1M50.6 1386.2h1M63.8 1435.7h1M127.9 1411.2h1M162.7 1575.2h1M101.4 1417.2h1M229.3 1316.1h1M159.1 1498.3h1M235.6 1416.2h1M36.2 1421.4h1M94.8 1404.0h1M221.4 1526.6h1M244.8 1426.0h1M154.9 1292.9h1M45.4 1339.3h1M49.7 1423.0h1M227.8 1339.5h1M198.6 1526.1h1M186.7 1562.8h1M64.4 1414.2h1M162.8 1421.8h1M162.0 1312.7h1M92.8 1373.5h1M231.6 1327.8h1M255.9 1347.6h1M167.9 1317.5h1M373.9 1214.4h1"/><path stroke="#8c5045" stroke-width="1.5" fill="none" d="M180.8 1302.8h1.5M173.2 1571.2h1.5M118.8 1345.2h1.5M62.7 1343.3h1.5M284.7 1310.9h1.5M161.3 1341.4h1.5M168.1 1412.7h1.5M180.6 1570.7h1.5M191.1 1474.1h1.5M115.9 1312.0h1.5M221.8 1393.1h1.5M252.5 1563.2h1.5M175.8 1356.4h1.5M329.0 1259.9h1.5M119.4 1310.6h1.5M177.3 1354.9h1.5M175.8 1581.2h1.5M97.8 1395.0h1.5M173.9 1412.9h1.5M44.8 1407.3h1.5M89.8 1330.1h1.5M139.5 1291.4h1.5M26.1 1402.1h1.5M137.8 1377.2h1.5M152.6 1501.9h1.5M343.7 1281.0h1.5M208.1 1405.0h1.5M130.7 1343.0h1.5M239.5 1571.9h1.5M196.6 1577.4h1.5M161.9 1435.5h1.5M333.7 1339.1h1.5M277.5 1325.9h1.5M202.6 1553.4h1.5M239.9 1563.8h1.5M216.3 1417.9h1.5M174.2 1430.0h1.5M342.1 1318.1h1.5M166.8 1326.4h1.5M59.0 1351.2h1.5M78.8 1413.1h1.5M219.8 1534.0h1.5M188.8 1453.5h1.5M153.2 1380.2h1.5M77.5 1430.9h1.5M317.4 1335.0h1.5M109.3 1389.1h1.5M74.7 1407.0h1.5M309.1 1313.9h1.5M296.2 1264.3h1.5M358.2 1319.5h1.5M226.5 1458.6h1.5M173.7 1333.6h1.5M169.2 1360.3h1.5M219.6 1396.5h1.5M312.2 1254.1h1.5M232.2 1410.1h1.5M93.2 1339.5h1.5M240.8 1326.3h1.5M68.2 1404.2h1.5M145.7 1304.9h1.5M304.8 1268.3h1.5M152.3 1529.0h1.5M38.6 1415.9h1.5M332.0 1280.3h1.5M98.3 1334.6h1.5M174.0 1405.7h1.5M126.5 1291.8h1.5M260.0 1312.0h1.5M235.8 1332.6h1.5M118.4 1361.6h1.5M104.5 1439.6h1.5M232.3 1436.7h1.5M127.0 1306.4h1.5M70.0 1389.1h1.5M130.7 1362.4h1.5M360.8 1308.5h1.5M47.7 1324.7h1.5M162.5 1499.9h1.5M279.5 1291.5h1.5M157.4 1486.9h1.5M310.8 1326.7h1.5M224.4 1495.3h1.5M102.2 1351.1h1.5M215.4 1577.5h1.5M146.6 1434.1h1.5M203.7 1404.0h1.5M37.4 1391.7h1.5M201.6 1519.2h1.5M223.7 1546.6h1.5M180.1 1393.7h1.5M158.7 1564.6h1.5M71.1 1330.0h1.5M46.2 1375.0h1.5M212.5 1573.9h1.5M46.3 1408.5h1.5M167.4 1477.4h1.5M323.8 1252.1h1.5M333.7 1271.5h1.5M227.2 1423.2h1.5M299.2 1308.8h1.5M325.1 1298.3h1.5M223.1 1350.5h1.5M141.9 1459.1h1.5M189.0 1523.2h1.5M83.4 1329.1h1.5M176.3 1561.1h1.5M189.3 1439.9h1.5M227.5 1467.8h1.5M324.1 1260.8h1.5M215.9 1341.3h1.5M137.6 1313.4h1.5M212.9 1305.0h1.5M197.1 1508.8h1.5M328.5 1230.2h1.5M207.6 1403.0h1.5M378.4 1212.8h1.5M127.5 1307.2h1.5M89.3 1308.1h1.5M38.4 1405.6h1.5M328.4 1229.6h1.5M231.3 1467.0h1.5M200.0 1560.1h1.5M210.9 1352.6h1.5M357.5 1286.8h1.5M233.3 1462.2h1.5M209.1 1507.7h1.5M236.0 1468.6h1.5M157.7 1560.2h1.5M316.7 1258.4h1.5M144.8 1369.0h1.5M182.0 1583.4h1.5M369.9 1221.1h1.5M200.6 1391.4h1.5M145.1 1459.9h1.5M224.4 1587.2h1.5M166.7 1385.1h1.5M209.9 1576.3h1.5M109.1 1336.1h1.5M64.0 1422.2h1.5M70.2 1406.2h1.5M128.5 1285.6h1.5M276.1 1300.0h1.5M213.4 1481.2h1.5M318.6 1344.1h1.5M63.6 1388.4h1.5M169.7 1593.1h1.5M97.6 1374.5h1.5M170.8 1355.5h1.5M227.4 1578.9h1.5M323.9 1289.8h1.5M284.4 1258.4h1.5M167.5 1309.1h1.5M353.3 1235.0h1.5M360.3 1351.7h1.5M160.7 1582.8h1.5M184.0 1435.5h1.5M179.6 1536.3h1.5M159.7 1470.1h1.5M299.3 1314.0h1.5M65.7 1366.5h1.5M227.8 1524.2h1.5M217.2 1512.5h1.5M340.5 1257.1h1.5M174.2 1590.1h1.5M206.6 1400.3h1.5M212.5 1497.3h1.5M134.2 1436.8h1.5M372.8 1213.5h1.5M164.9 1474.7h1.5M104.5 1350.8h1.5M184.8 1400.4h1.5M162.6 1517.9h1.5M265.0 1285.2h1.5M61.7 1308.6h1.5M184.9 1597.7h1.5M128.7 1400.2h1.5M176.5 1427.6h1.5M180.6 1341.6h1.5M181.8 1437.1h1.5M279.2 1270.4h1.5M330.1 1297.8h1.5M156.0 1404.1h1.5M362.6 1240.4h1.5M76.8 1313.3h1.5M194.6 1572.2h1.5M96.5 1332.5h1.5M351.0 1318.3h1.5M121.2 1397.2h1.5M350.8 1268.4h1.5M187.6 1501.7h1.5M73.2 1433.8h1.5M218.1 1582.4h1.5M247.0 1341.2h1.5M227.3 1526.6h1.5M161.9 1423.0h1.5M155.7 1280.8h1.5M273.8 1325.9h1.5M315.6 1284.7h1.5M237.9 1416.7h1.5M159.3 1392.0h1.5M128.8 1431.4h1.5M171.5 1325.3h1.5"/><path stroke="#a0607a" stroke-width="1.5" fill="none" d="M333.5 1256.4h1.5M364.6 1347.7h1.5M303.8 1311.2h1.5M132.8 1355.0h1.5M360.3 1341.9h1.5M252.6 1307.4h1.5M158.0 1296.3h1.5M117.9 1375.4h1.5M102.4 1367.0h1.5M173.6 1427.3h1.5M329.9 1238.9h1.5M187.2 1569.3h1.5M94.8 1374.5h1.5M225.8 1440.9h1.5M350.4 1306.4h1.5M251.5 1309.2h1.5M141.9 1418.9h1.5M99.4 1318.4h1.5M357.6 1264.6h1.5M223.4 1484.4h1.5M259.7 1342.3h1.5M67.9 1308.3h1.5M210.9 1319.4h1.5M66.1 1315.1h1.5M44.8 1358.2h1.5M158.2 1340.4h1.5M32.7 1382.6h1.5M114.6 1379.6h1.5M138.2 1447.7h1.5M170.7 1376.7h1.5M85.9 1309.7h1.5M290.1 1335.9h1.5M230.7 1417.3h1.5M316.1 1306.8h1.5M105.9 1297.5h1.5M262.0 1338.4h1.5M239.3 1555.1h1.5M111.0 1396.5h1.5M102.7 1409.0h1.5M172.7 1415.4h1.5M159.8 1532.9h1.5M92.3 1383.3h1.5M155.9 1544.7h1.5M167.0 1346.7h1.5M225.5 1330.1h1.5M155.1 1391.5h1.5M213.3 1429.6h1.5M216.4 1501.9h1.5M162.5 1490.0h1.5M151.8 1314.5h1.5M325.8 1297.8h1.5M131.6 1278.2h1.5"/><path stroke="#8c5045" stroke-width="1" fill="none" d="M172.7 1594.6h1M63.0 1433.8h1M32.9 1390.3h1M301.4 1308.5h1M138.3 1432.4h1M162.1 1528.3h1M164.2 1338.7h1M213.0 1467.9h1M272.5 1331.1h1M260.5 1321.1h1M269.6 1306.3h1M346.8 1280.4h1M153.4 1413.2h1M219.9 1486.0h1M113.5 1316.4h1M84.1 1440.0h1M292.9 1264.6h1M229.4 1508.9h1M118.5 1304.7h1M196.2 1598.6h1M220.1 1580.6h1M344.6 1309.1h1M194.5 1503.5h1M37.1 1410.8h1M179.7 1539.4h1M158.8 1470.1h1M85.1 1416.3h1M208.9 1481.6h1M223.5 1561.8h1M157.0 1556.6h1M113.7 1343.0h1M49.9 1362.3h1M110.7 1381.8h1M123.2 1312.4h1M151.9 1413.4h1M197.0 1433.0h1M208.1 1505.6h1M66.7 1432.9h1M81.8 1381.0h1M311.0 1304.3h1M184.2 1577.5h1M187.9 1469.0h1M67.1 1334.5h1M200.0 1586.6h1M209.0 1425.3h1M71.8 1394.9h1M281.9 1276.6h1M138.0 1454.1h1M89.1 1289.2h1M92.9 1412.6h1M320.4 1255.0h1M177.0 1432.1h1M121.3 1358.7h1M209.0 1585.2h1M208.8 1523.0h1M282.9 1254.8h1M342.1 1292.8h1M226.1 1553.9h1M326.1 1311.8h1M325.7 1258.2h1M114.5 1395.6h1M167.0 1526.8h1M156.1 1500.0h1M73.5 1389.3h1M172.7 1547.5h1M321.5 1334.8h1M140.6 1306.8h1M84.5 1369.6h1M221.9 1307.6h1M135.2 1479.9h1M133.5 1386.3h1M161.9 1440.0h1M361.0 1343.7h1M213.1 1568.1h1M220.5 1494.0h1M144.1 1388.5h1M120.0 1326.3h1M237.6 1326.8h1M38.6 1406.5h1M184.1 1438.5h1"/><path stroke="#8c5045" stroke-width="2" fill="none" d="M68.5 1330.0h2M68.6 1373.5h2M307.8 1325.8h2M364.3 1344.1h2M174.5 1583.4h2M55.9 1315.5h2M324.1 1240.7h2M170.1 1337.0h2M167.5 1397.7h2M171.5 1292.0h2M378.2 1233.4h2M231.0 1336.8h2M142.0 1448.7h2M329.3 1284.0h2M355.5 1321.8h2M74.5 1352.9h2M115.1 1366.4h2M178.9 1603.0h2M164.6 1373.8h2M92.0 1350.6h2M185.4 1462.3h2M293.3 1303.7h2M369.4 1352.8h2M156.0 1565.9h2M163.9 1504.9h2M161.3 1339.3h2M208.0 1333.8h2M141.1 1428.0h2M169.5 1382.1h2M100.9 1376.8h2M106.7 1364.7h2M111.0 1282.3h2M130.0 1367.6h2M112.7 1310.8h2M206.3 1399.2h2M151.1 1381.7h2M196.6 1593.1h2M234.9 1571.7h2M161.6 1541.6h2M61.7 1425.4h2M115.1 1348.2h2M212.0 1554.1h2M160.1 1319.3h2M175.8 1364.7h2M206.2 1449.6h2M196.4 1336.1h2M202.9 1578.3h2M222.5 1540.8h2M229.6 1332.8h2M203.3 1524.4h2M210.1 1565.3h2M180.7 1439.3h2M46.1 1379.7h2M183.2 1552.2h2M286.6 1291.2h2M216.2 1532.7h2M112.9 1403.1h2M186.1 1292.4h2M158.9 1433.4h2M191.1 1427.8h2M218.4 1514.9h2M303.0 1296.5h2M307.4 1248.7h2M103.9 1321.6h2M281.4 1316.1h2M219.6 1438.3h2M190.8 1342.5h2M236.4 1569.5h2M161.5 1581.5h2M182.3 1457.4h2M217.5 1404.7h2M207.1 1316.7h2M161.9 1588.5h2M98.6 1310.6h2M67.6 1358.6h2M181.9 1332.2h2M352.6 1330.8h2M335.4 1356.4h2M283.8 1310.2h2M296.6 1313.7h2M133.8 1318.2h2M209.9 1569.7h2M230.8 1446.3h2M286.3 1275.0h2M190.5 1560.6h2M267.7 1326.7h2M202.2 1465.3h2M148.7 1446.2h2M355.9 1257.0h2M191.0 1522.4h2M173.8 1559.7h2M310.4 1304.5h2M149.5 1299.1h2M284.3 1323.5h2M152.9 1468.9h2M129.9 1411.1h2M125.5 1343.5h2M217.3 1430.7h2M218.0 1591.3h2M303.9 1281.5h2M81.5 1418.4h2M147.9 1492.4h2M352.3 1309.4h2M341.7 1286.6h2M73.8 1308.9h2M100.5 1344.7h2M227.0 1311.9h2M199.5 1321.6h2M86.3 1417.7h2M155.4 1559.4h2M235.7 1430.0h2M210.4 1406.2h2M125.7 1400.8h2M162.2 1545.7h2M94.0 1318.5h2M150.4 1382.7h2M171.4 1335.2h2M202.3 1575.6h2M79.3 1344.4h2M344.1 1319.8h2M47.5 1430.3h2M355.0 1225.4h2M229.5 1347.0h2M394.8 1215.8h2M335.8 1295.9h2M248.7 1311.3h2M122.4 1296.8h2M198.7 1453.2h2M182.0 1332.8h2M190.6 1319.7h2M119.3 1395.2h2M134.3 1312.3h2M312.5 1298.0h2M295.0 1291.8h2M165.3 1481.0h2M181.1 1472.7h2M77.9 1346.7h2M203.3 1355.4h2M45.3 1363.9h2M213.6 1506.7h2M61.7 1346.6h2M208.3 1405.8h2M180.9 1533.5h2M261.2 1334.9h2M190.7 1320.2h2M160.4 1496.3h2M214.4 1428.1h2M137.8 1333.4h2M346.0 1242.4h2M110.5 1282.5h2M67.9 1338.8h2M140.0 1347.4h2M92.1 1390.7h2M182.4 1548.1h2M153.3 1399.8h2M190.0 1490.9h2M328.1 1287.6h2M342.0 1279.4h2M248.4 1330.7h2M110.7 1291.1h2M78.5 1301.7h2M313.1 1296.3h2M365.9 1347.0h2M351.4 1311.3h2M69.0 1307.3h2M46.2 1407.1h2M131.2 1329.1h2M327.2 1250.5h2"/><path stroke="#9a5a4c" stroke-width="1.5" fill="none" d="M141.9 1439.7h1.5M213.6 1592.7h1.5M25.8 1402.5h1.5M201.0 1343.7h1.5M168.2 1463.6h1.5M131.8 1380.4h1.5M301.8 1274.6h1.5M320.5 1338.6h1.5M350.3 1262.3h1.5M202.7 1516.2h1.5M313.1 1299.7h1.5M235.8 1440.2h1.5M70.5 1403.2h1.5M357.8 1327.8h1.5M359.3 1326.3h1.5M84.8 1383.9h1.5M217.7 1350.5h1.5M149.5 1403.5h1.5M111.4 1286.7h1.5M300.0 1272.4h1.5M63.3 1304.9h1.5M225.5 1392.9h1.5M45.0 1354.7h1.5M62.4 1353.2h1.5M61.7 1357.1h1.5M144.1 1373.0h1.5M321.4 1330.2h1.5M349.3 1348.8h1.5M209.1 1493.8h1.5M81.5 1413.4h1.5M67.5 1409.2h1.5M117.0 1436.3h1.5M203.1 1459.0h1.5M285.9 1257.8h1.5M104.4 1339.2h1.5M230.0 1337.0h1.5M155.3 1281.4h1.5M109.5 1431.4h1.5M188.7 1592.5h1.5M50.3 1361.5h1.5M297.5 1264.1h1.5M210.9 1408.9h1.5M224.8 1410.4h1.5M141.7 1347.8h1.5M66.4 1421.5h1.5M71.1 1429.2h1.5M173.3 1595.6h1.5M215.7 1544.2h1.5M170.9 1506.8h1.5M80.8 1435.4h1.5M350.0 1266.7h1.5M201.3 1434.9h1.5M159.7 1492.2h1.5M241.8 1556.1h1.5M175.5 1457.4h1.5M65.8 1426.0h1.5"/><path stroke="#b05a9a" stroke-width="1.5" fill="none" d="M315.9 1239.7h1.5M330.3 1342.3h1.5M176.2 1420.3h1.5M277.0 1322.7h1.5M274.1 1336.0h1.5M240.7 1446.2h1.5M166.2 1558.2h1.5M62.3 1435.4h1.5M239.3 1547.9h1.5M346.6 1302.0h1.5M189.9 1342.3h1.5M362.3 1272.5h1.5M332.0 1319.4h1.5M157.8 1526.1h1.5M272.0 1316.4h1.5M210.2 1544.0h1.5M221.2 1322.7h1.5M159.1 1482.6h1.5M232.0 1402.6h1.5M111.6 1396.6h1.5M163.1 1488.4h1.5M189.6 1495.6h1.5M345.1 1310.4h1.5M207.4 1306.6h1.5M68.5 1391.4h1.5M175.2 1302.7h1.5M126.9 1378.0h1.5M49.0 1422.5h1.5M374.1 1214.6h1.5M117.9 1332.5h1.5M185.6 1458.3h1.5M91.7 1306.5h1.5M173.2 1587.4h1.5M319.6 1352.3h1.5M323.5 1242.1h1.5M111.2 1332.7h1.5M237.5 1335.0h1.5M153.7 1471.4h1.5M153.6 1462.1h1.5M308.5 1293.2h1.5M100.0 1412.3h1.5M157.9 1530.5h1.5M347.1 1267.1h1.5M330.9 1256.9h1.5M92.2 1438.3h1.5M349.3 1310.9h1.5M199.7 1412.7h1.5M169.6 1546.6h1.5M181.3 1296.0h1.5M224.7 1334.3h1.5M159.8 1554.8h1.5M352.7 1236.3h1.5M176.6 1358.7h1.5M113.5 1327.9h1.5M107.9 1319.0h1.5M257.8 1309.5h1.5M70.8 1441.7h1.5M270.3 1275.1h1.5M241.0 1440.8h1.5M183.8 1537.9h1.5M50.8 1397.5h1.5M56.9 1320.9h1.5"/><path stroke="#9a5a4c" stroke-width="1" fill="none" d="M201.7 1470.7h1M188.0 1510.2h1M163.1 1407.3h1M326.3 1319.5h1M124.1 1370.5h1M155.8 1304.2h1M211.5 1324.9h1M174.2 1566.7h1M137.8 1358.2h1M158.2 1370.4h1M337.9 1333.7h1M297.8 1315.4h1M147.7 1351.5h1M88.3 1330.9h1M366.4 1248.3h1M79.4 1297.5h1M173.4 1285.8h1M185.1 1444.3h1M156.5 1529.5h1M77.8 1363.1h1M150.0 1379.2h1M327.3 1298.0h1M305.2 1265.6h1M202.2 1337.8h1M123.2 1409.2h1M183.2 1417.5h1M205.4 1468.2h1M154.2 1535.4h1M126.0 1409.9h1M88.1 1404.6h1M108.8 1333.3h1M126.6 1352.8h1M145.0 1333.7h1M301.0 1324.2h1M153.9 1446.5h1M164.9 1498.6h1M59.5 1324.5h1M338.4 1345.5h1M212.3 1322.3h1M256.3 1562.0h1M120.1 1283.9h1M137.6 1315.3h1"/><path stroke="#cd77b6" stroke-width="1.5" fill="none" d="M331.7 1320.2h1.5M347.4 1317.8h1.5M173.3 1363.7h1.5M301.0 1297.3h1.5M148.3 1336.1h1.5M176.3 1302.0h1.5M179.2 1415.3h1.5M202.1 1300.5h1.5M183.1 1354.2h1.5M166.6 1512.4h1.5M97.6 1422.2h1.5M251.4 1337.4h1.5M338.7 1323.9h1.5M182.9 1532.9h1.5M230.1 1456.2h1.5M139.7 1306.2h1.5M171.8 1523.9h1.5M203.1 1421.0h1.5M290.5 1312.8h1.5M96.2 1361.6h1.5M134.5 1340.8h1.5M116.0 1327.1h1.5M359.7 1267.9h1.5M224.3 1421.6h1.5M200.4 1354.8h1.5M122.2 1302.0h1.5M210.6 1589.5h1.5M166.3 1386.8h1.5M134.0 1362.4h1.5M187.3 1356.9h1.5M189.1 1600.3h1.5M107.0 1416.6h1.5M252.1 1325.2h1.5M204.1 1464.3h1.5M93.7 1427.3h1.5M159.4 1393.0h1.5M293.5 1307.3h1.5M138.2 1347.6h1.5M268.9 1331.7h1.5M229.8 1487.7h1.5M211.0 1459.8h1.5M108.2 1307.3h1.5M114.9 1347.9h1.5M241.0 1557.7h1.5M74.3 1327.4h1.5M201.4 1464.2h1.5M245.2 1328.9h1.5M54.4 1384.1h1.5M139.2 1305.9h1.5M134.2 1299.6h1.5M337.0 1342.1h1.5M181.0 1447.3h1.5M119.2 1372.4h1.5M190.5 1587.5h1.5M133.3 1423.3h1.5M305.8 1316.6h1.5M301.9 1254.0h1.5M151.8 1423.2h1.5M123.9 1383.5h1.5M122.1 1430.4h1.5M353.0 1252.1h1.5M69.2 1408.4h1.5M330.5 1312.8h1.5M263.7 1330.8h1.5M249.5 1310.1h1.5M156.8 1376.0h1.5M318.2 1310.7h1.5M357.6 1321.6h1.5M337.5 1223.1h1.5M200.2 1403.0h1.5M195.8 1587.1h1.5M184.3 1418.2h1.5M97.9 1413.2h1.5M297.7 1291.8h1.5M87.7 1410.0h1.5M133.0 1422.1h1.5M165.3 1559.6h1.5M81.8 1362.0h1.5M359.9 1301.8h1.5M218.4 1438.8h1.5M309.5 1233.1h1.5M155.3 1509.2h1.5M79.3 1371.6h1.5M321.5 1245.5h1.5M175.5 1555.1h1.5M297.4 1255.6h1.5M211.4 1541.9h1.5M175.4 1395.9h1.5M75.1 1335.9h1.5M102.4 1302.0h1.5M201.1 1479.5h1.5M344.5 1260.8h1.5M178.8 1313.8h1.5M129.6 1346.9h1.5M301.2 1248.7h1.5M197.8 1358.5h1.5M168.4 1530.1h1.5M326.2 1242.0h1.5M182.1 1324.7h1.5M214.2 1458.2h1.5M342.0 1249.8h1.5M203.3 1314.0h1.5M359.8 1350.7h1.5M120.4 1380.6h1.5M283.0 1279.2h1.5M316.4 1332.8h1.5M218.2 1514.5h1.5M369.2 1344.4h1.5M187.7 1386.4h1.5M191.2 1387.7h1.5M65.9 1390.9h1.5M105.8 1405.5h1.5M160.1 1373.9h1.5M227.0 1336.3h1.5M238.8 1347.1h1.5M224.4 1344.2h1.5M326.0 1253.0h1.5M264.9 1345.0h1.5M121.4 1338.2h1.5M342.1 1261.0h1.5M60.0 1427.2h1.5M153.4 1476.5h1.5M149.6 1392.5h1.5M82.6 1402.9h1.5M167.0 1500.9h1.5M209.8 1568.4h1.5M225.3 1346.8h1.5M170.8 1513.1h1.5M179.8 1525.6h1.5M45.8 1330.7h1.5M209.3 1410.6h1.5M147.7 1303.1h1.5M225.1 1455.8h1.5"/><path stroke="#cd77b6" stroke-width="2" fill="none" d="M192.4 1425.6h2M153.2 1528.5h2M359.7 1268.8h2M160.6 1338.1h2M187.5 1332.8h2M202.1 1587.3h2M201.9 1532.7h2M67.5 1418.2h2M107.3 1323.0h2M224.0 1471.2h2M120.4 1319.7h2M186.1 1310.6h2M204.5 1527.3h2M258.2 1341.9h2M333.4 1323.8h2M210.5 1414.8h2M201.0 1563.1h2M160.3 1463.5h2M139.8 1377.6h2M157.8 1304.7h2M303.5 1272.7h2M160.2 1366.6h2M117.7 1375.1h2M95.1 1424.2h2M217.9 1412.9h2M237.5 1458.1h2M160.1 1340.5h2M84.0 1347.6h2M57.4 1322.1h2M161.5 1524.9h2M304.6 1241.7h2M146.6 1280.8h2M279.1 1328.2h2M212.7 1562.5h2M103.2 1417.7h2M109.7 1356.8h2M221.2 1450.8h2M310.5 1311.6h2M40.7 1358.9h2M64.8 1431.2h2M289.8 1263.6h2M171.0 1518.7h2M224.7 1470.1h2M229.5 1506.7h2M290.6 1264.4h2M100.7 1434.9h2M201.4 1454.9h2M234.8 1553.0h2M160.7 1361.3h2M211.2 1418.1h2M198.5 1336.2h2M284.8 1311.9h2M192.5 1545.9h2M143.5 1344.4h2M220.2 1533.2h2M202.7 1409.5h2M369.0 1243.1h2M61.5 1405.0h2M227.5 1549.9h2M42.9 1376.8h2M107.7 1366.6h2M171.0 1281.3h2M177.8 1388.4h2M339.7 1352.8h2M107.9 1303.8h2M144.7 1464.1h2M309.6 1248.1h2M236.3 1337.0h2M62.2 1381.9h2M54.0 1336.5h2M308.2 1260.8h2M107.6 1298.6h2M113.5 1420.1h2M52.5 1419.2h2M51.7 1428.1h2M368.3 1235.9h2M107.8 1381.9h2M222.4 1342.5h2M264.8 1320.1h2M207.2 1400.0h2M65.1 1391.3h2M232.7 1492.7h2M59.0 1356.0h2M84.7 1331.8h2M49.9 1354.0h2M40.8 1377.7h2M155.4 1391.6h2M344.3 1221.3h2M358.7 1289.1h2M220.1 1340.7h2M193.9 1586.9h2M314.6 1338.4h2M366.5 1253.7h2M124.6 1372.4h2M167.1 1478.1h2M167.1 1513.4h2M161.3 1338.1h2M160.9 1295.2h2M182.2 1526.0h2M142.4 1407.9h2M161.0 1323.0h2M179.7 1602.7h2M172.6 1552.3h2M326.0 1313.1h2M214.1 1387.4h2M50.3 1349.6h2M184.9 1384.3h2M168.3 1586.8h2M255.2 1325.2h2M165.9 1485.5h2M214.3 1349.7h2M214.4 1591.4h2M197.1 1493.4h2M278.5 1294.1h2M186.7 1575.4h2M185.6 1292.1h2M62.6 1336.0h2M172.5 1390.6h2M180.9 1305.4h2M174.6 1577.3h2M229.6 1312.6h2M168.7 1387.3h2M221.0 1405.6h2M58.0 1414.2h2"/><path stroke="#2a7bb9" stroke-width="1" fill="none" d="M92.6 1318.9h1M174.7 1311.9h1M143.6 1299.6h1M96.3 1329.3h1M214.6 1475.6h1M346.7 1307.6h1M323.3 1237.8h1M152.2 1402.2h1M166.8 1540.4h1M363.4 1249.5h1M181.6 1290.2h1M84.8 1439.8h1M171.0 1479.0h1M179.0 1600.4h1M197.8 1393.7h1M62.3 1331.9h1M38.2 1378.4h1M340.4 1270.9h1M233.3 1538.5h1M91.7 1302.8h1M314.7 1266.3h1M81.0 1413.4h1M273.7 1279.5h1M220.4 1436.9h1M208.9 1350.5h1M250.5 1312.8h1M172.5 1432.0h1"/><path stroke="#2a7bb9" stroke-width="2" fill="none" d="M162.5 1432.3h2M88.9 1395.5h2M222.8 1399.0h2M128.1 1409.2h2M31.4 1408.2h2M198.6 1512.1h2M52.6 1406.2h2M146.5 1364.7h2M173.6 1521.5h2M215.9 1461.3h2M338.0 1285.9h2M250.9 1345.7h2M78.7 1353.6h2M217.0 1390.1h2M334.1 1256.0h2M349.9 1326.2h2M52.3 1428.7h2M89.0 1334.4h2M128.4 1354.6h2M217.0 1346.5h2M138.6 1336.2h2M217.8 1306.3h2M212.8 1460.9h2M338.1 1303.0h2M51.1 1358.3h2M261.0 1302.7h2M138.9 1453.0h2M175.4 1549.5h2M379.9 1217.2h2M141.4 1313.5h2M64.4 1307.1h2M208.8 1551.5h2M76.2 1410.3h2M173.0 1562.4h2M163.4 1386.3h2M153.0 1502.1h2M151.8 1349.6h2M230.6 1437.8h2M52.6 1333.2h2M201.5 1581.1h2M266.8 1328.1h2M34.1 1382.3h2M237.9 1577.8h2M144.6 1347.0h2"/><path stroke="#7f4a42" stroke-width="1" fill="none" d="M62.4 1351.4h1M106.9 1297.1h1M206.0 1593.1h1M58.4 1342.8h1M49.7 1403.8h1M105.8 1353.4h1M216.1 1562.5h1M56.4 1408.4h1M202.6 1441.0h1M171.4 1385.0h1M292.5 1284.5h1M233.8 1538.6h1M180.2 1472.3h1M173.5 1489.6h1M351.7 1342.4h1M151.6 1358.3h1M106.6 1381.3h1M81.0 1343.7h1M218.7 1476.0h1M161.9 1565.4h1M331.6 1299.2h1M179.6 1334.0h1M85.0 1293.7h1M211.4 1340.5h1M229.1 1331.6h1M252.8 1323.6h1M213.9 1519.4h1M178.4 1409.3h1M347.1 1246.9h1M346.2 1355.3h1M147.7 1456.4h1M351.2 1251.0h1M193.8 1571.5h1M98.9 1327.7h1M227.1 1496.9h1M173.6 1396.1h1M51.6 1403.3h1M90.2 1353.6h1M38.6 1425.4h1M114.1 1413.4h1M179.0 1341.8h1M171.2 1466.0h1M187.4 1399.0h1M165.6 1286.8h1M301.4 1277.7h1M86.2 1355.9h1M152.1 1465.0h1M175.7 1358.9h1"/><path stroke="#b05a9a" stroke-width="2" fill="none" d="M67.6 1401.3h2M121.5 1429.6h2M84.3 1369.4h2M68.8 1373.9h2M84.4 1334.8h2M279.0 1291.9h2M297.2 1241.0h2M344.7 1305.3h2M43.6 1428.8h2M120.9 1411.3h2M109.5 1297.6h2M56.1 1441.8h2M267.5 1287.4h2M138.0 1446.7h2M236.3 1545.6h2M176.2 1429.2h2M179.5 1395.5h2M57.4 1315.1h2M106.1 1389.2h2M157.3 1564.4h2M345.2 1352.0h2M238.3 1572.9h2M352.7 1278.9h2M30.3 1389.5h2M336.1 1287.7h2M140.3 1458.5h2M370.2 1228.4h2M155.2 1418.7h2M306.5 1237.0h2M326.7 1323.4h2M60.0 1382.1h2M353.1 1313.8h2M79.2 1365.7h2M61.2 1319.4h2M146.1 1319.6h2M100.3 1355.0h2M356.8 1301.3h2M192.0 1535.2h2M183.2 1293.1h2M355.4 1350.2h2M74.3 1306.4h2M91.9 1391.0h2M323.4 1312.3h2M148.8 1347.8h2M236.8 1410.4h2M345.1 1224.2h2M200.6 1344.9h2M344.4 1298.0h2M123.5 1293.6h2M338.2 1349.9h2M203.0 1430.6h2M141.7 1433.7h2M366.3 1226.4h2M218.1 1503.8h2M276.8 1319.0h2M361.8 1352.2h2M243.8 1343.5h2M186.7 1341.7h2M212.8 1503.7h2M385.6 1223.3h2M147.5 1352.9h2"/><path stroke="#2a7bb9" stroke-width="1.5" fill="none" d="M157.4 1295.7h1.5M211.8 1510.4h1.5M358.6 1232.4h1.5M335.6 1271.4h1.5M184.9 1485.6h1.5M374.4 1214.2h1.5M62.4 1364.2h1.5M44.8 1432.4h1.5M269.9 1285.6h1.5M65.3 1327.7h1.5M132.8 1436.7h1.5M110.2 1369.8h1.5M350.5 1256.0h1.5M236.6 1393.4h1.5M163.5 1437.8h1.5M333.0 1256.0h1.5M211.4 1311.3h1.5M214.7 1459.4h1.5M207.2 1469.4h1.5M120.0 1312.6h1.5M350.3 1265.0h1.5M341.2 1302.6h1.5M141.7 1456.2h1.5M202.0 1309.4h1.5M251.5 1309.6h1.5M51.9 1356.9h1.5M120.0 1301.2h1.5M200.0 1387.5h1.5M114.5 1309.9h1.5M323.9 1341.0h1.5M302.8 1299.4h1.5M56.0 1328.7h1.5M32.5 1388.4h1.5M138.4 1402.4h1.5M347.9 1283.8h1.5M328.0 1342.1h1.5M45.6 1416.9h1.5M259.8 1321.9h1.5M196.4 1316.6h1.5M238.1 1313.1h1.5M169.8 1376.1h1.5M228.9 1532.4h1.5M174.9 1414.0h1.5M347.5 1355.4h1.5M201.2 1580.6h1.5M345.2 1281.4h1.5M88.9 1340.6h1.5M197.8 1304.5h1.5M39.0 1392.4h1.5M67.3 1326.2h1.5M262.4 1341.9h1.5M330.4 1307.6h1.5M170.0 1549.0h1.5M77.6 1310.2h1.5M237.4 1453.5h1.5M33.4 1367.9h1.5M310.9 1259.3h1.5M292.8 1327.0h1.5M74.4 1349.2h1.5M124.4 1405.8h1.5M93.0 1337.2h1.5M66.7 1340.6h1.5M87.3 1297.2h1.5M223.4 1514.3h1.5M153.3 1526.5h1.5M38.6 1373.8h1.5M176.9 1381.9h1.5"/><path stroke="#7f4a42" stroke-width="2" fill="none" d="M147.7 1296.0h2M55.8 1318.2h2M124.9 1290.8h2M128.6 1333.1h2M74.2 1390.5h2M49.6 1359.8h2M332.6 1271.1h2M78.2 1406.9h2M169.3 1356.9h2M81.8 1411.3h2M145.7 1287.2h2M131.8 1387.8h2M72.3 1383.5h2M222.7 1459.1h2M228.7 1508.6h2M264.7 1326.0h2M155.1 1292.9h2M36.8 1358.3h2M76.7 1315.2h2M89.4 1441.6h2M131.1 1358.7h2M275.8 1291.8h2M171.4 1287.6h2M94.6 1373.6h2M194.8 1342.2h2M166.7 1489.3h2M212.2 1564.3h2M56.7 1350.6h2M316.4 1329.1h2M46.9 1434.8h2M40.3 1385.7h2M102.8 1290.5h2M330.7 1356.1h2M203.0 1552.7h2M308.0 1327.2h2M295.7 1323.9h2M48.1 1423.0h2M146.1 1290.7h2M150.3 1371.6h2M66.9 1305.4h2M344.4 1234.8h2M271.9 1342.8h2M354.1 1235.4h2M322.7 1293.1h2M169.3 1512.3h2M326.1 1267.2h2M361.4 1240.4h2M209.9 1320.3h2M188.2 1383.5h2M196.0 1391.6h2M229.2 1573.6h2M127.2 1373.0h2M158.7 1466.0h2M66.7 1331.5h2M215.3 1577.2h2M187.3 1342.2h2M192.9 1593.4h2"/><path stroke="#a0607a" stroke-width="2" fill="none" d="M215.3 1554.0h2M222.3 1505.5h2M71.9 1443.4h2M183.7 1583.3h2M206.4 1543.2h2M126.7 1422.8h2M210.6 1414.2h2M304.9 1240.8h2M174.3 1596.2h2M113.8 1406.4h2M99.9 1375.5h2M159.9 1296.5h2M139.8 1333.9h2M90.8 1371.5h2M193.5 1393.5h2M191.5 1575.7h2M286.1 1333.0h2M216.1 1530.7h2M135.2 1373.3h2M133.0 1419.6h2M228.6 1452.3h2M218.5 1428.3h2M185.4 1558.0h2M225.9 1542.9h2M170.1 1496.3h2M172.4 1295.5h2M179.6 1513.6h2M371.7 1214.6h2M188.6 1436.0h2M37.9 1386.8h2M59.0 1421.6h2M305.9 1260.7h2M130.6 1413.1h2M191.4 1420.3h2M213.6 1544.1h2M110.9 1388.3h2M204.1 1490.7h2M146.8 1448.6h2M204.4 1469.6h2M44.6 1408.8h2M247.2 1306.5h2"/><path stroke="#9a5a4c" stroke-width="2" fill="none" d="M182.3 1569.3h2M141.1 1328.6h2M110.8 1295.4h2M130.4 1329.6h2M219.4 1480.9h2M154.8 1301.3h2M62.5 1360.0h2M317.3 1299.0h2M237.9 1325.2h2M105.4 1375.4h2M227.8 1425.4h2M303.1 1261.1h2M222.3 1322.0h2M110.6 1428.5h2M313.5 1287.4h2M281.6 1333.9h2M335.5 1247.9h2M151.1 1374.3h2M339.1 1332.8h2M164.2 1371.2h2M81.9 1385.5h2M192.5 1432.5h2M122.8 1343.4h2M152.9 1369.6h2M227.2 1508.0h2M197.6 1485.7h2M104.4 1345.8h2M92.0 1413.4h2M110.8 1432.7h2M192.0 1483.7h2M233.9 1576.5h2M173.4 1599.8h2M334.6 1300.4h2M180.8 1383.6h2M77.0 1375.4h2M63.4 1372.9h2M313.4 1291.8h2M185.5 1572.3h2"/><path stroke="#7f4a42" stroke-width="1.5" fill="none" d="M139.5 1292.7h1.5M220.5 1438.7h1.5M181.5 1558.7h1.5M210.8 1489.0h1.5M40.9 1418.3h1.5M197.2 1558.6h1.5M363.9 1249.5h1.5M152.0 1516.3h1.5M134.2 1368.6h1.5M132.8 1410.4h1.5M67.3 1322.1h1.5M114.3 1382.5h1.5M183.7 1560.0h1.5M149.9 1399.2h1.5M287.7 1293.9h1.5M194.4 1578.4h1.5M140.2 1309.7h1.5M43.2 1339.5h1.5M357.3 1240.7h1.5M176.8 1420.9h1.5M174.0 1410.5h1.5M151.0 1429.4h1.5M68.7 1404.9h1.5M214.0 1539.7h1.5M167.6 1466.2h1.5M319.7 1307.8h1.5M311.1 1257.9h1.5M259.7 1323.2h1.5M218.3 1399.4h1.5M65.5 1390.8h1.5M206.2 1582.3h1.5M200.8 1409.3h1.5M186.9 1362.4h1.5M142.7 1356.8h1.5M71.7 1348.1h1.5M140.8 1372.6h1.5M66.1 1315.9h1.5M197.9 1519.3h1.5M233.7 1390.4h1.5M167.7 1380.1h1.5M90.1 1310.1h1.5M174.9 1433.4h1.5M323.6 1301.8h1.5M258.3 1318.1h1.5M101.5 1419.7h1.5M100.8 1343.9h1.5M192.3 1442.2h1.5M139.8 1446.5h1.5M232.6 1337.7h1.5M367.2 1244.5h1.5M224.3 1404.7h1.5M318.8 1352.1h1.5M91.2 1341.6h1.5M325.7 1227.3h1.5M174.0 1427.2h1.5M267.5 1337.0h1.5M313.5 1253.1h1.5M248.2 1325.8h1.5M181.7 1417.6h1.5M367.1 1346.9h1.5M235.9 1452.4h1.5M168.3 1491.5h1.5M342.2 1328.2h1.5M227.9 1516.7h1.5"/><path stroke="#b05a9a" stroke-width="1" fill="none" d="M224.5 1468.7h1M287.8 1329.0h1M179.7 1488.8h1M221.2 1464.9h1M72.5 1377.9h1M358.8 1337.2h1M350.7 1343.9h1M135.6 1396.0h1M124.4 1336.3h1M51.2 1396.7h1M190.8 1496.1h1M35.5 1381.0h1M196.8 1497.3h1M174.7 1476.6h1M87.2 1374.9h1M96.5 1438.3h1M360.3 1259.1h1M186.4 1469.5h1M217.3 1544.6h1M124.3 1392.7h1M227.2 1324.2h1M222.2 1588.2h1M230.7 1425.5h1M227.3 1547.3h1M123.0 1302.9h1M286.2 1263.2h1M223.5 1329.4h1M165.8 1298.2h1M133.1 1421.5h1M80.8 1417.3h1M52.4 1318.0h1M330.1 1322.5h1M171.7 1388.5h1M229.7 1451.4h1M208.3 1417.9h1M184.4 1363.5h1M201.0 1461.2h1"/><path stroke="#a0607a" stroke-width="1" fill="none" d="M171.2 1509.8h1M317.1 1321.5h1M46.0 1371.5h1M212.0 1427.4h1M182.9 1454.8h1M282.7 1317.2h1M331.6 1257.9h1M123.8 1365.5h1M68.1 1364.6h1M157.6 1539.9h1M222.7 1468.2h1M108.5 1338.3h1M234.6 1448.6h1M105.6 1308.8h1M324.5 1231.2h1M230.0 1560.9h1M151.5 1316.5h1M167.0 1489.6h1M79.9 1297.4h1M181.7 1462.3h1M267.1 1294.6h1M92.9 1311.5h1M191.1 1310.1h1"/></g>
<g opacity="0.9"><path stroke="#7a5ab0" stroke-width="2" fill="none" d="M62.1 1394.2h2M74.6 1416.4h2M67.6 1443.7h2M88.4 1432.8h2M42.0 1353.0h2M68.2 1438.8h2M94.5 1425.1h2M43.8 1387.1h2M45.6 1420.8h2M57.2 1392.7h2M46.6 1416.3h2M49.7 1343.9h2"/><path stroke="#8c5045" stroke-width="1.5" fill="none" d="M84.9 1440.7h1.5M76.9 1414.0h1.5M75.1 1412.3h1.5M41.3 1372.8h1.5M32.1 1380.5h1.5M40.6 1336.7h1.5M79.4 1414.3h1.5"/><path stroke="#8c5045" stroke-width="2" fill="none" d="M28.1 1372.5h2M42.9 1385.6h2M30.4 1381.1h2M93.4 1427.1h2M42.1 1387.2h2M29.8 1384.6h2M72.1 1416.8h2M72.2 1425.2h2M44.2 1387.9h2M63.1 1428.2h2M43.8 1394.2h2M83.6 1421.3h2M37.5 1384.2h2M36.4 1359.6h2"/><path stroke="#2a7bb9" stroke-width="1" fill="none" d="M91.2 1423.3h1M62.7 1406.1h1M43.2 1334.0h1M114.6 1429.2h1M40.0 1425.0h1M41.1 1400.5h1M38.8 1341.4h1M109.8 1429.4h1M69.5 1418.7h1M51.1 1376.9h1M68.3 1425.9h1M27.5 1378.0h1M58.4 1415.4h1M50.6 1432.2h1M28.9 1384.5h1M76.7 1411.8h1M118.8 1430.8h1"/><path stroke="#2a7bb9" stroke-width="2" fill="none" d="M32.0 1403.1h2M48.6 1405.0h2M42.1 1355.4h2M49.7 1385.0h2M61.3 1431.9h2M57.5 1348.2h2M33.9 1393.0h2M63.3 1396.1h2M54.4 1406.3h2M54.8 1356.3h2M57.9 1416.3h2M49.7 1369.6h2M45.8 1380.2h2M36.3 1412.0h2M64.8 1415.6h2M54.7 1341.5h2M33.2 1357.2h2M49.7 1429.3h2M40.8 1417.3h2M41.3 1406.8h2M56.6 1397.1h2M52.9 1371.4h2M55.4 1430.2h2"/><path stroke="#cd77b6" stroke-width="2" fill="none" d="M29.9 1396.0h2M53.3 1381.2h2M51.4 1436.2h2M39.2 1407.6h2M47.5 1361.0h2M57.8 1356.5h2M47.0 1424.0h2M88.5 1439.2h2M57.4 1367.5h2M64.1 1402.7h2"/><path stroke="#7a5ab0" stroke-width="1.5" fill="none" d="M65.7 1443.6h1.5M55.3 1376.3h1.5M90.7 1440.6h1.5M43.0 1432.8h1.5M57.9 1401.7h1.5M44.6 1398.0h1.5M51.7 1338.2h1.5M51.8 1348.9h1.5M75.3 1438.0h1.5M38.0 1408.3h1.5M38.9 1352.1h1.5M78.4 1432.8h1.5M93.4 1425.8h1.5"/><path stroke="#3a8ac4" stroke-width="2" fill="none" d="M51.6 1362.3h2M45.6 1380.1h2M80.5 1435.7h2M41.0 1427.9h2M39.5 1421.5h2M45.8 1333.0h2M104.4 1432.0h2M66.4 1404.9h2M36.5 1368.3h2M44.3 1431.3h2M47.0 1409.4h2M50.6 1394.4h2M49.0 1397.0h2M40.2 1385.8h2M48.4 1420.1h2"/><path stroke="#8c5045" stroke-width="1" fill="none" d="M57.6 1395.9h1M43.9 1376.5h1M78.2 1420.8h1M35.1 1400.2h1M77.1 1416.5h1M53.1 1338.1h1M25.4 1369.4h1M29.6 1402.3h1M46.5 1377.9h1M101.2 1432.6h1M66.0 1398.0h1M57.5 1416.9h1M46.6 1423.1h1"/><path stroke="#7a5ab0" stroke-width="1" fill="none" d="M50.6 1388.5h1M74.8 1442.3h1M64.0 1406.5h1M37.8 1351.3h1M46.7 1388.8h1M48.4 1333.2h1M55.9 1408.2h1M86.3 1431.1h1M36.5 1383.0h1M57.1 1348.1h1"/><path stroke="#2a7bb9" stroke-width="1.5" fill="none" d="M47.6 1342.3h1.5M47.2 1357.7h1.5M58.4 1405.0h1.5M49.2 1408.9h1.5M66.9 1401.1h1.5M57.9 1395.8h1.5M74.1 1426.9h1.5M27.3 1376.9h1.5M40.8 1373.1h1.5M43.3 1337.9h1.5M56.1 1360.8h1.5M60.7 1421.4h1.5M38.4 1420.1h1.5M42.5 1400.6h1.5M50.9 1341.6h1.5M75.4 1432.9h1.5M42.9 1370.6h1.5M45.0 1374.3h1.5M49.4 1432.5h1.5M44.5 1398.4h1.5M108.0 1427.4h1.5M46.5 1372.3h1.5M42.4 1339.4h1.5M104.8 1438.3h1.5M79.3 1417.6h1.5M59.4 1397.8h1.5M53.2 1381.5h1.5M30.3 1366.0h1.5M46.6 1428.4h1.5M45.8 1393.6h1.5M47.4 1402.0h1.5M36.2 1397.1h1.5M53.4 1426.3h1.5M69.1 1423.4h1.5M31.2 1397.9h1.5"/><path stroke="#3a8ac4" stroke-width="1" fill="none" d="M68.8 1411.6h1M66.4 1445.0h1M49.0 1335.2h1M97.4 1422.7h1M69.2 1428.7h1M46.0 1338.2h1M51.6 1356.9h1M94.6 1434.0h1M62.1 1439.0h1M37.6 1342.5h1M49.5 1379.9h1"/><path stroke="#3a8ac4" stroke-width="1.5" fill="none" d="M66.8 1408.3h1.5M67.9 1409.9h1.5M42.0 1339.7h1.5M57.2 1358.4h1.5M29.4 1361.2h1.5M54.4 1384.8h1.5M44.8 1384.1h1.5M51.5 1343.9h1.5M56.6 1383.8h1.5M48.6 1382.8h1.5M35.6 1344.5h1.5M77.9 1425.5h1.5M54.3 1407.2h1.5M62.3 1428.6h1.5M48.0 1339.9h1.5M45.0 1343.3h1.5"/><path stroke="#cd77b6" stroke-width="1" fill="none" d="M54.9 1383.6h1M82.2 1428.7h1M48.1 1337.6h1M52.4 1433.5h1M58.5 1387.5h1M48.5 1434.0h1M41.7 1420.4h1M50.4 1339.2h1M43.3 1405.2h1M45.1 1402.7h1M34.9 1364.1h1M37.8 1361.0h1M78.8 1418.5h1"/><path stroke="#cd77b6" stroke-width="1.5" fill="none" d="M83.8 1431.9h1.5M58.4 1382.6h1.5M39.0 1357.2h1.5M60.7 1420.7h1.5M42.8 1389.4h1.5M54.6 1412.5h1.5M37.9 1342.0h1.5M53.8 1377.1h1.5M91.4 1430.2h1.5M111.2 1433.8h1.5M41.8 1404.0h1.5"/></g>
<g opacity="0.9"><path stroke="#cd77b6" stroke-width="2" fill="none" d="M155.3 1327.4h2M247.3 1342.9h2M203.7 1333.1h2M164.9 1369.9h2M236.6 1332.3h2M198.7 1313.4h2M164.0 1372.7h2M199.7 1306.1h2M243.3 1328.1h2M216.4 1309.8h2M229.3 1324.5h2M235.4 1347.8h2M232.7 1341.0h2M151.0 1341.6h2M211.0 1327.3h2M182.9 1363.1h2M167.9 1295.0h2M235.7 1341.8h2M202.8 1306.7h2M174.0 1361.2h2M239.0 1326.7h2M175.6 1302.0h2M233.8 1334.2h2M199.6 1328.2h2M182.1 1307.9h2M186.3 1295.8h2M152.6 1348.9h2M148.4 1378.8h2M235.3 1335.4h2M151.7 1384.8h2M212.3 1316.4h2M237.7 1322.4h2M195.1 1332.8h2M228.0 1325.0h2M220.7 1327.4h2M169.6 1372.3h2M194.0 1328.4h2M188.6 1295.3h2M156.2 1341.1h2M204.1 1329.1h2M168.5 1338.4h2M251.5 1342.4h2M191.9 1305.5h2M188.5 1300.7h2M212.9 1308.7h2M158.4 1376.6h2M180.5 1302.9h2M197.1 1326.5h2M252.7 1337.6h2M148.5 1358.2h2M163.6 1321.2h2M154.9 1314.5h2M202.9 1351.1h2M170.8 1372.4h2M165.3 1295.3h2M169.4 1301.2h2M212.2 1344.2h2M155.5 1363.7h2M176.6 1304.2h2M155.3 1319.3h2"/><path stroke="#2a7bb9" stroke-width="2" fill="none" d="M255.3 1347.6h2M172.3 1357.1h2M223.5 1325.6h2M162.1 1338.0h2M186.0 1333.3h2M225.7 1343.2h2M211.8 1315.2h2M174.9 1305.8h2M198.7 1331.6h2M203.1 1331.8h2M163.2 1319.1h2M186.2 1307.2h2M153.2 1373.3h2M166.4 1325.2h2M177.7 1326.2h2M178.0 1320.4h2M192.3 1343.9h2M146.7 1342.7h2M160.7 1319.4h2M176.4 1343.9h2M146.5 1340.9h2M183.3 1335.4h2M177.3 1323.5h2M150.0 1302.8h2M203.2 1348.1h2M170.1 1332.3h2M152.3 1369.1h2M224.1 1326.8h2M189.9 1344.0h2M224.4 1310.5h2M172.6 1313.5h2M152.4 1341.1h2M197.1 1335.5h2M192.8 1354.0h2M165.5 1354.9h2M195.1 1307.3h2M156.0 1329.0h2M184.7 1299.8h2"/><path stroke="#cd77b6" stroke-width="1.5" fill="none" d="M165.5 1303.8h1.5M167.6 1295.6h1.5M187.6 1339.9h1.5M201.0 1322.1h1.5M254.7 1343.0h1.5M193.6 1304.8h1.5M181.5 1360.5h1.5M179.1 1342.4h1.5M200.2 1315.3h1.5M170.9 1339.2h1.5M183.4 1309.1h1.5M175.3 1323.3h1.5M149.0 1319.1h1.5M206.7 1309.1h1.5M153.8 1311.5h1.5M178.0 1335.1h1.5M181.0 1293.6h1.5M148.8 1364.7h1.5M166.6 1380.8h1.5M217.9 1351.6h1.5M188.3 1348.5h1.5M231.8 1348.1h1.5M170.8 1329.7h1.5M209.8 1339.3h1.5M195.8 1302.0h1.5M255.1 1346.4h1.5M166.6 1344.8h1.5M162.9 1322.4h1.5M180.3 1328.6h1.5M197.1 1346.0h1.5M171.8 1293.7h1.5M178.6 1315.6h1.5M199.2 1356.5h1.5M150.3 1300.6h1.5M184.9 1340.4h1.5M216.7 1333.2h1.5M162.1 1336.9h1.5M160.8 1339.5h1.5M160.2 1320.8h1.5M204.6 1303.8h1.5M150.4 1311.3h1.5M167.3 1322.6h1.5M194.8 1350.1h1.5M147.0 1334.9h1.5M226.7 1319.4h1.5M191.4 1359.8h1.5M225.5 1320.5h1.5M200.2 1317.9h1.5M155.3 1308.2h1.5M203.4 1350.0h1.5M149.0 1366.9h1.5M181.9 1334.1h1.5M194.2 1300.3h1.5M205.4 1331.5h1.5M173.6 1304.6h1.5M172.4 1318.6h1.5"/><path stroke="#7a5ab0" stroke-width="1.5" fill="none" d="M255.6 1344.5h1.5M202.8 1353.7h1.5M179.5 1295.3h1.5M243.1 1323.3h1.5M250.4 1331.2h1.5M165.2 1303.1h1.5M179.1 1309.9h1.5M159.9 1311.8h1.5M151.2 1331.4h1.5M154.1 1374.3h1.5M172.1 1374.5h1.5M159.7 1324.7h1.5M183.4 1348.2h1.5M198.1 1302.7h1.5M152.1 1321.2h1.5M182.8 1362.5h1.5M215.6 1317.0h1.5M186.5 1298.7h1.5M165.3 1340.9h1.5M197.5 1351.5h1.5M176.3 1351.8h1.5M170.8 1307.7h1.5M177.6 1310.8h1.5M223.3 1326.9h1.5M170.2 1345.8h1.5M229.7 1311.7h1.5M155.3 1347.9h1.5M179.7 1340.7h1.5"/><path stroke="#8c5045" stroke-width="1.5" fill="none" d="M155.3 1352.2h1.5M210.2 1323.3h1.5M225.7 1322.7h1.5M229.0 1320.7h1.5M238.0 1347.9h1.5M184.2 1339.4h1.5M163.0 1383.0h1.5M212.8 1348.7h1.5M156.9 1307.2h1.5M166.2 1347.2h1.5M148.1 1302.7h1.5M214.7 1344.5h1.5M151.9 1313.2h1.5M190.8 1351.0h1.5M147.2 1317.1h1.5M154.8 1387.9h1.5M192.9 1299.6h1.5M159.0 1353.4h1.5M212.2 1309.6h1.5M158.6 1347.3h1.5M232.8 1334.8h1.5M186.5 1334.4h1.5M186.5 1322.3h1.5M192.1 1316.2h1.5M206.6 1335.8h1.5"/><path stroke="#8c5045" stroke-width="2" fill="none" d="M162.4 1324.9h2M153.4 1384.4h2M162.3 1310.7h2M151.6 1382.7h2M242.8 1338.8h2M185.4 1322.9h2M193.1 1308.2h2M152.0 1304.6h2M178.8 1324.1h2M227.6 1323.4h2M163.8 1380.4h2M196.2 1305.5h2M219.3 1348.6h2M195.9 1314.9h2M188.0 1352.2h2M177.3 1296.9h2M148.3 1328.1h2M174.6 1361.2h2M164.6 1294.7h2M211.7 1341.8h2M206.6 1305.0h2M184.1 1302.9h2M148.7 1325.1h2M168.7 1296.5h2M151.6 1317.7h2M198.8 1317.5h2M206.7 1344.3h2"/><path stroke="#8c5045" stroke-width="1" fill="none" d="M199.8 1321.7h1M229.8 1338.8h1M164.7 1349.5h1M151.7 1305.1h1M198.8 1353.8h1M158.0 1358.0h1M191.7 1317.4h1M209.8 1329.4h1M165.0 1358.2h1M187.3 1327.5h1M207.5 1331.3h1M192.3 1346.4h1M234.7 1323.7h1M159.3 1303.7h1M208.5 1342.2h1M156.5 1330.2h1M153.6 1376.6h1"/><path stroke="#7a5ab0" stroke-width="1" fill="none" d="M201.3 1338.4h1M228.4 1343.7h1M164.0 1374.2h1M210.9 1330.9h1M216.9 1319.8h1M214.5 1318.1h1M175.7 1353.5h1M150.8 1363.6h1M165.3 1356.3h1M186.7 1294.3h1M174.2 1296.6h1M229.6 1333.1h1M190.3 1305.0h1M161.7 1316.9h1M191.4 1325.2h1"/><path stroke="#2a7bb9" stroke-width="1.5" fill="none" d="M168.2 1334.9h1.5M167.8 1342.6h1.5M174.0 1360.7h1.5M189.9 1326.3h1.5M150.3 1329.3h1.5M224.0 1334.4h1.5M210.4 1335.1h1.5M204.3 1328.5h1.5M163.7 1323.8h1.5M209.6 1311.5h1.5M165.8 1353.7h1.5M234.9 1337.4h1.5M238.2 1341.6h1.5M234.8 1326.2h1.5M194.2 1332.7h1.5M155.4 1355.9h1.5M150.8 1318.2h1.5M151.4 1304.6h1.5M212.0 1311.9h1.5M242.1 1316.5h1.5M154.1 1316.4h1.5M183.9 1350.3h1.5M154.2 1309.6h1.5M192.6 1326.4h1.5M199.0 1315.0h1.5"/><path stroke="#cd77b6" stroke-width="1" fill="none" d="M152.3 1372.7h1M161.7 1382.2h1M154.3 1342.0h1M193.4 1347.4h1M169.1 1317.7h1M156.6 1336.1h1M158.4 1330.2h1M227.7 1325.8h1M213.1 1349.7h1M216.1 1324.3h1M190.0 1297.7h1M162.6 1296.0h1M195.8 1358.9h1M220.7 1318.4h1M161.2 1378.5h1M191.6 1360.4h1M155.1 1328.3h1M195.7 1331.1h1M158.3 1294.2h1M178.4 1301.2h1M182.1 1325.5h1M187.9 1357.6h1M233.0 1334.6h1M157.9 1333.1h1"/><path stroke="#2a7bb9" stroke-width="1" fill="none" d="M164.9 1291.5h1M161.2 1354.2h1M240.5 1335.7h1M247.6 1334.0h1M239.2 1337.0h1M183.4 1336.0h1M170.2 1325.1h1M181.2 1311.2h1M178.7 1338.2h1M214.1 1345.1h1"/><path stroke="#7a5ab0" stroke-width="2" fill="none" d="M236.4 1313.6h2M162.9 1383.0h2M159.1 1352.8h2M167.7 1338.7h2M199.9 1335.4h2M167.9 1328.2h2M173.8 1347.3h2M206.2 1307.8h2M220.3 1333.0h2M173.7 1319.0h2M204.2 1338.0h2M170.0 1373.7h2M152.0 1289.1h2M208.0 1319.5h2M198.7 1310.2h2M151.7 1329.8h2M211.7 1333.8h2M155.8 1382.8h2M205.6 1334.6h2M155.5 1295.2h2M173.8 1348.2h2M176.5 1330.4h2M249.5 1330.7h2M189.7 1327.0h2M245.2 1334.3h2"/></g>
<g opacity="0.9"><path stroke="#ece5c8" stroke-width="1.5" fill="none" d="M330.5 1261.4h1.5M342.8 1337.7h1.5M367.9 1228.9h1.5M296.8 1282.0h1.5M295.9 1307.2h1.5M329.3 1229.0h1.5M355.0 1298.8h1.5M303.7 1263.1h1.5M353.9 1347.0h1.5M293.7 1257.9h1.5M294.7 1299.7h1.5M287.4 1306.6h1.5M304.6 1242.7h1.5M354.0 1241.2h1.5M346.9 1314.6h1.5M358.4 1250.2h1.5M309.9 1325.7h1.5M354.7 1288.4h1.5M334.7 1335.0h1.5M287.1 1276.7h1.5M344.1 1340.3h1.5M354.0 1262.4h1.5M339.6 1290.1h1.5M328.5 1226.6h1.5M366.4 1218.9h1.5M347.2 1289.8h1.5M276.9 1261.3h1.5M340.2 1246.1h1.5M308.9 1333.3h1.5M344.5 1316.1h1.5M307.5 1271.8h1.5M321.8 1299.9h1.5M365.8 1340.4h1.5M342.8 1303.9h1.5M309.4 1306.9h1.5"/><path stroke="#cd77b6" stroke-width="2" fill="none" d="M323.4 1260.7h2M335.6 1265.4h2M344.9 1244.0h2M358.4 1279.3h2M295.4 1264.2h2M333.6 1292.3h2M285.1 1269.1h2M295.8 1263.9h2M295.0 1324.3h2M280.1 1316.5h2M327.7 1238.3h2M261.2 1341.2h2M344.9 1312.7h2M304.8 1283.4h2M327.4 1256.9h2M279.3 1281.6h2M339.0 1333.8h2M298.8 1297.1h2M349.1 1241.8h2M259.6 1333.1h2M337.2 1233.7h2M322.8 1352.8h2M336.8 1274.7h2M284.0 1273.5h2M326.1 1312.1h2M369.7 1223.0h2M338.8 1264.1h2M348.1 1310.1h2M329.3 1243.0h2M356.2 1347.9h2M320.6 1333.6h2M332.0 1282.2h2M254.9 1322.6h2M344.7 1324.4h2M357.2 1309.7h2M277.3 1327.7h2M386.5 1219.8h2M308.7 1256.9h2M260.5 1326.1h2M339.6 1286.8h2M313.7 1311.4h2M279.4 1332.9h2M359.7 1314.8h2M320.7 1262.5h2M276.9 1315.5h2M335.1 1317.4h2M355.7 1283.3h2M329.2 1289.0h2M362.5 1252.0h2M321.2 1306.6h2M254.3 1308.3h2M262.1 1318.1h2"/><path stroke="#cd77b6" stroke-width="1.5" fill="none" d="M360.6 1284.3h1.5M306.8 1326.4h1.5M278.6 1274.7h1.5M364.0 1293.5h1.5M344.5 1287.2h1.5M297.9 1254.3h1.5M268.8 1289.9h1.5M289.2 1263.2h1.5M300.4 1303.4h1.5M322.6 1352.4h1.5M358.2 1296.5h1.5M354.5 1328.4h1.5M324.2 1345.3h1.5M303.7 1276.4h1.5M351.5 1300.8h1.5M320.3 1280.0h1.5M279.2 1302.3h1.5M297.5 1295.1h1.5M289.1 1319.7h1.5M299.8 1329.5h1.5M354.0 1248.6h1.5M334.5 1279.3h1.5M364.0 1301.9h1.5M298.0 1249.3h1.5M305.9 1319.1h1.5M340.9 1285.7h1.5M330.8 1224.0h1.5M285.9 1265.1h1.5M354.6 1223.7h1.5M359.3 1231.2h1.5M328.0 1275.7h1.5M288.6 1275.4h1.5M289.0 1281.2h1.5M347.5 1237.2h1.5M336.4 1338.0h1.5M340.4 1278.0h1.5M317.6 1311.7h1.5M335.6 1241.5h1.5M319.0 1348.7h1.5M335.0 1295.4h1.5M356.8 1347.5h1.5M362.1 1297.2h1.5M313.5 1259.7h1.5M342.8 1341.0h1.5M260.9 1326.7h1.5M335.7 1255.3h1.5M329.7 1229.6h1.5M340.4 1318.5h1.5M346.9 1258.6h1.5M298.4 1324.6h1.5M320.3 1234.8h1.5M273.2 1271.3h1.5M286.6 1330.4h1.5M364.3 1308.7h1.5M370.1 1239.6h1.5M271.8 1316.6h1.5M311.6 1289.5h1.5M342.0 1305.2h1.5M354.6 1233.2h1.5"/><path stroke="#8c5045" stroke-width="1.5" fill="none" d="M325.7 1309.8h1.5M278.1 1293.9h1.5M252.4 1324.9h1.5M328.6 1275.6h1.5M341.0 1277.9h1.5M304.8 1292.1h1.5M359.2 1322.7h1.5M282.5 1328.1h1.5M324.9 1336.0h1.5M336.4 1231.1h1.5M282.3 1314.8h1.5M322.4 1283.7h1.5M372.9 1232.2h1.5M286.5 1261.8h1.5M353.2 1236.0h1.5M269.8 1342.0h1.5M313.7 1235.5h1.5M356.6 1332.3h1.5M351.0 1289.4h1.5M344.4 1296.0h1.5M348.3 1247.2h1.5M294.4 1304.1h1.5M281.4 1291.8h1.5M342.4 1226.5h1.5M332.3 1292.3h1.5M256.5 1344.1h1.5M309.4 1282.9h1.5M343.1 1230.6h1.5M266.0 1307.3h1.5M348.7 1231.0h1.5M258.8 1329.7h1.5M342.6 1273.2h1.5M350.1 1310.3h1.5M293.2 1258.1h1.5M358.2 1242.4h1.5M338.2 1243.5h1.5M280.2 1315.4h1.5M292.2 1331.9h1.5M306.6 1252.5h1.5M366.4 1223.8h1.5M353.2 1331.6h1.5M301.4 1289.9h1.5M333.3 1250.8h1.5M361.7 1296.5h1.5M319.2 1287.9h1.5M279.6 1324.6h1.5M357.5 1267.7h1.5M344.8 1306.0h1.5M358.1 1225.4h1.5M314.7 1295.0h1.5M282.3 1285.8h1.5M283.6 1290.1h1.5M323.1 1318.6h1.5M368.9 1235.4h1.5M290.2 1288.3h1.5M301.9 1332.6h1.5M356.9 1260.2h1.5M250.8 1307.8h1.5M324.7 1278.8h1.5M308.1 1323.3h1.5M265.2 1280.4h1.5M299.8 1247.8h1.5M300.9 1321.8h1.5M360.9 1224.5h1.5"/><path stroke="#2a7bb9" stroke-width="2" fill="none" d="M286.0 1323.6h2M377.1 1223.7h2M284.4 1321.8h2M295.9 1290.1h2M275.7 1324.6h2M299.2 1286.9h2M336.5 1310.0h2M362.4 1346.4h2M288.2 1326.4h2M313.4 1266.6h2M290.2 1326.3h2M345.5 1309.9h2M328.8 1352.3h2M337.8 1242.0h2M344.6 1326.7h2M317.4 1268.5h2"/><path stroke="#ece5c8" stroke-width="1" fill="none" d="M287.3 1249.2h1M259.5 1305.2h1M350.4 1336.8h1M251.3 1318.1h1M387.6 1215.5h1M302.2 1248.4h1M354.5 1301.8h1M341.1 1275.1h1M371.5 1214.5h1M272.8 1287.7h1M357.2 1319.7h1M359.3 1349.4h1M358.1 1314.9h1M342.3 1284.8h1M305.3 1262.8h1M329.3 1301.0h1M279.9 1299.6h1M325.0 1288.0h1"/><path stroke="#ece5c8" stroke-width="2" fill="none" d="M300.1 1325.6h2M282.7 1330.7h2M339.5 1241.2h2M323.3 1309.5h2M281.9 1281.9h2M304.3 1275.2h2M329.3 1295.1h2M254.1 1317.1h2M300.8 1275.3h2M292.3 1316.5h2M338.2 1343.0h2M380.4 1230.2h2M307.6 1254.6h2M263.6 1316.9h2M305.4 1286.2h2M281.6 1281.2h2M267.3 1298.7h2M304.7 1333.9h2M357.6 1329.2h2M291.9 1308.0h2M292.7 1320.9h2M256.6 1340.8h2M262.4 1332.7h2M272.5 1339.5h2M349.7 1343.3h2M329.2 1273.2h2M351.0 1349.6h2M316.1 1259.7h2"/><path stroke="#7a5ab0" stroke-width="2" fill="none" d="M345.5 1345.0h2M362.9 1274.9h2M340.9 1257.4h2M296.8 1328.4h2M293.2 1264.1h2M339.2 1250.3h2M301.1 1242.9h2M346.4 1241.4h2M355.9 1263.3h2M353.2 1333.7h2M292.9 1331.9h2M324.1 1230.6h2M341.7 1266.6h2M289.5 1328.8h2M289.5 1257.3h2M257.3 1300.6h2M334.0 1274.5h2M315.2 1287.3h2M280.0 1284.8h2M273.2 1312.5h2M362.5 1314.0h2M317.8 1307.9h2M343.1 1237.5h2M324.3 1245.2h2M349.5 1287.2h2M350.9 1282.2h2M355.9 1257.7h2M359.3 1271.6h2M345.0 1244.2h2M323.9 1350.7h2M276.5 1334.7h2M321.1 1287.4h2"/><path stroke="#cd77b6" stroke-width="1" fill="none" d="M272.4 1274.6h1M267.1 1324.7h1M298.5 1247.9h1M291.8 1274.1h1M257.9 1293.7h1M324.0 1291.9h1M348.3 1246.7h1M324.9 1280.3h1M331.3 1244.8h1M305.8 1234.9h1M346.6 1322.5h1M318.1 1303.6h1M379.4 1215.0h1M361.6 1345.1h1M354.5 1255.4h1M303.0 1255.4h1M286.4 1288.4h1M335.1 1329.9h1M343.2 1271.9h1M375.6 1228.4h1M366.8 1336.4h1M329.0 1285.1h1M329.7 1228.3h1M292.4 1282.3h1"/><path stroke="#8c5045" stroke-width="2" fill="none" d="M340.8 1262.5h2M255.8 1335.1h2M343.7 1221.0h2M270.6 1282.8h2M304.9 1250.2h2M356.0 1278.9h2M360.7 1328.2h2M261.3 1314.1h2M271.2 1338.1h2M350.3 1299.9h2M357.5 1317.6h2M357.8 1285.5h2M333.0 1283.8h2M366.1 1338.6h2M259.9 1341.0h2M299.0 1259.5h2M301.7 1265.2h2M341.1 1292.4h2M266.6 1277.8h2M358.8 1232.8h2M360.5 1353.4h2M275.5 1266.0h2M257.2 1341.2h2M302.4 1284.3h2M327.1 1270.3h2M348.7 1318.2h2M357.4 1300.2h2M328.0 1241.4h2M317.3 1264.9h2M263.9 1339.9h2M347.5 1301.7h2M274.6 1297.2h2M344.2 1303.4h2M364.6 1218.5h2M336.4 1311.3h2M315.7 1278.4h2M352.9 1333.2h2M300.7 1267.1h2M330.9 1256.6h2M340.4 1353.8h2M327.4 1291.9h2M346.7 1341.7h2M343.4 1284.5h2M344.0 1247.1h2M253.3 1306.7h2M343.5 1305.1h2M313.9 1307.1h2M376.6 1215.2h2M261.8 1339.0h2M266.5 1309.8h2M329.7 1304.1h2M291.8 1321.5h2M316.2 1252.7h2M299.4 1246.0h2"/><path stroke="#2a7bb9" stroke-width="1.5" fill="none" d="M258.0 1321.9h1.5M357.5 1243.3h1.5M295.5 1245.0h1.5M275.5 1317.4h1.5M355.1 1226.3h1.5M309.6 1255.1h1.5M329.4 1266.4h1.5M286.5 1336.0h1.5M285.9 1312.8h1.5M338.3 1234.1h1.5M295.7 1327.3h1.5M260.4 1302.3h1.5M326.9 1346.6h1.5M282.7 1322.8h1.5M348.7 1311.4h1.5M303.4 1301.7h1.5M296.1 1240.7h1.5M295.5 1332.2h1.5M363.6 1326.4h1.5M275.6 1283.9h1.5M351.8 1229.3h1.5M395.2 1211.8h1.5M258.3 1319.8h1.5M370.9 1238.4h1.5M252.1 1313.2h1.5M300.2 1268.2h1.5M356.5 1245.1h1.5M298.4 1330.5h1.5M248.1 1314.4h1.5"/><path stroke="#7a5ab0" stroke-width="1" fill="none" d="M356.9 1249.7h1M337.3 1315.8h1M315.3 1239.6h1M323.5 1294.8h1M344.8 1242.1h1M337.4 1244.4h1M309.3 1328.0h1M328.9 1302.3h1M261.9 1331.9h1M356.5 1248.1h1M288.8 1322.4h1M339.0 1259.0h1M314.0 1299.1h1M312.3 1281.8h1"/><path stroke="#7a5ab0" stroke-width="1.5" fill="none" d="M249.5 1324.0h1.5M283.7 1325.1h1.5M356.2 1292.4h1.5M309.8 1291.8h1.5M354.9 1312.1h1.5M341.9 1293.7h1.5M319.2 1260.0h1.5M349.8 1299.4h1.5M255.3 1331.5h1.5M271.2 1327.7h1.5M300.1 1284.5h1.5M299.5 1313.6h1.5M344.3 1286.8h1.5M323.9 1262.3h1.5M357.6 1298.9h1.5M281.5 1332.9h1.5M267.2 1292.4h1.5M362.4 1338.9h1.5M331.3 1341.4h1.5M274.4 1329.0h1.5M295.4 1252.3h1.5M324.8 1238.4h1.5M362.7 1353.4h1.5M307.4 1268.1h1.5M248.8 1322.0h1.5M300.0 1321.4h1.5M362.9 1312.7h1.5M280.0 1269.0h1.5M273.0 1270.3h1.5"/><path stroke="#8c5045" stroke-width="1" fill="none" d="M302.8 1274.0h1M262.5 1317.3h1M385.8 1221.3h1M311.6 1306.2h1M321.0 1298.1h1M321.4 1278.2h1M358.6 1314.8h1M342.2 1261.9h1M365.3 1223.9h1M371.0 1237.1h1M322.1 1259.8h1M300.8 1282.0h1M361.9 1294.4h1M326.1 1281.2h1M319.5 1232.4h1M296.3 1241.8h1M317.4 1230.2h1M305.3 1269.5h1M288.4 1279.1h1M312.8 1327.3h1M327.4 1305.1h1M334.1 1332.6h1M345.9 1347.3h1M324.8 1343.5h1M353.6 1292.3h1"/><path stroke="#2a7bb9" stroke-width="1" fill="none" d="M313.0 1293.9h1M345.9 1317.5h1M325.3 1322.2h1M376.0 1216.6h1M348.5 1263.1h1M265.9 1332.0h1M347.6 1266.8h1M263.7 1310.8h1M325.2 1253.6h1M250.8 1316.9h1M327.0 1302.2h1M360.4 1314.1h1M291.7 1326.1h1M335.6 1232.9h1M301.8 1273.0h1M303.1 1252.1h1M337.3 1337.0h1M343.2 1332.1h1M328.8 1276.4h1M275.0 1329.1h1M372.6 1225.4h1"/></g>
<g opacity="0.9"><path stroke="#ffffff" stroke-width="1.5" fill="none" d="M333.3 1323.0h1.5M322.7 1283.4h1.5M331.1 1243.2h1.5M354.2 1242.8h1.5M352.1 1337.3h1.5M324.4 1234.8h1.5M346.0 1233.9h1.5M333.0 1305.8h1.5M340.7 1271.1h1.5M359.2 1323.8h1.5M341.4 1288.5h1.5M326.9 1313.4h1.5M362.5 1238.6h1.5M372.7 1223.3h1.5M346.0 1256.8h1.5M328.5 1297.4h1.5M339.4 1277.1h1.5"/><path stroke="#4a9ac8" stroke-width="1.5" fill="none" d="M368.5 1231.4h1.5M334.2 1268.2h1.5M321.5 1287.3h1.5M340.1 1323.6h1.5M324.5 1288.3h1.5M338.5 1327.0h1.5M324.8 1285.0h1.5M353.0 1223.0h1.5M319.5 1304.0h1.5M355.2 1295.2h1.5M359.3 1274.2h1.5M333.5 1271.1h1.5M319.3 1277.9h1.5M352.5 1292.8h1.5M346.3 1284.0h1.5M347.9 1291.7h1.5M319.9 1285.8h1.5M328.9 1239.9h1.5M336.8 1337.3h1.5"/><path stroke="#ece5c8" stroke-width="1.5" fill="none" d="M326.8 1280.3h1.5M319.7 1309.0h1.5M326.2 1246.6h1.5M340.8 1339.9h1.5M355.2 1273.7h1.5M355.2 1293.8h1.5M356.1 1242.7h1.5M325.6 1307.0h1.5M358.4 1253.6h1.5M325.1 1291.3h1.5M345.3 1339.4h1.5M344.7 1286.8h1.5M354.6 1277.9h1.5M334.9 1334.8h1.5M338.1 1309.8h1.5M337.6 1277.2h1.5M362.0 1314.4h1.5M363.4 1232.6h1.5M339.2 1301.1h1.5M351.5 1236.5h1.5M358.0 1330.8h1.5M326.4 1273.3h1.5M359.5 1334.7h1.5M360.9 1312.4h1.5M357.4 1303.5h1.5M358.6 1267.2h1.5M332.7 1281.8h1.5M329.1 1290.0h1.5M332.0 1292.0h1.5M362.8 1238.7h1.5M355.6 1230.9h1.5M347.3 1279.0h1.5M355.9 1266.6h1.5M350.6 1338.6h1.5M355.5 1228.5h1.5M353.7 1310.4h1.5M315.2 1247.5h1.5M324.4 1249.9h1.5M363.5 1232.1h1.5M340.9 1257.4h1.5"/><path stroke="#4a9ac8" stroke-width="1" fill="none" d="M341.0 1291.3h1M336.1 1336.3h1M327.9 1271.9h1M318.8 1323.1h1M342.2 1237.2h1M339.3 1229.1h1M352.5 1293.7h1M357.4 1302.8h1M326.6 1248.1h1M329.5 1275.2h1M349.2 1318.5h1M350.1 1318.2h1M354.6 1337.6h1M339.9 1293.2h1M345.2 1335.9h1M352.9 1316.0h1M341.0 1333.8h1M359.8 1292.7h1"/><path stroke="#cd77b6" stroke-width="2" fill="none" d="M363.9 1260.1h2M327.7 1268.2h2M366.9 1232.7h2M330.5 1311.7h2M353.4 1337.2h2M356.7 1295.7h2M349.7 1331.2h2M332.8 1239.1h2M349.1 1267.8h2M340.2 1257.8h2M327.4 1312.3h2M344.2 1315.0h2M360.5 1279.1h2M331.2 1314.9h2M348.5 1234.1h2M350.0 1245.3h2M348.8 1252.1h2M344.3 1337.3h2M344.0 1254.5h2M323.2 1278.2h2M340.3 1312.5h2M350.3 1283.2h2M322.7 1267.1h2M364.7 1236.7h2"/><path stroke="#8c5045" stroke-width="1.5" fill="none" d="M356.5 1306.4h1.5M322.5 1282.2h1.5M354.6 1339.5h1.5M326.3 1247.0h1.5M355.7 1298.7h1.5M346.8 1255.5h1.5M329.5 1323.8h1.5M342.0 1334.5h1.5M339.2 1299.6h1.5M336.5 1242.8h1.5M359.3 1234.0h1.5M320.5 1284.6h1.5M353.4 1319.5h1.5M320.1 1270.8h1.5M328.0 1285.8h1.5M352.0 1319.6h1.5M327.0 1236.0h1.5M341.0 1236.3h1.5M349.2 1257.6h1.5M348.3 1231.9h1.5"/><path stroke="#2a7bb9" stroke-width="1.5" fill="none" d="M328.2 1291.3h1.5M329.4 1307.4h1.5M322.3 1334.9h1.5M322.0 1283.3h1.5M329.9 1303.3h1.5M341.8 1267.7h1.5M359.6 1224.6h1.5M354.0 1287.9h1.5M325.6 1283.3h1.5M336.3 1284.1h1.5M327.9 1290.7h1.5M335.6 1240.0h1.5M355.9 1290.6h1.5M326.2 1305.1h1.5M362.7 1235.0h1.5M328.2 1246.4h1.5M349.5 1290.9h1.5M327.4 1277.8h1.5M335.6 1310.4h1.5M322.8 1251.3h1.5M332.5 1259.6h1.5M333.1 1263.7h1.5M346.4 1312.8h1.5M351.1 1312.4h1.5M345.7 1289.5h1.5M359.0 1311.0h1.5M342.9 1230.2h1.5M344.7 1328.2h1.5M351.7 1335.1h1.5M318.7 1273.6h1.5M349.4 1333.7h1.5M350.3 1342.4h1.5M328.9 1252.1h1.5M321.7 1267.7h1.5M321.9 1276.8h1.5M321.4 1316.6h1.5M323.4 1296.1h1.5M334.7 1235.0h1.5M334.0 1293.8h1.5M321.9 1247.1h1.5M354.8 1251.8h1.5M350.3 1307.3h1.5M343.5 1321.5h1.5M343.8 1260.4h1.5M339.2 1275.2h1.5M360.4 1290.4h1.5M354.9 1315.6h1.5M362.3 1308.7h1.5M359.8 1272.8h1.5M360.4 1330.0h1.5M317.4 1267.6h1.5M318.2 1236.3h1.5M347.4 1311.4h1.5"/><path stroke="#ece5c8" stroke-width="2" fill="none" d="M343.1 1231.4h2M354.0 1289.6h2M343.4 1238.4h2M337.0 1245.2h2M357.9 1305.1h2M358.7 1256.7h2M334.6 1332.0h2M332.4 1341.5h2M355.2 1262.4h2M329.3 1242.0h2M325.1 1262.7h2M320.8 1246.7h2M320.4 1264.3h2M345.0 1275.3h2M348.6 1243.6h2M348.5 1225.5h2M343.2 1301.9h2M326.0 1261.2h2M341.4 1320.4h2M331.5 1316.3h2M353.7 1341.3h2M332.9 1301.3h2M321.9 1292.7h2M343.3 1349.1h2M349.4 1288.3h2M364.8 1237.0h2M330.9 1265.6h2M360.2 1270.2h2"/><path stroke="#ffffff" stroke-width="1" fill="none" d="M333.1 1237.0h1M327.9 1282.4h1M335.1 1234.7h1M341.8 1344.0h1M335.6 1329.2h1M356.8 1279.0h1M357.9 1332.1h1M348.6 1273.3h1M357.7 1266.6h1M353.2 1339.6h1M319.4 1305.5h1M332.0 1338.4h1"/><path stroke="#4a9ac8" stroke-width="2" fill="none" d="M334.9 1256.8h2M337.8 1317.4h2M319.2 1242.4h2M356.7 1340.5h2M339.5 1302.9h2M335.3 1304.3h2M355.7 1290.4h2M341.2 1299.0h2M342.5 1306.9h2M349.2 1291.4h2M370.2 1221.0h2M319.4 1269.4h2M325.5 1280.8h2M320.2 1301.4h2M362.5 1229.0h2M321.9 1336.2h2"/><path stroke="#8c5045" stroke-width="2" fill="none" d="M345.1 1305.6h2M337.5 1345.5h2M351.9 1225.5h2M356.2 1234.9h2M341.0 1347.0h2M365.6 1247.7h2M356.4 1333.9h2M315.2 1251.6h2M352.9 1285.0h2M323.1 1240.6h2M349.5 1237.1h2M333.8 1338.1h2M337.3 1245.5h2M349.1 1321.1h2M356.2 1320.0h2"/><path stroke="#ece5c8" stroke-width="1" fill="none" d="M314.0 1251.0h1M336.4 1263.2h1M349.3 1307.2h1M326.9 1259.2h1M365.4 1227.2h1M354.0 1314.0h1M346.9 1323.0h1M363.9 1241.5h1M327.8 1237.0h1M318.6 1284.3h1M330.1 1282.7h1M318.5 1276.0h1M362.6 1282.4h1M351.5 1292.1h1M318.1 1313.4h1M333.5 1262.1h1M327.8 1289.9h1M358.2 1264.0h1M347.4 1239.4h1"/><path stroke="#ffffff" stroke-width="2" fill="none" d="M320.3 1254.4h2M331.8 1326.8h2M341.9 1276.7h2M341.0 1342.0h2M371.8 1224.3h2M363.5 1224.2h2M337.3 1309.3h2M340.1 1286.2h2M314.2 1245.1h2M314.2 1272.7h2M321.9 1233.8h2M346.4 1300.9h2M360.1 1229.9h2M350.3 1225.9h2M350.3 1252.8h2M332.7 1278.3h2M351.7 1348.0h2M328.1 1310.0h2M352.5 1314.8h2"/><path stroke="#cd77b6" stroke-width="1" fill="none" d="M320.7 1292.3h1M351.5 1258.5h1M336.1 1246.4h1M344.1 1297.2h1M317.2 1324.1h1M332.4 1234.5h1M340.7 1240.0h1M356.3 1260.7h1M335.4 1335.3h1M332.5 1233.1h1M332.0 1261.2h1"/><path stroke="#2a7bb9" stroke-width="2" fill="none" d="M311.8 1258.0h2M366.8 1237.3h2M355.0 1252.7h2M352.8 1227.4h2M343.0 1310.2h2M367.3 1226.3h2M322.2 1264.3h2M357.6 1242.5h2M352.9 1330.9h2M333.6 1248.7h2M341.1 1338.0h2M353.1 1338.1h2M333.2 1231.7h2M352.0 1322.7h2M321.6 1260.3h2M320.3 1317.7h2M329.4 1250.7h2M339.4 1341.5h2M344.1 1253.8h2M316.8 1270.4h2M338.9 1296.4h2M325.1 1342.5h2M318.0 1251.5h2M337.3 1298.6h2M324.6 1252.4h2M357.7 1318.7h2M350.8 1256.3h2M327.9 1338.7h2M352.5 1230.5h2M338.8 1326.3h2M344.6 1309.2h2M342.3 1298.7h2M321.6 1235.3h2M354.4 1286.4h2"/><path stroke="#8c5045" stroke-width="1" fill="none" d="M344.0 1343.4h1M330.9 1323.8h1M338.2 1306.0h1M329.6 1287.4h1M347.9 1350.7h1M356.8 1279.1h1"/><path stroke="#cd77b6" stroke-width="1.5" fill="none" d="M344.0 1291.7h1.5M349.4 1296.8h1.5M360.0 1278.5h1.5M343.3 1291.4h1.5M345.4 1290.8h1.5M342.8 1313.5h1.5M326.4 1330.6h1.5M342.1 1344.9h1.5M341.6 1317.6h1.5M338.7 1269.5h1.5M365.9 1243.5h1.5M354.8 1312.5h1.5M315.0 1270.8h1.5M354.4 1257.8h1.5"/><path stroke="#2a7bb9" stroke-width="1" fill="none" d="M342.8 1275.7h1M332.0 1283.5h1M354.7 1297.8h1M335.2 1332.5h1M320.8 1324.9h1M328.1 1292.6h1M341.9 1259.3h1M339.6 1266.7h1M359.9 1289.4h1M334.3 1230.4h1M325.1 1333.5h1M327.5 1244.0h1M319.2 1275.7h1M335.0 1240.0h1M365.0 1259.8h1"/></g>
<g opacity="0.9"><path stroke="#8c5045" stroke-width="1.5" fill="none" d="M494.1 1298.4h1.5M468.4 1294.7h1.5M445.2 1313.0h1.5M478.2 1337.7h1.5M463.5 1340.4h1.5M453.8 1349.7h1.5M413.7 1309.3h1.5M480.7 1335.9h1.5M487.6 1315.4h1.5M458.8 1350.2h1.5M442.7 1289.2h1.5M442.4 1298.1h1.5M488.8 1332.6h1.5M476.8 1335.2h1.5M462.6 1302.0h1.5M490.7 1337.6h1.5M462.2 1353.3h1.5M469.9 1302.4h1.5M487.8 1278.3h1.5M456.9 1264.9h1.5M467.1 1318.3h1.5"/><path stroke="#cd77b6" stroke-width="2" fill="none" d="M449.2 1308.0h2M459.1 1338.6h2M462.8 1261.2h2M456.5 1305.6h2M468.2 1315.0h2M476.0 1268.5h2M426.8 1278.0h2M425.0 1337.8h2M444.5 1307.4h2M488.8 1309.0h2M492.6 1291.0h2M496.7 1340.7h2M433.9 1322.5h2M503.8 1324.4h2M438.9 1348.2h2M494.8 1338.5h2M483.7 1338.9h2"/><path stroke="#8c5045" stroke-width="1" fill="none" d="M476.7 1272.0h1M465.1 1360.2h1M438.3 1287.9h1M460.0 1341.5h1M471.0 1263.7h1M428.9 1337.2h1M420.7 1306.5h1M477.0 1337.6h1M486.4 1321.7h1M447.2 1258.7h1M438.2 1322.8h1M475.3 1323.6h1M466.0 1335.1h1M499.1 1339.5h1"/><path stroke="#cd77b6" stroke-width="1" fill="none" d="M485.7 1330.0h1M454.8 1288.3h1M502.0 1316.5h1M449.9 1288.6h1M438.6 1305.7h1M487.4 1301.0h1M450.1 1300.3h1M439.4 1341.4h1M430.6 1321.9h1M467.9 1319.0h1M505.6 1331.8h1M493.1 1317.3h1M456.4 1277.5h1M435.0 1266.2h1M455.8 1350.7h1M435.9 1278.1h1M474.5 1303.9h1M452.4 1351.1h1"/><path stroke="#ece5c8" stroke-width="1.5" fill="none" d="M457.1 1288.7h1.5M470.4 1281.8h1.5M428.5 1327.5h1.5M438.2 1319.1h1.5M458.8 1322.8h1.5M506.3 1326.7h1.5M442.4 1332.8h1.5M461.1 1272.7h1.5M424.5 1323.3h1.5M432.9 1308.8h1.5M425.5 1306.8h1.5M452.1 1294.9h1.5M456.0 1318.6h1.5M417.8 1324.3h1.5M434.2 1329.6h1.5M506.6 1327.5h1.5M478.3 1317.5h1.5M465.6 1351.8h1.5M490.8 1347.3h1.5M456.1 1321.1h1.5M475.0 1270.4h1.5M422.1 1313.8h1.5M433.9 1332.5h1.5M453.7 1310.5h1.5M447.8 1329.8h1.5M448.3 1302.6h1.5M482.8 1344.7h1.5M449.5 1333.3h1.5M503.2 1331.7h1.5M451.4 1258.6h1.5M486.0 1277.0h1.5M453.5 1338.7h1.5M493.3 1314.7h1.5M436.4 1329.8h1.5M480.9 1353.3h1.5M431.1 1338.9h1.5M435.1 1343.2h1.5M474.0 1313.7h1.5M423.9 1314.8h1.5M461.3 1299.2h1.5M490.9 1294.6h1.5M443.4 1329.9h1.5M445.9 1284.4h1.5M450.7 1342.3h1.5M419.3 1315.2h1.5M479.5 1300.0h1.5M422.2 1318.7h1.5M426.7 1293.8h1.5M447.6 1329.9h1.5M473.6 1277.8h1.5M491.5 1348.8h1.5M481.0 1281.2h1.5M508.5 1327.6h1.5"/><path stroke="#2a7bb9" stroke-width="1.5" fill="none" d="M486.7 1285.8h1.5M496.4 1319.8h1.5M441.4 1304.6h1.5M485.6 1275.4h1.5M489.4 1307.9h1.5M431.8 1291.7h1.5M484.2 1316.1h1.5M497.3 1312.2h1.5M443.0 1352.1h1.5M466.7 1340.2h1.5M480.2 1338.4h1.5M433.1 1338.6h1.5M442.8 1270.6h1.5M416.0 1317.9h1.5M470.8 1291.4h1.5M508.6 1336.2h1.5M474.5 1273.0h1.5M439.5 1305.9h1.5M501.4 1338.3h1.5M495.3 1318.2h1.5M438.2 1304.4h1.5M478.1 1338.8h1.5M439.3 1264.5h1.5M488.3 1310.4h1.5M457.5 1320.4h1.5M441.7 1295.7h1.5M435.1 1337.6h1.5M468.5 1336.1h1.5M485.4 1338.5h1.5M457.7 1257.7h1.5M499.4 1324.3h1.5M438.4 1309.3h1.5M461.6 1296.6h1.5M437.3 1277.3h1.5M457.1 1299.4h1.5M471.3 1333.5h1.5M445.7 1270.1h1.5M423.8 1332.7h1.5M477.6 1317.9h1.5M455.3 1329.4h1.5M460.3 1306.3h1.5M491.6 1337.7h1.5M486.6 1344.4h1.5M462.1 1351.6h1.5M437.5 1282.5h1.5M449.4 1307.3h1.5M437.7 1275.6h1.5M497.4 1327.3h1.5M461.1 1320.2h1.5M507.0 1317.2h1.5M439.2 1351.4h1.5"/><path stroke="#5aa0d0" stroke-width="2" fill="none" d="M449.5 1291.2h2M476.0 1334.8h2M433.4 1297.8h2M438.6 1288.2h2M456.4 1291.4h2M503.1 1326.1h2M480.4 1290.9h2M493.8 1332.3h2M462.3 1361.3h2M417.0 1303.5h2M443.6 1304.7h2M493.5 1308.3h2M444.8 1258.9h2M453.3 1315.2h2M481.9 1323.1h2M468.8 1326.8h2M465.8 1339.9h2M468.5 1291.8h2M491.8 1350.3h2M492.1 1316.9h2M506.5 1317.2h2M440.0 1264.1h2"/><path stroke="#8c5045" stroke-width="2" fill="none" d="M496.1 1289.6h2M466.4 1329.2h2M505.3 1326.5h2M485.9 1317.8h2M439.8 1280.2h2M452.4 1286.8h2M483.1 1278.4h2M492.3 1317.8h2M481.2 1285.8h2M479.1 1290.6h2M414.7 1309.1h2M486.4 1287.2h2M420.1 1305.7h2M463.9 1263.0h2M478.7 1288.6h2M470.4 1323.0h2M471.5 1278.0h2M456.2 1272.8h2M459.6 1270.9h2M465.1 1345.6h2M452.7 1327.5h2M454.5 1308.5h2M478.4 1325.2h2M440.1 1281.4h2M463.0 1262.9h2M448.2 1349.9h2M477.8 1342.9h2M416.5 1307.5h2"/><path stroke="#ece5c8" stroke-width="1" fill="none" d="M419.2 1312.3h1M466.9 1323.2h1M413.9 1314.2h1M443.6 1303.6h1M436.3 1294.9h1M425.1 1326.5h1M466.7 1314.2h1M466.2 1291.1h1M479.2 1334.8h1M478.0 1301.3h1M449.7 1321.9h1M465.2 1301.4h1M461.0 1310.0h1M460.0 1331.4h1M466.8 1323.4h1M475.9 1287.2h1M424.5 1323.4h1M427.7 1339.6h1M471.2 1356.5h1M460.3 1320.5h1M438.3 1342.2h1M454.9 1258.5h1M438.0 1264.5h1M439.8 1284.9h1M454.8 1331.8h1M489.8 1292.4h1M496.2 1326.9h1M432.4 1275.3h1M458.3 1346.5h1M490.2 1310.2h1"/><path stroke="#2a7bb9" stroke-width="1" fill="none" d="M473.0 1353.4h1M484.0 1284.9h1M498.9 1347.9h1M452.3 1301.3h1M443.7 1320.4h1M439.7 1304.7h1M494.1 1310.3h1M488.6 1285.5h1M454.5 1300.7h1M448.0 1291.4h1M446.8 1336.4h1M496.3 1317.2h1M448.2 1288.4h1M454.9 1304.8h1M433.4 1318.5h1M445.8 1273.2h1M454.7 1275.0h1M467.5 1276.0h1M421.8 1305.3h1M467.9 1270.6h1M468.1 1273.1h1M488.8 1353.9h1M504.2 1310.7h1M448.7 1347.7h1M482.6 1322.2h1M430.7 1327.2h1M504.8 1323.4h1M453.7 1346.2h1M440.1 1303.3h1M502.8 1314.4h1M420.9 1305.7h1M501.2 1319.6h1M485.9 1287.5h1M461.0 1326.0h1M416.1 1310.7h1M427.2 1292.7h1M487.2 1320.9h1M488.7 1348.7h1M460.8 1274.3h1"/><path stroke="#5aa0d0" stroke-width="1.5" fill="none" d="M495.7 1346.5h1.5M417.0 1320.1h1.5M428.7 1314.8h1.5M499.5 1343.2h1.5M449.8 1268.9h1.5M489.3 1356.3h1.5M437.1 1338.2h1.5M505.5 1325.5h1.5M430.4 1310.8h1.5M462.5 1288.3h1.5M463.4 1322.8h1.5M442.6 1297.5h1.5M509.3 1322.6h1.5M478.1 1279.2h1.5M433.0 1320.6h1.5M501.8 1299.2h1.5M446.0 1336.0h1.5M428.6 1286.3h1.5M450.6 1333.0h1.5M441.1 1262.0h1.5M417.4 1326.0h1.5M507.9 1336.4h1.5M493.9 1314.5h1.5"/><path stroke="#ece5c8" stroke-width="2" fill="none" d="M479.3 1348.9h2M476.4 1304.5h2M423.7 1330.8h2M498.5 1310.0h2M457.9 1342.9h2M443.6 1317.2h2M459.5 1274.6h2M460.1 1353.4h2M457.8 1279.1h2M495.2 1336.7h2M486.7 1278.5h2M464.3 1265.8h2M489.4 1303.2h2M463.9 1350.9h2M469.3 1342.4h2M458.2 1293.6h2M479.7 1359.1h2M472.4 1287.3h2M433.5 1333.2h2M483.5 1285.8h2M501.3 1307.8h2M445.2 1290.5h2M462.8 1296.1h2M492.8 1302.0h2M433.8 1270.7h2M475.9 1284.0h2M502.1 1297.9h2M486.8 1287.4h2M434.2 1285.8h2M429.0 1305.5h2M481.7 1307.6h2M469.5 1311.8h2M464.7 1337.6h2M461.2 1301.3h2M481.7 1293.8h2M465.8 1314.1h2M455.0 1276.3h2M424.4 1289.4h2M477.2 1336.8h2"/><path stroke="#cd77b6" stroke-width="1.5" fill="none" d="M481.7 1289.0h1.5M481.7 1294.4h1.5M432.2 1285.5h1.5M456.5 1271.4h1.5M474.1 1278.1h1.5M496.8 1343.9h1.5M488.2 1336.4h1.5M458.2 1286.4h1.5M444.1 1332.2h1.5M454.1 1269.2h1.5M461.3 1307.4h1.5M477.9 1286.4h1.5M453.8 1278.7h1.5M484.0 1302.6h1.5M477.7 1307.9h1.5M498.0 1313.7h1.5M448.3 1312.4h1.5M472.2 1281.7h1.5M496.6 1334.8h1.5M444.3 1354.3h1.5M498.6 1342.5h1.5M442.1 1311.3h1.5M479.2 1291.6h1.5M468.7 1324.4h1.5M454.3 1290.3h1.5M425.0 1290.3h1.5M444.9 1353.2h1.5M443.0 1338.2h1.5M481.3 1343.3h1.5"/><path stroke="#2a7bb9" stroke-width="2" fill="none" d="M486.6 1327.4h2M456.2 1275.6h2M482.6 1343.4h2M490.3 1339.0h2M502.9 1310.9h2M480.8 1349.4h2M438.2 1323.0h2M449.6 1272.0h2M417.0 1301.1h2M439.8 1284.6h2M419.1 1310.0h2M494.6 1324.8h2M437.0 1322.6h2M465.0 1300.8h2M460.7 1351.8h2M479.9 1303.0h2M445.5 1347.0h2M447.0 1295.4h2M471.3 1306.3h2M417.7 1302.1h2M471.7 1341.1h2M438.2 1311.5h2M459.5 1334.7h2M474.1 1306.7h2M480.4 1281.8h2M441.7 1349.6h2M426.5 1332.0h2M442.6 1306.2h2M465.7 1317.4h2M483.6 1282.0h2M427.8 1276.1h2M454.4 1324.2h2M464.1 1351.7h2M480.4 1281.2h2M494.5 1286.8h2M428.9 1303.3h2M431.7 1340.1h2M439.9 1299.2h2M457.0 1360.8h2M464.0 1348.7h2M450.8 1294.8h2M494.3 1341.0h2M437.0 1310.6h2"/><path stroke="#5aa0d0" stroke-width="1" fill="none" d="M477.0 1335.0h1M423.6 1297.6h1M479.4 1343.9h1M481.7 1270.9h1M493.5 1296.8h1M495.8 1317.9h1M465.7 1297.4h1M455.3 1273.8h1M489.9 1298.2h1M484.7 1296.7h1M439.2 1336.0h1M451.7 1347.1h1M444.9 1278.0h1M436.7 1334.4h1M492.1 1308.1h1M493.5 1352.3h1M437.7 1279.5h1M437.7 1335.3h1M447.8 1307.0h1M459.3 1264.8h1M494.2 1303.2h1M441.4 1304.6h1M486.5 1292.4h1"/></g>
<path stroke="#c060a8" stroke-width="1.5" fill="none" d="M245.5 1576.0h1.5M182.3 1583.6h1.5M218.2 1576.4h1.5M217.7 1576.3h1.5M230.5 1573.3h1.5M179.3 1581.6h1.5M165.9 1590.0h1.5M166.8 1593.5h1.5M205.5 1581.0h1.5M161.1 1589.0h1.5M185.2 1580.1h1.5M196.5 1579.2h1.5M223.5 1576.4h1.5M235.9 1571.1h1.5M172.3 1589.0h1.5M186.7 1583.5h1.5M163.6 1593.3h1.5M228.7 1567.6h1.5M195.0 1577.4h1.5M201.9 1580.2h1.5M201.7 1578.4h1.5M184.2 1588.6h1.5M240.2 1573.1h1.5M185.4 1584.7h1.5M203.8 1582.6h1.5M177.6 1583.9h1.5M160.4 1588.6h1.5"/><path stroke="#cd77b6" stroke-width="1.5" fill="none" d="M169.9 1586.0h1.5M172.7 1583.3h1.5M243.8 1566.6h1.5M157.5 1590.5h1.5M222.8 1571.3h1.5M232.4 1571.3h1.5M241.2 1569.6h1.5M250.5 1564.6h1.5M203.2 1578.9h1.5M231.9 1575.0h1.5M223.1 1570.2h1.5M228.9 1562.6h1.5M190.1 1574.1h1.5M203.7 1579.9h1.5M243.9 1575.7h1.5M223.0 1571.0h1.5"/><path stroke="#9a5aa8" stroke-width="1.5" fill="none" d="M180.7 1580.9h1.5M201.4 1584.6h1.5M211.9 1581.8h1.5M216.3 1576.4h1.5M215.2 1567.9h1.5M169.8 1590.8h1.5M167.3 1591.8h1.5M188.7 1583.1h1.5M214.6 1580.7h1.5M243.5 1569.8h1.5M194.6 1592.1h1.5M161.8 1596.4h1.5M197.8 1575.8h1.5M195.3 1577.5h1.5M163.3 1591.3h1.5M170.8 1593.4h1.5M234.7 1572.7h1.5M175.7 1592.0h1.5M184.6 1589.0h1.5M189.9 1577.1h1.5M203.5 1581.2h1.5M184.8 1586.9h1.5M176.9 1582.7h1.5M186.1 1588.1h1.5"/><path stroke="#9a5aa8" stroke-width="1" fill="none" d="M242.6 1571.8h1M181.2 1591.2h1M207.7 1573.0h1M198.6 1578.8h1M162.7 1585.3h1M182.5 1582.6h1M179.8 1576.9h1M241.9 1562.3h1M170.0 1588.1h1M176.2 1592.4h1M199.3 1584.4h1M179.6 1584.7h1M179.7 1589.4h1M206.0 1579.4h1M197.3 1581.0h1M254.0 1565.4h1"/><path stroke="#c060a8" stroke-width="2" fill="none" d="M216.8 1579.6h2M250.0 1566.9h2M200.1 1580.3h2M227.0 1569.6h2M201.9 1573.5h2M243.7 1564.8h2M228.4 1574.1h2M185.9 1589.8h2M166.8 1591.1h2M215.4 1573.0h2M201.1 1580.2h2M253.0 1567.5h2M204.1 1580.0h2M242.2 1570.0h2M241.6 1572.6h2M181.5 1578.6h2M240.6 1572.0h2M188.5 1587.5h2M191.9 1581.6h2M238.6 1570.6h2M204.2 1579.6h2"/><path stroke="#c060a8" stroke-width="1" fill="none" d="M208.9 1575.0h1M189.4 1581.8h1M223.5 1561.1h1M160.6 1593.3h1M225.9 1571.8h1M196.5 1583.7h1M213.8 1573.0h1M227.5 1571.7h1M235.4 1575.1h1M238.6 1563.4h1M185.5 1587.4h1M182.4 1588.6h1M204.7 1583.1h1M253.1 1567.8h1"/><path stroke="#cd77b6" stroke-width="2" fill="none" d="M228.7 1574.3h2M227.2 1560.5h2M238.5 1571.3h2M189.5 1586.6h2M216.7 1575.1h2M161.0 1592.8h2M180.6 1585.1h2M222.3 1573.2h2M239.9 1563.4h2M161.2 1589.1h2M220.2 1577.2h2M205.1 1586.6h2M223.9 1581.5h2M219.1 1578.5h2"/><path stroke="#9a5aa8" stroke-width="2" fill="none" d="M206.1 1575.7h2M242.3 1572.5h2M188.7 1584.9h2M172.5 1586.9h2M226.7 1572.7h2M246.0 1573.3h2M184.4 1587.7h2M168.6 1588.5h2M180.9 1586.4h2M170.9 1587.0h2"/><path stroke="#cd77b6" stroke-width="1" fill="none" d="M196.8 1566.0h1M216.8 1576.6h1M161.7 1590.9h1M241.8 1569.7h1M218.2 1580.7h1M187.5 1590.6h1M207.2 1577.9h1M193.9 1578.4h1"/>
<path stroke="#7a5ab0" stroke-width="1" fill="none" d="M58.7 1438.7h1M107.1 1435.1h1M90.4 1428.0h1M79.2 1430.1h1M88.5 1428.6h1M59.2 1431.3h1M78.8 1431.3h1M118.5 1424.8h1M114.7 1431.7h1M99.1 1427.8h1M98.0 1437.6h1"/><path stroke="#2a7bb9" stroke-width="2" fill="none" d="M122.2 1430.4h2M50.6 1433.6h2M105.2 1432.4h2M131.6 1434.5h2M88.8 1431.3h2M114.8 1424.7h2M82.9 1435.0h2M116.9 1434.3h2M113.1 1428.7h2M81.3 1438.9h2M98.9 1438.2h2M127.0 1442.0h2M52.3 1434.2h2M109.1 1436.1h2M66.6 1428.3h2M130.5 1438.8h2M110.4 1427.4h2M97.2 1438.5h2M57.5 1434.9h2M129.6 1436.6h2M116.9 1433.9h2M80.5 1427.7h2M65.6 1425.6h2M108.8 1431.2h2M104.3 1432.2h2M101.3 1427.0h2M63.6 1439.0h2M132.9 1434.2h2"/><path stroke="#2a7bb9" stroke-width="1" fill="none" d="M93.9 1432.6h1M98.9 1434.6h1M47.0 1433.2h1M91.9 1431.2h1M130.0 1431.5h1M126.9 1435.5h1M70.7 1432.2h1M92.9 1428.9h1M72.2 1433.2h1M52.1 1432.2h1M67.3 1438.7h1"/><path stroke="#cd77b6" stroke-width="1.5" fill="none" d="M68.7 1431.1h1.5M131.2 1426.8h1.5M92.9 1434.4h1.5M119.5 1435.1h1.5M45.8 1441.1h1.5M83.5 1431.7h1.5M118.8 1429.5h1.5M52.8 1432.9h1.5M89.2 1431.7h1.5M102.5 1430.9h1.5M54.8 1435.9h1.5M49.9 1427.5h1.5M106.4 1434.4h1.5M95.6 1434.3h1.5M130.5 1431.9h1.5M98.8 1428.4h1.5"/><path stroke="#7a5ab0" stroke-width="2" fill="none" d="M89.6 1420.9h2M72.7 1431.2h2M127.8 1421.6h2M72.3 1427.7h2M86.3 1424.0h2M80.2 1429.1h2M70.1 1427.3h2M105.6 1431.2h2M103.7 1430.0h2M62.8 1444.0h2M118.2 1426.2h2M130.7 1431.7h2"/><path stroke="#cd77b6" stroke-width="1" fill="none" d="M132.3 1426.8h1M123.2 1430.6h1M82.6 1436.4h1M60.0 1431.7h1M119.7 1432.1h1M87.0 1425.0h1M61.8 1427.0h1M93.8 1435.9h1"/><path stroke="#7a5ab0" stroke-width="1.5" fill="none" d="M47.7 1441.6h1.5M85.5 1431.5h1.5M120.3 1422.2h1.5M96.1 1429.0h1.5M99.2 1426.5h1.5M68.4 1431.1h1.5M127.8 1439.5h1.5M77.6 1430.3h1.5M136.4 1426.2h1.5M125.8 1425.7h1.5M118.9 1430.5h1.5M72.6 1433.8h1.5M132.5 1433.1h1.5M111.6 1432.8h1.5M104.9 1433.3h1.5M95.5 1433.3h1.5M93.8 1433.3h1.5M94.2 1427.6h1.5M74.4 1435.7h1.5"/><path stroke="#2a7bb9" stroke-width="1.5" fill="none" d="M130.1 1432.6h1.5M127.2 1429.2h1.5M74.9 1436.1h1.5M99.2 1431.9h1.5M127.4 1424.7h1.5M125.4 1428.0h1.5M76.3 1429.3h1.5M87.9 1426.1h1.5M107.7 1439.0h1.5M56.6 1427.4h1.5M82.2 1422.9h1.5M117.8 1426.8h1.5M124.1 1444.5h1.5M59.8 1432.9h1.5M83.3 1430.3h1.5M86.8 1428.9h1.5"/><path stroke="#cd77b6" stroke-width="2" fill="none" d="M130.7 1430.3h2M67.2 1440.5h2M124.3 1432.2h2M75.8 1433.0h2M89.4 1434.6h2M63.6 1427.6h2M103.8 1428.3h2M114.3 1443.6h2M94.2 1434.7h2M114.9 1440.8h2M73.2 1437.3h2M67.2 1434.9h2M41.3 1438.2h2M118.4 1428.7h2M111.9 1434.3h2M63.7 1430.2h2M86.1 1432.8h2M58.4 1429.9h2M83.5 1428.9h2"/>
<path stroke="#c060a8" stroke-width="1.5" fill="none" d="M236.0 1463.9h1.5M236.0 1519.2h1.5M229.0 1449.1h1.5M237.3 1533.2h1.5M235.0 1455.5h1.5M236.8 1538.0h1.5M232.4 1426.5h1.5M230.1 1432.7h1.5M235.7 1507.8h1.5M231.0 1529.0h1.5M235.8 1456.5h1.5M234.8 1472.3h1.5M239.7 1515.4h1.5M234.7 1524.6h1.5M234.6 1518.3h1.5"/><path stroke="#7a5ab0" stroke-width="2" fill="none" d="M234.1 1492.2h2M234.2 1503.7h2M236.6 1496.6h2M231.3 1415.1h2M233.0 1527.1h2M230.1 1498.3h2M236.6 1503.8h2M234.1 1417.7h2M236.9 1530.5h2M228.1 1444.8h2M235.0 1513.3h2M235.9 1511.6h2M231.5 1526.8h2M239.5 1415.4h2M235.7 1532.1h2"/><path stroke="#cd77b6" stroke-width="1.5" fill="none" d="M237.0 1499.5h1.5M235.6 1522.0h1.5M235.1 1498.2h1.5M234.1 1440.5h1.5M237.5 1431.0h1.5M238.0 1488.8h1.5M234.1 1430.3h1.5M232.6 1483.1h1.5M234.2 1522.1h1.5M232.6 1548.5h1.5M232.5 1439.1h1.5M230.2 1407.9h1.5M237.2 1407.2h1.5M234.1 1503.3h1.5M235.9 1499.4h1.5M233.3 1507.7h1.5M234.0 1454.5h1.5M235.9 1471.6h1.5"/><path stroke="#cd77b6" stroke-width="1" fill="none" d="M230.4 1407.8h1M233.8 1424.7h1M235.2 1506.8h1M235.1 1536.4h1M233.6 1451.0h1M230.5 1460.9h1M230.2 1523.2h1M234.2 1450.3h1M231.8 1415.3h1M232.2 1525.5h1M236.1 1480.9h1M233.1 1406.4h1"/><path stroke="#cd77b6" stroke-width="2" fill="none" d="M233.6 1472.6h2M236.1 1443.7h2M229.2 1416.7h2M232.3 1540.2h2M233.7 1459.8h2M238.0 1488.8h2M234.1 1459.2h2M234.3 1510.6h2M231.5 1410.4h2M236.0 1496.6h2M233.5 1449.6h2M229.5 1408.3h2M237.2 1495.9h2M236.4 1454.2h2"/><path stroke="#7a5ab0" stroke-width="1" fill="none" d="M228.6 1428.5h1M231.5 1477.5h1M235.0 1486.6h1M235.2 1522.1h1M233.9 1454.0h1M234.1 1504.6h1M237.3 1519.9h1M231.4 1420.6h1M229.4 1487.2h1M231.9 1425.2h1M238.4 1524.6h1"/><path stroke="#c060a8" stroke-width="2" fill="none" d="M233.5 1438.9h2M237.2 1543.5h2M232.8 1443.0h2M233.9 1432.1h2M231.4 1431.0h2M231.4 1437.3h2M232.0 1509.5h2M233.1 1463.1h2M237.2 1518.0h2M232.0 1515.2h2M234.4 1494.2h2M235.9 1458.4h2M232.7 1476.2h2M238.2 1495.1h2M236.8 1546.0h2M234.4 1456.7h2M236.7 1543.3h2M234.8 1464.4h2M234.8 1528.7h2M230.6 1416.6h2"/><path stroke="#7a5ab0" stroke-width="1.5" fill="none" d="M232.9 1508.1h1.5M233.4 1499.6h1.5M236.0 1505.1h1.5M231.9 1466.2h1.5M228.9 1409.3h1.5M233.8 1417.5h1.5M235.7 1496.6h1.5M233.8 1452.4h1.5M235.7 1510.0h1.5M233.0 1517.3h1.5M229.6 1438.9h1.5M234.2 1412.4h1.5M236.0 1491.3h1.5M235.3 1505.6h1.5M238.3 1520.9h1.5M232.3 1439.8h1.5M235.4 1452.2h1.5M237.1 1510.6h1.5M229.5 1465.1h1.5M232.0 1503.4h1.5M234.9 1512.8h1.5"/><path stroke="#c060a8" stroke-width="1" fill="none" d="M242.6 1543.8h1M234.1 1434.8h1M233.2 1504.5h1M231.2 1451.4h1"/>
<path stroke="#cd77b6" stroke-width="1.5" fill="none" d="M161.5 1557.4h1.5M146.8 1480.3h1.5M153.2 1513.1h1.5M157.9 1547.3h1.5M147.1 1479.8h1.5M150.5 1506.3h1.5M160.0 1564.5h1.5M146.3 1498.9h1.5M145.7 1491.5h1.5M144.0 1452.7h1.5M144.6 1480.7h1.5M154.2 1532.7h1.5"/><path stroke="#cd77b6" stroke-width="2" fill="none" d="M153.5 1534.1h2M155.1 1568.9h2M161.3 1558.2h2M149.2 1477.8h2M164.7 1567.1h2M163.2 1576.4h2M163.8 1578.9h2M158.6 1560.3h2M146.3 1461.2h2M163.3 1577.3h2M153.8 1528.9h2M144.7 1488.5h2"/><path stroke="#7a5ab0" stroke-width="1" fill="none" d="M154.9 1523.7h1M143.6 1457.7h1M151.1 1524.7h1M159.1 1561.9h1M153.7 1528.6h1M154.0 1524.0h1M145.0 1492.4h1"/><path stroke="#2a7bb9" stroke-width="1" fill="none" d="M155.2 1520.9h1M144.3 1485.1h1M152.6 1524.3h1M153.5 1535.5h1M164.3 1576.8h1M144.3 1481.0h1M149.5 1505.9h1M154.2 1535.5h1M158.1 1553.6h1M156.7 1516.8h1M155.2 1550.8h1"/><path stroke="#7a5ab0" stroke-width="1.5" fill="none" d="M145.0 1449.3h1.5M154.0 1552.9h1.5M148.3 1478.8h1.5M157.6 1561.0h1.5M164.1 1575.5h1.5M158.2 1567.6h1.5M144.8 1473.3h1.5M152.1 1530.9h1.5M143.5 1465.4h1.5M162.3 1566.3h1.5M147.8 1464.2h1.5M159.9 1552.7h1.5M146.7 1476.3h1.5M147.0 1484.2h1.5M144.0 1463.8h1.5M160.1 1553.6h1.5M154.1 1560.2h1.5M150.0 1518.5h1.5"/><path stroke="#2a7bb9" stroke-width="1.5" fill="none" d="M155.4 1531.1h1.5M156.1 1520.8h1.5M143.1 1453.8h1.5M152.4 1501.0h1.5M154.8 1515.8h1.5M155.0 1536.4h1.5M160.5 1548.0h1.5M147.1 1505.4h1.5M159.4 1568.7h1.5M158.1 1538.9h1.5M149.2 1526.8h1.5M157.3 1550.0h1.5M151.4 1507.7h1.5M157.8 1562.3h1.5M156.2 1532.4h1.5M145.5 1473.1h1.5M152.5 1539.9h1.5M147.1 1499.1h1.5M142.9 1472.5h1.5M159.8 1556.3h1.5"/><path stroke="#2a7bb9" stroke-width="2" fill="none" d="M149.3 1492.3h2M151.7 1505.8h2M155.6 1548.5h2M158.8 1542.0h2M158.5 1536.4h2M153.2 1531.4h2M163.7 1576.1h2M156.0 1566.4h2M149.6 1500.5h2M155.9 1534.8h2M158.8 1574.2h2M161.3 1554.2h2M154.0 1528.1h2M161.4 1571.4h2M154.8 1538.6h2M154.4 1498.9h2M148.7 1474.2h2"/><path stroke="#7a5ab0" stroke-width="2" fill="none" d="M147.9 1482.0h2M153.3 1513.9h2M140.5 1462.2h2M153.5 1512.8h2M160.4 1562.4h2M162.6 1572.3h2M142.4 1455.7h2M154.2 1525.6h2"/><path stroke="#cd77b6" stroke-width="1" fill="none" d="M157.8 1553.8h1M164.0 1563.9h1M147.8 1471.5h1M151.4 1513.8h1M154.6 1518.8h1"/>
<path stroke="#cd77b6" stroke-width="1" fill="none" d="M112.0 1293.5h1M89.4 1293.5h1"/><path stroke="#8c5045" stroke-width="1" fill="none" d="M103.3 1290.6h1M127.7 1283.3h1M133.5 1282.3h1M126.6 1292.3h1M142.9 1281.6h1M114.9 1287.3h1M127.1 1283.0h1"/><path stroke="#8c5045" stroke-width="2" fill="none" d="M109.2 1288.9h2M63.8 1298.9h2M112.2 1289.2h2M142.9 1282.8h2M126.6 1280.2h2M86.5 1292.2h2M116.3 1287.3h2M139.6 1281.3h2M91.1 1293.8h2"/><path stroke="#8c5045" stroke-width="1.5" fill="none" d="M72.0 1301.1h1.5M135.9 1287.3h1.5M128.3 1291.8h1.5M81.2 1297.3h1.5M92.1 1291.7h1.5M65.2 1307.0h1.5M76.2 1299.3h1.5M59.2 1301.5h1.5M116.3 1287.6h1.5M68.0 1298.1h1.5M104.4 1293.1h1.5M114.3 1289.6h1.5M142.5 1276.6h1.5"/><path stroke="#cd77b6" stroke-width="2" fill="none" d="M110.3 1289.5h2M61.1 1299.3h2M88.8 1296.4h2M93.3 1290.1h2M145.9 1287.4h2M115.2 1288.1h2M121.7 1285.9h2M107.9 1292.1h2M60.9 1297.3h2"/><path stroke="#7a4a40" stroke-width="2" fill="none" d="M101.8 1291.2h2M137.0 1284.8h2M60.3 1299.2h2M140.7 1283.7h2M73.7 1299.6h2M81.4 1301.1h2M92.5 1296.6h2M88.2 1301.0h2M106.0 1287.1h2"/><path stroke="#cd77b6" stroke-width="1.5" fill="none" d="M82.7 1297.5h1.5M81.8 1292.9h1.5M138.8 1283.9h1.5M135.3 1279.9h1.5M80.9 1298.0h1.5M95.7 1294.9h1.5M92.3 1291.6h1.5M101.8 1290.3h1.5M128.8 1288.9h1.5M106.4 1289.2h1.5M99.2 1292.6h1.5"/><path stroke="#7a4a40" stroke-width="1" fill="none" d="M66.1 1301.8h1M86.5 1295.2h1M109.8 1293.3h1M118.4 1285.0h1M136.1 1283.5h1M117.1 1289.1h1"/><path stroke="#7a4a40" stroke-width="1.5" fill="none" d="M81.3 1293.8h1.5M108.5 1286.2h1.5M70.1 1297.2h1.5M147.8 1281.6h1.5M79.3 1292.3h1.5M101.5 1292.0h1.5M119.8 1286.8h1.5M121.5 1292.0h1.5M116.7 1288.3h1.5M82.9 1295.3h1.5M100.3 1291.9h1.5M110.7 1289.1h1.5M107.8 1290.4h1.5M114.9 1289.2h1.5"/>
<g opacity="0.85"><path stroke="#2a7bb9" stroke-width="1.5" fill="none" d="M221.3 1354.7h1.5M187.4 1385.4h1.5M213.0 1376.2h1.5M202.0 1376.0h1.5M183.2 1370.2h1.5M173.2 1383.1h1.5M204.4 1361.4h1.5M211.3 1388.5h1.5M173.5 1373.5h1.5M198.2 1355.2h1.5M179.1 1389.2h1.5M216.6 1373.8h1.5"/><path stroke="#cd77b6" stroke-width="1" fill="none" d="M170.0 1366.5h1M196.1 1382.1h1M216.0 1376.9h1M177.9 1356.2h1M217.4 1388.2h1M182.8 1379.4h1M211.7 1366.2h1M167.7 1355.0h1M211.4 1353.4h1M188.0 1366.7h1M209.1 1381.0h1M188.3 1381.4h1"/><path stroke="#cd77b6" stroke-width="1.5" fill="none" d="M198.8 1354.6h1.5M219.5 1371.4h1.5M166.4 1381.4h1.5M170.5 1354.8h1.5M167.0 1361.5h1.5M184.7 1370.4h1.5M166.7 1381.7h1.5M211.6 1356.1h1.5M168.9 1363.4h1.5M224.2 1375.3h1.5M166.6 1376.4h1.5M175.3 1361.4h1.5M170.9 1367.9h1.5M172.9 1366.9h1.5M212.1 1356.4h1.5M191.0 1362.7h1.5M229.6 1360.8h1.5M223.3 1386.5h1.5"/><path stroke="#8c5045" stroke-width="1" fill="none" d="M175.1 1361.5h1M219.1 1386.2h1M219.1 1361.3h1M229.0 1379.3h1M204.8 1382.6h1M205.4 1357.0h1M191.7 1361.5h1"/><path stroke="#7a5ab0" stroke-width="1" fill="none" d="M171.5 1371.8h1M212.9 1374.6h1M219.9 1367.0h1M171.0 1391.0h1M200.2 1367.6h1M193.2 1364.0h1M179.6 1355.6h1M214.1 1387.6h1M179.6 1383.4h1M179.5 1364.9h1M210.0 1376.5h1M175.0 1374.2h1M227.8 1382.1h1M188.6 1358.7h1M193.9 1367.5h1"/><path stroke="#8c5045" stroke-width="1.5" fill="none" d="M216.4 1364.3h1.5M167.3 1389.4h1.5M223.6 1359.5h1.5M227.8 1380.8h1.5M167.3 1367.5h1.5M222.3 1380.6h1.5M205.6 1367.3h1.5M210.6 1381.4h1.5M184.7 1355.8h1.5"/><path stroke="#ece5c8" stroke-width="1" fill="none" d="M166.9 1384.5h1M196.3 1363.6h1M225.3 1387.3h1M203.8 1385.7h1M181.5 1374.5h1M177.4 1362.8h1M183.0 1392.3h1M170.1 1380.0h1M207.1 1368.4h1"/><path stroke="#7a5ab0" stroke-width="1.5" fill="none" d="M173.3 1378.6h1.5M210.4 1371.4h1.5M168.7 1377.3h1.5M198.6 1380.1h1.5M194.3 1361.2h1.5M225.7 1379.7h1.5M222.4 1370.2h1.5M169.7 1386.7h1.5M212.8 1354.2h1.5M224.8 1376.1h1.5"/><path stroke="#2a7bb9" stroke-width="1" fill="none" d="M212.8 1364.2h1M165.7 1366.5h1M201.7 1356.8h1M191.8 1357.2h1M190.4 1387.8h1M178.4 1392.3h1M206.5 1385.7h1"/><path stroke="#ece5c8" stroke-width="1.5" fill="none" d="M228.2 1370.6h1.5M189.4 1357.8h1.5M192.3 1358.5h1.5M186.8 1381.5h1.5M179.8 1375.0h1.5M186.8 1367.9h1.5M197.0 1384.2h1.5M174.3 1390.6h1.5M210.6 1388.3h1.5"/><path stroke="#cd77b6" stroke-width="2" fill="none" d="M178.6 1376.1h2"/><path stroke="#8c5045" stroke-width="2" fill="none" d="M213.6 1384.0h2"/></g>
<path stroke="#cd77b6" stroke-width="1.5" fill="none" d="M399.4 1322.8h1.5M368.7 1315.7h1.5M391.8 1320.2h1.5M373.4 1319.9h1.5M396.1 1317.3h1.5M388.7 1330.5h1.5M364.4 1316.3h1.5M398.8 1315.9h1.5"/><path stroke="#ece5c8" stroke-width="1.5" fill="none" d="M391.4 1320.2h1.5M405.1 1321.7h1.5M408.0 1319.6h1.5M393.5 1320.4h1.5M368.1 1312.9h1.5M371.0 1313.8h1.5M405.6 1320.7h1.5M419.9 1321.4h1.5M396.6 1321.9h1.5M396.0 1319.3h1.5"/><path stroke="#8c5045" stroke-width="1" fill="none" d="M401.9 1322.1h1M411.7 1308.2h1M405.1 1321.5h1M372.0 1315.0h1M373.3 1313.3h1M385.4 1312.9h1"/><path stroke="#2a7bb9" stroke-width="1.5" fill="none" d="M415.8 1326.7h1.5M414.8 1313.4h1.5M400.1 1318.7h1.5M415.4 1306.6h1.5M384.4 1325.4h1.5"/><path stroke="#cd77b6" stroke-width="1" fill="none" d="M372.4 1312.1h1M384.4 1312.8h1M404.5 1322.5h1M418.7 1321.5h1M380.9 1315.3h1M405.7 1320.0h1M386.7 1316.6h1M376.7 1315.2h1"/><path stroke="#2a7bb9" stroke-width="2" fill="none" d="M385.0 1323.3h2M403.3 1319.4h2"/><path stroke="#2a7bb9" stroke-width="1" fill="none" d="M399.7 1316.8h1M401.4 1326.1h1M377.1 1318.4h1M395.8 1313.1h1M396.4 1324.1h1M408.1 1317.3h1"/><path stroke="#ece5c8" stroke-width="1" fill="none" d="M375.3 1312.1h1M403.4 1324.2h1M388.7 1321.9h1M409.3 1321.3h1M377.9 1323.6h1M411.3 1322.6h1M405.9 1320.4h1"/><path stroke="#8c5045" stroke-width="1.5" fill="none" d="M362.4 1317.9h1.5M381.4 1319.4h1.5M392.0 1321.5h1.5M388.6 1323.8h1.5"/><path stroke="#8c5045" stroke-width="2" fill="none" d="M404.3 1319.7h2M391.2 1314.9h2M371.1 1316.7h2"/><path stroke="#cd77b6" stroke-width="2" fill="none" d="M400.9 1318.5h2"/>
<path stroke="#8c5045" stroke-width="1.5" fill="none" d="M357.9 1340.5h1.5M362.5 1341.5h1.5M360.0 1339.0h1.5M356.4 1335.3h1.5M354.9 1337.9h1.5M363.2 1339.1h1.5M358.0 1334.5h1.5M371.0 1349.7h1.5M371.6 1351.5h1.5M349.7 1331.8h1.5"/><path stroke="#7a3a30" stroke-width="1.5" fill="none" d="M361.8 1343.3h1.5M363.3 1340.4h1.5M353.9 1328.8h1.5M369.6 1345.2h1.5M359.8 1337.6h1.5M356.2 1336.6h1.5M351.0 1331.7h1.5M350.9 1332.7h1.5M367.5 1351.7h1.5M364.2 1348.5h1.5M371.1 1347.8h1.5M353.0 1334.9h1.5M361.3 1339.0h1.5"/><path stroke="#8c5045" stroke-width="1" fill="none" d="M358.7 1338.8h1M355.5 1333.6h1M352.3 1333.1h1M365.7 1341.0h1M369.9 1353.9h1M370.5 1347.0h1M364.1 1346.2h1"/><path stroke="#7a3a30" stroke-width="2" fill="none" d="M356.7 1337.5h2M368.0 1351.1h2M354.8 1335.5h2M357.9 1339.1h2M367.6 1351.0h2M357.6 1338.3h2"/><path stroke="#7a3a30" stroke-width="1" fill="none" d="M371.3 1351.1h1M353.2 1334.0h1M351.5 1334.6h1M358.3 1334.1h1"/>
<g opacity="0.85"><path stroke="#2a7bb9" stroke-width="1.5" fill="none" d="M362.2 1401.8h1.5M352.0 1435.7h1.5M367.5 1422.0h1.5M339.4 1400.1h1.5M337.0 1419.4h1.5M321.5 1428.2h1.5M327.6 1428.9h1.5M363.9 1398.8h1.5M352.5 1399.8h1.5M380.8 1427.7h1.5M360.2 1464.1h1.5M332.7 1433.2h1.5M358.0 1409.5h1.5M383.4 1428.1h1.5"/><path stroke="#6a3a40" stroke-width="1" fill="none" d="M327.4 1449.6h1M323.8 1451.1h1M364.9 1390.9h1M335.3 1431.0h1M339.3 1459.2h1M385.7 1392.3h1M337.8 1460.9h1M325.0 1401.3h1M350.8 1438.5h1M382.0 1427.0h1M381.6 1399.5h1M357.6 1404.8h1M384.2 1461.4h1M331.4 1394.5h1M332.1 1456.8h1M325.0 1401.1h1M348.2 1447.4h1"/><path stroke="#ece5c8" stroke-width="1.5" fill="none" d="M374.8 1463.9h1.5M367.4 1412.6h1.5M364.0 1451.0h1.5M364.0 1448.4h1.5M354.1 1398.9h1.5M324.8 1402.7h1.5M362.9 1395.6h1.5M341.4 1409.3h1.5M344.8 1452.9h1.5M349.7 1441.6h1.5M319.3 1457.3h1.5M368.3 1430.5h1.5M380.7 1461.7h1.5M318.8 1438.7h1.5M363.1 1392.4h1.5M338.2 1438.9h1.5M322.6 1453.8h1.5M374.7 1431.2h1.5M353.0 1460.6h1.5M325.7 1407.1h1.5M345.2 1441.8h1.5M356.4 1404.6h1.5M318.7 1433.9h1.5M361.5 1444.5h1.5M355.5 1430.1h1.5"/><path stroke="#6a3a40" stroke-width="1.5" fill="none" d="M361.5 1440.6h1.5M318.6 1442.1h1.5M357.5 1394.9h1.5M366.9 1401.7h1.5M376.6 1408.4h1.5M337.9 1395.5h1.5M350.9 1459.4h1.5M361.5 1416.4h1.5M357.5 1424.2h1.5M329.8 1457.5h1.5M334.8 1449.3h1.5M378.7 1438.4h1.5M344.7 1461.0h1.5M385.7 1403.1h1.5M379.1 1445.6h1.5M322.8 1460.8h1.5M347.4 1438.8h1.5M324.3 1424.9h1.5"/><path stroke="#cd77b6" stroke-width="2" fill="none" d="M348.0 1443.0h2M352.2 1464.0h2M386.1 1446.1h2M331.5 1397.1h2M350.1 1459.6h2M365.5 1453.5h2M351.9 1395.3h2M340.8 1411.5h2M374.2 1403.3h2M321.7 1438.3h2"/><path stroke="#2a7bb9" stroke-width="2" fill="none" d="M333.6 1459.0h2M345.0 1460.0h2M354.3 1421.9h2M370.4 1456.4h2M361.8 1457.5h2"/><path stroke="#8c5045" stroke-width="1" fill="none" d="M346.3 1397.6h1M376.7 1414.9h1M348.6 1394.7h1M323.6 1391.4h1M384.8 1396.7h1M384.0 1447.0h1M368.5 1407.4h1M367.7 1410.4h1M366.6 1430.0h1M344.7 1425.8h1M334.3 1417.6h1M335.2 1396.2h1M348.6 1448.4h1M342.1 1414.6h1"/><path stroke="#8c5045" stroke-width="1.5" fill="none" d="M371.4 1452.1h1.5M381.9 1449.1h1.5M362.8 1438.1h1.5M376.9 1405.2h1.5M320.7 1455.1h1.5M351.0 1413.0h1.5M353.4 1430.6h1.5M344.5 1397.1h1.5M356.6 1408.2h1.5M321.4 1436.7h1.5M331.2 1465.0h1.5M318.5 1460.9h1.5"/><path stroke="#cd77b6" stroke-width="1.5" fill="none" d="M366.7 1407.3h1.5M323.6 1399.8h1.5M323.2 1425.4h1.5M328.2 1434.9h1.5M369.4 1439.3h1.5M351.4 1439.0h1.5M319.3 1448.9h1.5M332.7 1429.2h1.5"/><path stroke="#6a3a40" stroke-width="2" fill="none" d="M369.8 1440.7h2M353.3 1403.8h2M383.7 1433.1h2M375.6 1427.7h2M355.4 1462.9h2"/><path stroke="#ece5c8" stroke-width="1" fill="none" d="M368.8 1449.3h1M383.8 1436.9h1M385.8 1394.6h1M334.2 1433.1h1M355.5 1453.2h1M354.0 1449.2h1M344.8 1405.8h1M365.2 1463.9h1M329.2 1455.4h1"/><path stroke="#2a7bb9" stroke-width="1" fill="none" d="M358.2 1430.1h1M360.2 1463.4h1M345.0 1403.8h1M337.3 1415.6h1M337.3 1462.3h1M322.8 1409.6h1M323.1 1464.3h1M330.0 1451.5h1M364.7 1434.6h1M346.1 1456.7h1M370.9 1401.5h1M330.7 1459.9h1M346.8 1404.2h1"/><path stroke="#cd77b6" stroke-width="1" fill="none" d="M365.1 1417.0h1M368.0 1426.8h1M317.9 1408.9h1M379.6 1441.4h1M348.2 1456.0h1M364.1 1424.5h1M337.3 1408.8h1M366.0 1440.6h1M353.6 1463.0h1M372.7 1392.6h1M324.5 1447.8h1M384.0 1455.9h1"/><path stroke="#8c5045" stroke-width="2" fill="none" d="M383.9 1404.3h2M338.4 1403.1h2M371.2 1440.9h2M377.0 1415.0h2"/><path stroke="#ece5c8" stroke-width="2" fill="none" d="M365.5 1416.0h2M375.6 1410.3h2M348.7 1462.1h2M340.7 1428.7h2"/></g>
<ellipse cx="368" cy="1435" rx="9" ry="11" fill="#ece5c8" opacity="0.8"/>
<path stroke="#2a7bb9" stroke-width="1.5" fill="none" d="M368.9 1397.5h1.5M371.3 1401.8h1.5M373.3 1402.7h1.5M382.9 1409.3h1.5M372.2 1401.2h1.5"/><path stroke="#8c5045" stroke-width="2" fill="none" d="M385.3 1416.4h2"/><path stroke="#8c5045" stroke-width="1" fill="none" d="M380.4 1405.6h1M382.1 1405.5h1M383.0 1409.9h1"/><path stroke="#cd77b6" stroke-width="2" fill="none" d="M372.3 1399.7h2M375.3 1404.7h2"/><path stroke="#cd77b6" stroke-width="1.5" fill="none" d="M375.1 1408.9h1.5M373.4 1403.1h1.5M373.2 1400.2h1.5M373.7 1401.0h1.5M388.2 1418.5h1.5"/><path stroke="#cd77b6" stroke-width="1" fill="none" d="M383.0 1411.5h1M388.6 1415.3h1M391.7 1417.6h1M377.1 1408.5h1M379.3 1403.7h1"/><path stroke="#2a7bb9" stroke-width="1" fill="none" d="M370.3 1396.0h1M382.1 1408.4h1M370.7 1395.8h1M372.8 1402.4h1M377.1 1406.4h1M377.6 1407.3h1"/><path stroke="#8c5045" stroke-width="1.5" fill="none" d="M368.8 1395.8h1.5M386.5 1415.3h1.5M378.7 1410.7h1.5"/>
<path stroke="#2a6aa8" stroke-width="1.5" fill="none" d="M412.3 1398.8h1.5M412.5 1398.6h1.5M404.4 1385.6h1.5M418.0 1406.7h1.5M415.8 1401.4h1.5M408.8 1391.4h1.5M413.6 1398.8h1.5M415.7 1401.3h1.5M411.9 1394.8h1.5"/><path stroke="#2a7bb9" stroke-width="1.5" fill="none" d="M409.4 1388.0h1.5M408.7 1392.7h1.5M409.8 1393.2h1.5M407.1 1391.1h1.5M409.9 1394.1h1.5M418.6 1405.6h1.5M412.5 1395.3h1.5M408.3 1392.4h1.5"/><path stroke="#2a7bb9" stroke-width="1" fill="none" d="M416.4 1406.1h1"/><path stroke="#2a7bb9" stroke-width="2" fill="none" d="M408.6 1387.3h2"/><path stroke="#2a6aa8" stroke-width="2" fill="none" d="M404.8 1388.4h2"/>
<g opacity="0.85"><path stroke="#ece5c8" stroke-width="1.5" fill="none" d="M305.3 1554.5h1.5M321.7 1552.8h1.5"/><path stroke="#cd77b6" stroke-width="1.5" fill="none" d="M325.2 1553.6h1.5M314.1 1562.4h1.5M315.7 1565.5h1.5M328.5 1558.9h1.5"/><path stroke="#cd77b6" stroke-width="1" fill="none" d="M312.2 1559.7h1"/><path stroke="#ece5c8" stroke-width="1" fill="none" d="M315.0 1553.3h1M311.3 1555.1h1M328.7 1562.4h1M315.9 1554.3h1"/><path stroke="#8c5045" stroke-width="2" fill="none" d="M309.6 1563.1h2M315.4 1556.3h2"/><path stroke="#ece5c8" stroke-width="2" fill="none" d="M319.1 1553.0h2"/><path stroke="#8c5045" stroke-width="1.5" fill="none" d="M319.6 1561.4h1.5M316.1 1560.0h1.5"/><path stroke="#8c5045" stroke-width="1" fill="none" d="M310.5 1558.4h1M312.8 1561.5h1"/></g>
<circle cx="543.9" cy="1207.2" r="5.8" fill="#8c5045"/>
<text x="559.7" y="1211.0" font-size="15" text-anchor="start" fill="#111" >Prenatal</text>
<circle cx="543.9" cy="1230" r="5.8" fill="#cd77b6"/>
<text x="559.7" y="1235.0" font-size="15" text-anchor="start" fill="#111" >Pediatric</text>
<circle cx="543.9" cy="1252.8" r="5.8" fill="#2a7bb9"/>
<text x="559.7" y="1256.0" font-size="15" text-anchor="start" fill="#111" >Adult</text>
<circle cx="543.9" cy="1275.5" r="5.8" fill="#ece5c8"/>
<text x="559.7" y="1281.0" font-size="15" text-anchor="start" fill="#111" >Geriatric</text>
<text x="553.0" y="1405.0" font-size="24.5" text-anchor="start" fill="#231f20" >f</text>
<text x="718.5" y="1402.0" font-size="12.5" font-weight="bold" fill="#111" textLength="291.6" lengthAdjust="spacingAndGlyphs" >Cell type preferences across different age groups</text>
<circle cx="568" cy="1421.3" r="5.8" fill="#0e6b6b"/>
<text x="583.5" y="1426.0" font-size="10.9" text-anchor="start" fill="#111" >Depletion</text>
<circle cx="645.5" cy="1421.3" r="5.8" fill="#e8196e"/>
<text x="661.0" y="1426.0" font-size="10.9" text-anchor="start" fill="#111" >Enrichment</text>
<text x="744.5" y="1426.5" font-size="13.5" text-anchor="start" fill="#111" font-style="italic">R</text>
<text x="753.8" y="1431.0" font-size="7.5" text-anchor="start" fill="#111" >o/e</text>
<circle cx="785.3" cy="1421.8" r="0.7" fill="#000"/>
<text x="800.8" y="1425.6" font-size="10.9" text-anchor="start" fill="#111" >0</text>
<circle cx="822.7" cy="1421.8" r="4.3" fill="#000"/>
<text x="838.2" y="1425.6" font-size="10.9" text-anchor="start" fill="#111" >2</text>
<circle cx="859.8" cy="1421.8" r="6" fill="#000"/>
<text x="875.3" y="1425.6" font-size="10.9" text-anchor="start" fill="#111" >4</text>
<circle cx="897.3" cy="1421.8" r="7.3" fill="#000"/>
<text x="912.8" y="1425.6" font-size="10.9" text-anchor="start" fill="#111" >6</text>
<path d="M569.6 1440v109M588.3 1440v109M607.0 1440v109M625.7 1440v109M644.4 1440v109M663.1 1440v109M681.8 1440v109M700.5 1440v109M719.2 1440v109M737.9 1440v109M756.6 1440v109M775.3 1440v109M794.0 1440v109M812.7 1440v109M831.4 1440v109M850.1 1440v109M868.8 1440v109M887.5 1440v109M906.2 1440v109M924.9 1440v109M943.6 1440v109M962.3 1440v109M981.0 1440v109M999.7 1440v109M1018.4 1440v109M1037.1 1440v109M1055.8 1440v109M1074.5 1440v109M1093.2 1440v109M1111.9 1440v109M1130.6 1440v109M1149.3 1440v109M1168.0 1440v109M1186.7 1440v109M560 1454.9h637M560 1481.5h637M560 1508h637M560 1534.8h637" stroke="#d6d6d6" stroke-width="0.7" stroke-dasharray="1,2.5"/>
<circle cx="569.6" cy="1454.9" r="4.4" fill="#e8196e"/>
<circle cx="588.3" cy="1454.9" r="1.3" fill="#0e6b6b"/>
<circle cx="607.0" cy="1454.9" r="3.0" fill="#0e6b6b"/>
<circle cx="625.7" cy="1454.9" r="1.3" fill="#0e6b6b"/>
<circle cx="644.4" cy="1454.9" r="1.2" fill="#0e6b6b"/>
<circle cx="663.1" cy="1454.9" r="3.2" fill="#0e6b6b"/>
<circle cx="681.8" cy="1454.9" r="3.4" fill="#0e6b6b"/>
<circle cx="700.5" cy="1454.9" r="3.8" fill="#e8196e"/>
<circle cx="719.2" cy="1454.9" r="1.6" fill="#0e6b6b"/>
<circle cx="737.9" cy="1454.9" r="3.2" fill="#0e6b6b"/>
<circle cx="756.6" cy="1454.9" r="6.0" fill="#e8196e"/>
<circle cx="775.3" cy="1454.9" r="2.6" fill="#0e6b6b"/>
<circle cx="794.0" cy="1454.9" r="3.4" fill="#0e6b6b"/>
<circle cx="812.7" cy="1454.9" r="1.0" fill="#0e6b6b"/>
<circle cx="831.4" cy="1454.9" r="5.6" fill="#e8196e"/>
<circle cx="850.1" cy="1454.9" r="2.0" fill="#0e6b6b"/>
<circle cx="868.8" cy="1454.9" r="4.7" fill="#e8196e"/>
<circle cx="887.5" cy="1454.9" r="4.1" fill="#e8196e"/>
<circle cx="906.2" cy="1454.9" r="3.8" fill="#e8196e"/>
<circle cx="924.9" cy="1454.9" r="3.8" fill="#e8196e"/>
<circle cx="943.6" cy="1454.9" r="3.3" fill="#e8196e"/>
<circle cx="962.3" cy="1454.9" r="3.3" fill="#0e6b6b"/>
<circle cx="981.0" cy="1454.9" r="3.3" fill="#e8196e"/>
<circle cx="999.7" cy="1454.9" r="2.8" fill="#0e6b6b"/>
<circle cx="1018.4" cy="1454.9" r="2.8" fill="#0e6b6b"/>
<circle cx="1037.1" cy="1454.9" r="3.0" fill="#0e6b6b"/>
<circle cx="1055.8" cy="1454.9" r="3.3" fill="#0e6b6b"/>
<circle cx="1074.5" cy="1454.9" r="2.1" fill="#0e6b6b"/>
<circle cx="1093.2" cy="1454.9" r="3.3" fill="#e8196e"/>
<circle cx="1111.9" cy="1454.9" r="3.3" fill="#e8196e"/>
<circle cx="1130.6" cy="1454.9" r="3.3" fill="#e8196e"/>
<circle cx="1149.3" cy="1454.9" r="4.3" fill="#e8196e"/>
<circle cx="1168.0" cy="1454.9" r="3.3" fill="#0e6b6b"/>
<circle cx="1186.7" cy="1454.9" r="3.3" fill="#0e6b6b"/>
<circle cx="569.6" cy="1481.5" r="1.2" fill="#0e6b6b"/>
<circle cx="588.3" cy="1481.5" r="1.0" fill="#0e6b6b"/>
<circle cx="607.0" cy="1481.5" r="3.2" fill="#0e6b6b"/>
<circle cx="625.7" cy="1481.5" r="1.3" fill="#0e6b6b"/>
<circle cx="644.4" cy="1481.5" r="2.6" fill="#0e6b6b"/>
<circle cx="663.1" cy="1481.5" r="2.6" fill="#0e6b6b"/>
<circle cx="681.8" cy="1481.5" r="2.4" fill="#0e6b6b"/>
<circle cx="700.5" cy="1481.5" r="2.9" fill="#0e6b6b"/>
<circle cx="719.2" cy="1481.5" r="3.7" fill="#e8196e"/>
<circle cx="737.9" cy="1481.5" r="1.5" fill="#0e6b6b"/>
<circle cx="756.6" cy="1481.5" r="0.8" fill="#0e6b6b"/>
<circle cx="775.3" cy="1481.5" r="1.5" fill="#0e6b6b"/>
<circle cx="794.0" cy="1481.5" r="1.6" fill="#0e6b6b"/>
<circle cx="812.7" cy="1481.5" r="1.0" fill="#0e6b6b"/>
<circle cx="831.4" cy="1481.5" r="1.8" fill="#0e6b6b"/>
<circle cx="850.1" cy="1481.5" r="2.0" fill="#0e6b6b"/>
<circle cx="868.8" cy="1481.5" r="3.3" fill="#0e6b6b"/>
<circle cx="887.5" cy="1481.5" r="3.3" fill="#e8196e"/>
<circle cx="906.2" cy="1481.5" r="3.3" fill="#e8196e"/>
<circle cx="924.9" cy="1481.5" r="3.1" fill="#e8196e"/>
<circle cx="943.6" cy="1481.5" r="3.6" fill="#e8196e"/>
<circle cx="962.3" cy="1481.5" r="3.6" fill="#0e6b6b"/>
<circle cx="981.0" cy="1481.5" r="3.3" fill="#0e6b6b"/>
<circle cx="999.7" cy="1481.5" r="2.6" fill="#0e6b6b"/>
<circle cx="1018.4" cy="1481.5" r="2.8" fill="#0e6b6b"/>
<circle cx="1037.1" cy="1481.5" r="2.8" fill="#0e6b6b"/>
<circle cx="1055.8" cy="1481.5" r="3.1" fill="#e8196e"/>
<circle cx="1074.5" cy="1481.5" r="2.1" fill="#0e6b6b"/>
<circle cx="1093.2" cy="1481.5" r="3.3" fill="#e8196e"/>
<circle cx="1111.9" cy="1481.5" r="3.3" fill="#e8196e"/>
<circle cx="1130.6" cy="1481.5" r="3.3" fill="#0e6b6b"/>
<circle cx="1149.3" cy="1481.5" r="2.8" fill="#0e6b6b"/>
<circle cx="1168.0" cy="1481.5" r="2.8" fill="#0e6b6b"/>
<circle cx="1186.7" cy="1481.5" r="1.3" fill="#0e6b6b"/>
<circle cx="569.6" cy="1508" r="6.2" fill="#e8196e"/>
<circle cx="588.3" cy="1508" r="1.6" fill="#0e6b6b"/>
<circle cx="607.0" cy="1508" r="4.2" fill="#e8196e"/>
<circle cx="625.7" cy="1508" r="2.4" fill="#0e6b6b"/>
<circle cx="644.4" cy="1508" r="2.4" fill="#0e6b6b"/>
<circle cx="663.1" cy="1508" r="3.1" fill="#0e6b6b"/>
<circle cx="681.8" cy="1508" r="3.4" fill="#e8196e"/>
<circle cx="700.5" cy="1508" r="3.6" fill="#0e6b6b"/>
<circle cx="719.2" cy="1508" r="4.2" fill="#e8196e"/>
<circle cx="737.9" cy="1508" r="1.8" fill="#0e6b6b"/>
<circle cx="756.6" cy="1508" r="2.4" fill="#0e6b6b"/>
<circle cx="775.3" cy="1508" r="2.2" fill="#0e6b6b"/>
<circle cx="794.0" cy="1508" r="2.2" fill="#0e6b6b"/>
<circle cx="812.7" cy="1508" r="1.3" fill="#0e6b6b"/>
<circle cx="831.4" cy="1508" r="3.0" fill="#0e6b6b"/>
<circle cx="850.1" cy="1508" r="3.6" fill="#e8196e"/>
<circle cx="868.8" cy="1508" r="0.7" fill="#0e6b6b"/>
<circle cx="887.5" cy="1508" r="2.1" fill="#0e6b6b"/>
<circle cx="906.2" cy="1508" r="2.6" fill="#0e6b6b"/>
<circle cx="924.9" cy="1508" r="2.8" fill="#0e6b6b"/>
<circle cx="943.6" cy="1508" r="3.3" fill="#0e6b6b"/>
<circle cx="962.3" cy="1508" r="4.0" fill="#e8196e"/>
<circle cx="981.0" cy="1508" r="3.5" fill="#e8196e"/>
<circle cx="999.7" cy="1508" r="3.6" fill="#e8196e"/>
<circle cx="1018.4" cy="1508" r="3.6" fill="#e8196e"/>
<circle cx="1037.1" cy="1508" r="4.1" fill="#e8196e"/>
<circle cx="1055.8" cy="1508" r="3.6" fill="#e8196e"/>
<circle cx="1074.5" cy="1508" r="3.6" fill="#e8196e"/>
<circle cx="1093.2" cy="1508" r="3.6" fill="#0e6b6b"/>
<circle cx="1111.9" cy="1508" r="3.6" fill="#e8196e"/>
<circle cx="1130.6" cy="1508" r="3.3" fill="#e8196e"/>
<circle cx="1149.3" cy="1508" r="1.8" fill="#0e6b6b"/>
<circle cx="1168.0" cy="1508" r="3.3" fill="#e8196e"/>
<circle cx="1186.7" cy="1508" r="4.0" fill="#e8196e"/>
<circle cx="569.6" cy="1534.8" r="2.6" fill="#0e6b6b"/>
<circle cx="588.3" cy="1534.8" r="7.5" fill="#e8196e"/>
<circle cx="607.0" cy="1534.8" r="4.8" fill="#e8196e"/>
<circle cx="625.7" cy="1534.8" r="7.4" fill="#e8196e"/>
<circle cx="644.4" cy="1534.8" r="6.5" fill="#e8196e"/>
<circle cx="663.1" cy="1534.8" r="5.8" fill="#e8196e"/>
<circle cx="681.8" cy="1534.8" r="5.4" fill="#e8196e"/>
<circle cx="700.5" cy="1534.8" r="4.3" fill="#e8196e"/>
<circle cx="719.2" cy="1534.8" r="3.5" fill="#e8196e"/>
<circle cx="737.9" cy="1534.8" r="6.7" fill="#e8196e"/>
<circle cx="756.6" cy="1534.8" r="0.8" fill="#0e6b6b"/>
<circle cx="775.3" cy="1534.8" r="6.7" fill="#e8196e"/>
<circle cx="794.0" cy="1534.8" r="6.5" fill="#e8196e"/>
<circle cx="812.7" cy="1534.8" r="7.6" fill="#e8196e"/>
<circle cx="831.4" cy="1534.8" r="1.5" fill="#0e6b6b"/>
<circle cx="850.1" cy="1534.8" r="6.3" fill="#e8196e"/>
<circle cx="868.8" cy="1534.8" r="1.3" fill="#0e6b6b"/>
<circle cx="887.5" cy="1534.8" r="1.0" fill="#0e6b6b"/>
<circle cx="906.2" cy="1534.8" r="1.3" fill="#0e6b6b"/>
<circle cx="924.9" cy="1534.8" r="1.8" fill="#0e6b6b"/>
<circle cx="943.6" cy="1534.8" r="2.1" fill="#0e6b6b"/>
<circle cx="962.3" cy="1534.8" r="2.8" fill="#0e6b6b"/>
<circle cx="981.0" cy="1534.8" r="3.5" fill="#e8196e"/>
<circle cx="999.7" cy="1534.8" r="5.3" fill="#e8196e"/>
<circle cx="1018.4" cy="1534.8" r="4.7" fill="#e8196e"/>
<circle cx="1037.1" cy="1534.8" r="4.1" fill="#e8196e"/>
<circle cx="1055.8" cy="1534.8" r="3.2" fill="#0e6b6b"/>
<circle cx="1074.5" cy="1534.8" r="6.3" fill="#e8196e"/>
<circle cx="1093.2" cy="1534.8" r="2.5" fill="#0e6b6b"/>
<circle cx="1111.9" cy="1534.8" r="2.3" fill="#0e6b6b"/>
<circle cx="1130.6" cy="1534.8" r="3.2" fill="#0e6b6b"/>
<circle cx="1149.3" cy="1534.8" r="3.6" fill="#e8196e"/>
<circle cx="1168.0" cy="1534.8" r="4.6" fill="#e8196e"/>
<circle cx="1186.7" cy="1534.8" r="5.6" fill="#e8196e"/>
<rect x="559.2" y="1438.6" width="638.4" height="111.2" fill="none" stroke="#333" stroke-width="1.3"/>
<text x="553.0" y="1458.6" font-size="10.3" text-anchor="end" fill="#333" >Prenatal</text>
<text x="553.0" y="1485.2" font-size="10.3" text-anchor="end" fill="#333" >Pediatric</text>
<text x="553.0" y="1511.7" font-size="10.3" text-anchor="end" fill="#333" >Adult</text>
<text x="553.0" y="1538.5" font-size="10.3" text-anchor="end" fill="#333" >Geriatric</text>
<path d="M554.5 1454.9h4.7M554.5 1481.5h4.7M554.5 1508h4.7M554.5 1534.8h4.7M569.6 1549.8v4.5M588.3 1549.8v4.5M607.0 1549.8v4.5M625.7 1549.8v4.5M644.4 1549.8v4.5M663.1 1549.8v4.5M681.8 1549.8v4.5M700.5 1549.8v4.5M719.2 1549.8v4.5M737.9 1549.8v4.5M756.6 1549.8v4.5M775.3 1549.8v4.5M794.0 1549.8v4.5M812.7 1549.8v4.5M831.4 1549.8v4.5M850.1 1549.8v4.5M868.8 1549.8v4.5M887.5 1549.8v4.5M906.2 1549.8v4.5M924.9 1549.8v4.5M943.6 1549.8v4.5M962.3 1549.8v4.5M981.0 1549.8v4.5M999.7 1549.8v4.5M1018.4 1549.8v4.5M1037.1 1549.8v4.5M1055.8 1549.8v4.5M1074.5 1549.8v4.5M1093.2 1549.8v4.5M1111.9 1549.8v4.5M1130.6 1549.8v4.5M1149.3 1549.8v4.5M1168.0 1549.8v4.5M1186.7 1549.8v4.5" stroke="#333" stroke-width="1"/>
<text x="0.0" y="0.0" font-size="10.6" text-anchor="end" fill="#333" transform="translate(572.6,1559) rotate(-45)">Ery</text>
<text x="0.0" y="0.0" font-size="10.6" text-anchor="end" fill="#333" transform="translate(591.3,1559) rotate(-45)">B_naive</text>
<text x="0.0" y="0.0" font-size="10.6" text-anchor="end" fill="#333" transform="translate(610.0,1559) rotate(-45)">B_trans</text>
<text x="0.0" y="0.0" font-size="10.6" text-anchor="end" fill="#333" transform="translate(628.7,1559) rotate(-45)">B_memory</text>
<text x="0.0" y="0.0" font-size="10.6" text-anchor="end" fill="#333" transform="translate(647.4,1559) rotate(-45)">Plasma</text>
<text x="0.0" y="0.0" font-size="10.6" text-anchor="end" fill="#333" transform="translate(666.1,1559) rotate(-45)">Mono</text>
<text x="0.0" y="0.0" font-size="10.6" text-anchor="end" fill="#333" transform="translate(684.8,1559) rotate(-45)">Mac</text>
<text x="0.0" y="0.0" font-size="10.6" text-anchor="end" fill="#333" transform="translate(703.5,1559) rotate(-45)">DC</text>
<text x="0.0" y="0.0" font-size="10.6" text-anchor="end" fill="#333" transform="translate(722.2,1559) rotate(-45)">pDC</text>
<text x="0.0" y="0.0" font-size="10.6" text-anchor="end" fill="#333" transform="translate(740.9,1559) rotate(-45)">Fb</text>
<text x="0.0" y="0.0" font-size="10.6" text-anchor="end" fill="#333" transform="translate(759.6,1559) rotate(-45)">Fb_cycling</text>
<text x="0.0" y="0.0" font-size="10.6" text-anchor="end" fill="#333" transform="translate(778.3,1559) rotate(-45)">Endo</text>
<text x="0.0" y="0.0" font-size="10.6" text-anchor="end" fill="#333" transform="translate(797.0,1559) rotate(-45)">VSMC</text>
<text x="0.0" y="0.0" font-size="10.6" text-anchor="end" fill="#333" transform="translate(815.7,1559) rotate(-45)">Lymph</text>
<text x="0.0" y="0.0" font-size="10.6" text-anchor="end" fill="#333" transform="translate(834.4,1559) rotate(-45)">cTEC</text>
<text x="0.0" y="0.0" font-size="10.6" text-anchor="end" fill="#333" transform="translate(853.1,1559) rotate(-45)">mTEC</text>
<text x="0.0" y="0.0" font-size="10.6" text-anchor="end" fill="#333" transform="translate(871.8,1559) rotate(-45)">DN_early</text>
<text x="0.0" y="0.0" font-size="10.6" text-anchor="end" fill="#333" transform="translate(890.5,1559) rotate(-45)">DN_blast</text>
<text x="0.0" y="0.0" font-size="10.6" text-anchor="end" fill="#333" transform="translate(909.2,1559) rotate(-45)">DN_re</text>
<text x="0.0" y="0.0" font-size="10.6" text-anchor="end" fill="#333" transform="translate(927.9,1559) rotate(-45)">DP_blast</text>
<text x="0.0" y="0.0" font-size="10.6" text-anchor="end" fill="#333" transform="translate(946.6,1559) rotate(-45)">DP_re</text>
<text x="0.0" y="0.0" font-size="10.6" text-anchor="end" fill="#333" transform="translate(965.3,1559) rotate(-45)">abT(entry)</text>
<text x="0.0" y="0.0" font-size="10.6" text-anchor="end" fill="#333" transform="translate(984.0,1559) rotate(-45)">CD4T</text>
<text x="0.0" y="0.0" font-size="10.6" text-anchor="end" fill="#333" transform="translate(1002.7,1559) rotate(-45)">CD4T_mem</text>
<text x="0.0" y="0.0" font-size="10.6" text-anchor="end" fill="#333" transform="translate(1021.4,1559) rotate(-45)">Treg.diff</text>
<text x="0.0" y="0.0" font-size="10.6" text-anchor="end" fill="#333" transform="translate(1040.1,1559) rotate(-45)">Treg</text>
<text x="0.0" y="0.0" font-size="10.6" text-anchor="end" fill="#333" transform="translate(1058.8,1559) rotate(-45)">CD8T</text>
<text x="0.0" y="0.0" font-size="10.6" text-anchor="end" fill="#333" transform="translate(1077.5,1559) rotate(-45)">CD8T_mem</text>
<text x="0.0" y="0.0" font-size="10.6" text-anchor="end" fill="#333" transform="translate(1096.2,1559) rotate(-45)">CD8aa</text>
<text x="0.0" y="0.0" font-size="10.6" text-anchor="end" fill="#333" transform="translate(1114.9,1559) rotate(-45)">T_agonist</text>
<text x="0.0" y="0.0" font-size="10.6" text-anchor="end" fill="#333" transform="translate(1133.6,1559) rotate(-45)">T_apoptosis</text>
<text x="0.0" y="0.0" font-size="10.6" text-anchor="end" fill="#333" transform="translate(1152.3,1559) rotate(-45)">T_proliferating</text>
<text x="0.0" y="0.0" font-size="10.6" text-anchor="end" fill="#333" transform="translate(1171.0,1559) rotate(-45)">NKT</text>
<text x="0.0" y="0.0" font-size="10.6" text-anchor="end" fill="#333" transform="translate(1189.7,1559) rotate(-45)">ILC3</text>
</svg></body></html>
